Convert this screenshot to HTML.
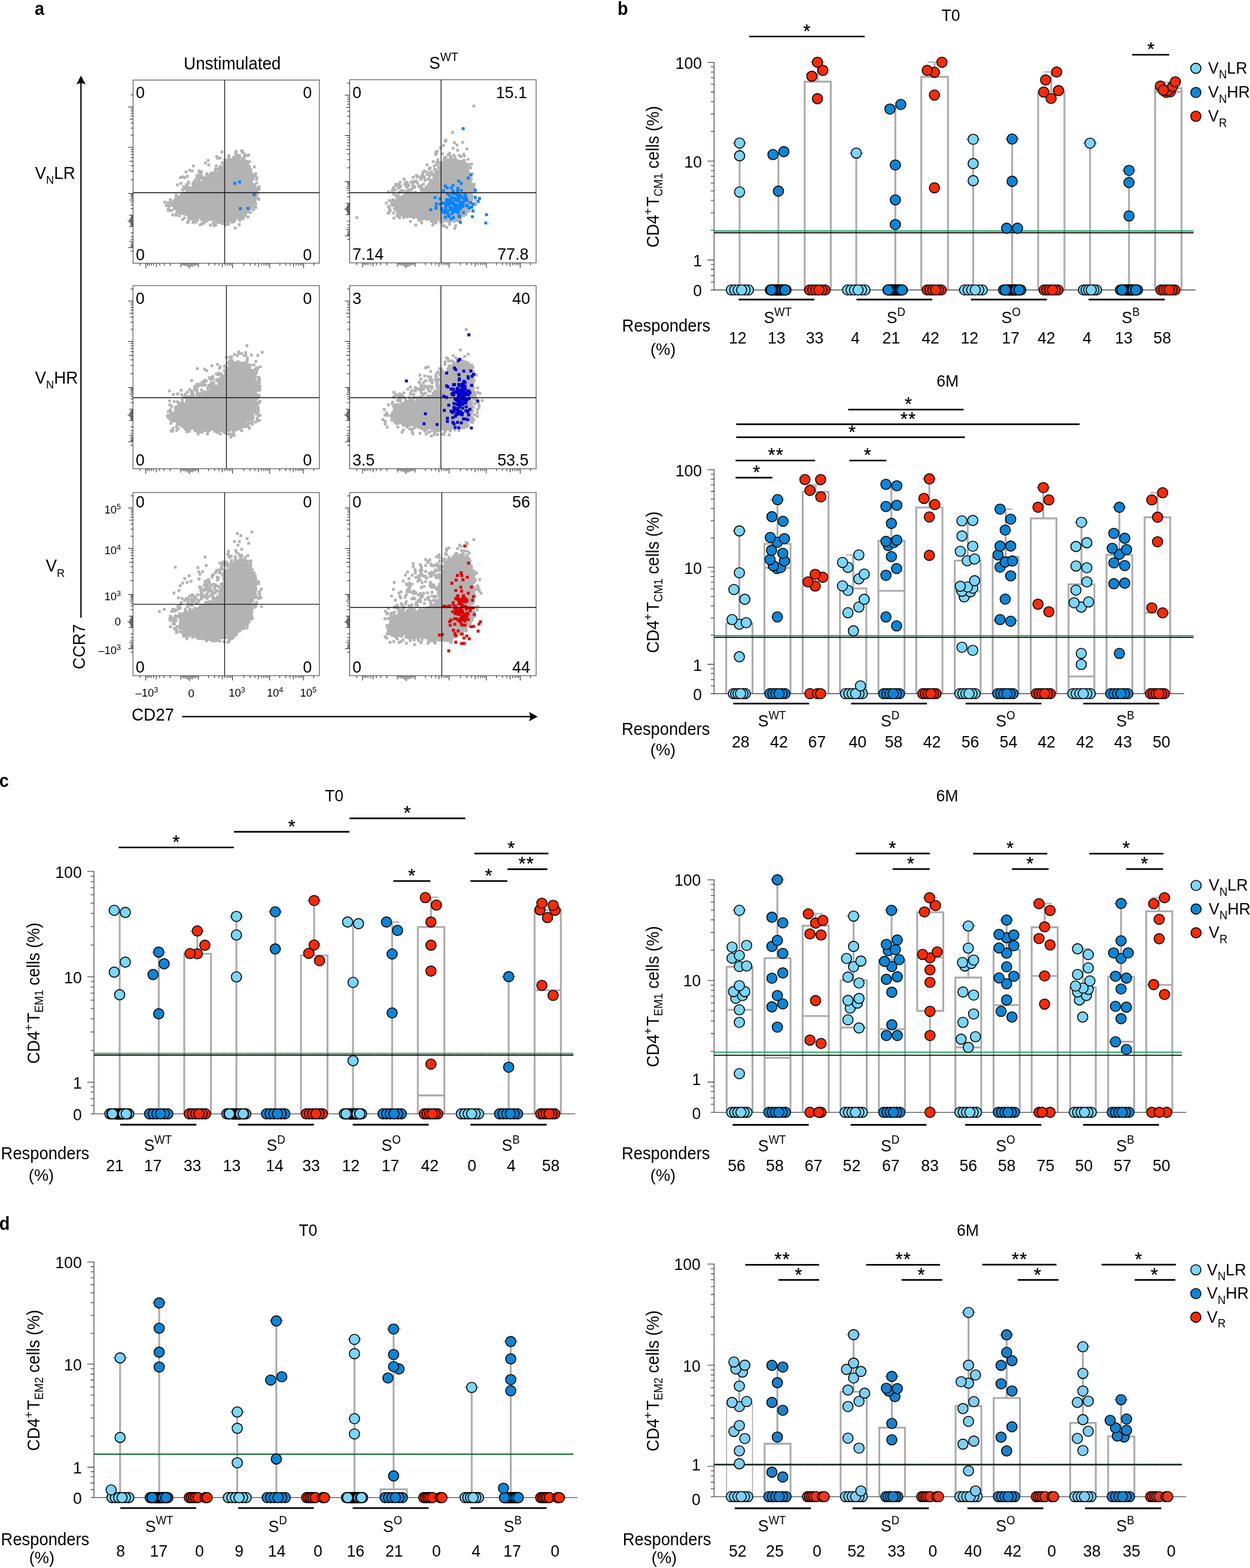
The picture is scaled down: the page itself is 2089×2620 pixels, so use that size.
<!DOCTYPE html>
<html lang="en"><head><meta charset="utf-8"><title>Figure</title>
<style>html,body{margin:0;padding:0;background:#fff}svg{display:block}text{font-family:'Liberation Sans', sans-serif;fill:#000}</style>
</head><body>
<svg width="2089" height="2620" viewBox="0 0 2089 2620">
<rect width="2089" height="2620" fill="#fff"/>
<text transform="translate(58 24.6) scale(0.9 0.98)" font-size="32" font-weight="bold">a</text>
<text transform="translate(1032 24.6) scale(0.9 0.98)" font-size="32" font-weight="bold">b</text>
<text transform="translate(-1.3 1314.6) scale(0.9 0.98)" font-size="32" font-weight="bold">c</text>
<text transform="translate(-1.3 2055) scale(0.9 0.98)" font-size="32" font-weight="bold">d</text>
<g id="f1">
<path d="M289.1 341.8L303.6 327.2L321.1 312.7L341.4 301.1L361.8 289.4L373.4 280.7L382.1 269.1L393.8 266.2L408.3 269.1L415.6 280.7L418.5 301.1L422.9 315.6L423.4 330.1L417.6 346.1L407.7 356.9L396.7 363.6L379.2 367.4L356 367.4L332.7 363.6L312.3 358.4L299.2 352ZM284.3 340.2h4.7v4.7h-4.7zM288.7 338.4h4.7v4.7h-4.7zM285.7 337.7h4.7v4.7h-4.7zM289.3 340h4.7v4.7h-4.7zM287.5 333.6h4.7v4.7h-4.7zM291.4 337.1h4.7v4.7h-4.7zM294.6 336.5h4.7v4.7h-4.7zM291.4 334h4.7v4.7h-4.7zM298.3 332.4h4.7v4.7h-4.7zM291.6 330.7h4.7v4.7h-4.7zM295 331.6h4.7v4.7h-4.7zM294.1 331.2h4.7v4.7h-4.7zM297 331.1h4.7v4.7h-4.7zM298.6 330.2h4.7v4.7h-4.7zM294.4 329.5h4.7v4.7h-4.7zM295.2 327.8h4.7v4.7h-4.7zM296.7 326.5h4.7v4.7h-4.7zM298.1 326.9h4.7v4.7h-4.7zM307.9 324.8h4.7v4.7h-4.7zM302.9 322.2h4.7v4.7h-4.7zM302.4 324.8h4.7v4.7h-4.7zM302.8 324.2h4.7v4.7h-4.7zM305 320h4.7v4.7h-4.7zM305.9 320.4h4.7v4.7h-4.7zM310.2 319.5h4.7v4.7h-4.7zM307.9 320.5h4.7v4.7h-4.7zM310.1 317.9h4.7v4.7h-4.7zM310.2 318.8h4.7v4.7h-4.7zM312.5 318.9h4.7v4.7h-4.7zM310.3 316.1h4.7v4.7h-4.7zM313.3 317.1h4.7v4.7h-4.7zM315 315.4h4.7v4.7h-4.7zM314.6 315.7h4.7v4.7h-4.7zM314 315.1h4.7v4.7h-4.7zM315.6 312.1h4.7v4.7h-4.7zM313.2 312.5h4.7v4.7h-4.7zM318.1 314.8h4.7v4.7h-4.7zM318.9 313.9h4.7v4.7h-4.7zM320.3 311.7h4.7v4.7h-4.7zM319.1 311.9h4.7v4.7h-4.7zM324.3 308.5h4.7v4.7h-4.7zM319.4 313.1h4.7v4.7h-4.7zM323.3 310h4.7v4.7h-4.7zM324.5 305.7h4.7v4.7h-4.7zM329.7 310.4h4.7v4.7h-4.7zM325.2 308.4h4.7v4.7h-4.7zM327.1 303.9h4.7v4.7h-4.7zM326.6 306.4h4.7v4.7h-4.7zM331.1 305.9h4.7v4.7h-4.7zM329 307.2h4.7v4.7h-4.7zM329.4 304.9h4.7v4.7h-4.7zM333.1 302.8h4.7v4.7h-4.7zM329.4 300.4h4.7v4.7h-4.7zM333.4 303.3h4.7v4.7h-4.7zM338.1 299h4.7v4.7h-4.7zM335 302.3h4.7v4.7h-4.7zM336.7 295.1h4.7v4.7h-4.7zM338.6 304.5h4.7v4.7h-4.7zM341.1 296.9h4.7v4.7h-4.7zM338.2 299.2h4.7v4.7h-4.7zM346.1 298.8h4.7v4.7h-4.7zM341.3 300.7h4.7v4.7h-4.7zM343 300.1h4.7v4.7h-4.7zM341.8 295.4h4.7v4.7h-4.7zM346.6 298.1h4.7v4.7h-4.7zM346.5 295.8h4.7v4.7h-4.7zM343.6 292.6h4.7v4.7h-4.7zM346 293h4.7v4.7h-4.7zM350.4 292.2h4.7v4.7h-4.7zM350.8 293.1h4.7v4.7h-4.7zM350.6 292h4.7v4.7h-4.7zM352.1 293.4h4.7v4.7h-4.7zM352.4 290.1h4.7v4.7h-4.7zM350.6 293.8h4.7v4.7h-4.7zM358.3 289h4.7v4.7h-4.7zM354.4 286.9h4.7v4.7h-4.7zM357.7 288.7h4.7v4.7h-4.7zM361.8 288.7h4.7v4.7h-4.7zM357.9 282.2h4.7v4.7h-4.7zM362.2 287.5h4.7v4.7h-4.7zM358.2 286h4.7v4.7h-4.7zM358.2 292.6h4.7v4.7h-4.7zM365.5 285.3h4.7v4.7h-4.7zM363 279.9h4.7v4.7h-4.7zM365 279.6h4.7v4.7h-4.7zM366.4 278.4h4.7v4.7h-4.7zM365.4 283.7h4.7v4.7h-4.7zM370.5 278.9h4.7v4.7h-4.7zM366.1 281.6h4.7v4.7h-4.7zM370.8 277.8h4.7v4.7h-4.7zM369.7 277h4.7v4.7h-4.7zM368.7 277h4.7v4.7h-4.7zM375 277.8h4.7v4.7h-4.7zM376.6 276.2h4.7v4.7h-4.7zM373.7 272.5h4.7v4.7h-4.7zM373.7 271.8h4.7v4.7h-4.7zM371.9 273.9h4.7v4.7h-4.7zM378.3 274.2h4.7v4.7h-4.7zM379.5 271.1h4.7v4.7h-4.7zM375.4 270.8h4.7v4.7h-4.7zM377.6 266.4h4.7v4.7h-4.7zM375 265.7h4.7v4.7h-4.7zM379.8 267h4.7v4.7h-4.7zM378.8 269.6h4.7v4.7h-4.7zM382.5 267.3h4.7v4.7h-4.7zM384.6 264.5h4.7v4.7h-4.7zM380.5 267.1h4.7v4.7h-4.7zM383.1 268.2h4.7v4.7h-4.7zM387.4 267h4.7v4.7h-4.7zM388.3 260.8h4.7v4.7h-4.7zM390.5 263h4.7v4.7h-4.7zM387.6 263.5h4.7v4.7h-4.7zM393 265.6h4.7v4.7h-4.7zM393.4 260.5h4.7v4.7h-4.7zM392.7 259.5h4.7v4.7h-4.7zM393.6 265.5h4.7v4.7h-4.7zM394.7 265.3h4.7v4.7h-4.7zM396.7 266.8h4.7v4.7h-4.7zM397.1 263.6h4.7v4.7h-4.7zM397.2 268.8h4.7v4.7h-4.7zM403.3 265.5h4.7v4.7h-4.7zM401.6 266h4.7v4.7h-4.7zM404 265.8h4.7v4.7h-4.7zM402.9 263.7h4.7v4.7h-4.7zM404.7 270h4.7v4.7h-4.7zM407 266.8h4.7v4.7h-4.7zM406.8 268.8h4.7v4.7h-4.7zM407.9 267.4h4.7v4.7h-4.7zM408.8 271.1h4.7v4.7h-4.7zM406.9 269h4.7v4.7h-4.7zM407.6 270.4h4.7v4.7h-4.7zM411.4 267.8h4.7v4.7h-4.7zM410.3 273.2h4.7v4.7h-4.7zM409.6 274.7h4.7v4.7h-4.7zM414.3 276.6h4.7v4.7h-4.7zM411.7 275.2h4.7v4.7h-4.7zM413 280.2h4.7v4.7h-4.7zM412.5 276.1h4.7v4.7h-4.7zM411 278.4h4.7v4.7h-4.7zM410.8 282.8h4.7v4.7h-4.7zM414.6 282.4h4.7v4.7h-4.7zM416.8 281.6h4.7v4.7h-4.7zM415.7 286.7h4.7v4.7h-4.7zM411.1 282h4.7v4.7h-4.7zM412.7 289.2h4.7v4.7h-4.7zM417.1 284.9h4.7v4.7h-4.7zM417 288.9h4.7v4.7h-4.7zM414.1 288.6h4.7v4.7h-4.7zM414.5 288.3h4.7v4.7h-4.7zM413.2 289.5h4.7v4.7h-4.7zM416.5 298.4h4.7v4.7h-4.7zM421 293.5h4.7v4.7h-4.7zM412.4 295.6h4.7v4.7h-4.7zM413.9 300.4h4.7v4.7h-4.7zM417.3 297.3h4.7v4.7h-4.7zM418 299.8h4.7v4.7h-4.7zM413.6 300.1h4.7v4.7h-4.7zM416.4 301.2h4.7v4.7h-4.7zM417.9 302.9h4.7v4.7h-4.7zM418 302.4h4.7v4.7h-4.7zM416.5 309h4.7v4.7h-4.7zM419.1 306.9h4.7v4.7h-4.7zM415.9 308.1h4.7v4.7h-4.7zM420.7 305.8h4.7v4.7h-4.7zM422 310h4.7v4.7h-4.7zM420.6 310.6h4.7v4.7h-4.7zM420.9 315.7h4.7v4.7h-4.7zM419.7 316.4h4.7v4.7h-4.7zM419 313.8h4.7v4.7h-4.7zM422 313.5h4.7v4.7h-4.7zM420 319.9h4.7v4.7h-4.7zM423.1 314.6h4.7v4.7h-4.7zM421.8 324.3h4.7v4.7h-4.7zM423.2 320h4.7v4.7h-4.7zM419.7 322.4h4.7v4.7h-4.7zM418.6 322.4h4.7v4.7h-4.7zM420.6 325.1h4.7v4.7h-4.7zM423.4 324.9h4.7v4.7h-4.7zM418.2 329.9h4.7v4.7h-4.7zM418.9 326.9h4.7v4.7h-4.7zM420 329.4h4.7v4.7h-4.7zM418.3 329.6h4.7v4.7h-4.7zM423.8 331.2h4.7v4.7h-4.7zM419.2 334.6h4.7v4.7h-4.7zM420.1 336.2h4.7v4.7h-4.7zM420.3 330.7h4.7v4.7h-4.7zM416 337.2h4.7v4.7h-4.7zM418.8 339.5h4.7v4.7h-4.7zM417.9 338.7h4.7v4.7h-4.7zM417 338.8h4.7v4.7h-4.7zM416.6 342.9h4.7v4.7h-4.7zM415.4 339.9h4.7v4.7h-4.7zM413.6 346h4.7v4.7h-4.7zM417.8 345.8h4.7v4.7h-4.7zM415.3 347.3h4.7v4.7h-4.7zM413.6 346.9h4.7v4.7h-4.7zM409.9 347h4.7v4.7h-4.7zM410.5 348.8h4.7v4.7h-4.7zM409.2 349h4.7v4.7h-4.7zM411.1 351.9h4.7v4.7h-4.7zM407.1 349.1h4.7v4.7h-4.7zM410.3 348.8h4.7v4.7h-4.7zM407.9 351.6h4.7v4.7h-4.7zM406.8 349.1h4.7v4.7h-4.7zM406.8 353.6h4.7v4.7h-4.7zM403.6 358.7h4.7v4.7h-4.7zM404.6 362.9h4.7v4.7h-4.7zM404 355.2h4.7v4.7h-4.7zM401.2 360.4h4.7v4.7h-4.7zM400.9 358.1h4.7v4.7h-4.7zM399.8 356.7h4.7v4.7h-4.7zM399 357.6h4.7v4.7h-4.7zM394.1 361.7h4.7v4.7h-4.7zM397.9 360.1h4.7v4.7h-4.7zM392.5 357.2h4.7v4.7h-4.7zM395.3 361h4.7v4.7h-4.7zM388.8 361.6h4.7v4.7h-4.7zM389.1 361.7h4.7v4.7h-4.7zM390.3 362.9h4.7v4.7h-4.7zM390.4 362.5h4.7v4.7h-4.7zM385.5 361.9h4.7v4.7h-4.7zM386.8 362.2h4.7v4.7h-4.7zM386.1 364.4h4.7v4.7h-4.7zM388.9 358h4.7v4.7h-4.7zM384.2 363.2h4.7v4.7h-4.7zM388 365.5h4.7v4.7h-4.7zM377.9 364.9h4.7v4.7h-4.7zM380.2 366.1h4.7v4.7h-4.7zM377 364.4h4.7v4.7h-4.7zM378.8 364.4h4.7v4.7h-4.7zM375.7 361.4h4.7v4.7h-4.7zM377.8 367h4.7v4.7h-4.7zM374.4 363h4.7v4.7h-4.7zM375 366.2h4.7v4.7h-4.7zM371.9 365h4.7v4.7h-4.7zM375 362.8h4.7v4.7h-4.7zM368.8 361.2h4.7v4.7h-4.7zM368.5 363.5h4.7v4.7h-4.7zM365.7 363.6h4.7v4.7h-4.7zM371.2 364.6h4.7v4.7h-4.7zM365 369.4h4.7v4.7h-4.7zM365.1 361.6h4.7v4.7h-4.7zM363.7 363.2h4.7v4.7h-4.7zM366.2 362.5h4.7v4.7h-4.7zM359.4 361.8h4.7v4.7h-4.7zM360.8 363h4.7v4.7h-4.7zM358.1 364.3h4.7v4.7h-4.7zM357 366.9h4.7v4.7h-4.7zM357.8 365.2h4.7v4.7h-4.7zM354.1 362.9h4.7v4.7h-4.7zM354.2 369.8h4.7v4.7h-4.7zM352.7 363.5h4.7v4.7h-4.7zM349.9 362.5h4.7v4.7h-4.7zM349.3 364.2h4.7v4.7h-4.7zM351.8 364.3h4.7v4.7h-4.7zM347.9 361h4.7v4.7h-4.7zM347.1 363.8h4.7v4.7h-4.7zM344.2 361.7h4.7v4.7h-4.7zM344.2 365.5h4.7v4.7h-4.7zM345.6 363.9h4.7v4.7h-4.7zM341.3 363.8h4.7v4.7h-4.7zM342 367.5h4.7v4.7h-4.7zM337.4 362h4.7v4.7h-4.7zM342.2 362.2h4.7v4.7h-4.7zM340.2 362.3h4.7v4.7h-4.7zM337.6 361.6h4.7v4.7h-4.7zM332.2 360.1h4.7v4.7h-4.7zM339.4 363.3h4.7v4.7h-4.7zM333.9 363.5h4.7v4.7h-4.7zM333.8 363.7h4.7v4.7h-4.7zM329.8 360.8h4.7v4.7h-4.7zM332.3 360.5h4.7v4.7h-4.7zM325.4 360.2h4.7v4.7h-4.7zM327 361.9h4.7v4.7h-4.7zM324.4 358h4.7v4.7h-4.7zM325.2 363.2h4.7v4.7h-4.7zM323.5 359.8h4.7v4.7h-4.7zM323.6 360.1h4.7v4.7h-4.7zM323.2 361.7h4.7v4.7h-4.7zM318 361.6h4.7v4.7h-4.7zM319 357.7h4.7v4.7h-4.7zM323.8 358h4.7v4.7h-4.7zM320.7 359.7h4.7v4.7h-4.7zM314.7 358.7h4.7v4.7h-4.7zM316 356.9h4.7v4.7h-4.7zM309.9 356.5h4.7v4.7h-4.7zM311.9 354.4h4.7v4.7h-4.7zM315.9 356.1h4.7v4.7h-4.7zM309.2 355.4h4.7v4.7h-4.7zM308.4 354.5h4.7v4.7h-4.7zM308 355.6h4.7v4.7h-4.7zM306.8 354.8h4.7v4.7h-4.7zM302.8 354.9h4.7v4.7h-4.7zM304.1 354.3h4.7v4.7h-4.7zM301.6 351.8h4.7v4.7h-4.7zM303.9 350.4h4.7v4.7h-4.7zM306.2 351.7h4.7v4.7h-4.7zM301.1 350.3h4.7v4.7h-4.7zM302.3 353.4h4.7v4.7h-4.7zM299.7 347.9h4.7v4.7h-4.7zM295.9 350.8h4.7v4.7h-4.7zM295.9 347.2h4.7v4.7h-4.7zM292.8 346.4h4.7v4.7h-4.7zM295.2 346.6h4.7v4.7h-4.7zM293.5 351.8h4.7v4.7h-4.7zM297 344.1h4.7v4.7h-4.7zM292.5 344.7h4.7v4.7h-4.7zM291.5 346.6h4.7v4.7h-4.7zM289.4 342.2h4.7v4.7h-4.7zM289.4 342.6h4.7v4.7h-4.7zM291 342.7h4.7v4.7h-4.7zM285.7 340.2h4.7v4.7h-4.7zM406.3 259h4.7v4.7h-4.7zM415.3 281.8h4.7v4.7h-4.7zM330.7 296.8h4.7v4.7h-4.7zM398.2 260.3h4.7v4.7h-4.7zM390.1 366.9h4.7v4.7h-4.7zM385.5 369h4.7v4.7h-4.7zM290.5 334.1h4.7v4.7h-4.7zM365.6 368.3h4.7v4.7h-4.7zM367.3 278.6h4.7v4.7h-4.7zM425.3 312.4h4.7v4.7h-4.7zM369.1 269.8h4.7v4.7h-4.7zM296.3 350.1h4.7v4.7h-4.7zM338.9 369.3h4.7v4.7h-4.7zM297.4 358.2h4.7v4.7h-4.7zM404.5 261.3h4.7v4.7h-4.7zM287.3 338h4.7v4.7h-4.7zM333.9 292.6h4.7v4.7h-4.7zM423.3 331.3h4.7v4.7h-4.7zM420.8 296.5h4.7v4.7h-4.7zM291.8 357.2h4.7v4.7h-4.7zM415.7 280.8h4.7v4.7h-4.7zM359.8 259.2h4.7v4.7h-4.7zM278.2 337.1h4.7v4.7h-4.7zM425.6 327.8h4.7v4.7h-4.7zM362.7 367.7h4.7v4.7h-4.7zM416.8 291.2h4.7v4.7h-4.7zM362.8 367.5h4.7v4.7h-4.7zM358.2 373.7h4.7v4.7h-4.7zM302.8 364.5h4.7v4.7h-4.7zM289.1 344.3h4.7v4.7h-4.7zM422.2 307.5h4.7v4.7h-4.7zM300.9 322h4.7v4.7h-4.7zM309.9 313.3h4.7v4.7h-4.7zM286.3 356.7h4.7v4.7h-4.7zM391.3 254.4h4.7v4.7h-4.7zM414.6 267.8h4.7v4.7h-4.7zM319.9 304.8h4.7v4.7h-4.7zM366.7 365.3h4.7v4.7h-4.7zM306.5 310.5h4.7v4.7h-4.7zM330.2 285.2h4.7v4.7h-4.7zM419.9 342.9h4.7v4.7h-4.7zM387.9 368h4.7v4.7h-4.7zM323.7 299.6h4.7v4.7h-4.7zM379.4 369.6h4.7v4.7h-4.7zM347.2 291.9h4.7v4.7h-4.7zM353.3 289.7h4.7v4.7h-4.7zM327.6 365.3h4.7v4.7h-4.7zM357.6 280.3h4.7v4.7h-4.7zM288.5 341.5h4.7v4.7h-4.7zM407 357.7h4.7v4.7h-4.7zM280 342.6h4.7v4.7h-4.7zM312.4 313.2h4.7v4.7h-4.7zM330.7 283.2h4.7v4.7h-4.7zM312.2 368.3h4.7v4.7h-4.7zM364.4 279h4.7v4.7h-4.7zM423.8 291.4h4.7v4.7h-4.7zM370.8 365.4h4.7v4.7h-4.7zM405.6 264.6h4.7v4.7h-4.7zM370.9 367.3h4.7v4.7h-4.7zM422.7 329.1h4.7v4.7h-4.7zM321.8 302.7h4.7v4.7h-4.7zM317.7 363.5h4.7v4.7h-4.7zM312.4 304.3h4.7v4.7h-4.7zM390.8 260.2h4.7v4.7h-4.7zM292.1 323.6h4.7v4.7h-4.7zM427.4 318h4.7v4.7h-4.7zM426.4 303.4h4.7v4.7h-4.7zM419.2 292.3h4.7v4.7h-4.7zM331.7 290.4h4.7v4.7h-4.7zM392.8 256.2h4.7v4.7h-4.7zM281.2 349.2h4.7v4.7h-4.7zM420.5 332.9h4.7v4.7h-4.7zM420.7 313.9h4.7v4.7h-4.7zM289 346.4h4.7v4.7h-4.7zM365.9 275.7h4.7v4.7h-4.7zM364.2 282.9h4.7v4.7h-4.7zM424.3 343.3h4.7v4.7h-4.7zM314.5 281.9h4.7v4.7h-4.7zM358.1 282.5h4.7v4.7h-4.7zM309.5 308.5h4.7v4.7h-4.7zM422.6 335.3h4.7v4.7h-4.7zM427.8 322.7h4.7v4.7h-4.7zM370.3 371.4h4.7v4.7h-4.7zM355.2 374.8h4.7v4.7h-4.7zM401.4 249.4h4.7v4.7h-4.7zM337.4 293.2h4.7v4.7h-4.7zM313 364.1h4.7v4.7h-4.7zM284.7 349.2h4.7v4.7h-4.7zM380.7 364.8h4.7v4.7h-4.7zM424 308.7h4.7v4.7h-4.7zM356.4 373.2h4.7v4.7h-4.7zM346.6 273.2h4.7v4.7h-4.7zM325.4 368.9h4.7v4.7h-4.7zM423.5 313.4h4.7v4.7h-4.7zM318.7 359.4h4.7v4.7h-4.7zM311.2 369.6h4.7v4.7h-4.7zM282.5 336.6h4.7v4.7h-4.7zM397.8 363.6h4.7v4.7h-4.7zM423.1 332.9h4.7v4.7h-4.7zM333.7 295.5h4.7v4.7h-4.7zM297.9 353.4h4.7v4.7h-4.7zM310.8 292.1h4.7v4.7h-4.7zM424 333h4.7v4.7h-4.7zM279.6 342.3h4.7v4.7h-4.7zM336 365.4h4.7v4.7h-4.7zM370.3 278.2h4.7v4.7h-4.7zM377.3 268.7h4.7v4.7h-4.7zM348 290.3h4.7v4.7h-4.7zM365.5 261.7h4.7v4.7h-4.7zM410.1 257.5h4.7v4.7h-4.7zM275.5 340.5h4.7v4.7h-4.7zM329.1 296.4h4.7v4.7h-4.7zM318.9 283.4h4.7v4.7h-4.7zM398.3 366.1h4.7v4.7h-4.7zM321.7 362.1h4.7v4.7h-4.7zM425.4 322.4h4.7v4.7h-4.7zM393.5 256.8h4.7v4.7h-4.7zM313.7 357.6h4.7v4.7h-4.7zM380.1 257.9h4.7v4.7h-4.7zM368.4 369.2h4.7v4.7h-4.7zM303.1 293.2h4.7v4.7h-4.7zM385.2 368.1h4.7v4.7h-4.7zM282.1 331.6h4.7v4.7h-4.7zM323 301.3h4.7v4.7h-4.7zM370.8 270.5h4.7v4.7h-4.7zM290.2 333.2h4.7v4.7h-4.7zM388.7 365h4.7v4.7h-4.7zM343.3 287.9h4.7v4.7h-4.7zM414.3 277.2h4.7v4.7h-4.7zM295.2 351.4h4.7v4.7h-4.7zM416.2 352.8h4.7v4.7h-4.7zM320.3 369.3h4.7v4.7h-4.7zM423.9 330.2h4.7v4.7h-4.7zM419.6 288.9h4.7v4.7h-4.7zM292.3 355h4.7v4.7h-4.7zM361.3 262h4.7v4.7h-4.7zM407.4 354.4h4.7v4.7h-4.7zM304.7 309.8h4.7v4.7h-4.7zM380.2 263.2h4.7v4.7h-4.7zM320.6 308.4h4.7v4.7h-4.7zM332.6 284.6h4.7v4.7h-4.7zM332.2 373.4h4.7v4.7h-4.7zM321.3 364.9h4.7v4.7h-4.7zM412.8 351h4.7v4.7h-4.7zM379.7 263.6h4.7v4.7h-4.7zM415.8 283.7h4.7v4.7h-4.7zM407.9 356.7h4.7v4.7h-4.7zM406.2 255h4.7v4.7h-4.7zM418.2 337.8h4.7v4.7h-4.7zM328.8 293.7h4.7v4.7h-4.7zM417.9 336.7h4.7v4.7h-4.7zM430.6 309.4h4.7v4.7h-4.7zM292.1 327.5h4.7v4.7h-4.7zM415.4 287.4h4.7v4.7h-4.7zM276.6 340.9h4.7v4.7h-4.7zM290.8 343.6h4.7v4.7h-4.7zM356.3 285.3h4.7v4.7h-4.7zM425 288h4.7v4.7h-4.7zM286.5 340.1h4.7v4.7h-4.7zM422.8 276.6h4.7v4.7h-4.7zM290.5 333.4h4.7v4.7h-4.7zM306.7 294.5h4.7v4.7h-4.7zM424.5 315.5h4.7v4.7h-4.7zM337.6 371.1h4.7v4.7h-4.7zM401.3 363.3h4.7v4.7h-4.7zM424.8 325.5h4.7v4.7h-4.7zM294.9 348.1h4.7v4.7h-4.7zM421.8 330.7h4.7v4.7h-4.7zM360.6 280.1h4.7v4.7h-4.7zM300.7 352.6h4.7v4.7h-4.7zM427.3 312.2h4.7v4.7h-4.7zM350.2 287h4.7v4.7h-4.7zM309.2 306.5h4.7v4.7h-4.7zM313.1 361.9h4.7v4.7h-4.7zM417.8 337.4h4.7v4.7h-4.7zM359 274.9h4.7v4.7h-4.7zM301.7 322.7h4.7v4.7h-4.7zM419.6 339.3h4.7v4.7h-4.7zM312.7 302.1h4.7v4.7h-4.7zM372.9 264.7h4.7v4.7h-4.7zM426.5 297.4h4.7v4.7h-4.7zM279.4 349.6h4.7v4.7h-4.7zM383.6 365.2h4.7v4.7h-4.7zM322.4 307.9h4.7v4.7h-4.7zM403.9 358.4h4.7v4.7h-4.7zM411.9 272.8h4.7v4.7h-4.7zM425 338.2h4.7v4.7h-4.7zM423.2 310.4h4.7v4.7h-4.7zM313 310.8h4.7v4.7h-4.7zM416 294.8h4.7v4.7h-4.7zM325.7 296.6h4.7v4.7h-4.7zM379.4 372.4h4.7v4.7h-4.7zM380.1 261.4h4.7v4.7h-4.7zM355.5 287.3h4.7v4.7h-4.7zM422.7 319.9h4.7v4.7h-4.7zM305.5 313.3h4.7v4.7h-4.7zM420.5 334.2h4.7v4.7h-4.7zM290.9 346.7h4.7v4.7h-4.7zM389.4 263.8h4.7v4.7h-4.7zM392.3 250.5h4.7v4.7h-4.7zM398 257.5h4.7v4.7h-4.7zM326.7 291.2h4.7v4.7h-4.7zM280 348.6h4.7v4.7h-4.7zM336 295.1h4.7v4.7h-4.7zM421.3 330.5h4.7v4.7h-4.7zM360.6 279.9h4.7v4.7h-4.7zM299.9 304.1h4.7v4.7h-4.7zM357.6 372.5h4.7v4.7h-4.7zM302.6 314.9h4.7v4.7h-4.7zM425.2 344.2h4.7v4.7h-4.7zM402.5 265.4h4.7v4.7h-4.7zM374.6 373.9h4.7v4.7h-4.7zM388.1 261.2h4.7v4.7h-4.7zM322.5 303.5h4.7v4.7h-4.7zM292.5 329.9h4.7v4.7h-4.7zM294.1 306.5h4.7v4.7h-4.7zM291 330.5h4.7v4.7h-4.7zM376.8 370.6h4.7v4.7h-4.7zM382 365.5h4.7v4.7h-4.7zM429.7 329.4h4.7v4.7h-4.7zM328 291.3h4.7v4.7h-4.7zM397.4 373h4.7v4.7h-4.7zM341 269.9h4.7v4.7h-4.7zM337.9 367.9h4.7v4.7h-4.7zM412.1 360.3h4.7v4.7h-4.7zM334.5 285.2h4.7v4.7h-4.7zM421.6 348.2h4.7v4.7h-4.7zM360.1 369.1h4.7v4.7h-4.7zM323.4 368.5h4.7v4.7h-4.7zM402.8 252.3h4.7v4.7h-4.7zM300.7 323.7h4.7v4.7h-4.7zM426 313.4h4.7v4.7h-4.7zM290.3 344.9h4.7v4.7h-4.7zM422.5 307h4.7v4.7h-4.7zM353.9 287.3h4.7v4.7h-4.7zM293 330h4.7v4.7h-4.7zM330.1 294.2h4.7v4.7h-4.7zM418.9 307.1h4.7v4.7h-4.7zM333.2 289.1h4.7v4.7h-4.7zM320.8 303.8h4.7v4.7h-4.7zM305.9 361.9h4.7v4.7h-4.7zM414.9 280h4.7v4.7h-4.7zM273 335.4h4.7v4.7h-4.7zM278.6 347.6h4.7v4.7h-4.7zM299.5 294.3h4.7v4.7h-4.7zM308.5 285h4.7v4.7h-4.7zM321 274.9h4.7v4.7h-4.7zM345.5 265.8h4.7v4.7h-4.7zM368.7 251.6h4.7v4.7h-4.7zM403.1 250.7h4.7v4.7h-4.7zM413.2 257.1h4.7v4.7h-4.7zM426.9 294.3h4.7v4.7h-4.7zM430.7 313.8h4.7v4.7h-4.7zM430.1 330.7h4.7v4.7h-4.7zM390.8 378.7h4.7v4.7h-4.7zM349.2 373.8h4.7v4.7h-4.7zM334.7 371.4h4.7v4.7h-4.7z" fill="#b3b3b3"/>
<path d="M389.9 303.8h4.9v4.9h-4.9zM398 301.5h4.9v4.9h-4.9zM422.4 322.8h4.9v4.9h-4.9zM399.2 346h4.9v4.9h-4.9zM412 345.7h4.9v4.9h-4.9z" fill="#0a84ff"/>
<rect x="222.4" y="133.8" width="311.3" height="306.1" fill="none" stroke="#444" stroke-width="1.1"/>
<path d="M375.5 133.8V439.9M222.4 322H533.7" stroke="#111" stroke-width="1.3" fill="none"/>
<path d="M243.8 439.9v8M388.7 439.9v8M450.8 439.9v8M507.4 439.9v8M302.1 439.9v6.5M331.8 439.9v6.5M407.4 439.9v4M418.3 439.9v4M426.1 439.9v4M432.1 439.9v6M437 439.9v4M441.2 439.9v4M444.8 439.9v4M448 439.9v4M467.8 439.9v4M477.8 439.9v4M484.9 439.9v4M490.4 439.9v6M494.8 439.9v4M498.6 439.9v4M501.9 439.9v4M504.8 439.9v4M348.9 439.9v4M358.9 439.9v4M366.1 439.9v4M371.6 439.9v6M376.1 439.9v4M379.9 439.9v4M383.2 439.9v4M386.1 439.9v4M284.5 439.9v4M274.3 439.9v4M267 439.9v4M261.4 439.9v6M256.7 439.9v4M252.8 439.9v4M249.4 439.9v4M246.5 439.9v4M524.4 439.9v4M234.1 439.9v4M304.5 439.9v3.5M307 439.9v4.3M309.4 439.9v4.3M311.9 439.9v5.3M314.4 439.9v6.7M316.9 439.9v9M319.4 439.9v5.9M321.9 439.9v5.9M324.4 439.9v4.3M326.8 439.9v4.1M329.3 439.9v3.5M222.4 413.8h-8M222.4 323.3h-8M222.4 246.2h-8M222.4 178.8h-8M222.4 378.4h-6.5M222.4 359.5h-6.5M222.4 300.1h-4M222.4 286.5h-4M222.4 276.9h-4M222.4 269.4h-6M222.4 263.3h-4M222.4 258.1h-4M222.4 253.7h-4M222.4 249.7h-4M222.4 225.9h-4M222.4 214h-4M222.4 205.6h-4M222.4 199.1h-6M222.4 193.8h-4M222.4 189.2h-4M222.4 185.3h-4M222.4 181.9h-4M222.4 348.6h-4M222.4 342.2h-4M222.4 337.7h-4M222.4 334.2h-6M222.4 331.3h-4M222.4 328.9h-4M222.4 326.8h-4M222.4 325h-4M222.4 389.1h-4M222.4 395.3h-4M222.4 399.7h-4M222.4 403.1h-6M222.4 405.9h-4M222.4 408.3h-4M222.4 410.4h-4M222.4 412.2h-4M222.4 158.5h-4M222.4 419.7h-4M222.4 376.9h-3.5M222.4 375.3h-4.3M222.4 373.8h-4.3M222.4 372.2h-5.3M222.4 370.6h-6.7M222.4 369h-9M222.4 367.4h-5.9M222.4 365.8h-5.9M222.4 364.2h-4.3M222.4 362.7h-4.1M222.4 361.1h-3.5" stroke="#111" stroke-width="1" fill="none"/>
<text transform="translate(226.9 164.1) scale(1 1.05)" font-size="26.9">0</text>
<text transform="translate(521.2 164.1) scale(1 1.05)" font-size="26.9" text-anchor="end">0</text>
<text transform="translate(226.9 434.7) scale(1 1.05)" font-size="26.9">0</text>
<text transform="translate(521.2 434.7) scale(1 1.05)" font-size="26.9" text-anchor="end">0</text>
</g>
<g id="f2">
<path d="M658.9 341.8L664.7 333.1L679.3 327.2L699.6 322.9L717.1 312.7L728.7 295.2L734.5 279.2L749.1 269.1L769.4 270.5L779.6 280.7L782.5 301.1L785.4 321.4L786.9 341.8L779.6 350.5L769.4 357.8L757.8 365L740.3 368L722.9 368L699.6 362.7L682.2 359.8L666.2 354.9ZM653.7 339.9h4.7v4.7h-4.7zM656 338.5h4.7v4.7h-4.7zM659.9 337.4h4.7v4.7h-4.7zM657.5 340.9h4.7v4.7h-4.7zM658.5 332.5h4.7v4.7h-4.7zM656.7 334h4.7v4.7h-4.7zM662.2 334.6h4.7v4.7h-4.7zM663.2 336.6h4.7v4.7h-4.7zM665.8 332h4.7v4.7h-4.7zM665.1 332.1h4.7v4.7h-4.7zM663.4 331.6h4.7v4.7h-4.7zM664.7 329.5h4.7v4.7h-4.7zM670.6 330.7h4.7v4.7h-4.7zM665.6 329h4.7v4.7h-4.7zM673.4 327.8h4.7v4.7h-4.7zM670.2 329.6h4.7v4.7h-4.7zM671.8 328.7h4.7v4.7h-4.7zM669.8 326.6h4.7v4.7h-4.7zM672.5 325.9h4.7v4.7h-4.7zM674.5 329.8h4.7v4.7h-4.7zM673.1 326.9h4.7v4.7h-4.7zM673 324.4h4.7v4.7h-4.7zM676.5 325.2h4.7v4.7h-4.7zM676.1 319.7h4.7v4.7h-4.7zM682.1 324h4.7v4.7h-4.7zM678 325.9h4.7v4.7h-4.7zM680.3 321.1h4.7v4.7h-4.7zM682.5 324.9h4.7v4.7h-4.7zM682.1 325.2h4.7v4.7h-4.7zM684.6 321.2h4.7v4.7h-4.7zM689.6 323.6h4.7v4.7h-4.7zM683.8 324h4.7v4.7h-4.7zM688.6 324.5h4.7v4.7h-4.7zM685.6 324.7h4.7v4.7h-4.7zM692.5 323.5h4.7v4.7h-4.7zM691.8 324.8h4.7v4.7h-4.7zM694.3 321.9h4.7v4.7h-4.7zM691.2 323.9h4.7v4.7h-4.7zM697.1 321.7h4.7v4.7h-4.7zM695.4 322.6h4.7v4.7h-4.7zM692.3 321.3h4.7v4.7h-4.7zM692.3 321.1h4.7v4.7h-4.7zM701.5 323.3h4.7v4.7h-4.7zM698.4 320.4h4.7v4.7h-4.7zM701.1 313.9h4.7v4.7h-4.7zM702.7 318.3h4.7v4.7h-4.7zM703.3 315.3h4.7v4.7h-4.7zM703.1 317.4h4.7v4.7h-4.7zM707.7 316.7h4.7v4.7h-4.7zM712.2 315.3h4.7v4.7h-4.7zM706.5 314.9h4.7v4.7h-4.7zM705.4 318h4.7v4.7h-4.7zM710.3 311.3h4.7v4.7h-4.7zM709.2 316.2h4.7v4.7h-4.7zM708.1 313h4.7v4.7h-4.7zM710.5 317.4h4.7v4.7h-4.7zM713.7 310.7h4.7v4.7h-4.7zM711.7 315.4h4.7v4.7h-4.7zM713.9 315.1h4.7v4.7h-4.7zM711.6 310h4.7v4.7h-4.7zM715.6 307.1h4.7v4.7h-4.7zM715.7 309.9h4.7v4.7h-4.7zM716.1 303.7h4.7v4.7h-4.7zM720.1 309.5h4.7v4.7h-4.7zM717.3 305.2h4.7v4.7h-4.7zM713.5 306.7h4.7v4.7h-4.7zM717.3 301.6h4.7v4.7h-4.7zM724.4 300.1h4.7v4.7h-4.7zM721.3 298.6h4.7v4.7h-4.7zM717.5 298.4h4.7v4.7h-4.7zM723.1 296.2h4.7v4.7h-4.7zM721.4 300.3h4.7v4.7h-4.7zM723.5 294.2h4.7v4.7h-4.7zM726.9 297.1h4.7v4.7h-4.7zM728 292.8h4.7v4.7h-4.7zM728.6 292.2h4.7v4.7h-4.7zM722.9 292.1h4.7v4.7h-4.7zM725.7 293.5h4.7v4.7h-4.7zM726.1 292h4.7v4.7h-4.7zM730 289.4h4.7v4.7h-4.7zM725.3 287.6h4.7v4.7h-4.7zM729.8 290.1h4.7v4.7h-4.7zM728.2 284.1h4.7v4.7h-4.7zM728.9 288.1h4.7v4.7h-4.7zM728.3 286.5h4.7v4.7h-4.7zM730.2 284.4h4.7v4.7h-4.7zM729.3 284.3h4.7v4.7h-4.7zM730.7 278.5h4.7v4.7h-4.7zM733.1 278.4h4.7v4.7h-4.7zM733.6 279.6h4.7v4.7h-4.7zM731 277.3h4.7v4.7h-4.7zM731.3 275.3h4.7v4.7h-4.7zM734.1 277.4h4.7v4.7h-4.7zM734.2 275.5h4.7v4.7h-4.7zM734.8 275.6h4.7v4.7h-4.7zM736.4 276.4h4.7v4.7h-4.7zM738.5 277.5h4.7v4.7h-4.7zM734.5 273.1h4.7v4.7h-4.7zM740.6 273.7h4.7v4.7h-4.7zM736.4 269.4h4.7v4.7h-4.7zM741.3 272.8h4.7v4.7h-4.7zM743.6 267.5h4.7v4.7h-4.7zM743.4 271.7h4.7v4.7h-4.7zM743.2 267.3h4.7v4.7h-4.7zM743.5 265.4h4.7v4.7h-4.7zM747.4 267.5h4.7v4.7h-4.7zM745.9 265h4.7v4.7h-4.7zM746.5 265h4.7v4.7h-4.7zM747.1 266.9h4.7v4.7h-4.7zM748.6 267.9h4.7v4.7h-4.7zM751.6 269.5h4.7v4.7h-4.7zM751.2 267.6h4.7v4.7h-4.7zM754 265.6h4.7v4.7h-4.7zM756 266.1h4.7v4.7h-4.7zM752.6 270h4.7v4.7h-4.7zM757.2 266.3h4.7v4.7h-4.7zM760 269.6h4.7v4.7h-4.7zM759.5 265.2h4.7v4.7h-4.7zM760.7 265.7h4.7v4.7h-4.7zM759.1 266.6h4.7v4.7h-4.7zM760.9 268.9h4.7v4.7h-4.7zM761 269.2h4.7v4.7h-4.7zM765.2 266.9h4.7v4.7h-4.7zM765.2 269.5h4.7v4.7h-4.7zM769.5 267.7h4.7v4.7h-4.7zM770.7 269.4h4.7v4.7h-4.7zM771.4 267.2h4.7v4.7h-4.7zM766.7 272.4h4.7v4.7h-4.7zM770.1 272.6h4.7v4.7h-4.7zM773 268.7h4.7v4.7h-4.7zM773.2 277.3h4.7v4.7h-4.7zM773.9 273.5h4.7v4.7h-4.7zM775.1 275.1h4.7v4.7h-4.7zM775.5 277.7h4.7v4.7h-4.7zM775.2 277.9h4.7v4.7h-4.7zM776.3 278.2h4.7v4.7h-4.7zM779 276.3h4.7v4.7h-4.7zM779.7 280.2h4.7v4.7h-4.7zM775.5 280.1h4.7v4.7h-4.7zM774.7 280.1h4.7v4.7h-4.7zM778.6 280.6h4.7v4.7h-4.7zM776.4 281.2h4.7v4.7h-4.7zM776.9 283.7h4.7v4.7h-4.7zM776.1 286.4h4.7v4.7h-4.7zM778.2 285.8h4.7v4.7h-4.7zM780.6 286.3h4.7v4.7h-4.7zM780.8 287.2h4.7v4.7h-4.7zM781.8 288.8h4.7v4.7h-4.7zM777.4 292.8h4.7v4.7h-4.7zM776.6 289.8h4.7v4.7h-4.7zM780.1 293.3h4.7v4.7h-4.7zM780.4 294.5h4.7v4.7h-4.7zM780.4 296.8h4.7v4.7h-4.7zM781.4 296.5h4.7v4.7h-4.7zM782.5 300.7h4.7v4.7h-4.7zM776.3 295.3h4.7v4.7h-4.7zM783.7 300.2h4.7v4.7h-4.7zM780.9 300.8h4.7v4.7h-4.7zM781.4 307.8h4.7v4.7h-4.7zM779.5 303.4h4.7v4.7h-4.7zM781.2 303.4h4.7v4.7h-4.7zM779.5 305h4.7v4.7h-4.7zM781.5 308.6h4.7v4.7h-4.7zM777.6 304.7h4.7v4.7h-4.7zM785.2 309.7h4.7v4.7h-4.7zM783.5 309.2h4.7v4.7h-4.7zM780.8 316.6h4.7v4.7h-4.7zM779.7 310.5h4.7v4.7h-4.7zM783.9 314.7h4.7v4.7h-4.7zM779.2 314.9h4.7v4.7h-4.7zM784.3 313.8h4.7v4.7h-4.7zM781.7 318.5h4.7v4.7h-4.7zM787 314.5h4.7v4.7h-4.7zM781.8 319.2h4.7v4.7h-4.7zM781.5 319.6h4.7v4.7h-4.7zM782.3 322.4h4.7v4.7h-4.7zM781.3 325.4h4.7v4.7h-4.7zM785.1 325.4h4.7v4.7h-4.7zM786.7 324.9h4.7v4.7h-4.7zM783.5 327.9h4.7v4.7h-4.7zM786.3 330.1h4.7v4.7h-4.7zM782.9 327.2h4.7v4.7h-4.7zM781.3 329.6h4.7v4.7h-4.7zM782.2 329.5h4.7v4.7h-4.7zM783.4 334.4h4.7v4.7h-4.7zM785.8 332.6h4.7v4.7h-4.7zM782 334.9h4.7v4.7h-4.7zM785.1 336.7h4.7v4.7h-4.7zM784.9 338.9h4.7v4.7h-4.7zM783.1 338.5h4.7v4.7h-4.7zM786.1 338.8h4.7v4.7h-4.7zM783.1 342h4.7v4.7h-4.7zM781.1 342.6h4.7v4.7h-4.7zM782.6 340.5h4.7v4.7h-4.7zM781.2 342.1h4.7v4.7h-4.7zM781.6 346.6h4.7v4.7h-4.7zM783.2 344.5h4.7v4.7h-4.7zM781.2 346.6h4.7v4.7h-4.7zM777.9 350.2h4.7v4.7h-4.7zM778.8 347.7h4.7v4.7h-4.7zM775.4 346h4.7v4.7h-4.7zM775.3 346.9h4.7v4.7h-4.7zM777.4 349h4.7v4.7h-4.7zM777.1 348.8h4.7v4.7h-4.7zM771.3 351.5h4.7v4.7h-4.7zM772.5 347.8h4.7v4.7h-4.7zM771.3 355h4.7v4.7h-4.7zM770.8 350.2h4.7v4.7h-4.7zM767.7 351.6h4.7v4.7h-4.7zM768.7 352.1h4.7v4.7h-4.7zM766.9 355.8h4.7v4.7h-4.7zM769.8 353.2h4.7v4.7h-4.7zM761.1 360h4.7v4.7h-4.7zM766.1 356h4.7v4.7h-4.7zM764.3 356.1h4.7v4.7h-4.7zM762.6 359.3h4.7v4.7h-4.7zM760.7 359.4h4.7v4.7h-4.7zM762.2 359.4h4.7v4.7h-4.7zM758.9 361.4h4.7v4.7h-4.7zM762 362.9h4.7v4.7h-4.7zM755.7 363.1h4.7v4.7h-4.7zM753.6 358.7h4.7v4.7h-4.7zM756.3 363.8h4.7v4.7h-4.7zM758.2 359.3h4.7v4.7h-4.7zM755.5 362h4.7v4.7h-4.7zM752.4 364h4.7v4.7h-4.7zM754 361.6h4.7v4.7h-4.7zM747.7 362.3h4.7v4.7h-4.7zM748.7 366.3h4.7v4.7h-4.7zM749.7 363.3h4.7v4.7h-4.7zM745.8 363.3h4.7v4.7h-4.7zM748.7 360.9h4.7v4.7h-4.7zM743.2 362.8h4.7v4.7h-4.7zM746.8 364.8h4.7v4.7h-4.7zM741.1 366.4h4.7v4.7h-4.7zM746.3 367h4.7v4.7h-4.7zM737.6 364.9h4.7v4.7h-4.7zM742.5 361.7h4.7v4.7h-4.7zM735.6 364.8h4.7v4.7h-4.7zM739.1 364h4.7v4.7h-4.7zM735.9 365.3h4.7v4.7h-4.7zM736.2 363.3h4.7v4.7h-4.7zM728.6 361.4h4.7v4.7h-4.7zM733.4 367.6h4.7v4.7h-4.7zM731.5 362.5h4.7v4.7h-4.7zM727.1 365.1h4.7v4.7h-4.7zM726.2 362h4.7v4.7h-4.7zM726.9 364.1h4.7v4.7h-4.7zM725.3 366.4h4.7v4.7h-4.7zM725.9 366h4.7v4.7h-4.7zM724.1 365.4h4.7v4.7h-4.7zM722.2 365h4.7v4.7h-4.7zM722.9 365.1h4.7v4.7h-4.7zM722.2 369h4.7v4.7h-4.7zM721.7 360.8h4.7v4.7h-4.7zM718.5 367.1h4.7v4.7h-4.7zM715 363.2h4.7v4.7h-4.7zM713.1 363.2h4.7v4.7h-4.7zM713.6 360.3h4.7v4.7h-4.7zM713.6 362.4h4.7v4.7h-4.7zM711.3 361.4h4.7v4.7h-4.7zM711.4 363.9h4.7v4.7h-4.7zM707.5 361.7h4.7v4.7h-4.7zM710.8 364.3h4.7v4.7h-4.7zM705 363.4h4.7v4.7h-4.7zM704.3 361.5h4.7v4.7h-4.7zM698.4 360.8h4.7v4.7h-4.7zM705.6 361h4.7v4.7h-4.7zM703.1 360.2h4.7v4.7h-4.7zM702.6 361.2h4.7v4.7h-4.7zM697.7 365.1h4.7v4.7h-4.7zM697.9 358.2h4.7v4.7h-4.7zM697.6 361.3h4.7v4.7h-4.7zM698 360.2h4.7v4.7h-4.7zM696 361.9h4.7v4.7h-4.7zM696.4 357.3h4.7v4.7h-4.7zM696.4 359.6h4.7v4.7h-4.7zM688.8 361.3h4.7v4.7h-4.7zM690.5 359.9h4.7v4.7h-4.7zM694.7 358.2h4.7v4.7h-4.7zM687.3 357h4.7v4.7h-4.7zM688.9 360.3h4.7v4.7h-4.7zM687.2 358.9h4.7v4.7h-4.7zM682.1 359.1h4.7v4.7h-4.7zM686.4 357.2h4.7v4.7h-4.7zM683.1 356.2h4.7v4.7h-4.7zM682.5 354.7h4.7v4.7h-4.7zM685.8 357.5h4.7v4.7h-4.7zM678.6 355.1h4.7v4.7h-4.7zM680.9 359.4h4.7v4.7h-4.7zM676.4 357.1h4.7v4.7h-4.7zM678.1 358.7h4.7v4.7h-4.7zM676.5 358.6h4.7v4.7h-4.7zM672.4 361.3h4.7v4.7h-4.7zM672 353.1h4.7v4.7h-4.7zM671.1 356.1h4.7v4.7h-4.7zM672.2 359.5h4.7v4.7h-4.7zM673.2 353.1h4.7v4.7h-4.7zM667.7 353h4.7v4.7h-4.7zM667.2 353.6h4.7v4.7h-4.7zM664.9 355.6h4.7v4.7h-4.7zM666.8 354.5h4.7v4.7h-4.7zM663.5 350.2h4.7v4.7h-4.7zM664.7 351.8h4.7v4.7h-4.7zM666.6 352.8h4.7v4.7h-4.7zM660.2 348.4h4.7v4.7h-4.7zM660.3 347.8h4.7v4.7h-4.7zM663.7 347.8h4.7v4.7h-4.7zM661.1 345.4h4.7v4.7h-4.7zM659.8 348.5h4.7v4.7h-4.7zM659 347.8h4.7v4.7h-4.7zM658.9 344.6h4.7v4.7h-4.7zM658.6 343h4.7v4.7h-4.7zM661.6 340.3h4.7v4.7h-4.7zM648.3 352.7h4.7v4.7h-4.7zM643.3 336.9h4.7v4.7h-4.7zM762.1 366.5h4.7v4.7h-4.7zM692.6 373.7h4.7v4.7h-4.7zM660 324.4h4.7v4.7h-4.7zM656 362h4.7v4.7h-4.7zM788.4 318.7h4.7v4.7h-4.7zM654.2 339.5h4.7v4.7h-4.7zM717.2 286.9h4.7v4.7h-4.7zM748.7 372.2h4.7v4.7h-4.7zM705.8 284.8h4.7v4.7h-4.7zM744.2 377.7h4.7v4.7h-4.7zM669.6 318.2h4.7v4.7h-4.7zM704.2 288.4h4.7v4.7h-4.7zM655.9 310.8h4.7v4.7h-4.7zM739.9 267.2h4.7v4.7h-4.7zM662.5 352.8h4.7v4.7h-4.7zM739.7 270h4.7v4.7h-4.7zM668.3 328h4.7v4.7h-4.7zM775.4 351.3h4.7v4.7h-4.7zM753.8 266.9h4.7v4.7h-4.7zM729.1 270.1h4.7v4.7h-4.7zM735.7 269.2h4.7v4.7h-4.7zM750.4 262.3h4.7v4.7h-4.7zM666.2 357.5h4.7v4.7h-4.7zM676.3 308.2h4.7v4.7h-4.7zM778.7 283.2h4.7v4.7h-4.7zM745.3 364.8h4.7v4.7h-4.7zM693.3 300h4.7v4.7h-4.7zM779.3 276.6h4.7v4.7h-4.7zM777 351.8h4.7v4.7h-4.7zM680.1 314.9h4.7v4.7h-4.7zM726.9 272.8h4.7v4.7h-4.7zM655.3 353.5h4.7v4.7h-4.7zM754.9 245.4h4.7v4.7h-4.7zM667.8 316h4.7v4.7h-4.7zM688.5 319.9h4.7v4.7h-4.7zM649.2 349.4h4.7v4.7h-4.7zM717 301h4.7v4.7h-4.7zM774.1 269.6h4.7v4.7h-4.7zM786.1 318.5h4.7v4.7h-4.7zM659.3 345.4h4.7v4.7h-4.7zM688.3 300.8h4.7v4.7h-4.7zM649.8 348.7h4.7v4.7h-4.7zM739.8 262.5h4.7v4.7h-4.7zM725.6 367.8h4.7v4.7h-4.7zM711.8 285.7h4.7v4.7h-4.7zM681.7 316.8h4.7v4.7h-4.7zM782.6 311.4h4.7v4.7h-4.7zM664.3 308.1h4.7v4.7h-4.7zM737.2 365.6h4.7v4.7h-4.7zM663.2 311.7h4.7v4.7h-4.7zM646.8 318.2h4.7v4.7h-4.7zM791.9 318h4.7v4.7h-4.7zM663.8 325.7h4.7v4.7h-4.7zM765 366.1h4.7v4.7h-4.7zM751.3 261.6h4.7v4.7h-4.7zM702 307.7h4.7v4.7h-4.7zM680.7 307.4h4.7v4.7h-4.7zM675.1 322.6h4.7v4.7h-4.7zM784.5 320.7h4.7v4.7h-4.7zM772.5 358.2h4.7v4.7h-4.7zM675.4 357.8h4.7v4.7h-4.7zM703.3 361.9h4.7v4.7h-4.7zM656.7 322h4.7v4.7h-4.7zM765.2 257.6h4.7v4.7h-4.7zM785.8 271.7h4.7v4.7h-4.7zM785.5 296.6h4.7v4.7h-4.7zM779 288.9h4.7v4.7h-4.7zM673.7 356.8h4.7v4.7h-4.7zM782 342.8h4.7v4.7h-4.7zM782.7 272.7h4.7v4.7h-4.7zM762.4 248.7h4.7v4.7h-4.7zM698.5 309.3h4.7v4.7h-4.7zM751.6 259.6h4.7v4.7h-4.7zM723.4 289.9h4.7v4.7h-4.7zM674.1 305.5h4.7v4.7h-4.7zM671.7 316.5h4.7v4.7h-4.7zM685.1 321.5h4.7v4.7h-4.7zM674 325.5h4.7v4.7h-4.7zM671.5 356.9h4.7v4.7h-4.7zM727 254.3h4.7v4.7h-4.7zM756.6 264.6h4.7v4.7h-4.7zM648.3 332.8h4.7v4.7h-4.7zM742.1 261.3h4.7v4.7h-4.7zM664.4 319.6h4.7v4.7h-4.7zM665.3 361.5h4.7v4.7h-4.7zM766.2 361.9h4.7v4.7h-4.7zM677.5 317h4.7v4.7h-4.7zM771.6 266.6h4.7v4.7h-4.7zM693 321.3h4.7v4.7h-4.7zM757.5 265h4.7v4.7h-4.7zM779.1 282.5h4.7v4.7h-4.7zM716.6 289.6h4.7v4.7h-4.7zM753.8 264.9h4.7v4.7h-4.7zM723.9 280.2h4.7v4.7h-4.7zM748.9 366.5h4.7v4.7h-4.7zM736.5 369.1h4.7v4.7h-4.7zM746.3 264.5h4.7v4.7h-4.7zM692.1 301.3h4.7v4.7h-4.7zM782.9 291.4h4.7v4.7h-4.7zM691.4 318.8h4.7v4.7h-4.7zM738.1 272.4h4.7v4.7h-4.7zM763.3 358.7h4.7v4.7h-4.7zM792.4 339.2h4.7v4.7h-4.7zM735.9 366h4.7v4.7h-4.7zM758.4 365.9h4.7v4.7h-4.7zM687.7 305.8h4.7v4.7h-4.7zM732.2 276.2h4.7v4.7h-4.7zM784.1 278.1h4.7v4.7h-4.7zM789.2 308.1h4.7v4.7h-4.7zM789.8 311.7h4.7v4.7h-4.7zM703.1 290.7h4.7v4.7h-4.7zM701.4 297.4h4.7v4.7h-4.7zM779.9 289.1h4.7v4.7h-4.7zM692 320.1h4.7v4.7h-4.7zM790.2 305.8h4.7v4.7h-4.7zM673.5 357.4h4.7v4.7h-4.7zM719.7 288.8h4.7v4.7h-4.7zM781.6 344.3h4.7v4.7h-4.7zM678 310.4h4.7v4.7h-4.7zM706.3 293.1h4.7v4.7h-4.7zM783.8 301.2h4.7v4.7h-4.7zM777 275.6h4.7v4.7h-4.7zM688.9 311h4.7v4.7h-4.7zM679 322.8h4.7v4.7h-4.7zM701.1 293.8h4.7v4.7h-4.7zM670.6 356h4.7v4.7h-4.7zM727.1 285.5h4.7v4.7h-4.7zM780.8 296.3h4.7v4.7h-4.7zM772.6 255.3h4.7v4.7h-4.7zM724.7 280.6h4.7v4.7h-4.7zM702.4 370h4.7v4.7h-4.7zM785.4 305h4.7v4.7h-4.7zM721.7 267.8h4.7v4.7h-4.7zM683.6 367.8h4.7v4.7h-4.7zM756.3 257.1h4.7v4.7h-4.7zM672.9 297.1h4.7v4.7h-4.7zM719 285.1h4.7v4.7h-4.7zM786.2 314.3h4.7v4.7h-4.7zM656.9 346.9h4.7v4.7h-4.7zM705.6 305.2h4.7v4.7h-4.7zM714.9 280.2h4.7v4.7h-4.7zM711.4 273h4.7v4.7h-4.7zM768.7 268.6h4.7v4.7h-4.7zM780.2 297.5h4.7v4.7h-4.7zM737.9 374.5h4.7v4.7h-4.7zM751.4 264.7h4.7v4.7h-4.7zM749.4 369.2h4.7v4.7h-4.7zM746.5 366.9h4.7v4.7h-4.7zM783.3 313.2h4.7v4.7h-4.7zM711.6 289.4h4.7v4.7h-4.7zM792.2 331.1h4.7v4.7h-4.7zM701.9 294.6h4.7v4.7h-4.7zM690.7 309.6h4.7v4.7h-4.7zM781.4 344.5h4.7v4.7h-4.7zM773.7 258.4h4.7v4.7h-4.7zM697.7 365.8h4.7v4.7h-4.7zM781.4 350.1h4.7v4.7h-4.7zM705.6 312.9h4.7v4.7h-4.7zM773.6 265.3h4.7v4.7h-4.7zM785.5 338.6h4.7v4.7h-4.7zM652.9 334.7h4.7v4.7h-4.7zM742 233.8h4.7v4.7h-4.7zM748.8 369.5h4.7v4.7h-4.7zM733.6 368.2h4.7v4.7h-4.7zM707.5 283.4h4.7v4.7h-4.7zM654.5 313.5h4.7v4.7h-4.7zM687.6 307.3h4.7v4.7h-4.7zM757 236h4.7v4.7h-4.7zM684.7 302h4.7v4.7h-4.7zM725.5 255.7h4.7v4.7h-4.7zM776.1 354.4h4.7v4.7h-4.7zM758.1 261.1h4.7v4.7h-4.7zM648.4 345.9h4.7v4.7h-4.7zM659 305.8h4.7v4.7h-4.7zM778 271.9h4.7v4.7h-4.7zM720.8 373.8h4.7v4.7h-4.7zM791 337.3h4.7v4.7h-4.7zM687.5 310.4h4.7v4.7h-4.7zM697.1 308.2h4.7v4.7h-4.7zM665 319.3h4.7v4.7h-4.7zM699.3 364.9h4.7v4.7h-4.7zM661.4 358.6h4.7v4.7h-4.7zM653.1 316.7h4.7v4.7h-4.7zM752.4 363.8h4.7v4.7h-4.7zM707.9 299.1h4.7v4.7h-4.7zM716.5 278h4.7v4.7h-4.7zM720.2 300.7h4.7v4.7h-4.7zM688.1 294h4.7v4.7h-4.7zM661.8 356.8h4.7v4.7h-4.7zM665.2 356.1h4.7v4.7h-4.7zM684.1 359.2h4.7v4.7h-4.7zM786.8 288h4.7v4.7h-4.7zM690.2 311.1h4.7v4.7h-4.7zM756.5 368h4.7v4.7h-4.7zM779.3 347.2h4.7v4.7h-4.7zM705 284.4h4.7v4.7h-4.7zM722.8 291.3h4.7v4.7h-4.7zM659.3 307.9h4.7v4.7h-4.7zM655.1 312.3h4.7v4.7h-4.7zM701.8 312.3h4.7v4.7h-4.7zM782.5 314.4h4.7v4.7h-4.7zM651.9 339.7h4.7v4.7h-4.7zM759.2 374.7h4.7v4.7h-4.7zM785.8 329.8h4.7v4.7h-4.7zM728 250.5h4.7v4.7h-4.7zM678.4 303.5h4.7v4.7h-4.7zM723.3 274.9h4.7v4.7h-4.7zM757.8 361.6h4.7v4.7h-4.7zM695.2 303.2h4.7v4.7h-4.7zM749.2 253.8h4.7v4.7h-4.7zM750.3 365.9h4.7v4.7h-4.7zM715.4 292.6h4.7v4.7h-4.7zM701.4 364.9h4.7v4.7h-4.7zM776.9 276.5h4.7v4.7h-4.7zM677.9 302.8h4.7v4.7h-4.7zM661.7 351.6h4.7v4.7h-4.7zM646.2 353.7h4.7v4.7h-4.7zM665.5 358h4.7v4.7h-4.7zM776 353.4h4.7v4.7h-4.7zM742.6 260.2h4.7v4.7h-4.7zM743.7 266.2h4.7v4.7h-4.7zM678.3 308.9h4.7v4.7h-4.7zM707.2 295.2h4.7v4.7h-4.7zM751.4 265.4h4.7v4.7h-4.7zM775.9 356.3h4.7v4.7h-4.7zM658.5 344.7h4.7v4.7h-4.7zM655.8 322.6h4.7v4.7h-4.7zM681.2 318.9h4.7v4.7h-4.7zM695.8 292.2h4.7v4.7h-4.7zM658 315.3h4.7v4.7h-4.7zM700.4 295.1h4.7v4.7h-4.7zM767.2 363.5h4.7v4.7h-4.7zM727.6 286.5h4.7v4.7h-4.7zM733.5 244.8h4.7v4.7h-4.7zM740.6 375.2h4.7v4.7h-4.7zM775 272.1h4.7v4.7h-4.7zM784.5 314.2h4.7v4.7h-4.7zM726.7 368.9h4.7v4.7h-4.7zM767.9 259.2h4.7v4.7h-4.7zM728 268.5h4.7v4.7h-4.7zM746.5 256.2h4.7v4.7h-4.7zM685.7 313.9h4.7v4.7h-4.7zM664 305h4.7v4.7h-4.7zM653.3 341h4.7v4.7h-4.7zM703.6 361.9h4.7v4.7h-4.7zM779.9 263.9h4.7v4.7h-4.7zM782 308.5h4.7v4.7h-4.7zM712.9 297.1h4.7v4.7h-4.7zM733.7 269.6h4.7v4.7h-4.7zM666.4 302.2h4.7v4.7h-4.7zM693.3 290.8h4.7v4.7h-4.7zM787.8 318.4h4.7v4.7h-4.7zM683.3 315.5h4.7v4.7h-4.7zM748.3 256.9h4.7v4.7h-4.7zM738.5 240.7h4.7v4.7h-4.7zM661.9 328.6h4.7v4.7h-4.7zM680 308h4.7v4.7h-4.7zM675.7 302.2h4.7v4.7h-4.7zM672.4 357.4h4.7v4.7h-4.7zM694.6 293.3h4.7v4.7h-4.7zM725.2 370.6h4.7v4.7h-4.7zM776.4 275.8h4.7v4.7h-4.7zM725.9 282.5h4.7v4.7h-4.7zM653.9 331.1h4.7v4.7h-4.7zM758.1 265.8h4.7v4.7h-4.7zM786.4 318.7h4.7v4.7h-4.7zM665.7 318.3h4.7v4.7h-4.7zM646.8 342.7h4.7v4.7h-4.7zM659.9 325.5h4.7v4.7h-4.7zM729.7 264.8h4.7v4.7h-4.7zM776.6 354.9h4.7v4.7h-4.7zM784.2 341.4h4.7v4.7h-4.7zM667.1 309.9h4.7v4.7h-4.7zM667.1 308.1h4.7v4.7h-4.7zM655.8 340.5h4.7v4.7h-4.7zM661.9 324.3h4.7v4.7h-4.7zM678.5 317.3h4.7v4.7h-4.7zM677.6 360h4.7v4.7h-4.7zM789.5 174.8h4.7v4.7h-4.7zM754 219h4.7v4.7h-4.7zM742.9 231.8h4.7v4.7h-4.7zM770.9 235.6h4.7v4.7h-4.7zM761.3 240h4.7v4.7h-4.7zM778.1 246.4h4.7v4.7h-4.7zM726.1 252.2h4.7v4.7h-4.7zM737.1 254.5h4.7v4.7h-4.7zM594 361.2h4.7v4.7h-4.7zM757.5 379.3h4.7v4.7h-4.7z" fill="#b3b3b3"/>
<path d="M771.6 212.5h4.9v4.9h-4.9zM784.4 289.9h4.9v4.9h-4.9zM780.1 295.1h4.9v4.9h-4.9zM791.7 315.2h4.9v4.9h-4.9zM799 329.1h4.9v4.9h-4.9zM796.6 334.1h4.9v4.9h-4.9zM810.6 356.2h4.9v4.9h-4.9zM809.4 370.2h4.9v4.9h-4.9zM787 359.7h4.9v4.9h-4.9zM724.8 327.7h4.9v4.9h-4.9zM717.5 348.1h4.9v4.9h-4.9zM726.3 343.7h4.9v4.9h-4.9zM764.1 300.1h4.9v4.9h-4.9zM768.4 303.8h4.9v4.9h-4.9zM751.8 311.7h4.9v4.9h-4.9zM758.2 345.6h4.9v4.9h-4.9zM785.9 343.8h4.9v4.9h-4.9zM757.6 346.6h4.9v4.9h-4.9zM788.6 338.8h4.9v4.9h-4.9zM759.7 351.5h4.9v4.9h-4.9zM775.3 333.2h4.9v4.9h-4.9zM778 340.2h4.9v4.9h-4.9zM754.8 307.2h4.9v4.9h-4.9zM764.1 326.4h4.9v4.9h-4.9zM754.7 347.3h4.9v4.9h-4.9zM765.7 343h4.9v4.9h-4.9zM742.1 344.1h4.9v4.9h-4.9zM754.4 328.6h4.9v4.9h-4.9zM753.4 320h4.9v4.9h-4.9zM763.5 353.3h4.9v4.9h-4.9zM761.7 333h4.9v4.9h-4.9zM781.5 345h4.9v4.9h-4.9zM766.4 359.3h4.9v4.9h-4.9zM754.7 349.7h4.9v4.9h-4.9zM754.8 317.3h4.9v4.9h-4.9zM755.5 328.4h4.9v4.9h-4.9zM767.4 346.4h4.9v4.9h-4.9zM740 352.8h4.9v4.9h-4.9zM761.6 329.8h4.9v4.9h-4.9zM744 353.3h4.9v4.9h-4.9zM751.8 363.7h4.9v4.9h-4.9zM759.5 339.5h4.9v4.9h-4.9zM744.9 311.4h4.9v4.9h-4.9zM753.5 348.1h4.9v4.9h-4.9zM791.7 327.2h4.9v4.9h-4.9zM754.7 336.1h4.9v4.9h-4.9zM762.4 316.5h4.9v4.9h-4.9zM757.8 331h4.9v4.9h-4.9zM746.1 350.5h4.9v4.9h-4.9zM749.8 330.4h4.9v4.9h-4.9zM764.9 332.7h4.9v4.9h-4.9zM743.7 334.4h4.9v4.9h-4.9zM758.3 331.3h4.9v4.9h-4.9zM757.7 329.8h4.9v4.9h-4.9zM746.8 336.4h4.9v4.9h-4.9zM749.9 347.4h4.9v4.9h-4.9zM763.6 343.8h4.9v4.9h-4.9zM767.4 343.3h4.9v4.9h-4.9zM764.3 345.5h4.9v4.9h-4.9zM750.9 329.6h4.9v4.9h-4.9zM766.4 335.6h4.9v4.9h-4.9zM771.1 342.1h4.9v4.9h-4.9zM768.2 343.2h4.9v4.9h-4.9zM764.5 358.9h4.9v4.9h-4.9zM771.4 336.7h4.9v4.9h-4.9zM766.4 343.3h4.9v4.9h-4.9zM767.1 327.5h4.9v4.9h-4.9zM762.7 330.5h4.9v4.9h-4.9zM726.6 338.2h4.9v4.9h-4.9zM748.1 332.8h4.9v4.9h-4.9zM754 334.9h4.9v4.9h-4.9zM766 323.5h4.9v4.9h-4.9zM760.8 322.3h4.9v4.9h-4.9zM762.5 323.8h4.9v4.9h-4.9zM749.4 343.9h4.9v4.9h-4.9zM744 330.9h4.9v4.9h-4.9zM737.8 351h4.9v4.9h-4.9zM771.8 340h4.9v4.9h-4.9zM747.1 332.8h4.9v4.9h-4.9zM775.5 324.3h4.9v4.9h-4.9zM778.2 332.6h4.9v4.9h-4.9zM752.7 326.7h4.9v4.9h-4.9zM751.5 348.1h4.9v4.9h-4.9zM756.2 340h4.9v4.9h-4.9zM745.3 320.8h4.9v4.9h-4.9zM745.4 331.5h4.9v4.9h-4.9zM753.3 337.3h4.9v4.9h-4.9zM776.6 328h4.9v4.9h-4.9zM741.7 308.6h4.9v4.9h-4.9zM733.2 329.8h4.9v4.9h-4.9zM756.8 321h4.9v4.9h-4.9zM772.2 328.8h4.9v4.9h-4.9zM749.3 333.1h4.9v4.9h-4.9zM772.2 352.7h4.9v4.9h-4.9zM773.5 331.4h4.9v4.9h-4.9zM756.5 328.5h4.9v4.9h-4.9zM733.3 338.8h4.9v4.9h-4.9zM737.7 336.7h4.9v4.9h-4.9zM745.9 340.4h4.9v4.9h-4.9zM745.4 335.1h4.9v4.9h-4.9zM762.6 312.3h4.9v4.9h-4.9zM748.3 323.7h4.9v4.9h-4.9zM758.7 339.7h4.9v4.9h-4.9zM755.4 335.3h4.9v4.9h-4.9zM767.9 339.9h4.9v4.9h-4.9zM769.2 337.8h4.9v4.9h-4.9zM752.6 354.7h4.9v4.9h-4.9zM758.9 343.9h4.9v4.9h-4.9zM768.7 325.7h4.9v4.9h-4.9zM768.3 336.4h4.9v4.9h-4.9zM768.8 342.4h4.9v4.9h-4.9zM777.6 341.5h4.9v4.9h-4.9zM788 350h4.9v4.9h-4.9zM738.6 316.4h4.9v4.9h-4.9zM769.9 335.5h4.9v4.9h-4.9zM764.6 345.8h4.9v4.9h-4.9zM769.6 342.3h4.9v4.9h-4.9zM763.8 348.1h4.9v4.9h-4.9zM766.9 343.4h4.9v4.9h-4.9zM761.6 331.5h4.9v4.9h-4.9zM774.2 322.4h4.9v4.9h-4.9zM783.8 336h4.9v4.9h-4.9zM754.2 319h4.9v4.9h-4.9zM755.4 361h4.9v4.9h-4.9zM778.4 340.5h4.9v4.9h-4.9zM743.2 340.3h4.9v4.9h-4.9zM750.6 329.7h4.9v4.9h-4.9zM767.2 340.6h4.9v4.9h-4.9zM768.4 315.7h4.9v4.9h-4.9zM756.2 351.1h4.9v4.9h-4.9zM765.1 344.8h4.9v4.9h-4.9zM746.8 356.6h4.9v4.9h-4.9zM740 337.4h4.9v4.9h-4.9zM742.2 352.7h4.9v4.9h-4.9zM735.4 345.8h4.9v4.9h-4.9zM761.2 347.8h4.9v4.9h-4.9zM726.2 345.4h4.9v4.9h-4.9zM752.4 345.6h4.9v4.9h-4.9zM761.9 331.4h4.9v4.9h-4.9zM742.2 349.9h4.9v4.9h-4.9zM735.8 347.3h4.9v4.9h-4.9zM767.6 339.6h4.9v4.9h-4.9zM742 360.6h4.9v4.9h-4.9zM748.1 359.4h4.9v4.9h-4.9zM766.9 369h4.9v4.9h-4.9zM741 349.9h4.9v4.9h-4.9zM742.9 346.5h4.9v4.9h-4.9zM765.1 340.6h4.9v4.9h-4.9zM750.8 338h4.9v4.9h-4.9zM753 354.4h4.9v4.9h-4.9z" fill="#0a84ff"/>
<rect x="584.4" y="133.2" width="311.6" height="306" fill="none" stroke="#444" stroke-width="1.1"/>
<path d="M737.1 133.2V439.2M584.4 322H896" stroke="#111" stroke-width="1.3" fill="none"/>
<path d="M605.8 439.2v8M750.7 439.2v8M812.8 439.2v8M869.4 439.2v8M664.1 439.2v6.5M693.8 439.2v6.5M769.4 439.2v4M780.3 439.2v4M788.1 439.2v4M794.1 439.2v6M799 439.2v4M803.2 439.2v4M806.8 439.2v4M810 439.2v4M829.8 439.2v4M839.8 439.2v4M846.9 439.2v4M852.4 439.2v6M856.8 439.2v4M860.6 439.2v4M863.9 439.2v4M866.8 439.2v4M710.9 439.2v4M720.9 439.2v4M728.1 439.2v4M733.6 439.2v6M738.1 439.2v4M741.9 439.2v4M745.2 439.2v4M748.1 439.2v4M646.5 439.2v4M636.3 439.2v4M629 439.2v4M623.4 439.2v6M618.7 439.2v4M614.8 439.2v4M611.4 439.2v4M608.5 439.2v4M886.4 439.2v4M596.1 439.2v4M666.5 439.2v3.5M669 439.2v4.3M671.4 439.2v4.3M673.9 439.2v5.3M676.4 439.2v6.7M678.9 439.2v9M681.4 439.2v5.9M683.9 439.2v5.9M686.4 439.2v4.3M688.8 439.2v4.1M691.3 439.2v3.5M584.4 394.1h-8M584.4 303.6h-8M584.4 226.5h-8M584.4 159.1h-8M584.4 358.7h-6.5M584.4 339.8h-6.5M584.4 280.4h-4M584.4 266.8h-4M584.4 257.2h-4M584.4 249.7h-6M584.4 243.6h-4M584.4 238.4h-4M584.4 234h-4M584.4 230h-4M584.4 206.2h-4M584.4 194.3h-4M584.4 185.9h-4M584.4 179.4h-6M584.4 174.1h-4M584.4 169.5h-4M584.4 165.6h-4M584.4 162.2h-4M584.4 328.9h-4M584.4 322.5h-4M584.4 318h-4M584.4 314.5h-6M584.4 311.6h-4M584.4 309.2h-4M584.4 307.1h-4M584.4 305.3h-4M584.4 369.4h-4M584.4 375.6h-4M584.4 380h-4M584.4 383.4h-6M584.4 386.2h-4M584.4 388.6h-4M584.4 390.7h-4M584.4 392.5h-4M584.4 138.8h-4M584.4 400h-4M584.4 357.2h-3.5M584.4 355.6h-4.3M584.4 354h-4.3M584.4 352.5h-5.3M584.4 350.9h-6.7M584.4 349.3h-9M584.4 347.7h-5.9M584.4 346.1h-5.9M584.4 344.5h-4.3M584.4 343h-4.1M584.4 341.4h-3.5" stroke="#111" stroke-width="1" fill="none"/>
<text transform="translate(588.9 163.5) scale(1 1.05)" font-size="26.9">0</text>
<text transform="translate(881 163.5) scale(1 1.05)" font-size="26.9" text-anchor="end">15.1</text>
<text transform="translate(588.9 434) scale(1 1.05)" font-size="26.9">7.14</text>
<text transform="translate(883.5 434) scale(1 1.05)" font-size="26.9" text-anchor="end">77.8</text>
</g>
<g id="f3">
<path d="M289.1 696L297.8 678.5L315.2 669.8L338.5 658.2L356 649.4L370.5 637.8L379.2 620.3L388 608.7L408.3 607.2L420 620.3L425.8 637.8L428.7 661.1L425.8 681.4L420 696L408.3 707.6L390.9 716.3L367.6 717.8L344.3 716.3L321.1 713.4L300.7 707.6ZM286.5 696.6h4.7v4.7h-4.7zM285.1 690.1h4.7v4.7h-4.7zM288.4 692.8h4.7v4.7h-4.7zM288.7 692.6h4.7v4.7h-4.7zM288.8 688.2h4.7v4.7h-4.7zM287.5 689h4.7v4.7h-4.7zM289.4 689.1h4.7v4.7h-4.7zM291.4 684.7h4.7v4.7h-4.7zM292.7 685h4.7v4.7h-4.7zM293.5 688.1h4.7v4.7h-4.7zM293.5 679.3h4.7v4.7h-4.7zM293.7 679.8h4.7v4.7h-4.7zM296.6 679.4h4.7v4.7h-4.7zM293.1 684.4h4.7v4.7h-4.7zM291 678.6h4.7v4.7h-4.7zM292.4 677.5h4.7v4.7h-4.7zM294 677.8h4.7v4.7h-4.7zM295 677.1h4.7v4.7h-4.7zM299.1 671.8h4.7v4.7h-4.7zM300.7 674.8h4.7v4.7h-4.7zM296.7 672.9h4.7v4.7h-4.7zM301.8 676.2h4.7v4.7h-4.7zM300.8 673.3h4.7v4.7h-4.7zM302.7 675.2h4.7v4.7h-4.7zM304.1 674h4.7v4.7h-4.7zM302.6 670.6h4.7v4.7h-4.7zM307.9 672.4h4.7v4.7h-4.7zM306.5 672.2h4.7v4.7h-4.7zM309.2 671.4h4.7v4.7h-4.7zM311.1 670.9h4.7v4.7h-4.7zM312.6 668h4.7v4.7h-4.7zM309.8 664h4.7v4.7h-4.7zM314 667.7h4.7v4.7h-4.7zM314.2 663.9h4.7v4.7h-4.7zM314.2 665.5h4.7v4.7h-4.7zM311.6 668.5h4.7v4.7h-4.7zM319.8 663h4.7v4.7h-4.7zM318.3 669.1h4.7v4.7h-4.7zM317 666.5h4.7v4.7h-4.7zM322.7 668.3h4.7v4.7h-4.7zM318.8 661.3h4.7v4.7h-4.7zM322 665.9h4.7v4.7h-4.7zM321.1 660.8h4.7v4.7h-4.7zM321.4 664.6h4.7v4.7h-4.7zM324.7 662.5h4.7v4.7h-4.7zM327.1 663.7h4.7v4.7h-4.7zM328.8 661h4.7v4.7h-4.7zM330.3 661.2h4.7v4.7h-4.7zM327.5 658.1h4.7v4.7h-4.7zM331.9 659.5h4.7v4.7h-4.7zM331.4 658.7h4.7v4.7h-4.7zM339 658h4.7v4.7h-4.7zM335.3 658h4.7v4.7h-4.7zM333.7 659.5h4.7v4.7h-4.7zM338.2 656.9h4.7v4.7h-4.7zM333.6 658.6h4.7v4.7h-4.7zM340.1 654.8h4.7v4.7h-4.7zM333.1 654.8h4.7v4.7h-4.7zM338.3 653.4h4.7v4.7h-4.7zM339.7 652.2h4.7v4.7h-4.7zM345 653h4.7v4.7h-4.7zM345.5 650.8h4.7v4.7h-4.7zM344.7 654.5h4.7v4.7h-4.7zM345.8 650.2h4.7v4.7h-4.7zM345.5 649.4h4.7v4.7h-4.7zM347.1 652h4.7v4.7h-4.7zM349.8 651h4.7v4.7h-4.7zM351.2 649.7h4.7v4.7h-4.7zM354.3 649.9h4.7v4.7h-4.7zM351.3 648.1h4.7v4.7h-4.7zM353.8 645.8h4.7v4.7h-4.7zM351.1 647.4h4.7v4.7h-4.7zM354.6 647.1h4.7v4.7h-4.7zM354.4 646.1h4.7v4.7h-4.7zM357.9 643.4h4.7v4.7h-4.7zM357.9 642.9h4.7v4.7h-4.7zM358.4 644.6h4.7v4.7h-4.7zM360.1 642.9h4.7v4.7h-4.7zM359.5 642.9h4.7v4.7h-4.7zM365.2 637h4.7v4.7h-4.7zM365.1 640.5h4.7v4.7h-4.7zM365.2 642.4h4.7v4.7h-4.7zM362.7 642.1h4.7v4.7h-4.7zM363.5 638.1h4.7v4.7h-4.7zM367.8 636.9h4.7v4.7h-4.7zM367.1 636.1h4.7v4.7h-4.7zM366.2 635.7h4.7v4.7h-4.7zM366.1 638.4h4.7v4.7h-4.7zM370 636.4h4.7v4.7h-4.7zM366.9 629.2h4.7v4.7h-4.7zM365.9 630.5h4.7v4.7h-4.7zM367.9 632h4.7v4.7h-4.7zM368.6 626.3h4.7v4.7h-4.7zM372.2 628.3h4.7v4.7h-4.7zM374.1 628.6h4.7v4.7h-4.7zM373.5 624.4h4.7v4.7h-4.7zM372 629.4h4.7v4.7h-4.7zM373.4 625.3h4.7v4.7h-4.7zM375.2 622.5h4.7v4.7h-4.7zM374.6 621.4h4.7v4.7h-4.7zM374.9 616.2h4.7v4.7h-4.7zM379.4 620.2h4.7v4.7h-4.7zM374.4 619.3h4.7v4.7h-4.7zM378.5 615.2h4.7v4.7h-4.7zM377.5 619.3h4.7v4.7h-4.7zM379.7 617.1h4.7v4.7h-4.7zM382 614.1h4.7v4.7h-4.7zM379.4 617.6h4.7v4.7h-4.7zM381.1 612.2h4.7v4.7h-4.7zM382.8 612.5h4.7v4.7h-4.7zM380.4 614.3h4.7v4.7h-4.7zM382.8 614.1h4.7v4.7h-4.7zM385.4 606.6h4.7v4.7h-4.7zM387.5 608.1h4.7v4.7h-4.7zM384.1 606.5h4.7v4.7h-4.7zM381.4 607.4h4.7v4.7h-4.7zM386.6 605.9h4.7v4.7h-4.7zM386.3 607.8h4.7v4.7h-4.7zM391.1 608.5h4.7v4.7h-4.7zM393.8 606.8h4.7v4.7h-4.7zM392.8 606.7h4.7v4.7h-4.7zM390.9 605h4.7v4.7h-4.7zM396.4 604.2h4.7v4.7h-4.7zM390.9 605.2h4.7v4.7h-4.7zM397.7 608.8h4.7v4.7h-4.7zM395.7 603.8h4.7v4.7h-4.7zM399.6 605.3h4.7v4.7h-4.7zM399.9 604.5h4.7v4.7h-4.7zM402.1 604.2h4.7v4.7h-4.7zM403.7 606h4.7v4.7h-4.7zM405.1 604.4h4.7v4.7h-4.7zM401 605.3h4.7v4.7h-4.7zM406.1 607.4h4.7v4.7h-4.7zM408.1 605h4.7v4.7h-4.7zM407.7 604.9h4.7v4.7h-4.7zM407.8 607.4h4.7v4.7h-4.7zM408.6 606.6h4.7v4.7h-4.7zM412.1 606.9h4.7v4.7h-4.7zM414.5 613.1h4.7v4.7h-4.7zM414.3 609h4.7v4.7h-4.7zM414.1 609.7h4.7v4.7h-4.7zM412.1 609.5h4.7v4.7h-4.7zM413 613.4h4.7v4.7h-4.7zM416.4 616.6h4.7v4.7h-4.7zM415.4 615.7h4.7v4.7h-4.7zM414.2 614h4.7v4.7h-4.7zM414.2 617.7h4.7v4.7h-4.7zM419 616.6h4.7v4.7h-4.7zM419.3 618h4.7v4.7h-4.7zM416.5 619.3h4.7v4.7h-4.7zM421 621.5h4.7v4.7h-4.7zM420.8 621.8h4.7v4.7h-4.7zM417.7 620.6h4.7v4.7h-4.7zM419 622.8h4.7v4.7h-4.7zM422.5 627.8h4.7v4.7h-4.7zM417.4 628.6h4.7v4.7h-4.7zM422.5 623.2h4.7v4.7h-4.7zM419.3 629.6h4.7v4.7h-4.7zM418.9 629.8h4.7v4.7h-4.7zM423.2 631.7h4.7v4.7h-4.7zM423.8 634.7h4.7v4.7h-4.7zM421.1 638.3h4.7v4.7h-4.7zM424.6 639.9h4.7v4.7h-4.7zM423 636.7h4.7v4.7h-4.7zM424.6 637.6h4.7v4.7h-4.7zM424.5 638.4h4.7v4.7h-4.7zM425.8 640.9h4.7v4.7h-4.7zM424.3 641.2h4.7v4.7h-4.7zM427.4 642.7h4.7v4.7h-4.7zM425.7 642.9h4.7v4.7h-4.7zM420.8 643.1h4.7v4.7h-4.7zM422.9 642.1h4.7v4.7h-4.7zM423.8 643.7h4.7v4.7h-4.7zM425.6 646.1h4.7v4.7h-4.7zM427.8 650.3h4.7v4.7h-4.7zM422.8 649.1h4.7v4.7h-4.7zM425.7 650.5h4.7v4.7h-4.7zM424.9 649.7h4.7v4.7h-4.7zM424.4 654.8h4.7v4.7h-4.7zM425.2 656.6h4.7v4.7h-4.7zM421.9 654.9h4.7v4.7h-4.7zM425.4 659.5h4.7v4.7h-4.7zM428.7 660.4h4.7v4.7h-4.7zM428.4 662.1h4.7v4.7h-4.7zM427.5 660.6h4.7v4.7h-4.7zM426.5 659.7h4.7v4.7h-4.7zM425.4 664.1h4.7v4.7h-4.7zM424.8 663.6h4.7v4.7h-4.7zM424.6 663h4.7v4.7h-4.7zM422.6 667h4.7v4.7h-4.7zM425.2 669.5h4.7v4.7h-4.7zM425 667.9h4.7v4.7h-4.7zM425.4 669.5h4.7v4.7h-4.7zM427.6 672.1h4.7v4.7h-4.7zM425.3 670.3h4.7v4.7h-4.7zM423.4 672.8h4.7v4.7h-4.7zM426.5 674.6h4.7v4.7h-4.7zM424.1 675.7h4.7v4.7h-4.7zM424.1 676.6h4.7v4.7h-4.7zM421.6 679.3h4.7v4.7h-4.7zM423.4 678.1h4.7v4.7h-4.7zM423.3 676.5h4.7v4.7h-4.7zM419.3 677.7h4.7v4.7h-4.7zM423.4 678.6h4.7v4.7h-4.7zM422 680.9h4.7v4.7h-4.7zM418.3 682h4.7v4.7h-4.7zM419.5 684h4.7v4.7h-4.7zM424.4 685.8h4.7v4.7h-4.7zM419 689.2h4.7v4.7h-4.7zM419.5 689.9h4.7v4.7h-4.7zM416.2 691.7h4.7v4.7h-4.7zM417.1 688h4.7v4.7h-4.7zM418.9 689.4h4.7v4.7h-4.7zM415.2 690.8h4.7v4.7h-4.7zM417 690.4h4.7v4.7h-4.7zM419.6 692h4.7v4.7h-4.7zM414.7 694.8h4.7v4.7h-4.7zM416.1 697.4h4.7v4.7h-4.7zM410 697h4.7v4.7h-4.7zM416.1 697.4h4.7v4.7h-4.7zM412.5 696.4h4.7v4.7h-4.7zM413.3 697.6h4.7v4.7h-4.7zM411.2 698.2h4.7v4.7h-4.7zM410.3 700h4.7v4.7h-4.7zM406.3 704h4.7v4.7h-4.7zM409.1 699.4h4.7v4.7h-4.7zM407.1 703.8h4.7v4.7h-4.7zM406.9 701.5h4.7v4.7h-4.7zM405.5 702.5h4.7v4.7h-4.7zM402.6 707.6h4.7v4.7h-4.7zM407.2 710.1h4.7v4.7h-4.7zM408.3 709.1h4.7v4.7h-4.7zM399.7 706.3h4.7v4.7h-4.7zM403.8 706.5h4.7v4.7h-4.7zM398.7 708.5h4.7v4.7h-4.7zM400.3 705.8h4.7v4.7h-4.7zM397.3 710.6h4.7v4.7h-4.7zM393.1 711.9h4.7v4.7h-4.7zM396.6 709.1h4.7v4.7h-4.7zM398.7 711.5h4.7v4.7h-4.7zM393.8 714.9h4.7v4.7h-4.7zM387.7 711.8h4.7v4.7h-4.7zM392.8 715.7h4.7v4.7h-4.7zM390.6 712.5h4.7v4.7h-4.7zM387 713.3h4.7v4.7h-4.7zM386.8 709.2h4.7v4.7h-4.7zM385 712.1h4.7v4.7h-4.7zM385 713.2h4.7v4.7h-4.7zM382.9 714.5h4.7v4.7h-4.7zM383.7 713.5h4.7v4.7h-4.7zM380.3 714.2h4.7v4.7h-4.7zM380.9 714.1h4.7v4.7h-4.7zM382 715h4.7v4.7h-4.7zM378.4 710.4h4.7v4.7h-4.7zM374 708.8h4.7v4.7h-4.7zM378.6 716.9h4.7v4.7h-4.7zM373.7 713.9h4.7v4.7h-4.7zM375.5 716h4.7v4.7h-4.7zM368.7 714.5h4.7v4.7h-4.7zM371.6 712.5h4.7v4.7h-4.7zM372.7 716.6h4.7v4.7h-4.7zM368.7 715h4.7v4.7h-4.7zM366.5 714.3h4.7v4.7h-4.7zM366.8 717.3h4.7v4.7h-4.7zM365.3 714.5h4.7v4.7h-4.7zM363.9 715.9h4.7v4.7h-4.7zM361.2 712h4.7v4.7h-4.7zM362.6 718.5h4.7v4.7h-4.7zM359.2 715.5h4.7v4.7h-4.7zM360.2 717.6h4.7v4.7h-4.7zM359.2 712.4h4.7v4.7h-4.7zM361.8 715h4.7v4.7h-4.7zM354.1 713.8h4.7v4.7h-4.7zM356.1 717h4.7v4.7h-4.7zM353 713.2h4.7v4.7h-4.7zM356.3 717.8h4.7v4.7h-4.7zM350.6 714.8h4.7v4.7h-4.7zM352 713.9h4.7v4.7h-4.7zM347.1 716.5h4.7v4.7h-4.7zM346.8 710.7h4.7v4.7h-4.7zM347.8 716.6h4.7v4.7h-4.7zM348.3 712.7h4.7v4.7h-4.7zM343.8 711.9h4.7v4.7h-4.7zM343.3 709.2h4.7v4.7h-4.7zM340.2 716.7h4.7v4.7h-4.7zM339.6 717.4h4.7v4.7h-4.7zM340 709.7h4.7v4.7h-4.7zM341.5 711.8h4.7v4.7h-4.7zM338.4 713h4.7v4.7h-4.7zM336.6 713h4.7v4.7h-4.7zM332.4 711.6h4.7v4.7h-4.7zM334.2 716.7h4.7v4.7h-4.7zM331.5 713.5h4.7v4.7h-4.7zM333.6 715.3h4.7v4.7h-4.7zM329.9 712.9h4.7v4.7h-4.7zM328.5 717.6h4.7v4.7h-4.7zM325 712.8h4.7v4.7h-4.7zM327.3 712.6h4.7v4.7h-4.7zM324.6 711h4.7v4.7h-4.7zM327.7 713.9h4.7v4.7h-4.7zM323.2 711.4h4.7v4.7h-4.7zM323.7 711.5h4.7v4.7h-4.7zM321.9 712.9h4.7v4.7h-4.7zM322 708.2h4.7v4.7h-4.7zM318.6 708.9h4.7v4.7h-4.7zM319.6 710.5h4.7v4.7h-4.7zM317.1 710.3h4.7v4.7h-4.7zM318.3 713.2h4.7v4.7h-4.7zM314.6 706.8h4.7v4.7h-4.7zM314.2 713.8h4.7v4.7h-4.7zM310.6 709h4.7v4.7h-4.7zM316.9 712.5h4.7v4.7h-4.7zM311 709h4.7v4.7h-4.7zM307 711.8h4.7v4.7h-4.7zM309.3 704.5h4.7v4.7h-4.7zM307.2 707.6h4.7v4.7h-4.7zM305 705.9h4.7v4.7h-4.7zM310.2 705.5h4.7v4.7h-4.7zM305.8 707.8h4.7v4.7h-4.7zM302.9 707.5h4.7v4.7h-4.7zM302.1 704.4h4.7v4.7h-4.7zM299.9 708.4h4.7v4.7h-4.7zM300.3 706.1h4.7v4.7h-4.7zM296 702h4.7v4.7h-4.7zM299.7 706.5h4.7v4.7h-4.7zM297.8 704.4h4.7v4.7h-4.7zM294.4 703h4.7v4.7h-4.7zM297.5 703.5h4.7v4.7h-4.7zM292.3 701h4.7v4.7h-4.7zM292.3 700.2h4.7v4.7h-4.7zM289.5 693.9h4.7v4.7h-4.7zM289.7 699h4.7v4.7h-4.7zM288.5 698.1h4.7v4.7h-4.7zM289 697.6h4.7v4.7h-4.7zM287.5 698.2h4.7v4.7h-4.7zM287.6 695.4h4.7v4.7h-4.7zM293.9 705.1h4.7v4.7h-4.7zM346.7 642h4.7v4.7h-4.7zM430.8 632.1h4.7v4.7h-4.7zM379.7 717.6h4.7v4.7h-4.7zM349.3 628.5h4.7v4.7h-4.7zM404.9 706.3h4.7v4.7h-4.7zM363.4 621.4h4.7v4.7h-4.7zM401 710.7h4.7v4.7h-4.7zM329.2 655.5h4.7v4.7h-4.7zM307.7 661h4.7v4.7h-4.7zM388.2 719.5h4.7v4.7h-4.7zM327.1 654.3h4.7v4.7h-4.7zM298 672.1h4.7v4.7h-4.7zM374.1 715.8h4.7v4.7h-4.7zM340.8 640.4h4.7v4.7h-4.7zM433.1 610.4h4.7v4.7h-4.7zM429.8 644.8h4.7v4.7h-4.7zM343.1 617.1h4.7v4.7h-4.7zM386.3 601.8h4.7v4.7h-4.7zM324.8 643.2h4.7v4.7h-4.7zM292.4 710.6h4.7v4.7h-4.7zM417.8 591h4.7v4.7h-4.7zM424.8 672.9h4.7v4.7h-4.7zM318 663.2h4.7v4.7h-4.7zM314.8 648.6h4.7v4.7h-4.7zM408.4 591.8h4.7v4.7h-4.7zM416.6 607.7h4.7v4.7h-4.7zM405.8 591.8h4.7v4.7h-4.7zM411.8 611.5h4.7v4.7h-4.7zM372.8 616.6h4.7v4.7h-4.7zM309.4 665h4.7v4.7h-4.7zM281 667.4h4.7v4.7h-4.7zM368.2 633.3h4.7v4.7h-4.7zM426.5 618.5h4.7v4.7h-4.7zM384.5 602h4.7v4.7h-4.7zM425.3 687.4h4.7v4.7h-4.7zM408.4 586.8h4.7v4.7h-4.7zM390 603.6h4.7v4.7h-4.7zM309.6 665.5h4.7v4.7h-4.7zM376.2 611.9h4.7v4.7h-4.7zM430.4 640.6h4.7v4.7h-4.7zM295.3 713.9h4.7v4.7h-4.7zM282.1 682.3h4.7v4.7h-4.7zM345.2 718.6h4.7v4.7h-4.7zM285.2 693.1h4.7v4.7h-4.7zM317.8 656.3h4.7v4.7h-4.7zM427.7 701h4.7v4.7h-4.7zM431.8 649.6h4.7v4.7h-4.7zM408.6 607.1h4.7v4.7h-4.7zM335.6 719.7h4.7v4.7h-4.7zM280.1 695.3h4.7v4.7h-4.7zM290.6 681.3h4.7v4.7h-4.7zM415.2 698.9h4.7v4.7h-4.7zM387.6 717.7h4.7v4.7h-4.7zM420 697.9h4.7v4.7h-4.7zM329.6 642.3h4.7v4.7h-4.7zM338.6 653.9h4.7v4.7h-4.7zM354.3 637h4.7v4.7h-4.7zM312.1 714.6h4.7v4.7h-4.7zM278.8 685.4h4.7v4.7h-4.7zM365.5 610.2h4.7v4.7h-4.7zM285.9 718.3h4.7v4.7h-4.7zM322.7 649.1h4.7v4.7h-4.7zM347 641.5h4.7v4.7h-4.7zM420 622.8h4.7v4.7h-4.7zM411.8 700.6h4.7v4.7h-4.7zM281.2 697.3h4.7v4.7h-4.7zM415.4 697.5h4.7v4.7h-4.7zM281.9 691.4h4.7v4.7h-4.7zM425 614.8h4.7v4.7h-4.7zM423.4 681.7h4.7v4.7h-4.7zM427.5 639.6h4.7v4.7h-4.7zM324.6 642.5h4.7v4.7h-4.7zM427.4 642.6h4.7v4.7h-4.7zM322.1 713.5h4.7v4.7h-4.7zM431.9 691.5h4.7v4.7h-4.7zM376.3 594.9h4.7v4.7h-4.7zM312.7 660.1h4.7v4.7h-4.7zM397.4 604.8h4.7v4.7h-4.7zM396.6 588.1h4.7v4.7h-4.7zM381.7 722.8h4.7v4.7h-4.7zM401.7 717.4h4.7v4.7h-4.7zM432.1 643.1h4.7v4.7h-4.7zM354.5 641.6h4.7v4.7h-4.7zM381.7 715.5h4.7v4.7h-4.7zM378.3 723h4.7v4.7h-4.7zM430.1 649h4.7v4.7h-4.7zM428.8 677.6h4.7v4.7h-4.7zM344.7 715.3h4.7v4.7h-4.7zM411.1 706.3h4.7v4.7h-4.7zM371.4 718.2h4.7v4.7h-4.7zM331.9 719.6h4.7v4.7h-4.7zM419.9 618.9h4.7v4.7h-4.7zM317.9 633.5h4.7v4.7h-4.7zM315.3 710.9h4.7v4.7h-4.7zM428.9 686.7h4.7v4.7h-4.7zM361.4 623.7h4.7v4.7h-4.7zM410.7 600.5h4.7v4.7h-4.7zM428.3 612.1h4.7v4.7h-4.7zM334.4 649.2h4.7v4.7h-4.7zM298.3 706h4.7v4.7h-4.7zM431.9 667.9h4.7v4.7h-4.7zM430.1 627.9h4.7v4.7h-4.7zM307.3 709.7h4.7v4.7h-4.7zM422.1 607.5h4.7v4.7h-4.7zM298.9 706.2h4.7v4.7h-4.7zM350.8 637.2h4.7v4.7h-4.7zM414.4 704.7h4.7v4.7h-4.7zM363.4 623.6h4.7v4.7h-4.7zM295.7 670.7h4.7v4.7h-4.7zM353.2 631.1h4.7v4.7h-4.7zM424.6 702.7h4.7v4.7h-4.7zM421.4 616.4h4.7v4.7h-4.7zM395.4 602h4.7v4.7h-4.7zM284.7 688.3h4.7v4.7h-4.7zM283.7 686.6h4.7v4.7h-4.7zM327.2 639.7h4.7v4.7h-4.7zM294.9 703.6h4.7v4.7h-4.7zM430.7 658.3h4.7v4.7h-4.7zM306.8 659.2h4.7v4.7h-4.7zM428 662.7h4.7v4.7h-4.7zM429.6 644h4.7v4.7h-4.7zM431.2 647.3h4.7v4.7h-4.7zM425.7 689.3h4.7v4.7h-4.7zM351.7 608.7h4.7v4.7h-4.7zM294.1 702h4.7v4.7h-4.7zM426.3 618.9h4.7v4.7h-4.7zM428.1 614h4.7v4.7h-4.7zM295.8 705.1h4.7v4.7h-4.7zM344.1 715.1h4.7v4.7h-4.7zM398.1 710.1h4.7v4.7h-4.7zM353.5 637.1h4.7v4.7h-4.7zM425.8 613.3h4.7v4.7h-4.7zM305 661.6h4.7v4.7h-4.7zM307.5 715.2h4.7v4.7h-4.7zM345.1 645.1h4.7v4.7h-4.7zM314.5 718h4.7v4.7h-4.7zM364.6 612.9h4.7v4.7h-4.7zM332 657.6h4.7v4.7h-4.7zM335.5 636.1h4.7v4.7h-4.7zM429.3 692.5h4.7v4.7h-4.7zM431.1 636.2h4.7v4.7h-4.7zM326.6 717.9h4.7v4.7h-4.7zM309.5 669h4.7v4.7h-4.7zM378.4 715.1h4.7v4.7h-4.7zM353.4 626.8h4.7v4.7h-4.7zM359.3 632.2h4.7v4.7h-4.7zM392.8 715h4.7v4.7h-4.7zM294.7 707h4.7v4.7h-4.7zM339.5 614.6h4.7v4.7h-4.7zM371.8 627.4h4.7v4.7h-4.7zM362.3 720.3h4.7v4.7h-4.7zM428.3 658.1h4.7v4.7h-4.7zM425.6 621.5h4.7v4.7h-4.7zM382.6 600.6h4.7v4.7h-4.7zM319.6 654h4.7v4.7h-4.7zM329.9 717.6h4.7v4.7h-4.7zM419.6 706.8h4.7v4.7h-4.7zM428.4 648.8h4.7v4.7h-4.7zM426.7 674.9h4.7v4.7h-4.7zM373.1 609.3h4.7v4.7h-4.7zM292.9 716.9h4.7v4.7h-4.7zM418.8 701.5h4.7v4.7h-4.7zM398.7 712.3h4.7v4.7h-4.7zM363.4 621.2h4.7v4.7h-4.7zM396.2 713.2h4.7v4.7h-4.7zM349.9 639.9h4.7v4.7h-4.7zM381.8 715.2h4.7v4.7h-4.7zM384.7 599.6h4.7v4.7h-4.7zM430 646.4h4.7v4.7h-4.7zM314.1 709.8h4.7v4.7h-4.7zM394.3 591.7h4.7v4.7h-4.7zM288 701.5h4.7v4.7h-4.7zM375.5 619.4h4.7v4.7h-4.7zM315.5 661.3h4.7v4.7h-4.7zM417 696.9h4.7v4.7h-4.7zM414.3 705h4.7v4.7h-4.7zM351.3 638.1h4.7v4.7h-4.7zM326.3 651.1h4.7v4.7h-4.7zM294.3 669.1h4.7v4.7h-4.7zM283.4 700.1h4.7v4.7h-4.7zM310.1 712.5h4.7v4.7h-4.7zM412.1 608.5h4.7v4.7h-4.7zM361.5 720.5h4.7v4.7h-4.7zM288.7 668.4h4.7v4.7h-4.7zM381.6 600.7h4.7v4.7h-4.7zM419.2 704.2h4.7v4.7h-4.7zM307.6 655.9h4.7v4.7h-4.7zM427.2 696.9h4.7v4.7h-4.7zM381.3 716.5h4.7v4.7h-4.7zM339.2 641.2h4.7v4.7h-4.7zM338.8 652.9h4.7v4.7h-4.7zM323.2 648.8h4.7v4.7h-4.7zM388.5 716.2h4.7v4.7h-4.7zM428 645.8h4.7v4.7h-4.7zM277.9 691.8h4.7v4.7h-4.7zM283.3 705h4.7v4.7h-4.7zM428.7 628.6h4.7v4.7h-4.7zM408.9 604h4.7v4.7h-4.7zM318.1 653.6h4.7v4.7h-4.7zM359.2 622.4h4.7v4.7h-4.7zM384.4 715h4.7v4.7h-4.7zM286.7 713.6h4.7v4.7h-4.7zM349.6 644.2h4.7v4.7h-4.7zM422.3 622h4.7v4.7h-4.7zM418.1 698h4.7v4.7h-4.7zM374.2 721.1h4.7v4.7h-4.7zM307.4 712.4h4.7v4.7h-4.7zM428.1 649.5h4.7v4.7h-4.7zM385.6 723.6h4.7v4.7h-4.7zM379.1 604.6h4.7v4.7h-4.7zM429.1 659.7h4.7v4.7h-4.7zM331.2 639.5h4.7v4.7h-4.7zM429.5 683.3h4.7v4.7h-4.7zM358.7 718.7h4.7v4.7h-4.7zM284.7 676.8h4.7v4.7h-4.7zM425.3 669.7h4.7v4.7h-4.7zM414.3 711.5h4.7v4.7h-4.7zM281.6 674h4.7v4.7h-4.7zM428.2 634.8h4.7v4.7h-4.7zM315.7 664.2h4.7v4.7h-4.7zM411.3 710.1h4.7v4.7h-4.7zM327.1 712.6h4.7v4.7h-4.7zM423.7 626.2h4.7v4.7h-4.7zM425.8 614h4.7v4.7h-4.7zM373.2 720.9h4.7v4.7h-4.7zM310.8 653.1h4.7v4.7h-4.7zM361.4 634h4.7v4.7h-4.7zM399.6 714h4.7v4.7h-4.7zM378.1 603.9h4.7v4.7h-4.7zM282.8 690.9h4.7v4.7h-4.7zM362.2 631.5h4.7v4.7h-4.7zM355 637.7h4.7v4.7h-4.7zM396.9 712.8h4.7v4.7h-4.7zM333.6 713.5h4.7v4.7h-4.7zM303.8 711.2h4.7v4.7h-4.7zM418.7 617.7h4.7v4.7h-4.7zM328.7 720.7h4.7v4.7h-4.7zM321.4 658.2h4.7v4.7h-4.7zM327 648.7h4.7v4.7h-4.7zM378 614.7h4.7v4.7h-4.7zM331 718.6h4.7v4.7h-4.7zM424.3 686h4.7v4.7h-4.7zM367.2 622.4h4.7v4.7h-4.7zM353.9 636.8h4.7v4.7h-4.7zM342.3 634.4h4.7v4.7h-4.7zM323.6 717.4h4.7v4.7h-4.7zM386.4 725.5h4.7v4.7h-4.7zM333.9 716.2h4.7v4.7h-4.7zM418.1 698h4.7v4.7h-4.7zM326.1 646.2h4.7v4.7h-4.7zM286.5 699.5h4.7v4.7h-4.7zM317.2 651h4.7v4.7h-4.7zM428.2 680.3h4.7v4.7h-4.7zM310.2 719h4.7v4.7h-4.7zM405.2 710.8h4.7v4.7h-4.7zM384.6 594.1h4.7v4.7h-4.7zM337.9 636.5h4.7v4.7h-4.7zM428.5 591.6h4.7v4.7h-4.7zM387.8 714.5h4.7v4.7h-4.7zM355.7 716.9h4.7v4.7h-4.7zM282.9 692.6h4.7v4.7h-4.7zM425.9 670.4h4.7v4.7h-4.7zM425.2 601.5h4.7v4.7h-4.7zM349.6 631.3h4.7v4.7h-4.7zM322.4 644.9h4.7v4.7h-4.7zM291.5 698.5h4.7v4.7h-4.7zM294.2 656.1h4.7v4.7h-4.7zM302.1 665.5h4.7v4.7h-4.7zM396.5 585.6h4.7v4.7h-4.7zM339.9 632.9h4.7v4.7h-4.7zM277.7 693.9h4.7v4.7h-4.7zM334.6 641.2h4.7v4.7h-4.7zM396.3 713.6h4.7v4.7h-4.7zM314.3 663.7h4.7v4.7h-4.7zM386.1 605.7h4.7v4.7h-4.7zM389.2 724.6h4.7v4.7h-4.7zM347.4 629h4.7v4.7h-4.7zM414.4 713.3h4.7v4.7h-4.7zM420.7 694.4h4.7v4.7h-4.7zM387.7 714.2h4.7v4.7h-4.7zM410.3 575.2h4.7v4.7h-4.7zM435.9 586.3h4.7v4.7h-4.7zM389.4 589.8h4.7v4.7h-4.7zM401.6 588.3h4.7v4.7h-4.7zM382.1 594.7h4.7v4.7h-4.7zM411.2 596.2h4.7v4.7h-4.7zM327.4 613.6h4.7v4.7h-4.7zM360.9 606.4h4.7v4.7h-4.7zM280.9 650.9h4.7v4.7h-4.7zM300.4 649.7h4.7v4.7h-4.7zM287.3 656.7h4.7v4.7h-4.7zM301.3 657.3h4.7v4.7h-4.7zM431.3 631.1h4.7v4.7h-4.7zM430.7 670.9h4.7v4.7h-4.7zM431.3 700h4.7v4.7h-4.7zM383.3 727.9h4.7v4.7h-4.7zM328.9 722.7h4.7v4.7h-4.7zM344.3 722.7h4.7v4.7h-4.7zM365.8 722.7h4.7v4.7h-4.7zM283.8 717.5h4.7v4.7h-4.7z" fill="#b3b3b3"/>
<rect x="222.2" y="477.2" width="311.5" height="306" fill="none" stroke="#444" stroke-width="1.1"/>
<path d="M378.4 477.2V783.2M222.2 664.5H533.7" stroke="#111" stroke-width="1.3" fill="none"/>
<path d="M243.6 783.2v8M388.5 783.2v8M450.6 783.2v8M507.2 783.2v8M301.9 783.2v6.5M331.6 783.2v6.5M407.2 783.2v4M418.1 783.2v4M425.9 783.2v4M431.9 783.2v6M436.8 783.2v4M441 783.2v4M444.6 783.2v4M447.8 783.2v4M467.6 783.2v4M477.6 783.2v4M484.7 783.2v4M490.2 783.2v6M494.6 783.2v4M498.4 783.2v4M501.7 783.2v4M504.6 783.2v4M348.7 783.2v4M358.7 783.2v4M365.9 783.2v4M371.4 783.2v6M375.9 783.2v4M379.7 783.2v4M383 783.2v4M385.9 783.2v4M284.3 783.2v4M274.1 783.2v4M266.8 783.2v4M261.2 783.2v6M256.5 783.2v4M252.6 783.2v4M249.2 783.2v4M246.3 783.2v4M524.2 783.2v4M233.9 783.2v4M304.3 783.2v3.5M306.8 783.2v4.3M309.2 783.2v4.3M311.7 783.2v5.3M314.2 783.2v6.7M316.7 783.2v9M319.2 783.2v5.9M321.7 783.2v5.9M324.1 783.2v4.3M326.6 783.2v4.1M329.1 783.2v3.5M222.2 738.1h-8M222.2 647.6h-8M222.2 570.5h-8M222.2 503.1h-8M222.2 702.7h-6.5M222.2 683.8h-6.5M222.2 624.4h-4M222.2 610.8h-4M222.2 601.2h-4M222.2 593.7h-6M222.2 587.6h-4M222.2 582.4h-4M222.2 578h-4M222.2 574h-4M222.2 550.2h-4M222.2 538.3h-4M222.2 529.9h-4M222.2 523.4h-6M222.2 518.1h-4M222.2 513.5h-4M222.2 509.6h-4M222.2 506.2h-4M222.2 672.9h-4M222.2 666.5h-4M222.2 662h-4M222.2 658.5h-6M222.2 655.6h-4M222.2 653.2h-4M222.2 651.1h-4M222.2 649.3h-4M222.2 713.4h-4M222.2 719.6h-4M222.2 724h-4M222.2 727.4h-6M222.2 730.2h-4M222.2 732.6h-4M222.2 734.7h-4M222.2 736.5h-4M222.2 482.8h-4M222.2 744h-4M222.2 701.2h-3.5M222.2 699.6h-4.3M222.2 698.1h-4.3M222.2 696.5h-5.3M222.2 694.9h-6.7M222.2 693.3h-9M222.2 691.7h-5.9M222.2 690.1h-5.9M222.2 688.6h-4.3M222.2 687h-4.1M222.2 685.4h-3.5" stroke="#111" stroke-width="1" fill="none"/>
<text transform="translate(226.7 507.5) scale(1 1.05)" font-size="26.9">0</text>
<text transform="translate(521.2 507.5) scale(1 1.05)" font-size="26.9" text-anchor="end">0</text>
<text transform="translate(226.7 778) scale(1 1.05)" font-size="26.9">0</text>
<text transform="translate(521.2 778) scale(1 1.05)" font-size="26.9" text-anchor="end">0</text>
</g>
<g id="f4">
<path d="M658.9 693.1L661.8 680L676.3 674.1L699.6 671.2L722.9 662.5L734.5 650.9L743.2 627.6L757.8 610.2L775.2 605.8L783.4 616L788.3 637.8L788.3 661.1L785.4 684.3L782.5 700.3L769.4 711.1L749.1 715.5L722.9 714L699.6 711.1L676.3 708.2L663.3 703.2ZM659 692.6h4.7v4.7h-4.7zM653.8 686.8h4.7v4.7h-4.7zM656.8 690h4.7v4.7h-4.7zM656.7 685.6h4.7v4.7h-4.7zM656.5 689.2h4.7v4.7h-4.7zM654.8 688.4h4.7v4.7h-4.7zM659 685.1h4.7v4.7h-4.7zM659.5 683.1h4.7v4.7h-4.7zM658.2 685.6h4.7v4.7h-4.7zM657.7 681.1h4.7v4.7h-4.7zM656.2 678.9h4.7v4.7h-4.7zM660.4 682.3h4.7v4.7h-4.7zM660.8 678.9h4.7v4.7h-4.7zM660.6 678.3h4.7v4.7h-4.7zM663.5 676.5h4.7v4.7h-4.7zM663.7 676.7h4.7v4.7h-4.7zM660.4 673.4h4.7v4.7h-4.7zM663.2 675.1h4.7v4.7h-4.7zM663.3 673.6h4.7v4.7h-4.7zM666.1 675.9h4.7v4.7h-4.7zM669.5 672.6h4.7v4.7h-4.7zM668.5 676.4h4.7v4.7h-4.7zM670.6 677h4.7v4.7h-4.7zM668.9 673.5h4.7v4.7h-4.7zM672.3 671.8h4.7v4.7h-4.7zM671.8 673.1h4.7v4.7h-4.7zM673.9 670.8h4.7v4.7h-4.7zM673.1 671.7h4.7v4.7h-4.7zM673.3 671.9h4.7v4.7h-4.7zM674.2 671h4.7v4.7h-4.7zM676.5 671.4h4.7v4.7h-4.7zM677.9 670.7h4.7v4.7h-4.7zM679.5 671.2h4.7v4.7h-4.7zM684.1 667.4h4.7v4.7h-4.7zM684.3 671.1h4.7v4.7h-4.7zM682.6 668.1h4.7v4.7h-4.7zM688.7 670.7h4.7v4.7h-4.7zM687.6 669.6h4.7v4.7h-4.7zM686.5 672.2h4.7v4.7h-4.7zM689.4 669.5h4.7v4.7h-4.7zM689.9 671h4.7v4.7h-4.7zM688.7 668.1h4.7v4.7h-4.7zM692.5 671.5h4.7v4.7h-4.7zM694.3 669.8h4.7v4.7h-4.7zM697.6 668.9h4.7v4.7h-4.7zM694 673.8h4.7v4.7h-4.7zM696.3 670.1h4.7v4.7h-4.7zM698.4 669.1h4.7v4.7h-4.7zM699.8 669.5h4.7v4.7h-4.7zM700.5 667h4.7v4.7h-4.7zM701.5 670h4.7v4.7h-4.7zM702.9 666.5h4.7v4.7h-4.7zM703.8 664.6h4.7v4.7h-4.7zM701.1 665.5h4.7v4.7h-4.7zM708.9 664.5h4.7v4.7h-4.7zM701.9 665.5h4.7v4.7h-4.7zM706.5 666.4h4.7v4.7h-4.7zM710.3 664.3h4.7v4.7h-4.7zM710.2 662.4h4.7v4.7h-4.7zM712.3 662.7h4.7v4.7h-4.7zM712.2 668h4.7v4.7h-4.7zM710.3 663.7h4.7v4.7h-4.7zM714.1 663.5h4.7v4.7h-4.7zM715.1 665.5h4.7v4.7h-4.7zM717.3 662.9h4.7v4.7h-4.7zM713.9 662.6h4.7v4.7h-4.7zM715.9 663.3h4.7v4.7h-4.7zM718.3 662.9h4.7v4.7h-4.7zM719.6 660.6h4.7v4.7h-4.7zM720.7 661.3h4.7v4.7h-4.7zM722 657.4h4.7v4.7h-4.7zM721.5 657.3h4.7v4.7h-4.7zM722.1 654.5h4.7v4.7h-4.7zM721 660.5h4.7v4.7h-4.7zM724.1 653h4.7v4.7h-4.7zM727.5 655.8h4.7v4.7h-4.7zM727 655.8h4.7v4.7h-4.7zM730.8 651.9h4.7v4.7h-4.7zM731.6 653h4.7v4.7h-4.7zM731.1 650.8h4.7v4.7h-4.7zM733.8 652.5h4.7v4.7h-4.7zM725.5 652.7h4.7v4.7h-4.7zM734.8 645.9h4.7v4.7h-4.7zM732.9 648.2h4.7v4.7h-4.7zM733.4 644.8h4.7v4.7h-4.7zM734.3 647.9h4.7v4.7h-4.7zM733.6 644.2h4.7v4.7h-4.7zM730.4 645.4h4.7v4.7h-4.7zM732.1 642.3h4.7v4.7h-4.7zM733 647.3h4.7v4.7h-4.7zM735.4 643.1h4.7v4.7h-4.7zM735.3 640h4.7v4.7h-4.7zM737.6 637.9h4.7v4.7h-4.7zM740.7 637.6h4.7v4.7h-4.7zM740.1 633.5h4.7v4.7h-4.7zM735.2 637.1h4.7v4.7h-4.7zM735.1 637.6h4.7v4.7h-4.7zM738.8 633.9h4.7v4.7h-4.7zM742 630.6h4.7v4.7h-4.7zM737.1 626.6h4.7v4.7h-4.7zM735.6 628.9h4.7v4.7h-4.7zM735.3 631h4.7v4.7h-4.7zM742 628.3h4.7v4.7h-4.7zM737 625.7h4.7v4.7h-4.7zM738.2 626.7h4.7v4.7h-4.7zM742.9 624.8h4.7v4.7h-4.7zM742.5 624h4.7v4.7h-4.7zM743.8 621.8h4.7v4.7h-4.7zM742 623.3h4.7v4.7h-4.7zM744.8 622.7h4.7v4.7h-4.7zM745.4 621.6h4.7v4.7h-4.7zM746.2 618.9h4.7v4.7h-4.7zM750.1 620.4h4.7v4.7h-4.7zM746.3 618.1h4.7v4.7h-4.7zM746.8 613.8h4.7v4.7h-4.7zM746.1 613.7h4.7v4.7h-4.7zM748.4 615.4h4.7v4.7h-4.7zM749.5 612h4.7v4.7h-4.7zM750.7 611.8h4.7v4.7h-4.7zM748.9 615.2h4.7v4.7h-4.7zM750.5 613.1h4.7v4.7h-4.7zM749.2 611.9h4.7v4.7h-4.7zM752.6 611.5h4.7v4.7h-4.7zM754.8 608h4.7v4.7h-4.7zM756.7 610.3h4.7v4.7h-4.7zM758.1 610.7h4.7v4.7h-4.7zM756.9 611.5h4.7v4.7h-4.7zM756.5 607h4.7v4.7h-4.7zM756.8 606.3h4.7v4.7h-4.7zM757 607h4.7v4.7h-4.7zM758.5 609.9h4.7v4.7h-4.7zM763.6 609.4h4.7v4.7h-4.7zM766.5 606h4.7v4.7h-4.7zM765.1 606.1h4.7v4.7h-4.7zM762.7 602.8h4.7v4.7h-4.7zM765.6 607h4.7v4.7h-4.7zM765.8 604.9h4.7v4.7h-4.7zM767.4 606h4.7v4.7h-4.7zM772.3 602h4.7v4.7h-4.7zM768.5 606.9h4.7v4.7h-4.7zM775 603.4h4.7v4.7h-4.7zM774.6 603.6h4.7v4.7h-4.7zM775.5 604.7h4.7v4.7h-4.7zM775.6 608.8h4.7v4.7h-4.7zM779.1 610.1h4.7v4.7h-4.7zM776.4 609.5h4.7v4.7h-4.7zM777 609h4.7v4.7h-4.7zM778.1 607.4h4.7v4.7h-4.7zM779.8 608.2h4.7v4.7h-4.7zM782.7 613.3h4.7v4.7h-4.7zM781.7 612.3h4.7v4.7h-4.7zM779.9 612.9h4.7v4.7h-4.7zM778.3 615h4.7v4.7h-4.7zM779.8 617.5h4.7v4.7h-4.7zM784.7 620.9h4.7v4.7h-4.7zM779.4 615.3h4.7v4.7h-4.7zM785.4 621.8h4.7v4.7h-4.7zM784.7 621.5h4.7v4.7h-4.7zM783.5 626.6h4.7v4.7h-4.7zM784.8 623.8h4.7v4.7h-4.7zM781.6 624.9h4.7v4.7h-4.7zM786.2 625.7h4.7v4.7h-4.7zM785.9 626.4h4.7v4.7h-4.7zM785.5 625.6h4.7v4.7h-4.7zM784.2 631.1h4.7v4.7h-4.7zM787.9 628.3h4.7v4.7h-4.7zM784.6 630.7h4.7v4.7h-4.7zM784.7 631.2h4.7v4.7h-4.7zM787.3 634h4.7v4.7h-4.7zM785.5 634.2h4.7v4.7h-4.7zM782.5 635.2h4.7v4.7h-4.7zM790 633.4h4.7v4.7h-4.7zM784.9 638.3h4.7v4.7h-4.7zM788 637.3h4.7v4.7h-4.7zM783.9 643.2h4.7v4.7h-4.7zM781.4 638.3h4.7v4.7h-4.7zM784.5 637.8h4.7v4.7h-4.7zM788.7 646.4h4.7v4.7h-4.7zM783 643.9h4.7v4.7h-4.7zM785.5 646.2h4.7v4.7h-4.7zM785.6 648.2h4.7v4.7h-4.7zM787 646.8h4.7v4.7h-4.7zM786.1 652.2h4.7v4.7h-4.7zM786.4 650.7h4.7v4.7h-4.7zM786 653.2h4.7v4.7h-4.7zM789.3 651.9h4.7v4.7h-4.7zM785 652.6h4.7v4.7h-4.7zM788 652.5h4.7v4.7h-4.7zM787 661.5h4.7v4.7h-4.7zM786.4 660h4.7v4.7h-4.7zM786 658.6h4.7v4.7h-4.7zM787.2 657h4.7v4.7h-4.7zM780.9 661h4.7v4.7h-4.7zM784.3 661.5h4.7v4.7h-4.7zM789.4 664.6h4.7v4.7h-4.7zM782.4 664.2h4.7v4.7h-4.7zM781.6 661.4h4.7v4.7h-4.7zM789.4 663.9h4.7v4.7h-4.7zM780.4 667.9h4.7v4.7h-4.7zM784.5 669h4.7v4.7h-4.7zM784.2 670h4.7v4.7h-4.7zM786.3 670h4.7v4.7h-4.7zM782.8 673.4h4.7v4.7h-4.7zM783.1 674.9h4.7v4.7h-4.7zM784.1 674.7h4.7v4.7h-4.7zM783.1 676.3h4.7v4.7h-4.7zM785.7 676.8h4.7v4.7h-4.7zM779.2 678.9h4.7v4.7h-4.7zM781.9 680.9h4.7v4.7h-4.7zM782.2 680.5h4.7v4.7h-4.7zM782.6 680.4h4.7v4.7h-4.7zM780.5 681.8h4.7v4.7h-4.7zM783 681h4.7v4.7h-4.7zM777.8 684.8h4.7v4.7h-4.7zM786.7 685h4.7v4.7h-4.7zM781.7 684.4h4.7v4.7h-4.7zM779.3 691.9h4.7v4.7h-4.7zM778.5 689.4h4.7v4.7h-4.7zM780 692.4h4.7v4.7h-4.7zM784.6 691.5h4.7v4.7h-4.7zM780.4 695.7h4.7v4.7h-4.7zM780.4 689.7h4.7v4.7h-4.7zM783.4 694.7h4.7v4.7h-4.7zM781.1 700.3h4.7v4.7h-4.7zM782.1 698.7h4.7v4.7h-4.7zM783.6 696.2h4.7v4.7h-4.7zM775 697.3h4.7v4.7h-4.7zM778.5 700h4.7v4.7h-4.7zM775.1 705.5h4.7v4.7h-4.7zM778.1 701.5h4.7v4.7h-4.7zM773.2 702.5h4.7v4.7h-4.7zM775.2 701.9h4.7v4.7h-4.7zM778.6 707.7h4.7v4.7h-4.7zM774.1 704.2h4.7v4.7h-4.7zM767.4 707.9h4.7v4.7h-4.7zM769.5 707.9h4.7v4.7h-4.7zM769.9 704.6h4.7v4.7h-4.7zM769.1 706.9h4.7v4.7h-4.7zM766.7 708.6h4.7v4.7h-4.7zM767.3 708.4h4.7v4.7h-4.7zM766.6 710.4h4.7v4.7h-4.7zM764.6 709h4.7v4.7h-4.7zM762 709h4.7v4.7h-4.7zM762.3 710.2h4.7v4.7h-4.7zM759.7 706.5h4.7v4.7h-4.7zM760.5 708.4h4.7v4.7h-4.7zM758 715.8h4.7v4.7h-4.7zM760.2 705.9h4.7v4.7h-4.7zM752.2 713.3h4.7v4.7h-4.7zM754.2 708h4.7v4.7h-4.7zM750 711.4h4.7v4.7h-4.7zM751.9 711.7h4.7v4.7h-4.7zM750.7 712.2h4.7v4.7h-4.7zM750.4 710.5h4.7v4.7h-4.7zM750.5 715.8h4.7v4.7h-4.7zM747.3 712.3h4.7v4.7h-4.7zM750.9 710.9h4.7v4.7h-4.7zM744.5 714.2h4.7v4.7h-4.7zM746.2 713h4.7v4.7h-4.7zM746.7 712.8h4.7v4.7h-4.7zM742.4 712.8h4.7v4.7h-4.7zM742.7 712.9h4.7v4.7h-4.7zM742.6 714.2h4.7v4.7h-4.7zM742.9 712.5h4.7v4.7h-4.7zM735.6 711.4h4.7v4.7h-4.7zM736.4 713.3h4.7v4.7h-4.7zM734 713.1h4.7v4.7h-4.7zM735.7 710.1h4.7v4.7h-4.7zM729.6 715h4.7v4.7h-4.7zM731.2 716.2h4.7v4.7h-4.7zM729.5 709.4h4.7v4.7h-4.7zM727.7 710.6h4.7v4.7h-4.7zM733.1 708.3h4.7v4.7h-4.7zM722.9 710.2h4.7v4.7h-4.7zM725.4 716.5h4.7v4.7h-4.7zM727.4 710h4.7v4.7h-4.7zM726.1 714.4h4.7v4.7h-4.7zM721.6 713h4.7v4.7h-4.7zM721.4 711.4h4.7v4.7h-4.7zM719.7 710.5h4.7v4.7h-4.7zM719.2 710.3h4.7v4.7h-4.7zM720 712.8h4.7v4.7h-4.7zM712.7 711.9h4.7v4.7h-4.7zM715.6 712.7h4.7v4.7h-4.7zM712.9 713.2h4.7v4.7h-4.7zM715.3 712.7h4.7v4.7h-4.7zM712.5 707.7h4.7v4.7h-4.7zM711.1 712.8h4.7v4.7h-4.7zM710.8 711.5h4.7v4.7h-4.7zM708.9 710.1h4.7v4.7h-4.7zM703.9 706.3h4.7v4.7h-4.7zM706.3 711.6h4.7v4.7h-4.7zM703.8 708.6h4.7v4.7h-4.7zM703.9 712.4h4.7v4.7h-4.7zM700.7 709.2h4.7v4.7h-4.7zM702.7 711.5h4.7v4.7h-4.7zM700.5 708h4.7v4.7h-4.7zM698.6 706.8h4.7v4.7h-4.7zM696.9 710.8h4.7v4.7h-4.7zM697.7 707.9h4.7v4.7h-4.7zM692.8 707.8h4.7v4.7h-4.7zM696.5 709.8h4.7v4.7h-4.7zM693.6 709.9h4.7v4.7h-4.7zM695.2 708.6h4.7v4.7h-4.7zM691.7 704h4.7v4.7h-4.7zM691.7 707.2h4.7v4.7h-4.7zM688.5 705.8h4.7v4.7h-4.7zM687.5 705.4h4.7v4.7h-4.7zM685.5 705.3h4.7v4.7h-4.7zM687.8 706.7h4.7v4.7h-4.7zM683.7 705.8h4.7v4.7h-4.7zM683.1 705.6h4.7v4.7h-4.7zM679.3 707.8h4.7v4.7h-4.7zM679.6 704.4h4.7v4.7h-4.7zM677.9 711h4.7v4.7h-4.7zM680.9 707h4.7v4.7h-4.7zM677 706.8h4.7v4.7h-4.7zM677.3 710.8h4.7v4.7h-4.7zM677.2 706.3h4.7v4.7h-4.7zM670.6 704h4.7v4.7h-4.7zM672.4 704.2h4.7v4.7h-4.7zM672.8 704.5h4.7v4.7h-4.7zM670.7 705.2h4.7v4.7h-4.7zM668.8 701.7h4.7v4.7h-4.7zM666.9 702.1h4.7v4.7h-4.7zM665.7 703.6h4.7v4.7h-4.7zM667.8 701.9h4.7v4.7h-4.7zM664.6 700.5h4.7v4.7h-4.7zM663.8 702.3h4.7v4.7h-4.7zM663.6 704.9h4.7v4.7h-4.7zM661.6 703.1h4.7v4.7h-4.7zM660.3 701.8h4.7v4.7h-4.7zM658.4 700.5h4.7v4.7h-4.7zM663.1 697.1h4.7v4.7h-4.7zM657.6 697.5h4.7v4.7h-4.7zM659.3 698.7h4.7v4.7h-4.7zM653.1 693.7h4.7v4.7h-4.7zM659.5 695.4h4.7v4.7h-4.7zM655.4 694.3h4.7v4.7h-4.7zM657.8 692.9h4.7v4.7h-4.7zM657.4 684.3h4.7v4.7h-4.7zM785.6 612.8h4.7v4.7h-4.7zM790.4 690.9h4.7v4.7h-4.7zM694 647.1h4.7v4.7h-4.7zM701.6 661.3h4.7v4.7h-4.7zM662.6 658.7h4.7v4.7h-4.7zM685.8 650.2h4.7v4.7h-4.7zM727.3 636h4.7v4.7h-4.7zM739.3 722.2h4.7v4.7h-4.7zM784.7 625.3h4.7v4.7h-4.7zM657 686.7h4.7v4.7h-4.7zM782.8 698.2h4.7v4.7h-4.7zM763.8 710.8h4.7v4.7h-4.7zM798.2 674.3h4.7v4.7h-4.7zM752 611.3h4.7v4.7h-4.7zM694 647.4h4.7v4.7h-4.7zM655.9 676.2h4.7v4.7h-4.7zM675.4 666.1h4.7v4.7h-4.7zM719.6 646.2h4.7v4.7h-4.7zM713.2 647.8h4.7v4.7h-4.7zM705.1 637.1h4.7v4.7h-4.7zM742.8 620.5h4.7v4.7h-4.7zM646.7 674h4.7v4.7h-4.7zM779.9 606.7h4.7v4.7h-4.7zM654.7 694.5h4.7v4.7h-4.7zM645.3 691.5h4.7v4.7h-4.7zM790.8 664.7h4.7v4.7h-4.7zM704.1 656.1h4.7v4.7h-4.7zM698.2 635.9h4.7v4.7h-4.7zM780.3 604.3h4.7v4.7h-4.7zM787.6 628.1h4.7v4.7h-4.7zM653.3 694.4h4.7v4.7h-4.7zM657.1 700.9h4.7v4.7h-4.7zM735.4 715h4.7v4.7h-4.7zM664.3 703.9h4.7v4.7h-4.7zM704.8 709.9h4.7v4.7h-4.7zM727.3 712.8h4.7v4.7h-4.7zM687.2 714.5h4.7v4.7h-4.7zM682.9 664h4.7v4.7h-4.7zM672.6 654h4.7v4.7h-4.7zM673.9 707h4.7v4.7h-4.7zM697.7 661.5h4.7v4.7h-4.7zM770.2 707.7h4.7v4.7h-4.7zM741.6 602.5h4.7v4.7h-4.7zM750 717.9h4.7v4.7h-4.7zM667.2 664.1h4.7v4.7h-4.7zM755.7 602.2h4.7v4.7h-4.7zM759.2 595.5h4.7v4.7h-4.7zM764.5 717h4.7v4.7h-4.7zM698.3 648.5h4.7v4.7h-4.7zM729.3 717.6h4.7v4.7h-4.7zM791.9 657.8h4.7v4.7h-4.7zM784.3 702.7h4.7v4.7h-4.7zM778.7 606h4.7v4.7h-4.7zM728.2 644h4.7v4.7h-4.7zM651.8 691h4.7v4.7h-4.7zM709.6 716h4.7v4.7h-4.7zM796.6 670.9h4.7v4.7h-4.7zM766.6 604.7h4.7v4.7h-4.7zM792.8 666.9h4.7v4.7h-4.7zM717.5 618.2h4.7v4.7h-4.7zM790.6 653.8h4.7v4.7h-4.7zM750.3 716.5h4.7v4.7h-4.7zM671.6 708.3h4.7v4.7h-4.7zM785.5 673.7h4.7v4.7h-4.7zM796.1 653.2h4.7v4.7h-4.7zM784.3 678.3h4.7v4.7h-4.7zM688.7 662.2h4.7v4.7h-4.7zM787.6 629.5h4.7v4.7h-4.7zM796 645.7h4.7v4.7h-4.7zM689.2 656.7h4.7v4.7h-4.7zM718.8 633.1h4.7v4.7h-4.7zM788.4 618.1h4.7v4.7h-4.7zM662.7 711.2h4.7v4.7h-4.7zM761.2 605.7h4.7v4.7h-4.7zM653.8 688.8h4.7v4.7h-4.7zM656.8 677h4.7v4.7h-4.7zM731 620.8h4.7v4.7h-4.7zM787 621.4h4.7v4.7h-4.7zM702.6 713.7h4.7v4.7h-4.7zM726.3 650.1h4.7v4.7h-4.7zM687.5 722.6h4.7v4.7h-4.7zM785.2 672h4.7v4.7h-4.7zM702 647.7h4.7v4.7h-4.7zM712.9 626.8h4.7v4.7h-4.7zM769.3 712.7h4.7v4.7h-4.7zM701.7 653.9h4.7v4.7h-4.7zM713.9 643.6h4.7v4.7h-4.7zM739.5 713.8h4.7v4.7h-4.7zM653 698.3h4.7v4.7h-4.7zM761.5 603.9h4.7v4.7h-4.7zM737.7 623.1h4.7v4.7h-4.7zM714.4 651.2h4.7v4.7h-4.7zM673.1 662.1h4.7v4.7h-4.7zM708.9 634.1h4.7v4.7h-4.7zM683.3 644.2h4.7v4.7h-4.7zM733 631.4h4.7v4.7h-4.7zM714.3 660.3h4.7v4.7h-4.7zM656.3 661.9h4.7v4.7h-4.7zM679.3 648.1h4.7v4.7h-4.7zM791.2 672.3h4.7v4.7h-4.7zM775.3 707.7h4.7v4.7h-4.7zM687.8 664.4h4.7v4.7h-4.7zM784.8 691.8h4.7v4.7h-4.7zM764.3 605.5h4.7v4.7h-4.7zM707.7 717.9h4.7v4.7h-4.7zM745.2 620h4.7v4.7h-4.7zM777.7 710.6h4.7v4.7h-4.7zM705.5 710.2h4.7v4.7h-4.7zM721.2 714h4.7v4.7h-4.7zM757 711.6h4.7v4.7h-4.7zM730.8 632.6h4.7v4.7h-4.7zM660.5 705.5h4.7v4.7h-4.7zM695.6 709.3h4.7v4.7h-4.7zM691.6 708.5h4.7v4.7h-4.7zM715.3 643.1h4.7v4.7h-4.7zM712.4 660.7h4.7v4.7h-4.7zM798.3 678.5h4.7v4.7h-4.7zM790 661.3h4.7v4.7h-4.7zM799.8 654.9h4.7v4.7h-4.7zM720 717.7h4.7v4.7h-4.7zM713.6 661.9h4.7v4.7h-4.7zM726.3 626.7h4.7v4.7h-4.7zM682.4 714.3h4.7v4.7h-4.7zM703.8 647h4.7v4.7h-4.7zM684.4 656.3h4.7v4.7h-4.7zM755.8 605.2h4.7v4.7h-4.7zM737.1 712.6h4.7v4.7h-4.7zM671.5 716.3h4.7v4.7h-4.7zM723.5 723.7h4.7v4.7h-4.7zM741.2 718.7h4.7v4.7h-4.7zM727.5 641.4h4.7v4.7h-4.7zM690.4 712.3h4.7v4.7h-4.7zM788.8 677.8h4.7v4.7h-4.7zM656.3 684.8h4.7v4.7h-4.7zM718.5 660h4.7v4.7h-4.7zM769.7 600.3h4.7v4.7h-4.7zM798.2 678.1h4.7v4.7h-4.7zM655.4 660.4h4.7v4.7h-4.7zM756.3 711.2h4.7v4.7h-4.7zM730.9 717.1h4.7v4.7h-4.7zM687.2 669.1h4.7v4.7h-4.7zM747.4 601.1h4.7v4.7h-4.7zM691 650.5h4.7v4.7h-4.7zM730.6 714.9h4.7v4.7h-4.7zM692 651h4.7v4.7h-4.7zM786.2 644.9h4.7v4.7h-4.7zM697.9 711.8h4.7v4.7h-4.7zM719.6 659.8h4.7v4.7h-4.7zM713.9 659h4.7v4.7h-4.7zM650.8 692.5h4.7v4.7h-4.7zM786.3 700.9h4.7v4.7h-4.7zM741.1 606.5h4.7v4.7h-4.7zM786.2 607.5h4.7v4.7h-4.7zM734.7 618.4h4.7v4.7h-4.7zM641.6 706.2h4.7v4.7h-4.7zM705.3 648.3h4.7v4.7h-4.7zM703.2 655.7h4.7v4.7h-4.7zM699 637.7h4.7v4.7h-4.7zM708.8 633.7h4.7v4.7h-4.7zM679.8 667.9h4.7v4.7h-4.7zM710.7 663.7h4.7v4.7h-4.7zM744.1 620.5h4.7v4.7h-4.7zM730.6 643.7h4.7v4.7h-4.7zM716.4 650.7h4.7v4.7h-4.7zM787.7 683.6h4.7v4.7h-4.7zM724.8 632.3h4.7v4.7h-4.7zM691.6 645.2h4.7v4.7h-4.7zM660.6 705h4.7v4.7h-4.7zM708.3 642.5h4.7v4.7h-4.7zM793 623.7h4.7v4.7h-4.7zM724.8 720.7h4.7v4.7h-4.7zM702.3 661h4.7v4.7h-4.7zM783.3 609.2h4.7v4.7h-4.7zM717.7 627.7h4.7v4.7h-4.7zM652.6 699.7h4.7v4.7h-4.7zM690.3 662.1h4.7v4.7h-4.7zM729 723.8h4.7v4.7h-4.7zM746.2 597.3h4.7v4.7h-4.7zM657.7 675.5h4.7v4.7h-4.7zM641.1 691.2h4.7v4.7h-4.7zM701.1 712.2h4.7v4.7h-4.7zM659.4 658.4h4.7v4.7h-4.7zM779.9 708.2h4.7v4.7h-4.7zM715.2 719.6h4.7v4.7h-4.7zM786.1 632.9h4.7v4.7h-4.7zM779.9 698.5h4.7v4.7h-4.7zM772.9 712.9h4.7v4.7h-4.7zM700.8 649.2h4.7v4.7h-4.7zM678 707.6h4.7v4.7h-4.7zM741.6 718.4h4.7v4.7h-4.7zM681.5 708.4h4.7v4.7h-4.7zM653.6 696.5h4.7v4.7h-4.7zM653.7 669.8h4.7v4.7h-4.7zM724.4 715h4.7v4.7h-4.7zM663.2 666h4.7v4.7h-4.7zM705.7 714.7h4.7v4.7h-4.7zM714.1 719.7h4.7v4.7h-4.7zM778.2 704.7h4.7v4.7h-4.7zM716.9 630.1h4.7v4.7h-4.7zM679.5 706.5h4.7v4.7h-4.7zM696.5 709.7h4.7v4.7h-4.7zM745.2 714h4.7v4.7h-4.7zM721.4 655.5h4.7v4.7h-4.7zM793.6 624.5h4.7v4.7h-4.7zM715.9 633.2h4.7v4.7h-4.7zM734.4 635.9h4.7v4.7h-4.7zM670.6 660.6h4.7v4.7h-4.7zM681.7 661.9h4.7v4.7h-4.7zM719 632.6h4.7v4.7h-4.7zM756 602.7h4.7v4.7h-4.7zM719.9 637.2h4.7v4.7h-4.7zM669.6 657.7h4.7v4.7h-4.7zM719.2 643.4h4.7v4.7h-4.7zM768.3 712.3h4.7v4.7h-4.7zM786 681.6h4.7v4.7h-4.7zM783 692.6h4.7v4.7h-4.7zM724.5 651.9h4.7v4.7h-4.7zM661.9 666.9h4.7v4.7h-4.7zM726.1 624.1h4.7v4.7h-4.7zM666.9 667.7h4.7v4.7h-4.7zM734.1 620.8h4.7v4.7h-4.7zM784 621.6h4.7v4.7h-4.7zM658.9 657h4.7v4.7h-4.7zM686.3 718.6h4.7v4.7h-4.7zM664.9 661.4h4.7v4.7h-4.7zM737.7 618h4.7v4.7h-4.7zM708.4 654.7h4.7v4.7h-4.7zM660.3 701.5h4.7v4.7h-4.7zM739.5 723.6h4.7v4.7h-4.7zM787.5 696h4.7v4.7h-4.7zM696.2 667.2h4.7v4.7h-4.7zM703.1 642.1h4.7v4.7h-4.7zM787.8 642.5h4.7v4.7h-4.7zM744.9 714.5h4.7v4.7h-4.7zM789.5 698.8h4.7v4.7h-4.7zM782.1 607.7h4.7v4.7h-4.7zM653.1 672.2h4.7v4.7h-4.7zM694.9 666.9h4.7v4.7h-4.7zM700 667.1h4.7v4.7h-4.7zM746.5 617.9h4.7v4.7h-4.7zM741.2 717h4.7v4.7h-4.7zM752.4 600.5h4.7v4.7h-4.7zM728.7 638.1h4.7v4.7h-4.7zM735.5 615h4.7v4.7h-4.7zM736.4 713.2h4.7v4.7h-4.7zM643.8 687.5h4.7v4.7h-4.7zM699.5 721.8h4.7v4.7h-4.7zM701.9 644.1h4.7v4.7h-4.7zM658.4 703.5h4.7v4.7h-4.7zM735.6 723.4h4.7v4.7h-4.7zM793.4 663.3h4.7v4.7h-4.7zM795 687.4h4.7v4.7h-4.7zM683.4 654.6h4.7v4.7h-4.7zM700.7 643.3h4.7v4.7h-4.7zM786.9 654.5h4.7v4.7h-4.7zM732.8 624.5h4.7v4.7h-4.7zM684.5 707.8h4.7v4.7h-4.7zM694.1 662.4h4.7v4.7h-4.7zM785.6 686.9h4.7v4.7h-4.7zM694.9 646.9h4.7v4.7h-4.7zM722.4 714.2h4.7v4.7h-4.7zM732 645.9h4.7v4.7h-4.7zM729.2 631h4.7v4.7h-4.7zM690.3 710.3h4.7v4.7h-4.7zM641.2 701.5h4.7v4.7h-4.7zM733.9 613.9h4.7v4.7h-4.7zM722.5 658.1h4.7v4.7h-4.7zM786.4 632.6h4.7v4.7h-4.7zM668.5 673.9h4.7v4.7h-4.7zM784.3 686.2h4.7v4.7h-4.7zM788.3 611.8h4.7v4.7h-4.7zM748 609.1h4.7v4.7h-4.7zM728.8 619.2h4.7v4.7h-4.7zM667.2 659.6h4.7v4.7h-4.7zM773 711.8h4.7v4.7h-4.7zM665.5 655.8h4.7v4.7h-4.7zM701 631h4.7v4.7h-4.7zM751.9 608.9h4.7v4.7h-4.7zM776.2 602.6h4.7v4.7h-4.7zM705.2 663.2h4.7v4.7h-4.7zM663.5 666.7h4.7v4.7h-4.7zM655.3 674.9h4.7v4.7h-4.7zM677.7 707.4h4.7v4.7h-4.7zM664.4 704.5h4.7v4.7h-4.7zM762.7 598.3h4.7v4.7h-4.7zM705.3 657.5h4.7v4.7h-4.7zM671 704.8h4.7v4.7h-4.7zM775.3 706.6h4.7v4.7h-4.7zM784.7 702.4h4.7v4.7h-4.7zM699.5 624.6h4.7v4.7h-4.7zM695 666.1h4.7v4.7h-4.7zM713.3 645h4.7v4.7h-4.7zM719.5 637.3h4.7v4.7h-4.7zM787 640.5h4.7v4.7h-4.7zM698 666.9h4.7v4.7h-4.7zM709.4 644.8h4.7v4.7h-4.7zM776.7 548.2h4.7v4.7h-4.7zM767.1 582.2h4.7v4.7h-4.7zM780.2 589.5h4.7v4.7h-4.7zM754.9 591.8h4.7v4.7h-4.7zM774.3 593.3h4.7v4.7h-4.7zM743.8 595.6h4.7v4.7h-4.7zM708.9 612.2h4.7v4.7h-4.7zM713.3 610.7h4.7v4.7h-4.7zM732.2 613.6h4.7v4.7h-4.7zM707.4 625.8h4.7v4.7h-4.7zM656 653.2h4.7v4.7h-4.7zM803.4 666.9h4.7v4.7h-4.7zM795.3 682h4.7v4.7h-4.7zM795.3 693h4.7v4.7h-4.7zM787.4 703.2h4.7v4.7h-4.7zM669.6 719.8h4.7v4.7h-4.7zM718.5 726.2h4.7v4.7h-4.7zM748.2 724.2h4.7v4.7h-4.7zM709.8 722.7h4.7v4.7h-4.7zM644.9 711.6h4.7v4.7h-4.7zM637.6 698.8h4.7v4.7h-4.7zM640 682h4.7v4.7h-4.7z" fill="#b3b3b3"/>
<path d="M781.2 557.1h4.9v4.9h-4.9zM765.8 598.1h4.9v4.9h-4.9zM676.8 634.2h4.9v4.9h-4.9zM744 620.8h4.9v4.9h-4.9zM784.4 617.3h4.9v4.9h-4.9zM789.1 623.1h4.9v4.9h-4.9zM744 642.3h4.9v4.9h-4.9zM796.1 667.6h4.9v4.9h-4.9zM708.5 688.9h4.9v4.9h-4.9zM706.2 705.7h4.9v4.9h-4.9zM728 706.9h4.9v4.9h-4.9zM785.3 712.7h4.9v4.9h-4.9zM758.2 711.8h4.9v4.9h-4.9zM739.3 659.5h4.9v4.9h-4.9zM743.7 661.5h4.9v4.9h-4.9zM740.2 683.3h4.9v4.9h-4.9zM745.2 696.4h4.9v4.9h-4.9zM745.2 701.7h4.9v4.9h-4.9zM762.5 667.6h4.9v4.9h-4.9zM766.1 667.2h4.9v4.9h-4.9zM773 664.8h4.9v4.9h-4.9zM781.5 651.2h4.9v4.9h-4.9zM756.7 684.3h4.9v4.9h-4.9zM754.5 703.3h4.9v4.9h-4.9zM771.9 641.6h4.9v4.9h-4.9zM761.8 653.5h4.9v4.9h-4.9zM764.9 661.2h4.9v4.9h-4.9zM765.5 677.3h4.9v4.9h-4.9zM760.4 690.6h4.9v4.9h-4.9zM755.4 654.6h4.9v4.9h-4.9zM776.2 670.9h4.9v4.9h-4.9zM771.3 660.8h4.9v4.9h-4.9zM759.1 680.1h4.9v4.9h-4.9zM776.5 666.8h4.9v4.9h-4.9zM775.9 655.5h4.9v4.9h-4.9zM757.9 664.1h4.9v4.9h-4.9zM763.1 662h4.9v4.9h-4.9zM767.3 667.4h4.9v4.9h-4.9zM760.5 688.5h4.9v4.9h-4.9zM759.1 615.2h4.9v4.9h-4.9zM781.6 663.4h4.9v4.9h-4.9zM769.6 672.1h4.9v4.9h-4.9zM769.8 652.6h4.9v4.9h-4.9zM762.8 685.4h4.9v4.9h-4.9zM761.3 673h4.9v4.9h-4.9zM770.5 649.2h4.9v4.9h-4.9zM755.8 656.1h4.9v4.9h-4.9zM764.2 712.4h4.9v4.9h-4.9zM765.1 651.5h4.9v4.9h-4.9zM768.3 650.1h4.9v4.9h-4.9zM746 644h4.9v4.9h-4.9zM766.6 653.1h4.9v4.9h-4.9zM764.6 623.5h4.9v4.9h-4.9zM775.1 697.6h4.9v4.9h-4.9zM772.9 634.7h4.9v4.9h-4.9zM769.4 647.8h4.9v4.9h-4.9zM752.8 656h4.9v4.9h-4.9zM777.5 665.2h4.9v4.9h-4.9zM786.6 626.3h4.9v4.9h-4.9zM771.4 651.4h4.9v4.9h-4.9zM765.8 649.1h4.9v4.9h-4.9zM763.6 683.6h4.9v4.9h-4.9zM770.9 673h4.9v4.9h-4.9zM761.5 647.2h4.9v4.9h-4.9zM778.8 683.8h4.9v4.9h-4.9zM764.6 659.9h4.9v4.9h-4.9zM767.8 673.1h4.9v4.9h-4.9zM752.9 685.4h4.9v4.9h-4.9zM771.6 651h4.9v4.9h-4.9zM771.9 671.6h4.9v4.9h-4.9zM769.7 661.1h4.9v4.9h-4.9zM759.5 664.1h4.9v4.9h-4.9zM772.6 617.7h4.9v4.9h-4.9zM775.3 657.2h4.9v4.9h-4.9zM780.7 657.4h4.9v4.9h-4.9zM770.9 658.2h4.9v4.9h-4.9zM776.2 684h4.9v4.9h-4.9zM759.7 652.1h4.9v4.9h-4.9zM780.1 629.4h4.9v4.9h-4.9zM764.3 669.8h4.9v4.9h-4.9zM772.2 649.5h4.9v4.9h-4.9zM768.4 659.3h4.9v4.9h-4.9zM751.4 684.6h4.9v4.9h-4.9zM772.5 661.8h4.9v4.9h-4.9zM757.1 640.1h4.9v4.9h-4.9zM756.8 680.3h4.9v4.9h-4.9zM758.4 693.3h4.9v4.9h-4.9zM779.3 698.7h4.9v4.9h-4.9zM767 685.2h4.9v4.9h-4.9zM760.2 665.2h4.9v4.9h-4.9zM766.2 672.3h4.9v4.9h-4.9zM780.2 650.8h4.9v4.9h-4.9zM770.8 679.6h4.9v4.9h-4.9zM772.3 646.2h4.9v4.9h-4.9zM756.2 678.2h4.9v4.9h-4.9zM780.7 690.9h4.9v4.9h-4.9zM756.4 706.1h4.9v4.9h-4.9zM765.2 630.6h4.9v4.9h-4.9zM764.4 677.9h4.9v4.9h-4.9zM765.9 642.2h4.9v4.9h-4.9zM769.1 665.6h4.9v4.9h-4.9zM775.4 670.4h4.9v4.9h-4.9zM763.6 657.4h4.9v4.9h-4.9zM757.1 612.4h4.9v4.9h-4.9zM775.1 657.5h4.9v4.9h-4.9zM770.4 687.8h4.9v4.9h-4.9zM767.3 689.4h4.9v4.9h-4.9zM763.3 666.1h4.9v4.9h-4.9zM783 653.9h4.9v4.9h-4.9zM779.5 664h4.9v4.9h-4.9zM773.5 670.6h4.9v4.9h-4.9zM767.3 653.6h4.9v4.9h-4.9zM755 657.7h4.9v4.9h-4.9zM763 673.3h4.9v4.9h-4.9zM762.8 663.8h4.9v4.9h-4.9zM764 650.8h4.9v4.9h-4.9zM773.5 665.3h4.9v4.9h-4.9zM754.8 653.6h4.9v4.9h-4.9zM766.4 657.8h4.9v4.9h-4.9zM760.7 666.3h4.9v4.9h-4.9zM755.2 647.8h4.9v4.9h-4.9zM772.7 660.9h4.9v4.9h-4.9zM764.5 689.3h4.9v4.9h-4.9zM763.6 600.4h4.9v4.9h-4.9zM758.4 692.9h4.9v4.9h-4.9zM777.7 653.1h4.9v4.9h-4.9zM771.8 654.6h4.9v4.9h-4.9zM774.9 636.4h4.9v4.9h-4.9zM773.5 670.6h4.9v4.9h-4.9zM751.4 647.5h4.9v4.9h-4.9zM754.2 695.4h4.9v4.9h-4.9zM762.2 703.3h4.9v4.9h-4.9zM771.5 664.2h4.9v4.9h-4.9zM769.9 689.9h4.9v4.9h-4.9zM779.8 627.1h4.9v4.9h-4.9zM754.2 687.2h4.9v4.9h-4.9zM775.3 647.5h4.9v4.9h-4.9zM774.7 642.4h4.9v4.9h-4.9zM769.6 643.5h4.9v4.9h-4.9zM767.1 640.3h4.9v4.9h-4.9zM762.2 682.5h4.9v4.9h-4.9zM761.5 653.1h4.9v4.9h-4.9zM785.8 641.5h4.9v4.9h-4.9zM768.2 673.8h4.9v4.9h-4.9zM776.2 654h4.9v4.9h-4.9zM765.6 685.3h4.9v4.9h-4.9zM770.2 664.4h4.9v4.9h-4.9zM764.1 639.9h4.9v4.9h-4.9zM771.4 638.2h4.9v4.9h-4.9zM762.2 646.1h4.9v4.9h-4.9zM762 667.1h4.9v4.9h-4.9zM769.8 690.8h4.9v4.9h-4.9zM768.5 704h4.9v4.9h-4.9zM764.6 666.6h4.9v4.9h-4.9zM756.2 671.8h4.9v4.9h-4.9zM776.7 677.4h4.9v4.9h-4.9zM760.5 664.8h4.9v4.9h-4.9zM770.4 655.2h4.9v4.9h-4.9zM755.4 640.6h4.9v4.9h-4.9zM747.5 674.5h4.9v4.9h-4.9zM770.8 661h4.9v4.9h-4.9zM772.1 697.6h4.9v4.9h-4.9zM782.9 681.4h4.9v4.9h-4.9zM773 670.9h4.9v4.9h-4.9zM764.9 632.6h4.9v4.9h-4.9zM766.2 686.1h4.9v4.9h-4.9zM779.3 685.8h4.9v4.9h-4.9zM756.1 657.4h4.9v4.9h-4.9z" fill="#0000cd"/>
<rect x="584.4" y="477.2" width="311.6" height="306" fill="none" stroke="#444" stroke-width="1.1"/>
<path d="M736.8 477.2V783.2M584.4 664.5H896" stroke="#111" stroke-width="1.3" fill="none"/>
<path d="M605.8 783.2v8M750.7 783.2v8M812.8 783.2v8M869.4 783.2v8M664.1 783.2v6.5M693.8 783.2v6.5M769.4 783.2v4M780.3 783.2v4M788.1 783.2v4M794.1 783.2v6M799 783.2v4M803.2 783.2v4M806.8 783.2v4M810 783.2v4M829.8 783.2v4M839.8 783.2v4M846.9 783.2v4M852.4 783.2v6M856.8 783.2v4M860.6 783.2v4M863.9 783.2v4M866.8 783.2v4M710.9 783.2v4M720.9 783.2v4M728.1 783.2v4M733.6 783.2v6M738.1 783.2v4M741.9 783.2v4M745.2 783.2v4M748.1 783.2v4M646.5 783.2v4M636.3 783.2v4M629 783.2v4M623.4 783.2v6M618.7 783.2v4M614.8 783.2v4M611.4 783.2v4M608.5 783.2v4M886.4 783.2v4M596.1 783.2v4M666.5 783.2v3.5M669 783.2v4.3M671.4 783.2v4.3M673.9 783.2v5.3M676.4 783.2v6.7M678.9 783.2v9M681.4 783.2v5.9M683.9 783.2v5.9M686.4 783.2v4.3M688.8 783.2v4.1M691.3 783.2v3.5M584.4 738.1h-8M584.4 647.6h-8M584.4 570.5h-8M584.4 503.1h-8M584.4 702.7h-6.5M584.4 683.8h-6.5M584.4 624.4h-4M584.4 610.8h-4M584.4 601.2h-4M584.4 593.7h-6M584.4 587.6h-4M584.4 582.4h-4M584.4 578h-4M584.4 574h-4M584.4 550.2h-4M584.4 538.3h-4M584.4 529.9h-4M584.4 523.4h-6M584.4 518.1h-4M584.4 513.5h-4M584.4 509.6h-4M584.4 506.2h-4M584.4 672.9h-4M584.4 666.5h-4M584.4 662h-4M584.4 658.5h-6M584.4 655.6h-4M584.4 653.2h-4M584.4 651.1h-4M584.4 649.3h-4M584.4 713.4h-4M584.4 719.6h-4M584.4 724h-4M584.4 727.4h-6M584.4 730.2h-4M584.4 732.6h-4M584.4 734.7h-4M584.4 736.5h-4M584.4 482.8h-4M584.4 744h-4M584.4 701.2h-3.5M584.4 699.6h-4.3M584.4 698.1h-4.3M584.4 696.5h-5.3M584.4 694.9h-6.7M584.4 693.3h-9M584.4 691.7h-5.9M584.4 690.1h-5.9M584.4 688.6h-4.3M584.4 687h-4.1M584.4 685.4h-3.5" stroke="#111" stroke-width="1" fill="none"/>
<text transform="translate(588.9 507.5) scale(1 1.05)" font-size="26.9">3</text>
<text transform="translate(886 507.5) scale(1 1.05)" font-size="26.9" text-anchor="end">40</text>
<text transform="translate(588.9 778) scale(1 1.05)" font-size="26.9">3.5</text>
<text transform="translate(883.5 778) scale(1 1.05)" font-size="26.9" text-anchor="end">53.5</text>
</g>
<g id="f5">
<path d="M300.7 1047.2L303.6 1029.8L321.1 1021.1L344.3 1015.2L361.8 1003.6L373.4 986.2L379.2 962.9L390.9 942.5L411.2 939.6L420 954.2L424.3 974.5L422.9 997.8L417 1021.1L411.2 1038.5L399.6 1053.1L379.2 1061.8L356 1066.1L332.7 1063.2L312.3 1057.4ZM298.6 1044.8h4.7v4.7h-4.7zM298.2 1043.7h4.7v4.7h-4.7zM299.1 1042.7h4.7v4.7h-4.7zM300.9 1040.6h4.7v4.7h-4.7zM304.3 1034h4.7v4.7h-4.7zM299.2 1042.3h4.7v4.7h-4.7zM299 1036.8h4.7v4.7h-4.7zM299.3 1039.8h4.7v4.7h-4.7zM302.4 1033h4.7v4.7h-4.7zM300.2 1034.8h4.7v4.7h-4.7zM302.3 1032.9h4.7v4.7h-4.7zM300.4 1036.2h4.7v4.7h-4.7zM299.8 1032.2h4.7v4.7h-4.7zM298.8 1031.1h4.7v4.7h-4.7zM296.7 1027.7h4.7v4.7h-4.7zM299.6 1028h4.7v4.7h-4.7zM305.5 1022.5h4.7v4.7h-4.7zM296.4 1027.7h4.7v4.7h-4.7zM304.5 1026.5h4.7v4.7h-4.7zM305.7 1030.5h4.7v4.7h-4.7zM304.5 1022.3h4.7v4.7h-4.7zM305.1 1027.5h4.7v4.7h-4.7zM308.5 1023.6h4.7v4.7h-4.7zM308.3 1024.6h4.7v4.7h-4.7zM306.2 1023.8h4.7v4.7h-4.7zM308.1 1022.4h4.7v4.7h-4.7zM310.9 1022h4.7v4.7h-4.7zM313.9 1021.4h4.7v4.7h-4.7zM314.5 1022.6h4.7v4.7h-4.7zM315.1 1019.3h4.7v4.7h-4.7zM318 1018.8h4.7v4.7h-4.7zM315.8 1020.1h4.7v4.7h-4.7zM321.7 1016.7h4.7v4.7h-4.7zM317.7 1018.9h4.7v4.7h-4.7zM319.1 1018.2h4.7v4.7h-4.7zM323.5 1014.3h4.7v4.7h-4.7zM323.3 1015.9h4.7v4.7h-4.7zM327.5 1018.6h4.7v4.7h-4.7zM326.8 1016.6h4.7v4.7h-4.7zM323.4 1017h4.7v4.7h-4.7zM328.6 1016.3h4.7v4.7h-4.7zM331.6 1017.8h4.7v4.7h-4.7zM328.3 1014.9h4.7v4.7h-4.7zM330.8 1013.2h4.7v4.7h-4.7zM332.1 1013.8h4.7v4.7h-4.7zM332.9 1015.4h4.7v4.7h-4.7zM333.6 1017.1h4.7v4.7h-4.7zM333.7 1015.9h4.7v4.7h-4.7zM335 1011.9h4.7v4.7h-4.7zM335.9 1013.1h4.7v4.7h-4.7zM341.2 1010.2h4.7v4.7h-4.7zM343 1010.9h4.7v4.7h-4.7zM344.9 1013.2h4.7v4.7h-4.7zM340.8 1014.5h4.7v4.7h-4.7zM342.8 1011.5h4.7v4.7h-4.7zM343.9 1017.5h4.7v4.7h-4.7zM343.7 1014.2h4.7v4.7h-4.7zM345.2 1008.7h4.7v4.7h-4.7zM346.7 1011.5h4.7v4.7h-4.7zM347.3 1007.3h4.7v4.7h-4.7zM350.9 1008.2h4.7v4.7h-4.7zM351.8 1005.2h4.7v4.7h-4.7zM354.6 1008.8h4.7v4.7h-4.7zM350.1 1005.6h4.7v4.7h-4.7zM354.4 1004.5h4.7v4.7h-4.7zM355.1 1006.2h4.7v4.7h-4.7zM355.4 1001.3h4.7v4.7h-4.7zM351.2 1004.3h4.7v4.7h-4.7zM354.7 1004.7h4.7v4.7h-4.7zM361 1002.7h4.7v4.7h-4.7zM361.1 1003.7h4.7v4.7h-4.7zM361 998.8h4.7v4.7h-4.7zM358.5 998.1h4.7v4.7h-4.7zM360.7 997.4h4.7v4.7h-4.7zM362.3 999.9h4.7v4.7h-4.7zM361 997.3h4.7v4.7h-4.7zM361.1 995h4.7v4.7h-4.7zM365 998h4.7v4.7h-4.7zM364.9 991.7h4.7v4.7h-4.7zM368.5 989.1h4.7v4.7h-4.7zM364.8 989.8h4.7v4.7h-4.7zM365.7 992.6h4.7v4.7h-4.7zM366.1 996.9h4.7v4.7h-4.7zM371.3 991.3h4.7v4.7h-4.7zM367.3 984.4h4.7v4.7h-4.7zM370.8 989.4h4.7v4.7h-4.7zM370.6 988.6h4.7v4.7h-4.7zM370.6 982.7h4.7v4.7h-4.7zM367 982.9h4.7v4.7h-4.7zM371.2 985h4.7v4.7h-4.7zM372.1 981h4.7v4.7h-4.7zM369.8 982.5h4.7v4.7h-4.7zM373.6 977.8h4.7v4.7h-4.7zM370.1 978.2h4.7v4.7h-4.7zM370.6 977.1h4.7v4.7h-4.7zM370.2 977.4h4.7v4.7h-4.7zM371.5 975.4h4.7v4.7h-4.7zM378.3 972h4.7v4.7h-4.7zM374.1 977h4.7v4.7h-4.7zM375.8 972.4h4.7v4.7h-4.7zM375.5 969.1h4.7v4.7h-4.7zM371.4 964.2h4.7v4.7h-4.7zM373.4 966.1h4.7v4.7h-4.7zM377.3 967.9h4.7v4.7h-4.7zM372.3 966h4.7v4.7h-4.7zM372.9 967.5h4.7v4.7h-4.7zM373.9 964.5h4.7v4.7h-4.7zM376.4 961.7h4.7v4.7h-4.7zM379 959.9h4.7v4.7h-4.7zM371.6 961.2h4.7v4.7h-4.7zM375.9 957.5h4.7v4.7h-4.7zM378.4 959.9h4.7v4.7h-4.7zM379.4 954.1h4.7v4.7h-4.7zM377.5 953.9h4.7v4.7h-4.7zM379.6 952.8h4.7v4.7h-4.7zM381.8 952.8h4.7v4.7h-4.7zM383.3 956h4.7v4.7h-4.7zM382.4 951.8h4.7v4.7h-4.7zM385 948.3h4.7v4.7h-4.7zM382.4 953h4.7v4.7h-4.7zM384.9 947.8h4.7v4.7h-4.7zM383.1 947.1h4.7v4.7h-4.7zM387.9 950.2h4.7v4.7h-4.7zM387.9 946.2h4.7v4.7h-4.7zM386.7 942.3h4.7v4.7h-4.7zM383.7 945.4h4.7v4.7h-4.7zM388.6 939.4h4.7v4.7h-4.7zM384.6 942.7h4.7v4.7h-4.7zM385.5 942.3h4.7v4.7h-4.7zM390.9 937.6h4.7v4.7h-4.7zM389.9 941.6h4.7v4.7h-4.7zM392.7 939.6h4.7v4.7h-4.7zM392.6 938.8h4.7v4.7h-4.7zM394 940.6h4.7v4.7h-4.7zM394.6 937.9h4.7v4.7h-4.7zM394.9 938.6h4.7v4.7h-4.7zM396.4 936h4.7v4.7h-4.7zM397.5 940.4h4.7v4.7h-4.7zM399.8 940.9h4.7v4.7h-4.7zM400.4 939.9h4.7v4.7h-4.7zM403.7 933.8h4.7v4.7h-4.7zM403.4 940.3h4.7v4.7h-4.7zM401.7 933.8h4.7v4.7h-4.7zM402.1 937h4.7v4.7h-4.7zM407.1 934.1h4.7v4.7h-4.7zM406 934.9h4.7v4.7h-4.7zM409.1 936.7h4.7v4.7h-4.7zM409 935.9h4.7v4.7h-4.7zM408.9 940.9h4.7v4.7h-4.7zM407.5 939h4.7v4.7h-4.7zM409.9 940.5h4.7v4.7h-4.7zM409.5 943.7h4.7v4.7h-4.7zM414.4 942.7h4.7v4.7h-4.7zM416.5 943.7h4.7v4.7h-4.7zM416.8 943.1h4.7v4.7h-4.7zM412.5 944h4.7v4.7h-4.7zM419.2 949.5h4.7v4.7h-4.7zM414.2 948.1h4.7v4.7h-4.7zM415.9 949.3h4.7v4.7h-4.7zM414.3 951.5h4.7v4.7h-4.7zM418.2 950h4.7v4.7h-4.7zM418.2 953.5h4.7v4.7h-4.7zM418.5 953.3h4.7v4.7h-4.7zM419.3 955.5h4.7v4.7h-4.7zM422.5 955.1h4.7v4.7h-4.7zM419.2 956.2h4.7v4.7h-4.7zM417.9 958.6h4.7v4.7h-4.7zM416 956.8h4.7v4.7h-4.7zM416.5 961.2h4.7v4.7h-4.7zM418.5 958.7h4.7v4.7h-4.7zM418.9 964.1h4.7v4.7h-4.7zM419 957.6h4.7v4.7h-4.7zM425 964.5h4.7v4.7h-4.7zM422.2 963h4.7v4.7h-4.7zM420 967.7h4.7v4.7h-4.7zM421.4 966.4h4.7v4.7h-4.7zM425.1 968.2h4.7v4.7h-4.7zM420.6 974.2h4.7v4.7h-4.7zM422.1 968.5h4.7v4.7h-4.7zM423.2 973.2h4.7v4.7h-4.7zM424.5 978.4h4.7v4.7h-4.7zM421.9 976.7h4.7v4.7h-4.7zM421.7 974.8h4.7v4.7h-4.7zM419.8 974.8h4.7v4.7h-4.7zM418.2 982.3h4.7v4.7h-4.7zM419.9 976.3h4.7v4.7h-4.7zM421.1 978.7h4.7v4.7h-4.7zM423.5 985.4h4.7v4.7h-4.7zM422.1 983.5h4.7v4.7h-4.7zM420.4 984.8h4.7v4.7h-4.7zM422.9 988.1h4.7v4.7h-4.7zM420.1 986.6h4.7v4.7h-4.7zM417.9 988.8h4.7v4.7h-4.7zM422.8 990.6h4.7v4.7h-4.7zM418.8 987.6h4.7v4.7h-4.7zM424.9 990.8h4.7v4.7h-4.7zM420.1 993.7h4.7v4.7h-4.7zM420 994.2h4.7v4.7h-4.7zM421.7 993.9h4.7v4.7h-4.7zM417.5 994.2h4.7v4.7h-4.7zM413.1 999.5h4.7v4.7h-4.7zM418.5 995.5h4.7v4.7h-4.7zM420.1 1001.4h4.7v4.7h-4.7zM418.5 998.1h4.7v4.7h-4.7zM415.2 1000.4h4.7v4.7h-4.7zM417.1 999h4.7v4.7h-4.7zM417.7 1005.3h4.7v4.7h-4.7zM417.4 1009h4.7v4.7h-4.7zM417.7 1008.1h4.7v4.7h-4.7zM425.1 1010.5h4.7v4.7h-4.7zM417.2 1010.2h4.7v4.7h-4.7zM416.6 1009.9h4.7v4.7h-4.7zM416.1 1008.7h4.7v4.7h-4.7zM413.6 1013.2h4.7v4.7h-4.7zM419.4 1014.5h4.7v4.7h-4.7zM413.8 1011.5h4.7v4.7h-4.7zM418.4 1020.2h4.7v4.7h-4.7zM417.6 1016.2h4.7v4.7h-4.7zM413.7 1020.9h4.7v4.7h-4.7zM414.1 1016.6h4.7v4.7h-4.7zM409.2 1019.6h4.7v4.7h-4.7zM413.5 1019h4.7v4.7h-4.7zM416.2 1021.2h4.7v4.7h-4.7zM415.6 1023.4h4.7v4.7h-4.7zM412 1026.9h4.7v4.7h-4.7zM409.9 1028h4.7v4.7h-4.7zM410.6 1026.5h4.7v4.7h-4.7zM412.8 1027.9h4.7v4.7h-4.7zM409.3 1031.4h4.7v4.7h-4.7zM409 1029.6h4.7v4.7h-4.7zM408.6 1031.5h4.7v4.7h-4.7zM411.7 1031.4h4.7v4.7h-4.7zM407.6 1036.1h4.7v4.7h-4.7zM410.7 1032.3h4.7v4.7h-4.7zM407.9 1035h4.7v4.7h-4.7zM414.1 1036.5h4.7v4.7h-4.7zM410.5 1039.4h4.7v4.7h-4.7zM409.1 1038.3h4.7v4.7h-4.7zM401.7 1039.4h4.7v4.7h-4.7zM406.5 1038.2h4.7v4.7h-4.7zM407.9 1041.8h4.7v4.7h-4.7zM404.4 1037h4.7v4.7h-4.7zM405.1 1045.6h4.7v4.7h-4.7zM400 1040.7h4.7v4.7h-4.7zM403.6 1042.5h4.7v4.7h-4.7zM402.1 1044.6h4.7v4.7h-4.7zM402.9 1046.8h4.7v4.7h-4.7zM401.1 1046.4h4.7v4.7h-4.7zM394.5 1048.5h4.7v4.7h-4.7zM401.4 1048.3h4.7v4.7h-4.7zM397.6 1050.4h4.7v4.7h-4.7zM398.5 1051.6h4.7v4.7h-4.7zM397.4 1049.3h4.7v4.7h-4.7zM391.2 1053.6h4.7v4.7h-4.7zM392.1 1052.3h4.7v4.7h-4.7zM396.2 1051.3h4.7v4.7h-4.7zM394.6 1053.2h4.7v4.7h-4.7zM386.9 1053.2h4.7v4.7h-4.7zM389.3 1054.4h4.7v4.7h-4.7zM388.7 1059.1h4.7v4.7h-4.7zM389.9 1056.8h4.7v4.7h-4.7zM386 1054.8h4.7v4.7h-4.7zM385.8 1059h4.7v4.7h-4.7zM381.9 1058.6h4.7v4.7h-4.7zM385.5 1057.6h4.7v4.7h-4.7zM383.9 1055.6h4.7v4.7h-4.7zM380.5 1060.3h4.7v4.7h-4.7zM382.3 1060.2h4.7v4.7h-4.7zM380.5 1057.7h4.7v4.7h-4.7zM380.9 1062.2h4.7v4.7h-4.7zM380.6 1060.7h4.7v4.7h-4.7zM373.7 1061.1h4.7v4.7h-4.7zM371 1063.4h4.7v4.7h-4.7zM373.1 1057.6h4.7v4.7h-4.7zM374.6 1061.5h4.7v4.7h-4.7zM372.5 1063.4h4.7v4.7h-4.7zM369.3 1062.1h4.7v4.7h-4.7zM370.9 1061.9h4.7v4.7h-4.7zM368.7 1062.3h4.7v4.7h-4.7zM363.7 1060.3h4.7v4.7h-4.7zM365.6 1059.7h4.7v4.7h-4.7zM366.9 1060.8h4.7v4.7h-4.7zM360.7 1063.2h4.7v4.7h-4.7zM361 1060.7h4.7v4.7h-4.7zM359.9 1061.4h4.7v4.7h-4.7zM361 1064.2h4.7v4.7h-4.7zM356.8 1063.5h4.7v4.7h-4.7zM357.6 1062.6h4.7v4.7h-4.7zM354 1064.4h4.7v4.7h-4.7zM355.1 1062.7h4.7v4.7h-4.7zM352.4 1061.9h4.7v4.7h-4.7zM354.6 1063.3h4.7v4.7h-4.7zM348.4 1065.5h4.7v4.7h-4.7zM354.6 1062.1h4.7v4.7h-4.7zM350.6 1061.8h4.7v4.7h-4.7zM349.2 1064.7h4.7v4.7h-4.7zM344.7 1060.7h4.7v4.7h-4.7zM345.5 1063.5h4.7v4.7h-4.7zM345.6 1061.4h4.7v4.7h-4.7zM344.5 1066.4h4.7v4.7h-4.7zM342.5 1059.4h4.7v4.7h-4.7zM342.8 1059.7h4.7v4.7h-4.7zM338.2 1060.7h4.7v4.7h-4.7zM341.8 1066.2h4.7v4.7h-4.7zM340 1063.9h4.7v4.7h-4.7zM336 1064.8h4.7v4.7h-4.7zM337.8 1059.4h4.7v4.7h-4.7zM339 1062.1h4.7v4.7h-4.7zM332.9 1062.7h4.7v4.7h-4.7zM336.5 1060.8h4.7v4.7h-4.7zM332.4 1064.2h4.7v4.7h-4.7zM330.2 1063.7h4.7v4.7h-4.7zM328.4 1059.5h4.7v4.7h-4.7zM328.5 1061.2h4.7v4.7h-4.7zM328.5 1063h4.7v4.7h-4.7zM327.5 1059.9h4.7v4.7h-4.7zM323.8 1058.6h4.7v4.7h-4.7zM319.9 1059.9h4.7v4.7h-4.7zM324.5 1056.4h4.7v4.7h-4.7zM321.8 1058.5h4.7v4.7h-4.7zM318.9 1055.4h4.7v4.7h-4.7zM316 1057.9h4.7v4.7h-4.7zM317.3 1055.5h4.7v4.7h-4.7zM318.4 1056.6h4.7v4.7h-4.7zM315.1 1055.8h4.7v4.7h-4.7zM317.1 1057h4.7v4.7h-4.7zM312.2 1052.9h4.7v4.7h-4.7zM316.5 1057.5h4.7v4.7h-4.7zM313.8 1053.1h4.7v4.7h-4.7zM309.9 1054.8h4.7v4.7h-4.7zM307.1 1054.1h4.7v4.7h-4.7zM308.6 1055.9h4.7v4.7h-4.7zM308.4 1049.9h4.7v4.7h-4.7zM308.5 1051.9h4.7v4.7h-4.7zM308 1052.7h4.7v4.7h-4.7zM306.7 1049.1h4.7v4.7h-4.7zM303.6 1052.1h4.7v4.7h-4.7zM303.3 1051.3h4.7v4.7h-4.7zM299 1046.1h4.7v4.7h-4.7zM301.6 1046.9h4.7v4.7h-4.7zM298.1 1047.7h4.7v4.7h-4.7zM299.7 1047h4.7v4.7h-4.7zM423.2 976.3h4.7v4.7h-4.7zM338.2 982.7h4.7v4.7h-4.7zM358.5 986.1h4.7v4.7h-4.7zM350.6 976.9h4.7v4.7h-4.7zM412.8 1027.4h4.7v4.7h-4.7zM353.9 973.9h4.7v4.7h-4.7zM303.7 1057.6h4.7v4.7h-4.7zM325.4 1006.7h4.7v4.7h-4.7zM409.5 935.6h4.7v4.7h-4.7zM310.7 1010.9h4.7v4.7h-4.7zM288.4 988.6h4.7v4.7h-4.7zM311.6 1056.1h4.7v4.7h-4.7zM338.6 1009.4h4.7v4.7h-4.7zM429.7 972.6h4.7v4.7h-4.7zM314.4 1014.8h4.7v4.7h-4.7zM354.2 1000.7h4.7v4.7h-4.7zM353.5 987.9h4.7v4.7h-4.7zM307.9 1020h4.7v4.7h-4.7zM298.8 976.3h4.7v4.7h-4.7zM365.4 949.6h4.7v4.7h-4.7zM374.3 941.2h4.7v4.7h-4.7zM417.1 936.8h4.7v4.7h-4.7zM429.7 969.5h4.7v4.7h-4.7zM360.5 976.7h4.7v4.7h-4.7zM328.3 1063.5h4.7v4.7h-4.7zM345.7 1003.7h4.7v4.7h-4.7zM364.9 985.8h4.7v4.7h-4.7zM328.1 991.4h4.7v4.7h-4.7zM357.7 988.3h4.7v4.7h-4.7zM429.8 997.5h4.7v4.7h-4.7zM307.6 1015.4h4.7v4.7h-4.7zM386.7 939.4h4.7v4.7h-4.7zM313.4 1060h4.7v4.7h-4.7zM385.5 1064.2h4.7v4.7h-4.7zM333.1 983.2h4.7v4.7h-4.7zM367 1063.2h4.7v4.7h-4.7zM307.5 1020.6h4.7v4.7h-4.7zM412.1 1037.8h4.7v4.7h-4.7zM375.4 941.5h4.7v4.7h-4.7zM425.2 974.2h4.7v4.7h-4.7zM414.5 943.6h4.7v4.7h-4.7zM333.7 995.2h4.7v4.7h-4.7zM304.5 1056.4h4.7v4.7h-4.7zM351.3 992.6h4.7v4.7h-4.7zM300.3 1007.2h4.7v4.7h-4.7zM367.4 981.5h4.7v4.7h-4.7zM338.6 995.1h4.7v4.7h-4.7zM350.8 976.1h4.7v4.7h-4.7zM289.2 1040.2h4.7v4.7h-4.7zM331.2 978.5h4.7v4.7h-4.7zM387.5 940.1h4.7v4.7h-4.7zM298.3 1053.4h4.7v4.7h-4.7zM373 955.3h4.7v4.7h-4.7zM387.3 1060.7h4.7v4.7h-4.7zM372.9 951.6h4.7v4.7h-4.7zM341.6 968.4h4.7v4.7h-4.7zM318.6 991.8h4.7v4.7h-4.7zM348.6 979.1h4.7v4.7h-4.7zM433.8 996.5h4.7v4.7h-4.7zM369.8 957.5h4.7v4.7h-4.7zM343 1068.2h4.7v4.7h-4.7zM362.9 963.4h4.7v4.7h-4.7zM347.4 1004.5h4.7v4.7h-4.7zM351.7 985.2h4.7v4.7h-4.7zM300.7 1053.2h4.7v4.7h-4.7zM328.8 1003.1h4.7v4.7h-4.7zM356.8 977.1h4.7v4.7h-4.7zM342.2 980.9h4.7v4.7h-4.7zM379.9 954.4h4.7v4.7h-4.7zM320.9 1001.9h4.7v4.7h-4.7zM323.4 994.8h4.7v4.7h-4.7zM380.6 941h4.7v4.7h-4.7zM346.1 966h4.7v4.7h-4.7zM343.7 980.7h4.7v4.7h-4.7zM400.9 930h4.7v4.7h-4.7zM335.3 989.5h4.7v4.7h-4.7zM319.8 1058.2h4.7v4.7h-4.7zM289 1034.5h4.7v4.7h-4.7zM291.8 1047h4.7v4.7h-4.7zM306.2 1001.3h4.7v4.7h-4.7zM354 958h4.7v4.7h-4.7zM424.9 984.4h4.7v4.7h-4.7zM327.6 1004.3h4.7v4.7h-4.7zM367.5 945.5h4.7v4.7h-4.7zM299.1 1013.5h4.7v4.7h-4.7zM347.5 970.4h4.7v4.7h-4.7zM416.9 1032.1h4.7v4.7h-4.7zM424.1 959.9h4.7v4.7h-4.7zM311.8 1005h4.7v4.7h-4.7zM400.7 937.8h4.7v4.7h-4.7zM411 1042.6h4.7v4.7h-4.7zM416.7 1024.5h4.7v4.7h-4.7zM381.7 1058.9h4.7v4.7h-4.7zM310.9 1056.3h4.7v4.7h-4.7zM390.3 936.4h4.7v4.7h-4.7zM409.1 1039.4h4.7v4.7h-4.7zM369.9 939.5h4.7v4.7h-4.7zM377.9 944.1h4.7v4.7h-4.7zM353.3 995.8h4.7v4.7h-4.7zM305.5 1055.4h4.7v4.7h-4.7zM281.7 1034h4.7v4.7h-4.7zM367.6 974.8h4.7v4.7h-4.7zM416.6 1019.6h4.7v4.7h-4.7zM306 1059.6h4.7v4.7h-4.7zM384.2 936.2h4.7v4.7h-4.7zM345.3 984h4.7v4.7h-4.7zM395.4 908.7h4.7v4.7h-4.7zM422.8 989.9h4.7v4.7h-4.7zM341.9 971.1h4.7v4.7h-4.7zM289.1 1047.6h4.7v4.7h-4.7zM397.6 902.5h4.7v4.7h-4.7zM356.2 981.8h4.7v4.7h-4.7zM384.3 1064.9h4.7v4.7h-4.7zM318.4 993.1h4.7v4.7h-4.7zM392.1 1053.9h4.7v4.7h-4.7zM414.4 1030.1h4.7v4.7h-4.7zM414.5 1022.4h4.7v4.7h-4.7zM360.1 984.3h4.7v4.7h-4.7zM303 972.1h4.7v4.7h-4.7zM320.9 998.6h4.7v4.7h-4.7zM333.2 1061.9h4.7v4.7h-4.7zM319.1 1062.1h4.7v4.7h-4.7zM320.6 993.1h4.7v4.7h-4.7zM316.2 1000.5h4.7v4.7h-4.7zM288.6 1016.3h4.7v4.7h-4.7zM361.9 964.2h4.7v4.7h-4.7zM320.2 1062.6h4.7v4.7h-4.7zM397.8 1050.1h4.7v4.7h-4.7zM383 1061.3h4.7v4.7h-4.7zM300.1 1007.1h4.7v4.7h-4.7zM344.4 981.9h4.7v4.7h-4.7zM357.1 999.1h4.7v4.7h-4.7zM423.7 989.4h4.7v4.7h-4.7zM410.4 1046.8h4.7v4.7h-4.7zM291.8 1028.3h4.7v4.7h-4.7zM379.8 925.6h4.7v4.7h-4.7zM369 942.5h4.7v4.7h-4.7zM348.4 1004h4.7v4.7h-4.7zM296.7 984.6h4.7v4.7h-4.7zM383.8 935.6h4.7v4.7h-4.7zM431.6 992.3h4.7v4.7h-4.7zM328.3 946h4.7v4.7h-4.7zM407.3 936.3h4.7v4.7h-4.7zM332.4 1008.4h4.7v4.7h-4.7zM364.5 955.1h4.7v4.7h-4.7zM336.3 952.8h4.7v4.7h-4.7zM367.3 973.3h4.7v4.7h-4.7zM306.2 1058.2h4.7v4.7h-4.7zM379 940.5h4.7v4.7h-4.7zM345.4 994.8h4.7v4.7h-4.7zM333.6 979.6h4.7v4.7h-4.7zM300.5 1004.3h4.7v4.7h-4.7zM327 1015.9h4.7v4.7h-4.7zM382.4 928h4.7v4.7h-4.7zM422.4 1007.7h4.7v4.7h-4.7zM308.7 997.9h4.7v4.7h-4.7zM329.9 953.1h4.7v4.7h-4.7zM284.7 1019.2h4.7v4.7h-4.7zM296 1015.4h4.7v4.7h-4.7zM377.1 950.2h4.7v4.7h-4.7zM292.1 1017h4.7v4.7h-4.7zM338.1 984.1h4.7v4.7h-4.7zM356.3 997.8h4.7v4.7h-4.7zM319 991.7h4.7v4.7h-4.7zM318.8 998.6h4.7v4.7h-4.7zM417 934.9h4.7v4.7h-4.7zM404.7 1042h4.7v4.7h-4.7zM317.6 1019.2h4.7v4.7h-4.7zM345.4 1010.4h4.7v4.7h-4.7zM360.7 962h4.7v4.7h-4.7zM352 959.7h4.7v4.7h-4.7zM296.3 1010.5h4.7v4.7h-4.7zM286.9 1039.6h4.7v4.7h-4.7zM370.9 982.1h4.7v4.7h-4.7zM364.9 991.9h4.7v4.7h-4.7zM340.8 981h4.7v4.7h-4.7zM353.9 994h4.7v4.7h-4.7zM282.3 1027.5h4.7v4.7h-4.7zM292.9 1051.5h4.7v4.7h-4.7zM358.7 952.7h4.7v4.7h-4.7zM313.9 1007h4.7v4.7h-4.7zM396.6 923.3h4.7v4.7h-4.7zM345.7 967.7h4.7v4.7h-4.7zM349 981.9h4.7v4.7h-4.7zM316.8 968.8h4.7v4.7h-4.7zM423.1 1012.1h4.7v4.7h-4.7zM419.2 1031h4.7v4.7h-4.7zM372.1 979.6h4.7v4.7h-4.7zM300.3 1024.7h4.7v4.7h-4.7zM418 951.4h4.7v4.7h-4.7zM388.3 1062h4.7v4.7h-4.7zM424.4 992.8h4.7v4.7h-4.7zM316.5 1016.8h4.7v4.7h-4.7zM376.3 937.2h4.7v4.7h-4.7zM421.8 960.6h4.7v4.7h-4.7zM306.2 1022.6h4.7v4.7h-4.7zM347.6 972.8h4.7v4.7h-4.7zM373.8 1062.6h4.7v4.7h-4.7zM343.8 997.6h4.7v4.7h-4.7zM418.5 953.3h4.7v4.7h-4.7zM360.3 950.6h4.7v4.7h-4.7zM314.6 993.8h4.7v4.7h-4.7zM340 983.7h4.7v4.7h-4.7zM364.2 978.9h4.7v4.7h-4.7zM352.3 990h4.7v4.7h-4.7zM415.4 938.8h4.7v4.7h-4.7zM329.1 1064.8h4.7v4.7h-4.7zM384.8 934.3h4.7v4.7h-4.7zM292.6 1029.7h4.7v4.7h-4.7zM355.9 981.4h4.7v4.7h-4.7zM347.6 1003.1h4.7v4.7h-4.7zM330.3 965.1h4.7v4.7h-4.7zM415.5 1031.6h4.7v4.7h-4.7zM414.3 942.1h4.7v4.7h-4.7zM382.5 1057.8h4.7v4.7h-4.7zM286 1033.6h4.7v4.7h-4.7zM310.4 970.7h4.7v4.7h-4.7zM380.9 1065.6h4.7v4.7h-4.7zM357.3 974.4h4.7v4.7h-4.7zM364.5 1062.5h4.7v4.7h-4.7zM410.2 1035.7h4.7v4.7h-4.7zM308.8 999.3h4.7v4.7h-4.7zM353.6 1068.2h4.7v4.7h-4.7zM292.6 1054.8h4.7v4.7h-4.7zM369.2 948.2h4.7v4.7h-4.7zM295.9 996.5h4.7v4.7h-4.7zM412.1 935.2h4.7v4.7h-4.7zM350.2 992.2h4.7v4.7h-4.7zM293.9 1044.6h4.7v4.7h-4.7zM298.7 1053.2h4.7v4.7h-4.7zM338.6 1011.5h4.7v4.7h-4.7zM350.1 992.8h4.7v4.7h-4.7zM305 1060.8h4.7v4.7h-4.7zM286.3 1015.5h4.7v4.7h-4.7zM311.9 997.5h4.7v4.7h-4.7zM341.4 993.4h4.7v4.7h-4.7zM426.5 995.7h4.7v4.7h-4.7zM340.2 969.7h4.7v4.7h-4.7zM342.2 979.5h4.7v4.7h-4.7zM360.8 967.1h4.7v4.7h-4.7zM281.5 1031.6h4.7v4.7h-4.7zM368.6 985h4.7v4.7h-4.7zM411.5 1036.1h4.7v4.7h-4.7zM378.5 1070.9h4.7v4.7h-4.7zM380.4 949.5h4.7v4.7h-4.7zM393.1 935h4.7v4.7h-4.7zM396 937.9h4.7v4.7h-4.7zM417.6 1025h4.7v4.7h-4.7zM376.4 936.7h4.7v4.7h-4.7zM375 939.7h4.7v4.7h-4.7zM347.9 981.1h4.7v4.7h-4.7zM322.5 1002.1h4.7v4.7h-4.7zM297.9 1022.7h4.7v4.7h-4.7zM415.8 944.9h4.7v4.7h-4.7zM429.9 972.7h4.7v4.7h-4.7zM344.1 989.4h4.7v4.7h-4.7zM312.2 1003.6h4.7v4.7h-4.7zM353.3 996.9h4.7v4.7h-4.7zM341.5 1003.9h4.7v4.7h-4.7zM431.8 985.7h4.7v4.7h-4.7zM343.4 974h4.7v4.7h-4.7zM342.3 991.2h4.7v4.7h-4.7zM421.8 996.5h4.7v4.7h-4.7zM377.9 1063.1h4.7v4.7h-4.7zM418.6 1027.4h4.7v4.7h-4.7zM412.2 1029.5h4.7v4.7h-4.7zM284 1028.5h4.7v4.7h-4.7zM430.7 987.6h4.7v4.7h-4.7zM369.7 958.9h4.7v4.7h-4.7zM418.7 950h4.7v4.7h-4.7zM371.8 1070.1h4.7v4.7h-4.7zM391 933.4h4.7v4.7h-4.7zM296 1026.9h4.7v4.7h-4.7zM353.7 1068.8h4.7v4.7h-4.7zM326.4 997.7h4.7v4.7h-4.7zM381.7 941.4h4.7v4.7h-4.7zM302.1 997.7h4.7v4.7h-4.7zM333.9 998.6h4.7v4.7h-4.7zM365.1 938.9h4.7v4.7h-4.7zM299.7 1033.7h4.7v4.7h-4.7zM350.4 1067.3h4.7v4.7h-4.7zM384.1 927.1h4.7v4.7h-4.7zM291 1026.4h4.7v4.7h-4.7zM369.8 974.5h4.7v4.7h-4.7zM310 1020.6h4.7v4.7h-4.7zM294.7 1011.1h4.7v4.7h-4.7zM347.3 1003.7h4.7v4.7h-4.7zM310 1059.9h4.7v4.7h-4.7zM374.1 956h4.7v4.7h-4.7zM386.9 1056.1h4.7v4.7h-4.7zM330 1001.1h4.7v4.7h-4.7zM398 933.6h4.7v4.7h-4.7zM341.1 1063.7h4.7v4.7h-4.7zM381.1 1068.1h4.7v4.7h-4.7zM363.1 1067.5h4.7v4.7h-4.7zM350.9 1064.2h4.7v4.7h-4.7zM334.2 1012.1h4.7v4.7h-4.7zM370.7 956.1h4.7v4.7h-4.7zM315.1 1008.6h4.7v4.7h-4.7zM353.9 1000.9h4.7v4.7h-4.7zM347 985.4h4.7v4.7h-4.7zM412.3 1035.6h4.7v4.7h-4.7zM364.6 978.5h4.7v4.7h-4.7zM334.1 987.8h4.7v4.7h-4.7zM357.7 954.9h4.7v4.7h-4.7zM335.2 1009.9h4.7v4.7h-4.7zM363.7 1063.9h4.7v4.7h-4.7zM387.6 1061.6h4.7v4.7h-4.7zM380.9 928.7h4.7v4.7h-4.7zM291.8 1035.1h4.7v4.7h-4.7zM340.5 1006.9h4.7v4.7h-4.7zM352.1 961.9h4.7v4.7h-4.7zM424.7 964.7h4.7v4.7h-4.7zM322.3 997.4h4.7v4.7h-4.7zM319 1009.4h4.7v4.7h-4.7zM318.7 1004.2h4.7v4.7h-4.7zM411.9 926.1h4.7v4.7h-4.7zM410.5 897.7h4.7v4.7h-4.7zM370.8 972.6h4.7v4.7h-4.7zM407.4 929.1h4.7v4.7h-4.7zM416.2 1013.9h4.7v4.7h-4.7zM426.3 1003.9h4.7v4.7h-4.7zM397.7 1051.8h4.7v4.7h-4.7zM412.8 1026.8h4.7v4.7h-4.7zM365.5 952.4h4.7v4.7h-4.7zM344 977.4h4.7v4.7h-4.7zM390.9 930.7h4.7v4.7h-4.7zM425.4 981.4h4.7v4.7h-4.7zM373.9 1062.5h4.7v4.7h-4.7zM290.4 1049h4.7v4.7h-4.7zM337.6 993.5h4.7v4.7h-4.7zM391 927.5h4.7v4.7h-4.7zM288.9 1032h4.7v4.7h-4.7zM331.9 978.4h4.7v4.7h-4.7zM413.3 905.2h4.7v4.7h-4.7zM379.4 918.8h4.7v4.7h-4.7zM365.2 1068.9h4.7v4.7h-4.7zM342.3 942.5h4.7v4.7h-4.7zM329.1 1064.2h4.7v4.7h-4.7zM290.5 1029h4.7v4.7h-4.7zM288 1031.4h4.7v4.7h-4.7zM399 927.5h4.7v4.7h-4.7zM339.1 975.2h4.7v4.7h-4.7zM391.7 917.2h4.7v4.7h-4.7zM375.2 957.3h4.7v4.7h-4.7zM425 968.8h4.7v4.7h-4.7zM405.4 1047.9h4.7v4.7h-4.7zM302.8 1024.7h4.7v4.7h-4.7zM370.5 936.8h4.7v4.7h-4.7zM385.1 1059.3h4.7v4.7h-4.7zM315.6 1008.5h4.7v4.7h-4.7zM392.6 1058.4h4.7v4.7h-4.7zM425.5 1006.4h4.7v4.7h-4.7zM325.4 1061.1h4.7v4.7h-4.7zM289.9 1018.6h4.7v4.7h-4.7zM309.6 999.4h4.7v4.7h-4.7zM333.4 991.1h4.7v4.7h-4.7zM390.6 938h4.7v4.7h-4.7zM282.6 1044.7h4.7v4.7h-4.7zM412.5 1027.4h4.7v4.7h-4.7zM288.2 1037.8h4.7v4.7h-4.7zM425.7 971.8h4.7v4.7h-4.7zM418.5 886.7h4.7v4.7h-4.7zM394.3 889.3h4.7v4.7h-4.7zM400.2 892.8h4.7v4.7h-4.7zM389.4 902.4h4.7v4.7h-4.7zM401.6 915.5h4.7v4.7h-4.7zM392.9 920.4h4.7v4.7h-4.7zM378.3 923.6h4.7v4.7h-4.7zM401.6 925.6h4.7v4.7h-4.7zM340.5 928.5h4.7v4.7h-4.7zM290.5 945.4h4.7v4.7h-4.7zM313.8 959.7h4.7v4.7h-4.7zM331.8 957h4.7v4.7h-4.7zM306.5 964.3h4.7v4.7h-4.7zM434.5 981.8h4.7v4.7h-4.7zM434.8 1011.4h4.7v4.7h-4.7zM264 1019.6h4.7v4.7h-4.7zM272.2 1015.8h4.7v4.7h-4.7zM378.9 1070.5h4.7v4.7h-4.7zM358.6 1068.4h4.7v4.7h-4.7zM310 1064.7h4.7v4.7h-4.7z" fill="#b3b3b3"/>
<rect x="222.2" y="823" width="311.5" height="306" fill="none" stroke="#444" stroke-width="1.1"/>
<path d="M375.4 823V1129M222.2 1009.7H533.7" stroke="#111" stroke-width="1.3" fill="none"/>
<path d="M243.6 1129v8M388.5 1129v8M450.6 1129v8M507.2 1129v8M301.9 1129v6.5M331.6 1129v6.5M407.2 1129v4M418.1 1129v4M425.9 1129v4M431.9 1129v6M436.8 1129v4M441 1129v4M444.6 1129v4M447.8 1129v4M467.6 1129v4M477.6 1129v4M484.7 1129v4M490.2 1129v6M494.6 1129v4M498.4 1129v4M501.7 1129v4M504.6 1129v4M348.7 1129v4M358.7 1129v4M365.9 1129v4M371.4 1129v6M375.9 1129v4M379.7 1129v4M383 1129v4M385.9 1129v4M284.3 1129v4M274.1 1129v4M266.8 1129v4M261.2 1129v6M256.5 1129v4M252.6 1129v4M249.2 1129v4M246.3 1129v4M524.2 1129v4M233.9 1129v4M304.3 1129v3.5M306.8 1129v4.3M309.2 1129v4.3M311.7 1129v5.3M314.2 1129v6.7M316.7 1129v9M319.2 1129v5.9M321.7 1129v5.9M324.1 1129v4.3M326.6 1129v4.1M329.1 1129v3.5M222.2 1083.9h-8M222.2 993.4h-8M222.2 916.3h-8M222.2 848.9h-8M222.2 1048.5h-6.5M222.2 1029.6h-6.5M222.2 970.2h-4M222.2 956.6h-4M222.2 947h-4M222.2 939.5h-6M222.2 933.4h-4M222.2 928.2h-4M222.2 923.8h-4M222.2 919.8h-4M222.2 896h-4M222.2 884.1h-4M222.2 875.7h-4M222.2 869.2h-6M222.2 863.9h-4M222.2 859.3h-4M222.2 855.4h-4M222.2 852h-4M222.2 1018.7h-4M222.2 1012.3h-4M222.2 1007.8h-4M222.2 1004.3h-6M222.2 1001.4h-4M222.2 999h-4M222.2 996.9h-4M222.2 995.1h-4M222.2 1059.2h-4M222.2 1065.4h-4M222.2 1069.8h-4M222.2 1073.2h-6M222.2 1076h-4M222.2 1078.4h-4M222.2 1080.5h-4M222.2 1082.3h-4M222.2 828.6h-4M222.2 1089.8h-4M222.2 1047h-3.5M222.2 1045.4h-4.3M222.2 1043.8h-4.3M222.2 1042.3h-5.3M222.2 1040.7h-6.7M222.2 1039.1h-9M222.2 1037.5h-5.9M222.2 1035.9h-5.9M222.2 1034.3h-4.3M222.2 1032.8h-4.1M222.2 1031.2h-3.5" stroke="#111" stroke-width="1" fill="none"/>
<text transform="translate(226.7 848.2) scale(1 1.05)" font-size="26.9">0</text>
<text transform="translate(521.2 848.2) scale(1 1.05)" font-size="26.9" text-anchor="end">0</text>
<text transform="translate(226.7 1123.8) scale(1 1.05)" font-size="26.9">0</text>
<text transform="translate(521.2 1123.8) scale(1 1.05)" font-size="26.9" text-anchor="end">0</text>
</g>
<g id="f6">
<path d="M650.2 1047.2L656 1032.7L676.3 1025.4L699.6 1022.5L722.9 1016.7L737.4 1003.6L740.3 962.9L746.2 939.6L763.6 930.9L778.2 936.7L786.9 957.1L789.8 980.3L786.9 1003.6L784 1026.9L775.2 1050.1L763.6 1061.8L740.3 1066.1L717.1 1064.7L693.8 1063.2L670.5 1058.9L653.1 1056ZM646.3 1046.6h4.7v4.7h-4.7zM645.9 1046h4.7v4.7h-4.7zM646.2 1044.4h4.7v4.7h-4.7zM648.5 1045.6h4.7v4.7h-4.7zM651.2 1040.8h4.7v4.7h-4.7zM648.9 1041.7h4.7v4.7h-4.7zM650.2 1036.9h4.7v4.7h-4.7zM651.5 1033.8h4.7v4.7h-4.7zM651 1040.8h4.7v4.7h-4.7zM652.2 1033.8h4.7v4.7h-4.7zM654.2 1034.9h4.7v4.7h-4.7zM650.8 1033.3h4.7v4.7h-4.7zM653.1 1034.1h4.7v4.7h-4.7zM652.6 1035.9h4.7v4.7h-4.7zM652.4 1032.1h4.7v4.7h-4.7zM650.6 1026.5h4.7v4.7h-4.7zM655.7 1030.1h4.7v4.7h-4.7zM659.6 1028.9h4.7v4.7h-4.7zM658.8 1026.4h4.7v4.7h-4.7zM658.3 1029.9h4.7v4.7h-4.7zM659.7 1030h4.7v4.7h-4.7zM663.3 1029.2h4.7v4.7h-4.7zM662.6 1026.8h4.7v4.7h-4.7zM664 1025.2h4.7v4.7h-4.7zM666.9 1025.2h4.7v4.7h-4.7zM665.6 1024.2h4.7v4.7h-4.7zM665.4 1024h4.7v4.7h-4.7zM668.3 1025.7h4.7v4.7h-4.7zM669.7 1026.7h4.7v4.7h-4.7zM667.8 1026.5h4.7v4.7h-4.7zM670.6 1022.2h4.7v4.7h-4.7zM670.7 1026h4.7v4.7h-4.7zM677.3 1022h4.7v4.7h-4.7zM671.9 1020h4.7v4.7h-4.7zM676.5 1023.7h4.7v4.7h-4.7zM677.2 1023.3h4.7v4.7h-4.7zM681.4 1022.7h4.7v4.7h-4.7zM679.5 1022h4.7v4.7h-4.7zM679.1 1017.8h4.7v4.7h-4.7zM681.1 1021.1h4.7v4.7h-4.7zM682.3 1020.7h4.7v4.7h-4.7zM683.4 1022.2h4.7v4.7h-4.7zM681.2 1020.9h4.7v4.7h-4.7zM686.5 1022.3h4.7v4.7h-4.7zM687.5 1021.7h4.7v4.7h-4.7zM684.8 1022h4.7v4.7h-4.7zM689.7 1021.2h4.7v4.7h-4.7zM691.6 1021.3h4.7v4.7h-4.7zM690.3 1016.8h4.7v4.7h-4.7zM691.7 1020.7h4.7v4.7h-4.7zM695.4 1022.5h4.7v4.7h-4.7zM695.7 1021.1h4.7v4.7h-4.7zM693.8 1021.7h4.7v4.7h-4.7zM697.6 1024.3h4.7v4.7h-4.7zM701.1 1018.1h4.7v4.7h-4.7zM699.8 1020.8h4.7v4.7h-4.7zM700.1 1015.8h4.7v4.7h-4.7zM702.8 1017.9h4.7v4.7h-4.7zM703.9 1018.6h4.7v4.7h-4.7zM703.7 1020h4.7v4.7h-4.7zM707.1 1018.4h4.7v4.7h-4.7zM708.3 1017.8h4.7v4.7h-4.7zM706.4 1017.3h4.7v4.7h-4.7zM706.3 1017.7h4.7v4.7h-4.7zM708.9 1016.6h4.7v4.7h-4.7zM713.7 1018h4.7v4.7h-4.7zM712 1013.3h4.7v4.7h-4.7zM712.7 1018.1h4.7v4.7h-4.7zM717 1012.5h4.7v4.7h-4.7zM717.6 1016.1h4.7v4.7h-4.7zM719.7 1017.7h4.7v4.7h-4.7zM716.6 1016.1h4.7v4.7h-4.7zM720.9 1016.5h4.7v4.7h-4.7zM720 1011.6h4.7v4.7h-4.7zM722.7 1014.7h4.7v4.7h-4.7zM721.9 1012.2h4.7v4.7h-4.7zM724.5 1010.8h4.7v4.7h-4.7zM723.4 1010.3h4.7v4.7h-4.7zM728.9 1008.6h4.7v4.7h-4.7zM726.4 1011.8h4.7v4.7h-4.7zM730 1004.6h4.7v4.7h-4.7zM726.3 1005.4h4.7v4.7h-4.7zM729.4 1001.7h4.7v4.7h-4.7zM726.9 1005.9h4.7v4.7h-4.7zM732.2 1002.2h4.7v4.7h-4.7zM732 1007.1h4.7v4.7h-4.7zM731.4 1005.5h4.7v4.7h-4.7zM733.2 998.5h4.7v4.7h-4.7zM735.4 1001.5h4.7v4.7h-4.7zM738 999.9h4.7v4.7h-4.7zM738.9 998.9h4.7v4.7h-4.7zM736.4 998.7h4.7v4.7h-4.7zM736.5 999.3h4.7v4.7h-4.7zM735.5 995.7h4.7v4.7h-4.7zM736.9 994h4.7v4.7h-4.7zM736.2 996.5h4.7v4.7h-4.7zM736.1 993h4.7v4.7h-4.7zM736.2 992.5h4.7v4.7h-4.7zM737.7 992.4h4.7v4.7h-4.7zM736.5 986.6h4.7v4.7h-4.7zM733.1 989.3h4.7v4.7h-4.7zM739 990.3h4.7v4.7h-4.7zM735.3 986h4.7v4.7h-4.7zM735.2 986.3h4.7v4.7h-4.7zM736.3 981.2h4.7v4.7h-4.7zM737.7 983.3h4.7v4.7h-4.7zM740.8 983.3h4.7v4.7h-4.7zM733.6 982.7h4.7v4.7h-4.7zM735 977.5h4.7v4.7h-4.7zM736.4 976.1h4.7v4.7h-4.7zM743 978.1h4.7v4.7h-4.7zM735.2 978.7h4.7v4.7h-4.7zM732.6 976.7h4.7v4.7h-4.7zM737.4 974.7h4.7v4.7h-4.7zM739.1 972.4h4.7v4.7h-4.7zM738.4 970.1h4.7v4.7h-4.7zM738.4 969.1h4.7v4.7h-4.7zM738.5 969.3h4.7v4.7h-4.7zM738.5 966.4h4.7v4.7h-4.7zM735.1 966h4.7v4.7h-4.7zM739.7 964.7h4.7v4.7h-4.7zM738 964.5h4.7v4.7h-4.7zM739.8 961.4h4.7v4.7h-4.7zM732.7 961.6h4.7v4.7h-4.7zM736.9 963.1h4.7v4.7h-4.7zM736.5 959.7h4.7v4.7h-4.7zM739.9 959.9h4.7v4.7h-4.7zM738 960.9h4.7v4.7h-4.7zM738.5 956.3h4.7v4.7h-4.7zM737.5 951.7h4.7v4.7h-4.7zM738.5 952.4h4.7v4.7h-4.7zM738.1 958.3h4.7v4.7h-4.7zM737.3 952.3h4.7v4.7h-4.7zM743.6 952.9h4.7v4.7h-4.7zM742.1 947.9h4.7v4.7h-4.7zM739.9 951.6h4.7v4.7h-4.7zM744.8 945.5h4.7v4.7h-4.7zM742.5 946.7h4.7v4.7h-4.7zM743.6 942.9h4.7v4.7h-4.7zM744.2 943.6h4.7v4.7h-4.7zM743.4 940.7h4.7v4.7h-4.7zM744.9 941.4h4.7v4.7h-4.7zM744.6 939.6h4.7v4.7h-4.7zM745 940.6h4.7v4.7h-4.7zM748.9 935.9h4.7v4.7h-4.7zM745.6 936.4h4.7v4.7h-4.7zM746.4 932.9h4.7v4.7h-4.7zM748.6 931.6h4.7v4.7h-4.7zM749.9 932.1h4.7v4.7h-4.7zM747.7 936.2h4.7v4.7h-4.7zM748.9 934.8h4.7v4.7h-4.7zM750.4 932.8h4.7v4.7h-4.7zM753.5 936h4.7v4.7h-4.7zM753.3 933.1h4.7v4.7h-4.7zM755.1 931.8h4.7v4.7h-4.7zM757.4 933.7h4.7v4.7h-4.7zM756.8 931.7h4.7v4.7h-4.7zM755 930.7h4.7v4.7h-4.7zM759.8 929.6h4.7v4.7h-4.7zM759 931.7h4.7v4.7h-4.7zM762.8 929.9h4.7v4.7h-4.7zM756.7 929h4.7v4.7h-4.7zM762 928.3h4.7v4.7h-4.7zM763.6 930.6h4.7v4.7h-4.7zM761.6 933.4h4.7v4.7h-4.7zM766.5 930h4.7v4.7h-4.7zM765.4 928.3h4.7v4.7h-4.7zM770.5 929.5h4.7v4.7h-4.7zM769 931.2h4.7v4.7h-4.7zM769.1 936.6h4.7v4.7h-4.7zM775.2 930.5h4.7v4.7h-4.7zM769.8 935.7h4.7v4.7h-4.7zM774.2 931.6h4.7v4.7h-4.7zM772.6 935.4h4.7v4.7h-4.7zM775.4 934.3h4.7v4.7h-4.7zM783.3 935.4h4.7v4.7h-4.7zM775 937.5h4.7v4.7h-4.7zM774.6 935.1h4.7v4.7h-4.7zM776.8 936.1h4.7v4.7h-4.7zM778.1 938.5h4.7v4.7h-4.7zM778.3 942.4h4.7v4.7h-4.7zM780.8 940.3h4.7v4.7h-4.7zM781.9 945.3h4.7v4.7h-4.7zM778.5 944.4h4.7v4.7h-4.7zM778 942.2h4.7v4.7h-4.7zM780.2 946.6h4.7v4.7h-4.7zM785.7 946.9h4.7v4.7h-4.7zM783.7 944h4.7v4.7h-4.7zM782.7 951.3h4.7v4.7h-4.7zM780.9 949.1h4.7v4.7h-4.7zM783.7 954.6h4.7v4.7h-4.7zM780.7 949h4.7v4.7h-4.7zM785.4 954.7h4.7v4.7h-4.7zM784.7 951.9h4.7v4.7h-4.7zM785 959.4h4.7v4.7h-4.7zM784.2 956.9h4.7v4.7h-4.7zM787.7 955.4h4.7v4.7h-4.7zM784.1 958.7h4.7v4.7h-4.7zM785.1 959.9h4.7v4.7h-4.7zM784 959.2h4.7v4.7h-4.7zM785.2 965.4h4.7v4.7h-4.7zM786 962.3h4.7v4.7h-4.7zM788.4 964.9h4.7v4.7h-4.7zM785.7 965.6h4.7v4.7h-4.7zM782.8 965.9h4.7v4.7h-4.7zM786.7 966.2h4.7v4.7h-4.7zM786.1 969h4.7v4.7h-4.7zM784.5 971h4.7v4.7h-4.7zM785.5 972.8h4.7v4.7h-4.7zM784.6 976.3h4.7v4.7h-4.7zM788.4 969.4h4.7v4.7h-4.7zM783.6 970.6h4.7v4.7h-4.7zM786.6 975h4.7v4.7h-4.7zM790.5 979.3h4.7v4.7h-4.7zM784.3 976.9h4.7v4.7h-4.7zM783.5 976.4h4.7v4.7h-4.7zM787.5 981.4h4.7v4.7h-4.7zM787.8 983.5h4.7v4.7h-4.7zM784.8 981.2h4.7v4.7h-4.7zM787.5 984.7h4.7v4.7h-4.7zM786.3 985.8h4.7v4.7h-4.7zM790 984h4.7v4.7h-4.7zM786.8 985.4h4.7v4.7h-4.7zM788.2 984.2h4.7v4.7h-4.7zM786.5 994.6h4.7v4.7h-4.7zM786.2 989h4.7v4.7h-4.7zM786.4 992.5h4.7v4.7h-4.7zM785.1 990.9h4.7v4.7h-4.7zM785.7 994.7h4.7v4.7h-4.7zM783.8 994.9h4.7v4.7h-4.7zM783.9 996.1h4.7v4.7h-4.7zM784.2 993.9h4.7v4.7h-4.7zM780.7 1002.1h4.7v4.7h-4.7zM782.7 997.6h4.7v4.7h-4.7zM784.7 1002.9h4.7v4.7h-4.7zM784.1 999.4h4.7v4.7h-4.7zM785.9 1004.9h4.7v4.7h-4.7zM783.1 1003.6h4.7v4.7h-4.7zM784.1 1010.5h4.7v4.7h-4.7zM784.7 1003.9h4.7v4.7h-4.7zM783.8 1005.4h4.7v4.7h-4.7zM784.5 1010.6h4.7v4.7h-4.7zM785.9 1011.7h4.7v4.7h-4.7zM782.5 1010.4h4.7v4.7h-4.7zM781.6 1012.7h4.7v4.7h-4.7zM779.9 1007.9h4.7v4.7h-4.7zM783 1014.5h4.7v4.7h-4.7zM780.7 1013.8h4.7v4.7h-4.7zM783.9 1016.7h4.7v4.7h-4.7zM784.1 1018.6h4.7v4.7h-4.7zM780.1 1023.1h4.7v4.7h-4.7zM784.2 1018.1h4.7v4.7h-4.7zM782.1 1020.1h4.7v4.7h-4.7zM781.6 1024.3h4.7v4.7h-4.7zM780.9 1022.9h4.7v4.7h-4.7zM782.7 1022.6h4.7v4.7h-4.7zM780.9 1029h4.7v4.7h-4.7zM782.1 1025.2h4.7v4.7h-4.7zM779.1 1031h4.7v4.7h-4.7zM783.4 1027.7h4.7v4.7h-4.7zM779 1029.4h4.7v4.7h-4.7zM777 1028.9h4.7v4.7h-4.7zM777.7 1035.3h4.7v4.7h-4.7zM780.8 1036.7h4.7v4.7h-4.7zM776.2 1032.6h4.7v4.7h-4.7zM779 1032h4.7v4.7h-4.7zM775.3 1039.5h4.7v4.7h-4.7zM779 1039.4h4.7v4.7h-4.7zM774.4 1041.1h4.7v4.7h-4.7zM776.9 1037.9h4.7v4.7h-4.7zM776.6 1044.8h4.7v4.7h-4.7zM774.2 1045.6h4.7v4.7h-4.7zM775.5 1043.1h4.7v4.7h-4.7zM770 1041.8h4.7v4.7h-4.7zM772 1043.4h4.7v4.7h-4.7zM775.1 1047.3h4.7v4.7h-4.7zM772.9 1047.7h4.7v4.7h-4.7zM772.5 1046.1h4.7v4.7h-4.7zM770.4 1053.2h4.7v4.7h-4.7zM769.6 1051.2h4.7v4.7h-4.7zM771.3 1051.1h4.7v4.7h-4.7zM771.3 1050.7h4.7v4.7h-4.7zM767.3 1052.4h4.7v4.7h-4.7zM770.1 1052.5h4.7v4.7h-4.7zM761.1 1054.6h4.7v4.7h-4.7zM765.9 1054.7h4.7v4.7h-4.7zM764.4 1056.5h4.7v4.7h-4.7zM768.5 1057.1h4.7v4.7h-4.7zM763.6 1054.7h4.7v4.7h-4.7zM761.7 1056.3h4.7v4.7h-4.7zM759.7 1058.7h4.7v4.7h-4.7zM758.8 1056.9h4.7v4.7h-4.7zM757.8 1060.9h4.7v4.7h-4.7zM758.2 1061.1h4.7v4.7h-4.7zM759.9 1058.5h4.7v4.7h-4.7zM756.3 1061.2h4.7v4.7h-4.7zM750.9 1060.7h4.7v4.7h-4.7zM753.4 1064h4.7v4.7h-4.7zM751 1062.1h4.7v4.7h-4.7zM753.1 1058.2h4.7v4.7h-4.7zM747.2 1063.6h4.7v4.7h-4.7zM748.4 1064.8h4.7v4.7h-4.7zM745.9 1059.9h4.7v4.7h-4.7zM746.3 1064.7h4.7v4.7h-4.7zM745.2 1067.8h4.7v4.7h-4.7zM741.9 1061.2h4.7v4.7h-4.7zM743.6 1063.3h4.7v4.7h-4.7zM742 1064h4.7v4.7h-4.7zM738.3 1065.2h4.7v4.7h-4.7zM740.4 1062.4h4.7v4.7h-4.7zM737.5 1062.9h4.7v4.7h-4.7zM738.1 1059.8h4.7v4.7h-4.7zM735.1 1061.9h4.7v4.7h-4.7zM733.8 1066.3h4.7v4.7h-4.7zM733.9 1062.7h4.7v4.7h-4.7zM733 1067.6h4.7v4.7h-4.7zM731.2 1062h4.7v4.7h-4.7zM731.4 1063.9h4.7v4.7h-4.7zM727.8 1067h4.7v4.7h-4.7zM727.6 1062.7h4.7v4.7h-4.7zM726.9 1063.8h4.7v4.7h-4.7zM725.5 1063.8h4.7v4.7h-4.7zM726 1064.5h4.7v4.7h-4.7zM724.2 1063.2h4.7v4.7h-4.7zM725.1 1063.6h4.7v4.7h-4.7zM721.6 1062.5h4.7v4.7h-4.7zM723.2 1061.5h4.7v4.7h-4.7zM723.5 1062.9h4.7v4.7h-4.7zM718.4 1062.5h4.7v4.7h-4.7zM718.8 1064.3h4.7v4.7h-4.7zM714 1061.2h4.7v4.7h-4.7zM711.7 1060.5h4.7v4.7h-4.7zM713.5 1062.7h4.7v4.7h-4.7zM712.4 1062h4.7v4.7h-4.7zM709.6 1063.6h4.7v4.7h-4.7zM709.8 1061.9h4.7v4.7h-4.7zM710.5 1061.9h4.7v4.7h-4.7zM707.6 1061.3h4.7v4.7h-4.7zM704.4 1060.9h4.7v4.7h-4.7zM706.6 1059.1h4.7v4.7h-4.7zM702 1060.5h4.7v4.7h-4.7zM697.7 1063h4.7v4.7h-4.7zM697.8 1061.3h4.7v4.7h-4.7zM700.9 1059.8h4.7v4.7h-4.7zM696.6 1066.4h4.7v4.7h-4.7zM698.1 1060.1h4.7v4.7h-4.7zM694.4 1060.8h4.7v4.7h-4.7zM694.7 1058.5h4.7v4.7h-4.7zM695.4 1059h4.7v4.7h-4.7zM695.4 1062.8h4.7v4.7h-4.7zM693.2 1062.3h4.7v4.7h-4.7zM689.8 1061.8h4.7v4.7h-4.7zM689.1 1061.6h4.7v4.7h-4.7zM688.8 1063.4h4.7v4.7h-4.7zM687.9 1062h4.7v4.7h-4.7zM691.8 1058.6h4.7v4.7h-4.7zM684.5 1057.2h4.7v4.7h-4.7zM682.5 1058.5h4.7v4.7h-4.7zM683.7 1057.7h4.7v4.7h-4.7zM686.1 1060.5h4.7v4.7h-4.7zM680.6 1063h4.7v4.7h-4.7zM681.1 1057.7h4.7v4.7h-4.7zM677.4 1062.3h4.7v4.7h-4.7zM679.3 1056.8h4.7v4.7h-4.7zM677.1 1059.2h4.7v4.7h-4.7zM676.9 1057h4.7v4.7h-4.7zM670.3 1054h4.7v4.7h-4.7zM671 1057h4.7v4.7h-4.7zM669.1 1056.1h4.7v4.7h-4.7zM671.2 1055.7h4.7v4.7h-4.7zM668.4 1054.1h4.7v4.7h-4.7zM668.8 1060.8h4.7v4.7h-4.7zM667.1 1055.8h4.7v4.7h-4.7zM663.8 1059.7h4.7v4.7h-4.7zM666 1058.2h4.7v4.7h-4.7zM663.1 1057.9h4.7v4.7h-4.7zM661.4 1056h4.7v4.7h-4.7zM657.2 1055.5h4.7v4.7h-4.7zM660.3 1058.1h4.7v4.7h-4.7zM662.7 1057.8h4.7v4.7h-4.7zM658.7 1054.9h4.7v4.7h-4.7zM657.3 1057.5h4.7v4.7h-4.7zM652.1 1054h4.7v4.7h-4.7zM651.5 1052.6h4.7v4.7h-4.7zM653.4 1055.3h4.7v4.7h-4.7zM649.7 1052.6h4.7v4.7h-4.7zM646.7 1055.2h4.7v4.7h-4.7zM650.8 1057.7h4.7v4.7h-4.7zM646.8 1051.3h4.7v4.7h-4.7zM654.2 1050.9h4.7v4.7h-4.7zM650.1 1046.3h4.7v4.7h-4.7zM647.4 1051.9h4.7v4.7h-4.7zM646.5 1045.4h4.7v4.7h-4.7zM651.5 1050h4.7v4.7h-4.7zM716.7 1014.2h4.7v4.7h-4.7zM787.3 1029h4.7v4.7h-4.7zM681 976.4h4.7v4.7h-4.7zM724.8 1069.6h4.7v4.7h-4.7zM787.2 966.7h4.7v4.7h-4.7zM706.5 1014.1h4.7v4.7h-4.7zM731 990h4.7v4.7h-4.7zM663.5 1015.7h4.7v4.7h-4.7zM700 951h4.7v4.7h-4.7zM788.1 987.3h4.7v4.7h-4.7zM766.3 927.9h4.7v4.7h-4.7zM722.1 1000.7h4.7v4.7h-4.7zM781.6 934.3h4.7v4.7h-4.7zM681.1 964.5h4.7v4.7h-4.7zM726.6 962.8h4.7v4.7h-4.7zM732.7 986h4.7v4.7h-4.7zM683.5 1015.8h4.7v4.7h-4.7zM789.1 1001.4h4.7v4.7h-4.7zM703.3 992.6h4.7v4.7h-4.7zM700.3 989.1h4.7v4.7h-4.7zM748.4 928.8h4.7v4.7h-4.7zM736.5 957.6h4.7v4.7h-4.7zM656.9 1020.4h4.7v4.7h-4.7zM742.9 1066.7h4.7v4.7h-4.7zM789.3 971h4.7v4.7h-4.7zM734.3 966.6h4.7v4.7h-4.7zM751.4 1065.2h4.7v4.7h-4.7zM790.4 1024h4.7v4.7h-4.7zM780.2 934.1h4.7v4.7h-4.7zM772.9 1047.9h4.7v4.7h-4.7zM681.8 971.8h4.7v4.7h-4.7zM702.8 950.9h4.7v4.7h-4.7zM690 989.5h4.7v4.7h-4.7zM750 1069.4h4.7v4.7h-4.7zM703.5 994.5h4.7v4.7h-4.7zM666.9 1058.4h4.7v4.7h-4.7zM675.3 958.6h4.7v4.7h-4.7zM793.4 956.1h4.7v4.7h-4.7zM735.7 1064h4.7v4.7h-4.7zM787.4 1005.1h4.7v4.7h-4.7zM702.1 945.2h4.7v4.7h-4.7zM732.8 989.4h4.7v4.7h-4.7zM671.3 1067.1h4.7v4.7h-4.7zM764.7 1057.4h4.7v4.7h-4.7zM671.9 1016.5h4.7v4.7h-4.7zM682.5 978.2h4.7v4.7h-4.7zM787.9 963.7h4.7v4.7h-4.7zM778 925.2h4.7v4.7h-4.7zM780.1 1043.8h4.7v4.7h-4.7zM646.7 1014.3h4.7v4.7h-4.7zM709 969.5h4.7v4.7h-4.7zM724.8 1072.3h4.7v4.7h-4.7zM674.6 1022.2h4.7v4.7h-4.7zM731.7 977.8h4.7v4.7h-4.7zM787.2 1032.1h4.7v4.7h-4.7zM796.2 1011.1h4.7v4.7h-4.7zM785.4 943.7h4.7v4.7h-4.7zM690.8 986.5h4.7v4.7h-4.7zM730.6 957.9h4.7v4.7h-4.7zM744 1066.5h4.7v4.7h-4.7zM797.1 981.7h4.7v4.7h-4.7zM700.9 951.5h4.7v4.7h-4.7zM685.3 1061.6h4.7v4.7h-4.7zM730 987.8h4.7v4.7h-4.7zM669 1008.4h4.7v4.7h-4.7zM728.1 963.1h4.7v4.7h-4.7zM743.6 1066.6h4.7v4.7h-4.7zM771.2 1056.6h4.7v4.7h-4.7zM732 929.7h4.7v4.7h-4.7zM789.3 988.8h4.7v4.7h-4.7zM678.5 975.2h4.7v4.7h-4.7zM786.8 997.3h4.7v4.7h-4.7zM718.6 953.8h4.7v4.7h-4.7zM651.5 1030.1h4.7v4.7h-4.7zM667 1016.6h4.7v4.7h-4.7zM700.4 1003h4.7v4.7h-4.7zM690.1 1066.8h4.7v4.7h-4.7zM788 978.3h4.7v4.7h-4.7zM717.2 1003.9h4.7v4.7h-4.7zM788.7 1023.9h4.7v4.7h-4.7zM727 982.3h4.7v4.7h-4.7zM786 993.4h4.7v4.7h-4.7zM789 967.8h4.7v4.7h-4.7zM730.5 950.6h4.7v4.7h-4.7zM781.8 921.5h4.7v4.7h-4.7zM759 1060.2h4.7v4.7h-4.7zM787.7 1029.2h4.7v4.7h-4.7zM735 943.1h4.7v4.7h-4.7zM661 1013.6h4.7v4.7h-4.7zM788.2 1000.1h4.7v4.7h-4.7zM696.3 1062.2h4.7v4.7h-4.7zM720.6 943h4.7v4.7h-4.7zM712.3 937.2h4.7v4.7h-4.7zM667.5 1021.9h4.7v4.7h-4.7zM795.9 982.7h4.7v4.7h-4.7zM756.5 927.8h4.7v4.7h-4.7zM773 1050.4h4.7v4.7h-4.7zM668.4 1021.8h4.7v4.7h-4.7zM747.7 913.2h4.7v4.7h-4.7zM721.1 977.4h4.7v4.7h-4.7zM781.6 931.9h4.7v4.7h-4.7zM656.4 1055.1h4.7v4.7h-4.7zM725.9 959.6h4.7v4.7h-4.7zM676.9 973.5h4.7v4.7h-4.7zM683.3 1067.8h4.7v4.7h-4.7zM732.1 973.5h4.7v4.7h-4.7zM783.2 940.4h4.7v4.7h-4.7zM755.2 927.7h4.7v4.7h-4.7zM743.1 1063.6h4.7v4.7h-4.7zM737.6 958h4.7v4.7h-4.7zM767.4 924.4h4.7v4.7h-4.7zM786.6 991h4.7v4.7h-4.7zM738.6 934.1h4.7v4.7h-4.7zM779.6 929.7h4.7v4.7h-4.7zM713.7 1015.7h4.7v4.7h-4.7zM698.3 961.3h4.7v4.7h-4.7zM706.2 977.4h4.7v4.7h-4.7zM709 942.6h4.7v4.7h-4.7zM736.8 944.9h4.7v4.7h-4.7zM722.7 976h4.7v4.7h-4.7zM680.3 982.6h4.7v4.7h-4.7zM723.8 1065.9h4.7v4.7h-4.7zM715.9 933h4.7v4.7h-4.7zM738.8 944.5h4.7v4.7h-4.7zM777 1052.1h4.7v4.7h-4.7zM697 1067.9h4.7v4.7h-4.7zM751.8 1069.1h4.7v4.7h-4.7zM759.1 924.1h4.7v4.7h-4.7zM701.5 1070.3h4.7v4.7h-4.7zM791.5 968.1h4.7v4.7h-4.7zM676.9 1072.6h4.7v4.7h-4.7zM716.2 1068.4h4.7v4.7h-4.7zM665.8 993.8h4.7v4.7h-4.7zM695.2 1009.1h4.7v4.7h-4.7zM664.4 988.6h4.7v4.7h-4.7zM778.8 905.8h4.7v4.7h-4.7zM645.8 1022.3h4.7v4.7h-4.7zM741.4 940.2h4.7v4.7h-4.7zM701.6 946.3h4.7v4.7h-4.7zM798.7 984.1h4.7v4.7h-4.7zM707 1006.2h4.7v4.7h-4.7zM732.2 973.5h4.7v4.7h-4.7zM696.1 969.1h4.7v4.7h-4.7zM787.9 981.1h4.7v4.7h-4.7zM669.4 1008h4.7v4.7h-4.7zM724.7 952.2h4.7v4.7h-4.7zM708.4 999.4h4.7v4.7h-4.7zM685.9 998.2h4.7v4.7h-4.7zM696.3 1002.3h4.7v4.7h-4.7zM676.7 991.5h4.7v4.7h-4.7zM670.1 1019.3h4.7v4.7h-4.7zM798.5 985.3h4.7v4.7h-4.7zM719.7 1067.5h4.7v4.7h-4.7zM736.7 1064.2h4.7v4.7h-4.7zM687.2 1016.2h4.7v4.7h-4.7zM770.2 1057.8h4.7v4.7h-4.7zM681.8 981.8h4.7v4.7h-4.7zM760.4 921.9h4.7v4.7h-4.7zM678.7 982.6h4.7v4.7h-4.7zM781.9 947.2h4.7v4.7h-4.7zM656.9 1012.5h4.7v4.7h-4.7zM776.2 935.2h4.7v4.7h-4.7zM663.5 1016.8h4.7v4.7h-4.7zM782.9 1039.7h4.7v4.7h-4.7zM765.4 1057.7h4.7v4.7h-4.7zM676.1 1061.9h4.7v4.7h-4.7zM724.7 950.2h4.7v4.7h-4.7zM716.4 976.2h4.7v4.7h-4.7zM789.2 952h4.7v4.7h-4.7zM671.7 968.8h4.7v4.7h-4.7zM703.4 1063.9h4.7v4.7h-4.7zM667.8 986.4h4.7v4.7h-4.7zM788 1005.8h4.7v4.7h-4.7zM682.7 1059.6h4.7v4.7h-4.7zM747.3 932.5h4.7v4.7h-4.7zM785.4 950.9h4.7v4.7h-4.7zM656.1 1025.5h4.7v4.7h-4.7zM787.3 990.1h4.7v4.7h-4.7zM709.5 962.5h4.7v4.7h-4.7zM657.6 1059.8h4.7v4.7h-4.7zM786.1 1023.6h4.7v4.7h-4.7zM718.5 960.5h4.7v4.7h-4.7zM725.2 959.6h4.7v4.7h-4.7zM793.7 954.4h4.7v4.7h-4.7zM781.1 946.5h4.7v4.7h-4.7zM787 1001h4.7v4.7h-4.7zM676.8 1002.9h4.7v4.7h-4.7zM683 977.8h4.7v4.7h-4.7zM783.5 1012.5h4.7v4.7h-4.7zM701.3 958.6h4.7v4.7h-4.7zM778.6 918.9h4.7v4.7h-4.7zM742.4 922.4h4.7v4.7h-4.7zM710.9 963.6h4.7v4.7h-4.7zM734.9 998.6h4.7v4.7h-4.7zM770 926.4h4.7v4.7h-4.7zM733.6 945.2h4.7v4.7h-4.7zM733.4 957.4h4.7v4.7h-4.7zM671.3 1010.9h4.7v4.7h-4.7zM786.1 1034.5h4.7v4.7h-4.7zM731.2 946.6h4.7v4.7h-4.7zM722.1 943h4.7v4.7h-4.7zM644.4 1043h4.7v4.7h-4.7zM746.9 934.7h4.7v4.7h-4.7zM718.3 978.2h4.7v4.7h-4.7zM732.1 935.8h4.7v4.7h-4.7zM776.7 910h4.7v4.7h-4.7zM709 952.6h4.7v4.7h-4.7zM671.7 1013.6h4.7v4.7h-4.7zM717.9 971.8h4.7v4.7h-4.7zM693.4 1005h4.7v4.7h-4.7zM716.6 970.7h4.7v4.7h-4.7zM705.9 988.8h4.7v4.7h-4.7zM714.3 1067.8h4.7v4.7h-4.7zM739.5 1067.7h4.7v4.7h-4.7zM657.4 1011.4h4.7v4.7h-4.7zM644.2 1023.4h4.7v4.7h-4.7zM781.2 1039.3h4.7v4.7h-4.7zM774.3 930.2h4.7v4.7h-4.7zM673.3 1012.8h4.7v4.7h-4.7zM735.1 970.1h4.7v4.7h-4.7zM664.4 1020.2h4.7v4.7h-4.7zM730.2 942.1h4.7v4.7h-4.7zM736.2 961.5h4.7v4.7h-4.7zM651.9 993.6h4.7v4.7h-4.7zM661.1 1008.9h4.7v4.7h-4.7zM707.9 960.2h4.7v4.7h-4.7zM680.7 1016.7h4.7v4.7h-4.7zM725 993.6h4.7v4.7h-4.7zM768.8 917.6h4.7v4.7h-4.7zM680.9 1009.9h4.7v4.7h-4.7zM786.6 951.3h4.7v4.7h-4.7zM691.9 951.9h4.7v4.7h-4.7zM692.8 962.2h4.7v4.7h-4.7zM697.4 959.8h4.7v4.7h-4.7zM700.2 998h4.7v4.7h-4.7zM795.8 976.4h4.7v4.7h-4.7zM655.2 1056.9h4.7v4.7h-4.7zM787.8 962.8h4.7v4.7h-4.7zM651.8 1022.7h4.7v4.7h-4.7zM789 991.5h4.7v4.7h-4.7zM731.2 993.5h4.7v4.7h-4.7zM740.4 950h4.7v4.7h-4.7zM725.9 952.4h4.7v4.7h-4.7zM740.5 931.4h4.7v4.7h-4.7zM661.9 1010.3h4.7v4.7h-4.7zM734 1001h4.7v4.7h-4.7zM763.5 1057.9h4.7v4.7h-4.7zM789.9 958.1h4.7v4.7h-4.7zM663 1057.2h4.7v4.7h-4.7zM646.5 1052.8h4.7v4.7h-4.7zM731.1 1000.2h4.7v4.7h-4.7zM678.2 1017.9h4.7v4.7h-4.7zM693 1061.5h4.7v4.7h-4.7zM703.9 959.7h4.7v4.7h-4.7zM732.1 982.8h4.7v4.7h-4.7zM762.4 914.3h4.7v4.7h-4.7zM687.8 1060.6h4.7v4.7h-4.7zM712.1 988.3h4.7v4.7h-4.7zM680.3 1019.1h4.7v4.7h-4.7zM686.1 973.7h4.7v4.7h-4.7zM668.3 1006.2h4.7v4.7h-4.7zM690.6 998.6h4.7v4.7h-4.7zM787.2 967.8h4.7v4.7h-4.7zM645 1057.2h4.7v4.7h-4.7zM723.1 1063.2h4.7v4.7h-4.7zM725.5 1001h4.7v4.7h-4.7zM787.1 993h4.7v4.7h-4.7zM717.6 1007.9h4.7v4.7h-4.7zM786.8 1025.4h4.7v4.7h-4.7zM646.7 1045.8h4.7v4.7h-4.7zM795.1 1016.5h4.7v4.7h-4.7zM758.1 1060.7h4.7v4.7h-4.7zM712.6 1013.5h4.7v4.7h-4.7zM730.5 978.6h4.7v4.7h-4.7zM764.3 1057.7h4.7v4.7h-4.7zM703.2 1065.8h4.7v4.7h-4.7zM712.8 1072.6h4.7v4.7h-4.7zM719 942.5h4.7v4.7h-4.7zM722.6 975h4.7v4.7h-4.7zM720.4 957h4.7v4.7h-4.7zM727.7 939.9h4.7v4.7h-4.7zM658.9 1062.4h4.7v4.7h-4.7zM641.5 1019h4.7v4.7h-4.7zM720.5 1063.7h4.7v4.7h-4.7zM651.7 1029.8h4.7v4.7h-4.7zM693 1008.6h4.7v4.7h-4.7zM746.5 934.7h4.7v4.7h-4.7zM789.3 959.9h4.7v4.7h-4.7zM664.7 1071h4.7v4.7h-4.7zM686.5 958.7h4.7v4.7h-4.7zM674.6 995.5h4.7v4.7h-4.7zM751.1 1065.1h4.7v4.7h-4.7zM720.5 979.4h4.7v4.7h-4.7zM717.9 940.2h4.7v4.7h-4.7zM752.2 1067.2h4.7v4.7h-4.7zM776.8 1048.1h4.7v4.7h-4.7zM665 1058.4h4.7v4.7h-4.7zM687.1 1017.3h4.7v4.7h-4.7zM722.7 1008.2h4.7v4.7h-4.7zM692.8 988.8h4.7v4.7h-4.7zM658.3 1000.5h4.7v4.7h-4.7zM733.7 950.6h4.7v4.7h-4.7zM675.3 1006.6h4.7v4.7h-4.7zM774.1 918.2h4.7v4.7h-4.7zM713.6 935.4h4.7v4.7h-4.7zM721.2 1062.9h4.7v4.7h-4.7zM747.2 1065.9h4.7v4.7h-4.7zM787 1020.1h4.7v4.7h-4.7zM691.8 955h4.7v4.7h-4.7zM723 994.8h4.7v4.7h-4.7zM729.8 946.4h4.7v4.7h-4.7zM667.4 996.9h4.7v4.7h-4.7zM699.8 967.1h4.7v4.7h-4.7zM793.6 982.7h4.7v4.7h-4.7zM784.9 1031.2h4.7v4.7h-4.7zM768.3 926.5h4.7v4.7h-4.7zM790.3 1020.2h4.7v4.7h-4.7zM670.4 1058.6h4.7v4.7h-4.7zM696.9 962.4h4.7v4.7h-4.7zM768.3 928.9h4.7v4.7h-4.7zM688.4 985.5h4.7v4.7h-4.7zM701.2 1071.6h4.7v4.7h-4.7zM786.3 955.5h4.7v4.7h-4.7zM716.7 960.7h4.7v4.7h-4.7zM713.7 1066.3h4.7v4.7h-4.7zM719.4 993.4h4.7v4.7h-4.7zM701.6 993.8h4.7v4.7h-4.7zM659.6 1058.4h4.7v4.7h-4.7zM652.7 1021.9h4.7v4.7h-4.7zM756.2 1062.3h4.7v4.7h-4.7zM731.6 983.1h4.7v4.7h-4.7zM732.2 962.4h4.7v4.7h-4.7zM730.5 981h4.7v4.7h-4.7zM717.7 1004.2h4.7v4.7h-4.7zM777.9 1038.5h4.7v4.7h-4.7zM687.3 988h4.7v4.7h-4.7zM743.9 917.2h4.7v4.7h-4.7zM721.6 1064.4h4.7v4.7h-4.7zM645.4 1046h4.7v4.7h-4.7zM780.1 1030.2h4.7v4.7h-4.7zM765.5 908.6h4.7v4.7h-4.7zM691.2 949.5h4.7v4.7h-4.7zM726.2 942.2h4.7v4.7h-4.7zM791 1027.5h4.7v4.7h-4.7zM758.2 923.9h4.7v4.7h-4.7zM715.2 1069.8h4.7v4.7h-4.7zM682.7 986.8h4.7v4.7h-4.7zM780.3 939.7h4.7v4.7h-4.7zM783.5 1038.4h4.7v4.7h-4.7zM733.7 946.2h4.7v4.7h-4.7zM700.9 954.9h4.7v4.7h-4.7zM731.1 984.3h4.7v4.7h-4.7zM771.9 1051.4h4.7v4.7h-4.7zM796.6 978.8h4.7v4.7h-4.7zM713.8 995.4h4.7v4.7h-4.7zM659.6 1060.4h4.7v4.7h-4.7zM781.8 1027.2h4.7v4.7h-4.7zM711.7 1016.1h4.7v4.7h-4.7zM641.1 1031.6h4.7v4.7h-4.7zM719.7 987.3h4.7v4.7h-4.7zM645.1 1044.8h4.7v4.7h-4.7zM717.5 1002.8h4.7v4.7h-4.7zM664.8 1024.5h4.7v4.7h-4.7zM686.2 1008.2h4.7v4.7h-4.7zM689.1 1065h4.7v4.7h-4.7zM702 979.3h4.7v4.7h-4.7zM661.6 1065.2h4.7v4.7h-4.7zM646.7 1031.3h4.7v4.7h-4.7zM641.2 1061.9h4.7v4.7h-4.7zM735.9 960.1h4.7v4.7h-4.7zM721.7 1068.5h4.7v4.7h-4.7zM697.5 964.2h4.7v4.7h-4.7zM647.6 1044.3h4.7v4.7h-4.7zM762.4 925.3h4.7v4.7h-4.7zM787.6 995.2h4.7v4.7h-4.7zM731.9 962.3h4.7v4.7h-4.7zM786.2 997.1h4.7v4.7h-4.7zM696.7 991.6h4.7v4.7h-4.7zM784.9 956.5h4.7v4.7h-4.7zM718.9 958.4h4.7v4.7h-4.7zM791.3 992.6h4.7v4.7h-4.7zM689.2 996.6h4.7v4.7h-4.7zM703.7 993.6h4.7v4.7h-4.7zM703 971h4.7v4.7h-4.7zM785.4 1034.3h4.7v4.7h-4.7zM675.3 1006.5h4.7v4.7h-4.7zM696.6 1018.6h4.7v4.7h-4.7zM792.4 1011.9h4.7v4.7h-4.7zM667.7 1069.5h4.7v4.7h-4.7zM700.8 1070.7h4.7v4.7h-4.7zM714.4 999.5h4.7v4.7h-4.7zM725.9 979.4h4.7v4.7h-4.7zM751.6 1063.3h4.7v4.7h-4.7zM723.8 1070.4h4.7v4.7h-4.7zM741.1 936.2h4.7v4.7h-4.7zM734.9 984.5h4.7v4.7h-4.7zM788.2 967.2h4.7v4.7h-4.7zM778.6 1039.3h4.7v4.7h-4.7zM703.6 958.2h4.7v4.7h-4.7zM678.7 953.6h4.7v4.7h-4.7zM677.7 986.1h4.7v4.7h-4.7zM708.9 932.5h4.7v4.7h-4.7zM739.3 945.2h4.7v4.7h-4.7zM685.1 1009.3h4.7v4.7h-4.7zM656.9 1058.8h4.7v4.7h-4.7zM725.9 995.3h4.7v4.7h-4.7zM652.5 1054.3h4.7v4.7h-4.7zM653.9 1059.7h4.7v4.7h-4.7zM787.8 960.6h4.7v4.7h-4.7zM767.9 910.3h4.7v4.7h-4.7zM719.7 976.5h4.7v4.7h-4.7zM715.2 955.8h4.7v4.7h-4.7zM697.2 1001.1h4.7v4.7h-4.7zM661.4 1059.7h4.7v4.7h-4.7zM773 929.5h4.7v4.7h-4.7zM722.6 955h4.7v4.7h-4.7zM684.6 1063h4.7v4.7h-4.7zM771.2 920.1h4.7v4.7h-4.7zM724.2 942.2h4.7v4.7h-4.7zM688.3 944.4h4.7v4.7h-4.7zM712.6 996.8h4.7v4.7h-4.7zM655.6 1069.5h4.7v4.7h-4.7zM789.5 899.2h4.7v4.7h-4.7zM776.7 904.4h4.7v4.7h-4.7zM743.8 914.9h4.7v4.7h-4.7zM743.8 924.2h4.7v4.7h-4.7zM758.3 924.2h4.7v4.7h-4.7zM772.3 924.2h4.7v4.7h-4.7zM731.3 924.8h4.7v4.7h-4.7zM727.2 927.7h4.7v4.7h-4.7zM688 939.3h4.7v4.7h-4.7zM700.2 941h4.7v4.7h-4.7zM656.5 971h4.7v4.7h-4.7zM655.1 982.6h4.7v4.7h-4.7zM791.8 965.5h4.7v4.7h-4.7zM799.4 966.1h4.7v4.7h-4.7zM801.4 988.7h4.7v4.7h-4.7zM644 1063.8h4.7v4.7h-4.7zM649.3 1071.1h4.7v4.7h-4.7zM690.6 1074.8h4.7v4.7h-4.7zM751.7 1071.1h4.7v4.7h-4.7z" fill="#b3b3b3"/>
<path d="M774.2 909.8h4.9v4.9h-4.9zM780.6 938.6h4.9v4.9h-4.9zM759.7 966.8h4.9v4.9h-4.9zM771.3 966.3h4.9v4.9h-4.9zM778.6 961.9h4.9v4.9h-4.9zM787.3 1000.6h4.9v4.9h-4.9zM790.2 1024.4h4.9v4.9h-4.9zM800.4 1036.6h4.9v4.9h-4.9zM798.1 1040.4h4.9v4.9h-4.9zM788.8 1044.2h4.9v4.9h-4.9zM796.6 1052.1h4.9v4.9h-4.9zM772.8 1063.7h4.9v4.9h-4.9zM777.7 1060.2h4.9v4.9h-4.9zM781.8 1064.9h4.9v4.9h-4.9zM732.1 1058.7h4.9v4.9h-4.9zM737 1057.9h4.9v4.9h-4.9zM739.3 1010.5h4.9v4.9h-4.9zM743.7 1011.3h4.9v4.9h-4.9zM754.8 1007.6h4.9v4.9h-4.9zM758.4 1022.9h4.9v4.9h-4.9zM747.5 1085.1h4.9v4.9h-4.9zM776.2 1003.6h4.9v4.9h-4.9zM775.1 1011.2h4.9v4.9h-4.9zM775.3 1011.8h4.9v4.9h-4.9zM769.4 1057h4.9v4.9h-4.9zM774.9 999.1h4.9v4.9h-4.9zM771.3 1033.6h4.9v4.9h-4.9zM749.9 1042.4h4.9v4.9h-4.9zM766.9 1036.5h4.9v4.9h-4.9zM760.4 1031.4h4.9v4.9h-4.9zM764.1 1001h4.9v4.9h-4.9zM768.6 1026.8h4.9v4.9h-4.9zM748.9 1036.2h4.9v4.9h-4.9zM770.2 1042.2h4.9v4.9h-4.9zM777.2 1015.6h4.9v4.9h-4.9zM759.2 997.6h4.9v4.9h-4.9zM757.7 1056.3h4.9v4.9h-4.9zM751.4 1033.5h4.9v4.9h-4.9zM783.5 1017.8h4.9v4.9h-4.9zM748.7 1011h4.9v4.9h-4.9zM773.1 1025.3h4.9v4.9h-4.9zM774.6 1042h4.9v4.9h-4.9zM776 1012h4.9v4.9h-4.9zM775.9 998.3h4.9v4.9h-4.9zM748.8 1009.9h4.9v4.9h-4.9zM769 985.3h4.9v4.9h-4.9zM784.1 1013.8h4.9v4.9h-4.9zM770.8 1031.5h4.9v4.9h-4.9zM768.7 1040.7h4.9v4.9h-4.9zM763 1033.9h4.9v4.9h-4.9zM761.8 959h4.9v4.9h-4.9zM769.8 1017.1h4.9v4.9h-4.9zM768.6 1029.5h4.9v4.9h-4.9zM774.5 1035.6h4.9v4.9h-4.9zM777 1029.4h4.9v4.9h-4.9zM779.9 1022.8h4.9v4.9h-4.9zM778.3 1025.7h4.9v4.9h-4.9zM766.4 1003.4h4.9v4.9h-4.9zM764.5 1006.7h4.9v4.9h-4.9zM762.8 993.1h4.9v4.9h-4.9zM766.3 1032h4.9v4.9h-4.9zM765.2 1035.2h4.9v4.9h-4.9zM768.6 1033.4h4.9v4.9h-4.9zM771.8 1030.5h4.9v4.9h-4.9zM765.4 999.1h4.9v4.9h-4.9zM769.1 959.2h4.9v4.9h-4.9zM771.8 1010.2h4.9v4.9h-4.9zM759 1021.9h4.9v4.9h-4.9zM778.3 1001.1h4.9v4.9h-4.9zM757.2 1014.2h4.9v4.9h-4.9zM769.4 1000.1h4.9v4.9h-4.9zM758.9 1010.3h4.9v4.9h-4.9zM754.8 1004.6h4.9v4.9h-4.9zM774.9 1033.6h4.9v4.9h-4.9zM762.2 1014.2h4.9v4.9h-4.9zM768.5 1017.6h4.9v4.9h-4.9zM752.7 972.1h4.9v4.9h-4.9zM768.9 1006h4.9v4.9h-4.9zM768.2 954.5h4.9v4.9h-4.9zM780.6 1013.4h4.9v4.9h-4.9zM785.4 978.6h4.9v4.9h-4.9zM757.3 1031.3h4.9v4.9h-4.9zM774 1027.7h4.9v4.9h-4.9zM771.3 1029.3h4.9v4.9h-4.9zM754 1019.9h4.9v4.9h-4.9zM788.4 1013.5h4.9v4.9h-4.9zM773.2 1072.6h4.9v4.9h-4.9zM777.3 1022.3h4.9v4.9h-4.9zM769.2 1011.1h4.9v4.9h-4.9zM771.2 1002h4.9v4.9h-4.9zM764.9 1017.3h4.9v4.9h-4.9zM789 994.4h4.9v4.9h-4.9zM773.2 1024.2h4.9v4.9h-4.9zM755.3 1050.6h4.9v4.9h-4.9zM761.2 998.9h4.9v4.9h-4.9zM759.2 1070.6h4.9v4.9h-4.9zM763 997.6h4.9v4.9h-4.9zM772.2 992.7h4.9v4.9h-4.9zM759 1018.6h4.9v4.9h-4.9zM780.2 1032.7h4.9v4.9h-4.9zM757.6 1040.5h4.9v4.9h-4.9zM763.4 1024.1h4.9v4.9h-4.9zM761.1 1019.4h4.9v4.9h-4.9zM771.1 1020.9h4.9v4.9h-4.9zM771.1 995.3h4.9v4.9h-4.9zM759.3 984.2h4.9v4.9h-4.9zM767.5 1015.2h4.9v4.9h-4.9zM784.7 1044.7h4.9v4.9h-4.9zM773.1 996h4.9v4.9h-4.9zM766.2 1022h4.9v4.9h-4.9zM763.2 1051.8h4.9v4.9h-4.9zM762.3 993.7h4.9v4.9h-4.9zM768.1 1000.3h4.9v4.9h-4.9zM759.3 1059.5h4.9v4.9h-4.9zM766.8 1035.3h4.9v4.9h-4.9zM780.1 988.8h4.9v4.9h-4.9zM774.5 1025.2h4.9v4.9h-4.9zM769 1072.8h4.9v4.9h-4.9zM767.7 978.8h4.9v4.9h-4.9z" fill="#e00000"/>
<rect x="584.4" y="823" width="311.6" height="306" fill="none" stroke="#444" stroke-width="1.1"/>
<path d="M738.3 823V1129M584.4 1015H896" stroke="#111" stroke-width="1.3" fill="none"/>
<path d="M605.8 1129v8M750.7 1129v8M812.8 1129v8M869.4 1129v8M664.1 1129v6.5M693.8 1129v6.5M769.4 1129v4M780.3 1129v4M788.1 1129v4M794.1 1129v6M799 1129v4M803.2 1129v4M806.8 1129v4M810 1129v4M829.8 1129v4M839.8 1129v4M846.9 1129v4M852.4 1129v6M856.8 1129v4M860.6 1129v4M863.9 1129v4M866.8 1129v4M710.9 1129v4M720.9 1129v4M728.1 1129v4M733.6 1129v6M738.1 1129v4M741.9 1129v4M745.2 1129v4M748.1 1129v4M646.5 1129v4M636.3 1129v4M629 1129v4M623.4 1129v6M618.7 1129v4M614.8 1129v4M611.4 1129v4M608.5 1129v4M886.4 1129v4M596.1 1129v4M666.5 1129v3.5M669 1129v4.3M671.4 1129v4.3M673.9 1129v5.3M676.4 1129v6.7M678.9 1129v9M681.4 1129v5.9M683.9 1129v5.9M686.4 1129v4.3M688.8 1129v4.1M691.3 1129v3.5M584.4 1083.9h-8M584.4 993.4h-8M584.4 916.3h-8M584.4 848.9h-8M584.4 1048.5h-6.5M584.4 1029.6h-6.5M584.4 970.2h-4M584.4 956.6h-4M584.4 947h-4M584.4 939.5h-6M584.4 933.4h-4M584.4 928.2h-4M584.4 923.8h-4M584.4 919.8h-4M584.4 896h-4M584.4 884.1h-4M584.4 875.7h-4M584.4 869.2h-6M584.4 863.9h-4M584.4 859.3h-4M584.4 855.4h-4M584.4 852h-4M584.4 1018.7h-4M584.4 1012.3h-4M584.4 1007.8h-4M584.4 1004.3h-6M584.4 1001.4h-4M584.4 999h-4M584.4 996.9h-4M584.4 995.1h-4M584.4 1059.2h-4M584.4 1065.4h-4M584.4 1069.8h-4M584.4 1073.2h-6M584.4 1076h-4M584.4 1078.4h-4M584.4 1080.5h-4M584.4 1082.3h-4M584.4 828.6h-4M584.4 1089.8h-4M584.4 1047h-3.5M584.4 1045.4h-4.3M584.4 1043.8h-4.3M584.4 1042.3h-5.3M584.4 1040.7h-6.7M584.4 1039.1h-9M584.4 1037.5h-5.9M584.4 1035.9h-5.9M584.4 1034.3h-4.3M584.4 1032.8h-4.1M584.4 1031.2h-3.5" stroke="#111" stroke-width="1" fill="none"/>
<text transform="translate(588.9 848.2) scale(1 1.05)" font-size="26.9">0</text>
<text transform="translate(886 848.2) scale(1 1.05)" font-size="26.9" text-anchor="end">56</text>
<text transform="translate(588.9 1123.8) scale(1 1.05)" font-size="26.9">0</text>
<text transform="translate(886 1123.8) scale(1 1.05)" font-size="26.9" text-anchor="end">44</text>
</g>
<text transform="translate(388.2 115.7) scale(1 1.03)" font-size="27.8" text-anchor="middle">Unstimulated</text>
<text transform="translate(717.3 115.2) scale(1 1.03)" font-size="27.8">S<tspan dy="-12.5" font-size="19.3">WT</tspan></text>
<text transform="translate(58.5 298.5) scale(1 1.03)" font-size="27.8">V<tspan dy="8" font-size="18.3">N</tspan><tspan dy="-8">LR</tspan></text>
<text transform="translate(58.5 640.5) scale(1 1.03)" font-size="27.8">V<tspan dy="8" font-size="18.3">N</tspan><tspan dy="-8">HR</tspan></text>
<text transform="translate(76.5 955.3) scale(1 1.03)" font-size="27.8">V<tspan dy="8" font-size="18.3">R</tspan></text>
<path d="M135.3 1032.3V138" stroke="#000" stroke-width="2.2" fill="none"/>
<path d="M135.3 126.5l7.8 14.5q-7.8 -4 -15.6 0z" fill="#000"/>
<path d="M304.3 1197.4H886" stroke="#000" stroke-width="2.2" fill="none"/>
<path d="M898.5 1197.4l-14.5 7.8q4 -7.8 0 -15.6z" fill="#000"/>
<text transform="translate(142.3 1118.5) rotate(-90) scale(1 1.03)" font-size="27.8">CCR7</text>
<text transform="translate(220 1204.3) scale(1 1.03)" font-size="27.8">CD27</text>
<text transform="translate(245.3 1164.3) scale(1 1.03)" font-size="18.4" text-anchor="middle">–10<tspan dy="-6.8" font-size="12.5">3</tspan></text>
<text transform="translate(319.7 1164.8) scale(1 1.03)" font-size="18.4" text-anchor="middle">0</text>
<text transform="translate(396 1164.3) scale(1 1.03)" font-size="18.4" text-anchor="middle">10<tspan dy="-6.8" font-size="12.5">3</tspan></text>
<text transform="translate(459.6 1164.3) scale(1 1.03)" font-size="18.4" text-anchor="middle">10<tspan dy="-6.8" font-size="12.5">4</tspan></text>
<text transform="translate(515.2 1164.3) scale(1 1.03)" font-size="18.4" text-anchor="middle">10<tspan dy="-6.8" font-size="12.5">5</tspan></text>
<text transform="translate(202 858.2) scale(1 1.03)" font-size="18.4" text-anchor="end">10<tspan dy="-6.8" font-size="12.5">5</tspan></text>
<text transform="translate(202 925.6) scale(1 1.03)" font-size="18.4" text-anchor="end">10<tspan dy="-6.8" font-size="12.5">4</tspan></text>
<text transform="translate(202 1002.7) scale(1 1.03)" font-size="18.4" text-anchor="end">10<tspan dy="-6.8" font-size="12.5">3</tspan></text>
<text transform="translate(202 1044.9) scale(1 1.03)" font-size="18.4" text-anchor="end">0</text>
<text transform="translate(202 1093.4) scale(1 1.03)" font-size="18.4" text-anchor="end">–10<tspan dy="-6.8" font-size="12.5">3</tspan></text>
<g id="b1">
<g fill="none" stroke="#ababab" stroke-width="3.1">
<path d="M1236 484.5V239"/>
<path d="M1300.9 484.5V256"/>
<path d="M1344.8 484.5V136.4H1388.4V484.5"/>
<path d="M1366.5 136.4V104.2"/>
<path d="M1431 484.5V255.8"/>
<path d="M1496.3 484.5V176"/>
<path d="M1539.6 484.5V128.4H1584.2V484.5"/>
<path d="M1562 128.4V103.7"/>
<path d="M1626.4 484.5V232.7"/>
<path d="M1691.5 484.5V232.3"/>
<path d="M1735 484.5V152.5H1778.9V484.5"/>
<path d="M1757 152.5V120.3"/>
<path d="M1821.7 484.5V239.2"/>
<path d="M1886.8 484.5V284.7"/>
<path d="M1930.4 484.5V147.3H1974.6V484.5"/>
<path d="M1930.4 153.5H1974.6"/>
<path d="M1952.5 147.3V137"/>
</g>
<g fill="none" stroke="#b9b9b9" stroke-width="2.6" stroke-linecap="round">
<path d="M1225 239H1247"/>
<path d="M1355.5 104.2H1377.5"/>
<path d="M1420 255.8H1442"/>
<path d="M1551 103.7H1573"/>
<path d="M1615.4 232.7H1637.4"/>
<path d="M1680.5 232.3H1702.5"/>
<path d="M1746 120.3H1768"/>
<path d="M1810.7 239.2H1832.7"/>
<path d="M1875.8 284.7H1897.8"/>
<path d="M1941.5 137H1963.5"/>
</g>
<g stroke="#4a4a4a" stroke-width="1.3" fill="none">
<path d="M1193.4 103.8V484.5H1998"/>
<path d="M1193.4 384.7h-5.5M1193.4 355.6h-5.5M1193.4 334.9h-5.5M1193.4 318.9h-5.5M1193.4 305.8h-5.5M1193.4 294.7h-5.5M1193.4 285.1h-5.5M1193.4 276.7h-5.5M1193.4 219.5h-5.5M1193.4 190.5h-5.5M1193.4 169.9h-5.5M1193.4 154h-5.5M1193.4 140.9h-5.5M1193.4 129.9h-5.5M1193.4 120.4h-5.5M1193.4 111.9h-5.5M1193.4 441.9h-5.5M1193.4 450h-5.5M1193.4 460.5h-5.5M1193.4 471.3h-5.5M1193.4 104.4h-11M1193.4 269.1h-11M1193.4 434.5h-11M1193.4 484.5h-5.5"/>
</g>
<text transform="translate(1173.1 115.1) scale(1 1.05)" font-size="26.6" text-anchor="end">100</text>
<text transform="translate(1173.1 279.8) scale(1 1.05)" font-size="26.6" text-anchor="end">10</text>
<text transform="translate(1173.1 445.2) scale(1 1.05)" font-size="26.6" text-anchor="end">1</text>
<text transform="translate(1173.1 495.2) scale(1 1.05)" font-size="26.6" text-anchor="end">0</text>
<text transform="translate(1100.5 295.4) rotate(-90) scale(1 1.05)" font-size="27.3" text-anchor="middle">CD4<tspan dy="-10" font-size="20">+</tspan><tspan dy="10" dx="2.5">T</tspan><tspan dy="6.5" font-size="18.5">CM1</tspan><tspan dy="-6.5"> cells (%)</tspan></text>
<text transform="translate(1589 35.3) scale(1 1.05)" font-size="26.6" text-anchor="middle">T0</text>
<path d="M1194.4 386H1995.5" stroke="#0aa24c" stroke-width="2.3" stroke-linecap="round" stroke-dasharray="0.01 2.15" fill="none"/>
<path d="M1194.4 388.9H1995.5" stroke="#000" stroke-width="2.3" stroke-linecap="round" stroke-dasharray="0.01 2.15" fill="none"/>
<g stroke="#000" stroke-width="1.6">
<circle cx="1222.2" cy="484.5" r="8.5" fill="#7ad6fb"/>
<circle cx="1250.8" cy="484.5" r="8.5" fill="#7ad6fb"/>
<circle cx="1227.9" cy="484.5" r="8.5" fill="#7ad6fb"/>
<circle cx="1245.1" cy="484.5" r="8.5" fill="#7ad6fb"/>
<circle cx="1233.6" cy="484.5" r="8.5" fill="#7ad6fb"/>
<circle cx="1239.4" cy="484.5" r="8.5" fill="#7ad6fb"/>
<circle cx="1236" cy="320.8" r="8.5" fill="#7ad6fb"/>
<circle cx="1236" cy="260.4" r="8.5" fill="#7ad6fb"/>
<circle cx="1236" cy="239" r="8.5" fill="#7ad6fb"/>
<circle cx="1293.6" cy="484.5" r="8.5" fill="#0a86d8"/>
<circle cx="1294.6" cy="484.5" r="8.5" fill="#0a86d8"/>
<circle cx="1295.7" cy="484.5" r="8.5" fill="#0a86d8"/>
<circle cx="1296.8" cy="484.5" r="8.5" fill="#0a86d8"/>
<circle cx="1297.9" cy="484.5" r="8.5" fill="#0a86d8"/>
<circle cx="1298.9" cy="484.5" r="8.5" fill="#0a86d8"/>
<circle cx="1300" cy="484.5" r="8.5" fill="#0a86d8"/>
<circle cx="1301.1" cy="484.5" r="8.5" fill="#0a86d8"/>
<circle cx="1302.2" cy="484.5" r="8.5" fill="#0a86d8"/>
<circle cx="1303.2" cy="484.5" r="8.5" fill="#0a86d8"/>
<circle cx="1304.3" cy="484.5" r="8.5" fill="#0a86d8"/>
<circle cx="1305.4" cy="484.5" r="8.5" fill="#0a86d8"/>
<circle cx="1306.5" cy="484.5" r="8.5" fill="#0a86d8"/>
<circle cx="1307.6" cy="484.5" r="8.5" fill="#0a86d8"/>
<circle cx="1287.4" cy="484.5" r="8.5" fill="#0a86d8"/>
<circle cx="1313.7" cy="484.5" r="8.5" fill="#0a86d8"/>
<circle cx="1290.6" cy="484.5" r="8.5" fill="#0a86d8"/>
<circle cx="1310.5" cy="484.5" r="8.5" fill="#0a86d8"/>
<circle cx="1289.1" cy="484.5" r="8.5" fill="#0a86d8"/>
<circle cx="1312.1" cy="484.5" r="8.5" fill="#0a86d8"/>
<circle cx="1300.9" cy="319.4" r="8.5" fill="#0a86d8"/>
<circle cx="1291.8" cy="258.3" r="8.5" fill="#0a86d8"/>
<circle cx="1310" cy="253.4" r="8.5" fill="#0a86d8"/>
<circle cx="1353" cy="484.5" r="8.5" fill="#ff2a03"/>
<circle cx="1378.9" cy="484.5" r="8.5" fill="#ff2a03"/>
<circle cx="1358.2" cy="484.5" r="8.5" fill="#ff2a03"/>
<circle cx="1373.7" cy="484.5" r="8.5" fill="#ff2a03"/>
<circle cx="1363.4" cy="484.5" r="8.5" fill="#ff2a03"/>
<circle cx="1368.5" cy="484.5" r="8.5" fill="#ff2a03"/>
<circle cx="1366.1" cy="164.9" r="8.5" fill="#ff2a03"/>
<circle cx="1356.7" cy="127.4" r="8.5" fill="#ff2a03"/>
<circle cx="1375.2" cy="117.6" r="8.5" fill="#ff2a03"/>
<circle cx="1366.1" cy="104" r="8.5" fill="#ff2a03"/>
<circle cx="1416.5" cy="484.5" r="8.5" fill="#7ad6fb"/>
<circle cx="1445.6" cy="484.5" r="8.5" fill="#7ad6fb"/>
<circle cx="1422.3" cy="484.5" r="8.5" fill="#7ad6fb"/>
<circle cx="1439.8" cy="484.5" r="8.5" fill="#7ad6fb"/>
<circle cx="1428.1" cy="484.5" r="8.5" fill="#7ad6fb"/>
<circle cx="1434" cy="484.5" r="8.5" fill="#7ad6fb"/>
<circle cx="1431" cy="255.8" r="8.5" fill="#7ad6fb"/>
<circle cx="1489" cy="484.5" r="8.5" fill="#0a86d8"/>
<circle cx="1490.1" cy="484.5" r="8.5" fill="#0a86d8"/>
<circle cx="1491.2" cy="484.5" r="8.5" fill="#0a86d8"/>
<circle cx="1492.2" cy="484.5" r="8.5" fill="#0a86d8"/>
<circle cx="1493.3" cy="484.5" r="8.5" fill="#0a86d8"/>
<circle cx="1494.4" cy="484.5" r="8.5" fill="#0a86d8"/>
<circle cx="1495.5" cy="484.5" r="8.5" fill="#0a86d8"/>
<circle cx="1496.5" cy="484.5" r="8.5" fill="#0a86d8"/>
<circle cx="1497.6" cy="484.5" r="8.5" fill="#0a86d8"/>
<circle cx="1498.7" cy="484.5" r="8.5" fill="#0a86d8"/>
<circle cx="1499.8" cy="484.5" r="8.5" fill="#0a86d8"/>
<circle cx="1500.8" cy="484.5" r="8.5" fill="#0a86d8"/>
<circle cx="1501.9" cy="484.5" r="8.5" fill="#0a86d8"/>
<circle cx="1503" cy="484.5" r="8.5" fill="#0a86d8"/>
<circle cx="1483.9" cy="484.5" r="8.5" fill="#0a86d8"/>
<circle cx="1508.1" cy="484.5" r="8.5" fill="#0a86d8"/>
<circle cx="1487.1" cy="484.5" r="8.5" fill="#0a86d8"/>
<circle cx="1504.9" cy="484.5" r="8.5" fill="#0a86d8"/>
<circle cx="1484.5" cy="484.5" r="8.5" fill="#0a86d8"/>
<circle cx="1507.5" cy="484.5" r="8.5" fill="#0a86d8"/>
<circle cx="1496.3" cy="375.2" r="8.5" fill="#0a86d8"/>
<circle cx="1496.3" cy="334" r="8.5" fill="#0a86d8"/>
<circle cx="1496.3" cy="275.7" r="8.5" fill="#0a86d8"/>
<circle cx="1487.3" cy="182.2" r="8.5" fill="#0a86d8"/>
<circle cx="1505.4" cy="174.5" r="8.5" fill="#0a86d8"/>
<circle cx="1549.5" cy="484.5" r="8.5" fill="#ff2a03"/>
<circle cx="1573" cy="484.5" r="8.5" fill="#ff2a03"/>
<circle cx="1554.2" cy="484.5" r="8.5" fill="#ff2a03"/>
<circle cx="1568.3" cy="484.5" r="8.5" fill="#ff2a03"/>
<circle cx="1558.9" cy="484.5" r="8.5" fill="#ff2a03"/>
<circle cx="1563.6" cy="484.5" r="8.5" fill="#ff2a03"/>
<circle cx="1561.6" cy="313.8" r="8.5" fill="#ff2a03"/>
<circle cx="1561.6" cy="158.8" r="8.5" fill="#ff2a03"/>
<circle cx="1561.6" cy="120.8" r="8.5" fill="#ff2a03"/>
<circle cx="1549.6" cy="117.6" r="8.5" fill="#ff2a03"/>
<circle cx="1574.2" cy="104" r="8.5" fill="#ff2a03"/>
<circle cx="1612" cy="484.5" r="8.5" fill="#7ad6fb"/>
<circle cx="1641.6" cy="484.5" r="8.5" fill="#7ad6fb"/>
<circle cx="1617.9" cy="484.5" r="8.5" fill="#7ad6fb"/>
<circle cx="1635.7" cy="484.5" r="8.5" fill="#7ad6fb"/>
<circle cx="1623.8" cy="484.5" r="8.5" fill="#7ad6fb"/>
<circle cx="1629.8" cy="484.5" r="8.5" fill="#7ad6fb"/>
<circle cx="1626.4" cy="301.9" r="8.5" fill="#7ad6fb"/>
<circle cx="1626.4" cy="273.4" r="8.5" fill="#7ad6fb"/>
<circle cx="1626.4" cy="232.7" r="8.5" fill="#7ad6fb"/>
<circle cx="1684.6" cy="484.5" r="8.5" fill="#0a86d8"/>
<circle cx="1685.6" cy="484.5" r="8.5" fill="#0a86d8"/>
<circle cx="1686.7" cy="484.5" r="8.5" fill="#0a86d8"/>
<circle cx="1687.8" cy="484.5" r="8.5" fill="#0a86d8"/>
<circle cx="1688.9" cy="484.5" r="8.5" fill="#0a86d8"/>
<circle cx="1689.9" cy="484.5" r="8.5" fill="#0a86d8"/>
<circle cx="1691" cy="484.5" r="8.5" fill="#0a86d8"/>
<circle cx="1692.1" cy="484.5" r="8.5" fill="#0a86d8"/>
<circle cx="1693.2" cy="484.5" r="8.5" fill="#0a86d8"/>
<circle cx="1694.2" cy="484.5" r="8.5" fill="#0a86d8"/>
<circle cx="1695.3" cy="484.5" r="8.5" fill="#0a86d8"/>
<circle cx="1696.4" cy="484.5" r="8.5" fill="#0a86d8"/>
<circle cx="1697.5" cy="484.5" r="8.5" fill="#0a86d8"/>
<circle cx="1698.6" cy="484.5" r="8.5" fill="#0a86d8"/>
<circle cx="1677.1" cy="484.5" r="8.5" fill="#0a86d8"/>
<circle cx="1706" cy="484.5" r="8.5" fill="#0a86d8"/>
<circle cx="1680.3" cy="484.5" r="8.5" fill="#0a86d8"/>
<circle cx="1702.8" cy="484.5" r="8.5" fill="#0a86d8"/>
<circle cx="1680.1" cy="484.5" r="8.5" fill="#0a86d8"/>
<circle cx="1703.1" cy="484.5" r="8.5" fill="#0a86d8"/>
<circle cx="1682.3" cy="381.4" r="8.5" fill="#0a86d8"/>
<circle cx="1700.4" cy="381.4" r="8.5" fill="#0a86d8"/>
<circle cx="1691.5" cy="302.9" r="8.5" fill="#0a86d8"/>
<circle cx="1691.5" cy="232.3" r="8.5" fill="#0a86d8"/>
<circle cx="1744.9" cy="484.5" r="8.5" fill="#ff2a03"/>
<circle cx="1768.3" cy="484.5" r="8.5" fill="#ff2a03"/>
<circle cx="1749.6" cy="484.5" r="8.5" fill="#ff2a03"/>
<circle cx="1763.6" cy="484.5" r="8.5" fill="#ff2a03"/>
<circle cx="1754.3" cy="484.5" r="8.5" fill="#ff2a03"/>
<circle cx="1758.9" cy="484.5" r="8.5" fill="#ff2a03"/>
<circle cx="1756.6" cy="164.5" r="8.5" fill="#ff2a03"/>
<circle cx="1744.3" cy="153.8" r="8.5" fill="#ff2a03"/>
<circle cx="1769" cy="151.4" r="8.5" fill="#ff2a03"/>
<circle cx="1747.4" cy="133.6" r="8.5" fill="#ff2a03"/>
<circle cx="1765.9" cy="120.3" r="8.5" fill="#ff2a03"/>
<circle cx="1810.7" cy="484.5" r="8.5" fill="#7ad6fb"/>
<circle cx="1832.4" cy="484.5" r="8.5" fill="#7ad6fb"/>
<circle cx="1815" cy="484.5" r="8.5" fill="#7ad6fb"/>
<circle cx="1828.1" cy="484.5" r="8.5" fill="#7ad6fb"/>
<circle cx="1819.4" cy="484.5" r="8.5" fill="#7ad6fb"/>
<circle cx="1823.7" cy="484.5" r="8.5" fill="#7ad6fb"/>
<circle cx="1821.7" cy="239.2" r="8.5" fill="#7ad6fb"/>
<circle cx="1879.7" cy="484.5" r="8.5" fill="#0a86d8"/>
<circle cx="1880.8" cy="484.5" r="8.5" fill="#0a86d8"/>
<circle cx="1881.9" cy="484.5" r="8.5" fill="#0a86d8"/>
<circle cx="1882.9" cy="484.5" r="8.5" fill="#0a86d8"/>
<circle cx="1884" cy="484.5" r="8.5" fill="#0a86d8"/>
<circle cx="1885.1" cy="484.5" r="8.5" fill="#0a86d8"/>
<circle cx="1886.2" cy="484.5" r="8.5" fill="#0a86d8"/>
<circle cx="1887.2" cy="484.5" r="8.5" fill="#0a86d8"/>
<circle cx="1888.3" cy="484.5" r="8.5" fill="#0a86d8"/>
<circle cx="1889.4" cy="484.5" r="8.5" fill="#0a86d8"/>
<circle cx="1890.5" cy="484.5" r="8.5" fill="#0a86d8"/>
<circle cx="1891.5" cy="484.5" r="8.5" fill="#0a86d8"/>
<circle cx="1892.6" cy="484.5" r="8.5" fill="#0a86d8"/>
<circle cx="1893.7" cy="484.5" r="8.5" fill="#0a86d8"/>
<circle cx="1872.4" cy="484.5" r="8.5" fill="#0a86d8"/>
<circle cx="1901" cy="484.5" r="8.5" fill="#0a86d8"/>
<circle cx="1875.6" cy="484.5" r="8.5" fill="#0a86d8"/>
<circle cx="1897.8" cy="484.5" r="8.5" fill="#0a86d8"/>
<circle cx="1875.2" cy="484.5" r="8.5" fill="#0a86d8"/>
<circle cx="1898.2" cy="484.5" r="8.5" fill="#0a86d8"/>
<circle cx="1886.8" cy="360.8" r="8.5" fill="#0a86d8"/>
<circle cx="1886.8" cy="305" r="8.5" fill="#0a86d8"/>
<circle cx="1886.8" cy="284.7" r="8.5" fill="#0a86d8"/>
<circle cx="1940.2" cy="484.5" r="8.5" fill="#ff2a03"/>
<circle cx="1963.6" cy="484.5" r="8.5" fill="#ff2a03"/>
<circle cx="1944.9" cy="484.5" r="8.5" fill="#ff2a03"/>
<circle cx="1958.9" cy="484.5" r="8.5" fill="#ff2a03"/>
<circle cx="1949.6" cy="484.5" r="8.5" fill="#ff2a03"/>
<circle cx="1954.2" cy="484.5" r="8.5" fill="#ff2a03"/>
<circle cx="1939.3" cy="143.9" r="8.5" fill="#ff2a03"/>
<circle cx="1948.9" cy="154.2" r="8.5" fill="#ff2a03"/>
<circle cx="1955.7" cy="153.5" r="8.5" fill="#ff2a03"/>
<circle cx="1952" cy="151.5" r="8.5" fill="#ff2a03"/>
<circle cx="1959.8" cy="144.6" r="8.5" fill="#ff2a03"/>
<circle cx="1944.1" cy="150.8" r="8.5" fill="#ff2a03"/>
<circle cx="1964.3" cy="136.7" r="8.5" fill="#ff2a03"/>
</g>
<line x1="1234.5" y1="500.5" x2="1361" y2="500.5" stroke="#000" stroke-width="2.9"/>
<text transform="translate(1299.7 540.2) scale(1 1.05)" font-size="26.6" text-anchor="middle">S<tspan dy="-11.5" font-size="18.6">WT</tspan></text>
<line x1="1431.4" y1="500.5" x2="1557.8" y2="500.5" stroke="#000" stroke-width="2.9"/>
<text transform="translate(1497.3 540.2) scale(1 1.05)" font-size="26.6" text-anchor="middle">S<tspan dy="-11.5" font-size="18.6">D</tspan></text>
<line x1="1622.7" y1="500.5" x2="1749.4" y2="500.5" stroke="#000" stroke-width="2.9"/>
<text transform="translate(1689.5 540.2) scale(1 1.05)" font-size="26.6" text-anchor="middle">S<tspan dy="-11.5" font-size="18.6">O</tspan></text>
<line x1="1819.3" y1="500.5" x2="1946.5" y2="500.5" stroke="#000" stroke-width="2.9"/>
<text transform="translate(1889.6 540.2) scale(1 1.05)" font-size="26.6" text-anchor="middle">S<tspan dy="-11.5" font-size="18.6">B</tspan></text>
<text transform="translate(1232.8 574.1) scale(1 1.05)" font-size="26.6" text-anchor="middle">12</text>
<text transform="translate(1297.7 574.1) scale(1 1.05)" font-size="26.6" text-anchor="middle">13</text>
<text transform="translate(1361.6 574.1) scale(1 1.05)" font-size="26.6" text-anchor="middle">33</text>
<text transform="translate(1429.3 574.1) scale(1 1.05)" font-size="26.6" text-anchor="middle">4</text>
<text transform="translate(1489.4 574.1) scale(1 1.05)" font-size="26.6" text-anchor="middle">21</text>
<text transform="translate(1555.1 574.1) scale(1 1.05)" font-size="26.6" text-anchor="middle">42</text>
<text transform="translate(1620.3 574.1) scale(1 1.05)" font-size="26.6" text-anchor="middle">12</text>
<text transform="translate(1689.1 574.1) scale(1 1.05)" font-size="26.6" text-anchor="middle">17</text>
<text transform="translate(1748.8 574.1) scale(1 1.05)" font-size="26.6" text-anchor="middle">42</text>
<text transform="translate(1816.6 574.1) scale(1 1.05)" font-size="26.6" text-anchor="middle">4</text>
<text transform="translate(1878 574.1) scale(1 1.05)" font-size="26.6" text-anchor="middle">13</text>
<text transform="translate(1942.4 574.1) scale(1 1.05)" font-size="26.6" text-anchor="middle">58</text>
<text transform="translate(1039.6 554.2) scale(1 1.05)" font-size="27.4">Responders</text>
<text transform="translate(1108.2 593) scale(1 1.05)" font-size="27.2" text-anchor="middle">(%)</text>
<line x1="1252" y1="61" x2="1445" y2="61" stroke="#000" stroke-width="2.7"/>
<text transform="translate(1348.3 62.9) scale(1 1)" font-size="31" text-anchor="middle" stroke="#000" stroke-width="0.35">*</text>
<line x1="1892" y1="91.5" x2="1954" y2="91.5" stroke="#000" stroke-width="2.7"/>
<text transform="translate(1923.2 93.4) scale(1 1)" font-size="31" text-anchor="middle" stroke="#000" stroke-width="0.35">*</text>
<g stroke="#000" stroke-width="1.6">
<circle cx="1998.5" cy="114.1" r="8.5" fill="#7ad6fb"/>
<circle cx="1998.5" cy="154.5" r="8.5" fill="#0a86d8"/>
<circle cx="1998.5" cy="194.3" r="8.5" fill="#ff2a03"/>
</g>
<text transform="translate(2019 122.9) scale(1 1.05)" font-size="26.8">V<tspan dy="8" font-size="18.5">N</tspan><tspan dy="-8">LR</tspan></text>
<text transform="translate(2019 163.3) scale(1 1.05)" font-size="26.8">V<tspan dy="8" font-size="18.5">N</tspan><tspan dy="-8">HR</tspan></text>
<text transform="translate(2019 203.1) scale(1 1.05)" font-size="26.8">V<tspan dy="8" font-size="18.5">R</tspan></text>
</g>
<g id="b2">
<g fill="none" stroke="#ababab" stroke-width="3.1">
<path d="M1213.6 1159V1041.6H1257.6V1159"/>
<path d="M1235.6 1041.6V887.1"/>
<path d="M1277.5 1159V908.8H1321.1V1159"/>
<path d="M1277.5 948.9H1321.1"/>
<path d="M1299.3 908.8V835.1"/>
<path d="M1341.4 1159V821.8H1384.6V1159"/>
<path d="M1363 821.8V810"/>
<path d="M1403.8 1159V983.3H1447.8V1159"/>
<path d="M1425.8 983.3V927.3"/>
<path d="M1468 1159V903.9H1511.7V1159"/>
<path d="M1468 987.2H1511.7"/>
<path d="M1489.7 903.9V809"/>
<path d="M1531.2 1159V848H1575V1159"/>
<path d="M1553.1 848V800.2"/>
<path d="M1595.6 1159V936.7H1638.8V1159"/>
<path d="M1595.6 988H1638.8"/>
<path d="M1617.2 936.7V869.6"/>
<path d="M1659 1159V930.2H1702.2V1159"/>
<path d="M1659 1037H1702.2"/>
<path d="M1680.6 930.2V850.7"/>
<path d="M1722.7 1159V866.1H1765.5V1159"/>
<path d="M1743.6 866.1V814.7"/>
<path d="M1785.8 1159V976.3H1828.9V1159"/>
<path d="M1785.8 1130.2H1828.9"/>
<path d="M1807.3 976.3V872.7"/>
<path d="M1849.2 1159V927.1H1892.3V1159"/>
<path d="M1870.7 927.1V847.6"/>
<path d="M1912.9 1159V864.4H1955.7V1159"/>
<path d="M1912.9 1024H1955.7"/>
<path d="M1934.5 864.4V823.3"/>
</g>
<g fill="none" stroke="#b9b9b9" stroke-width="2.6" stroke-linecap="round">
<path d="M1224.6 887.1H1246.6"/>
<path d="M1288.3 835.1H1310.3"/>
<path d="M1352 810H1374"/>
<path d="M1414.8 927.3H1436.8"/>
<path d="M1542.1 800.2H1564.1"/>
<path d="M1669.6 850.7H1691.6"/>
<path d="M1732.6 814.7H1754.6"/>
<path d="M1796.3 872.7H1818.3"/>
<path d="M1859.7 847.6H1881.7"/>
<path d="M1923.5 823.3H1945.5"/>
</g>
<g stroke="#4a4a4a" stroke-width="1.3" fill="none">
<path d="M1193.4 784.3V1159H1979"/>
<path d="M1193.4 1061.2h-5.5M1193.4 1032.6h-5.5M1193.4 1012.3h-5.5M1193.4 996.6h-5.5M1193.4 983.8h-5.5M1193.4 972.9h-5.5M1193.4 963.5h-5.5M1193.4 955.2h-5.5M1193.4 898.8h-5.5M1193.4 870.1h-5.5M1193.4 849.7h-5.5M1193.4 833.9h-5.5M1193.4 821h-5.5M1193.4 810.1h-5.5M1193.4 800.7h-5.5M1193.4 792.4h-5.5M1193.4 1117.3h-5.5M1193.4 1125.2h-5.5M1193.4 1135.5h-5.5M1193.4 1146.1h-5.5M1193.4 784.9h-11M1193.4 947.8h-11M1193.4 1110h-11M1193.4 1159h-5.5"/>
</g>
<text transform="translate(1173.1 795.6) scale(1 1.05)" font-size="26.6" text-anchor="end">100</text>
<text transform="translate(1173.1 958.5) scale(1 1.05)" font-size="26.6" text-anchor="end">10</text>
<text transform="translate(1173.1 1120.7) scale(1 1.05)" font-size="26.6" text-anchor="end">1</text>
<text transform="translate(1173.1 1169.7) scale(1 1.05)" font-size="26.6" text-anchor="end">0</text>
<text transform="translate(1100.5 973) rotate(-90) scale(1 1.05)" font-size="27.3" text-anchor="middle">CD4<tspan dy="-10" font-size="20">+</tspan><tspan dy="10" dx="2.5">T</tspan><tspan dy="6.5" font-size="18.5">CM1</tspan><tspan dy="-6.5"> cells (%)</tspan></text>
<text transform="translate(1583.6 646) scale(1 1.05)" font-size="26.6" text-anchor="middle">6M</text>
<path d="M1194.4 1062.2H1995.5" stroke="#0aa24c" stroke-width="2.3" stroke-linecap="round" stroke-dasharray="0.01 2.15" fill="none"/>
<path d="M1194.4 1064.9H1995.5" stroke="#000" stroke-width="2.3" stroke-linecap="round" stroke-dasharray="0.01 2.15" fill="none"/>
<g stroke="#000" stroke-width="1.6">
<circle cx="1225.6" cy="1159" r="8.5" fill="#7ad6fb"/>
<circle cx="1245.6" cy="1159" r="8.5" fill="#7ad6fb"/>
<circle cx="1229.6" cy="1159" r="8.5" fill="#7ad6fb"/>
<circle cx="1241.6" cy="1159" r="8.5" fill="#7ad6fb"/>
<circle cx="1233.6" cy="1159" r="8.5" fill="#7ad6fb"/>
<circle cx="1237.6" cy="1159" r="8.5" fill="#7ad6fb"/>
<circle cx="1235.6" cy="1097.4" r="8.5" fill="#7ad6fb"/>
<circle cx="1235.6" cy="1043" r="8.5" fill="#7ad6fb"/>
<circle cx="1247.1" cy="1040.5" r="8.5" fill="#7ad6fb"/>
<circle cx="1223.4" cy="1035.3" r="8.5" fill="#7ad6fb"/>
<circle cx="1244.7" cy="1001.4" r="8.5" fill="#7ad6fb"/>
<circle cx="1226.5" cy="985" r="8.5" fill="#7ad6fb"/>
<circle cx="1235.6" cy="957" r="8.5" fill="#7ad6fb"/>
<circle cx="1235.6" cy="887.1" r="8.5" fill="#7ad6fb"/>
<circle cx="1286.7" cy="1159" r="8.5" fill="#0a86d8"/>
<circle cx="1311.9" cy="1159" r="8.5" fill="#0a86d8"/>
<circle cx="1291.7" cy="1159" r="8.5" fill="#0a86d8"/>
<circle cx="1306.9" cy="1159" r="8.5" fill="#0a86d8"/>
<circle cx="1296.8" cy="1159" r="8.5" fill="#0a86d8"/>
<circle cx="1301.8" cy="1159" r="8.5" fill="#0a86d8"/>
<circle cx="1299.1" cy="1030.8" r="8.5" fill="#0a86d8"/>
<circle cx="1298.4" cy="950" r="8.5" fill="#0a86d8"/>
<circle cx="1304.4" cy="948.5" r="8.5" fill="#0a86d8"/>
<circle cx="1292.5" cy="945.4" r="8.5" fill="#0a86d8"/>
<circle cx="1311" cy="937.4" r="8.5" fill="#0a86d8"/>
<circle cx="1286.9" cy="935" r="8.5" fill="#0a86d8"/>
<circle cx="1308.2" cy="924.5" r="8.5" fill="#0a86d8"/>
<circle cx="1289.4" cy="919.6" r="8.5" fill="#0a86d8"/>
<circle cx="1299.1" cy="906" r="8.5" fill="#0a86d8"/>
<circle cx="1311" cy="900" r="8.5" fill="#0a86d8"/>
<circle cx="1287.3" cy="898" r="8.5" fill="#0a86d8"/>
<circle cx="1308.6" cy="871" r="8.5" fill="#0a86d8"/>
<circle cx="1290" cy="863.4" r="8.5" fill="#0a86d8"/>
<circle cx="1299.5" cy="834.8" r="8.5" fill="#0a86d8"/>
<circle cx="1353.6" cy="1159" r="8.5" fill="#ff2a03"/>
<circle cx="1366" cy="1159" r="8.5" fill="#ff2a03"/>
<circle cx="1371.4" cy="1159" r="8.5" fill="#ff2a03"/>
<circle cx="1362.3" cy="979.3" r="8.5" fill="#ff2a03"/>
<circle cx="1350.4" cy="972.3" r="8.5" fill="#ff2a03"/>
<circle cx="1374.9" cy="964.6" r="8.5" fill="#ff2a03"/>
<circle cx="1362.3" cy="959.7" r="8.5" fill="#ff2a03"/>
<circle cx="1371.7" cy="830.2" r="8.5" fill="#ff2a03"/>
<circle cx="1353.6" cy="819.4" r="8.5" fill="#ff2a03"/>
<circle cx="1345.2" cy="801.3" r="8.5" fill="#ff2a03"/>
<circle cx="1371.4" cy="801.3" r="8.5" fill="#ff2a03"/>
<circle cx="1413" cy="1159" r="8.5" fill="#7ad6fb"/>
<circle cx="1441.1" cy="1159" r="8.5" fill="#7ad6fb"/>
<circle cx="1418.6" cy="1159" r="8.5" fill="#7ad6fb"/>
<circle cx="1435.5" cy="1159" r="8.5" fill="#7ad6fb"/>
<circle cx="1424.2" cy="1159" r="8.5" fill="#7ad6fb"/>
<circle cx="1429.9" cy="1159" r="8.5" fill="#7ad6fb"/>
<circle cx="1438" cy="1146" r="8.5" fill="#7ad6fb"/>
<circle cx="1426.2" cy="1054.1" r="8.5" fill="#7ad6fb"/>
<circle cx="1417.1" cy="1023.8" r="8.5" fill="#7ad6fb"/>
<circle cx="1435.3" cy="1014.3" r="8.5" fill="#7ad6fb"/>
<circle cx="1444.3" cy="1001.4" r="8.5" fill="#7ad6fb"/>
<circle cx="1417.1" cy="986.5" r="8.5" fill="#7ad6fb"/>
<circle cx="1408" cy="979" r="8.5" fill="#7ad6fb"/>
<circle cx="1435.3" cy="967.3" r="8.5" fill="#7ad6fb"/>
<circle cx="1444.3" cy="959.3" r="8.5" fill="#7ad6fb"/>
<circle cx="1417.1" cy="948" r="8.5" fill="#7ad6fb"/>
<circle cx="1408" cy="939.8" r="8.5" fill="#7ad6fb"/>
<circle cx="1435.3" cy="927.3" r="8.5" fill="#7ad6fb"/>
<circle cx="1476.9" cy="1159" r="8.5" fill="#0a86d8"/>
<circle cx="1503.2" cy="1159" r="8.5" fill="#0a86d8"/>
<circle cx="1482.2" cy="1159" r="8.5" fill="#0a86d8"/>
<circle cx="1497.9" cy="1159" r="8.5" fill="#0a86d8"/>
<circle cx="1487.4" cy="1159" r="8.5" fill="#0a86d8"/>
<circle cx="1492.7" cy="1159" r="8.5" fill="#0a86d8"/>
<circle cx="1498.4" cy="1045.8" r="8.5" fill="#0a86d8"/>
<circle cx="1480.6" cy="1030.8" r="8.5" fill="#0a86d8"/>
<circle cx="1480.6" cy="961.2" r="8.5" fill="#0a86d8"/>
<circle cx="1498.4" cy="950" r="8.5" fill="#0a86d8"/>
<circle cx="1489.7" cy="930" r="8.5" fill="#0a86d8"/>
<circle cx="1484.5" cy="911.6" r="8.5" fill="#0a86d8"/>
<circle cx="1493.5" cy="906.7" r="8.5" fill="#0a86d8"/>
<circle cx="1480.6" cy="904.6" r="8.5" fill="#0a86d8"/>
<circle cx="1498.8" cy="902.5" r="8.5" fill="#0a86d8"/>
<circle cx="1489.7" cy="874.6" r="8.5" fill="#0a86d8"/>
<circle cx="1480.6" cy="846.3" r="8.5" fill="#0a86d8"/>
<circle cx="1498.8" cy="844.2" r="8.5" fill="#0a86d8"/>
<circle cx="1498.8" cy="811.7" r="8.5" fill="#0a86d8"/>
<circle cx="1480.6" cy="809.3" r="8.5" fill="#0a86d8"/>
<circle cx="1542.2" cy="1159" r="8.5" fill="#ff2a03"/>
<circle cx="1564.3" cy="1159" r="8.5" fill="#ff2a03"/>
<circle cx="1546.6" cy="1159" r="8.5" fill="#ff2a03"/>
<circle cx="1559.9" cy="1159" r="8.5" fill="#ff2a03"/>
<circle cx="1551" cy="1159" r="8.5" fill="#ff2a03"/>
<circle cx="1555.5" cy="1159" r="8.5" fill="#ff2a03"/>
<circle cx="1553.1" cy="927.9" r="8.5" fill="#ff2a03"/>
<circle cx="1553.1" cy="863.8" r="8.5" fill="#ff2a03"/>
<circle cx="1562.2" cy="843" r="8.5" fill="#ff2a03"/>
<circle cx="1544" cy="832.8" r="8.5" fill="#ff2a03"/>
<circle cx="1553.1" cy="800.1" r="8.5" fill="#ff2a03"/>
<circle cx="1604.1" cy="1159" r="8.5" fill="#7ad6fb"/>
<circle cx="1629.6" cy="1159" r="8.5" fill="#7ad6fb"/>
<circle cx="1609.2" cy="1159" r="8.5" fill="#7ad6fb"/>
<circle cx="1624.5" cy="1159" r="8.5" fill="#7ad6fb"/>
<circle cx="1614.3" cy="1159" r="8.5" fill="#7ad6fb"/>
<circle cx="1619.4" cy="1159" r="8.5" fill="#7ad6fb"/>
<circle cx="1625.7" cy="1086.7" r="8.5" fill="#7ad6fb"/>
<circle cx="1607.6" cy="1081.5" r="8.5" fill="#7ad6fb"/>
<circle cx="1611.4" cy="997.3" r="8.5" fill="#7ad6fb"/>
<circle cx="1621.6" cy="988.9" r="8.5" fill="#7ad6fb"/>
<circle cx="1607.6" cy="987.8" r="8.5" fill="#7ad6fb"/>
<circle cx="1625.7" cy="982.7" r="8.5" fill="#7ad6fb"/>
<circle cx="1616.8" cy="980.7" r="8.5" fill="#7ad6fb"/>
<circle cx="1604.8" cy="979.6" r="8.5" fill="#7ad6fb"/>
<circle cx="1628.8" cy="970.4" r="8.5" fill="#7ad6fb"/>
<circle cx="1616.5" cy="937" r="8.5" fill="#7ad6fb"/>
<circle cx="1628.8" cy="934" r="8.5" fill="#7ad6fb"/>
<circle cx="1604.8" cy="921.3" r="8.5" fill="#7ad6fb"/>
<circle cx="1625.7" cy="912.7" r="8.5" fill="#7ad6fb"/>
<circle cx="1607.6" cy="895.6" r="8.5" fill="#7ad6fb"/>
<circle cx="1607.6" cy="870.3" r="8.5" fill="#7ad6fb"/>
<circle cx="1625.7" cy="869.6" r="8.5" fill="#7ad6fb"/>
<circle cx="1667.5" cy="1159" r="8.5" fill="#0a86d8"/>
<circle cx="1693" cy="1159" r="8.5" fill="#0a86d8"/>
<circle cx="1672.6" cy="1159" r="8.5" fill="#0a86d8"/>
<circle cx="1687.9" cy="1159" r="8.5" fill="#0a86d8"/>
<circle cx="1677.7" cy="1159" r="8.5" fill="#0a86d8"/>
<circle cx="1682.8" cy="1159" r="8.5" fill="#0a86d8"/>
<circle cx="1689.1" cy="1038" r="8.5" fill="#0a86d8"/>
<circle cx="1671.3" cy="1035.3" r="8.5" fill="#0a86d8"/>
<circle cx="1679.9" cy="1001" r="8.5" fill="#0a86d8"/>
<circle cx="1689.1" cy="962.2" r="8.5" fill="#0a86d8"/>
<circle cx="1671.3" cy="947.7" r="8.5" fill="#0a86d8"/>
<circle cx="1679.9" cy="939.1" r="8.5" fill="#0a86d8"/>
<circle cx="1691.9" cy="937.4" r="8.5" fill="#0a86d8"/>
<circle cx="1667.9" cy="927.1" r="8.5" fill="#0a86d8"/>
<circle cx="1671.3" cy="912.4" r="8.5" fill="#0a86d8"/>
<circle cx="1689.1" cy="912.4" r="8.5" fill="#0a86d8"/>
<circle cx="1679.9" cy="885.7" r="8.5" fill="#0a86d8"/>
<circle cx="1689.1" cy="867.5" r="8.5" fill="#0a86d8"/>
<circle cx="1671.3" cy="850.7" r="8.5" fill="#0a86d8"/>
<circle cx="1731.9" cy="1159" r="8.5" fill="#ff2a03"/>
<circle cx="1755.3" cy="1159" r="8.5" fill="#ff2a03"/>
<circle cx="1736.6" cy="1159" r="8.5" fill="#ff2a03"/>
<circle cx="1750.6" cy="1159" r="8.5" fill="#ff2a03"/>
<circle cx="1741.3" cy="1159" r="8.5" fill="#ff2a03"/>
<circle cx="1745.9" cy="1159" r="8.5" fill="#ff2a03"/>
<circle cx="1752.9" cy="1022.2" r="8.5" fill="#ff2a03"/>
<circle cx="1734.7" cy="1009.6" r="8.5" fill="#ff2a03"/>
<circle cx="1734.7" cy="847.6" r="8.5" fill="#ff2a03"/>
<circle cx="1752.9" cy="835.3" r="8.5" fill="#ff2a03"/>
<circle cx="1743.6" cy="814.7" r="8.5" fill="#ff2a03"/>
<circle cx="1792.9" cy="1159" r="8.5" fill="#7ad6fb"/>
<circle cx="1822.1" cy="1159" r="8.5" fill="#7ad6fb"/>
<circle cx="1798.7" cy="1159" r="8.5" fill="#7ad6fb"/>
<circle cx="1816.3" cy="1159" r="8.5" fill="#7ad6fb"/>
<circle cx="1804.6" cy="1159" r="8.5" fill="#7ad6fb"/>
<circle cx="1810.4" cy="1159" r="8.5" fill="#7ad6fb"/>
<circle cx="1807" cy="1110.3" r="8.5" fill="#7ad6fb"/>
<circle cx="1807" cy="1091.8" r="8.5" fill="#7ad6fb"/>
<circle cx="1807" cy="1014.4" r="8.5" fill="#7ad6fb"/>
<circle cx="1795" cy="1007.2" r="8.5" fill="#7ad6fb"/>
<circle cx="1819.3" cy="1005.8" r="8.5" fill="#7ad6fb"/>
<circle cx="1798.1" cy="986" r="8.5" fill="#7ad6fb"/>
<circle cx="1816.3" cy="972.2" r="8.5" fill="#7ad6fb"/>
<circle cx="1816.3" cy="948.7" r="8.5" fill="#7ad6fb"/>
<circle cx="1798.1" cy="945.8" r="8.5" fill="#7ad6fb"/>
<circle cx="1798.1" cy="913.1" r="8.5" fill="#7ad6fb"/>
<circle cx="1816.3" cy="906.9" r="8.5" fill="#7ad6fb"/>
<circle cx="1807.3" cy="872.7" r="8.5" fill="#7ad6fb"/>
<circle cx="1856.3" cy="1159" r="8.5" fill="#0a86d8"/>
<circle cx="1884.8" cy="1159" r="8.5" fill="#0a86d8"/>
<circle cx="1862" cy="1159" r="8.5" fill="#0a86d8"/>
<circle cx="1879.1" cy="1159" r="8.5" fill="#0a86d8"/>
<circle cx="1867.7" cy="1159" r="8.5" fill="#0a86d8"/>
<circle cx="1873.4" cy="1159" r="8.5" fill="#0a86d8"/>
<circle cx="1870.7" cy="1091.8" r="8.5" fill="#0a86d8"/>
<circle cx="1861.5" cy="975.4" r="8.5" fill="#0a86d8"/>
<circle cx="1879.6" cy="974.4" r="8.5" fill="#0a86d8"/>
<circle cx="1879.6" cy="945" r="8.5" fill="#0a86d8"/>
<circle cx="1861.5" cy="940.5" r="8.5" fill="#0a86d8"/>
<circle cx="1870.7" cy="926.1" r="8.5" fill="#0a86d8"/>
<circle cx="1882.7" cy="918.2" r="8.5" fill="#0a86d8"/>
<circle cx="1858.7" cy="916.2" r="8.5" fill="#0a86d8"/>
<circle cx="1879.6" cy="899.4" r="8.5" fill="#0a86d8"/>
<circle cx="1861.5" cy="891.2" r="8.5" fill="#0a86d8"/>
<circle cx="1870.7" cy="847.6" r="8.5" fill="#0a86d8"/>
<circle cx="1922.8" cy="1159" r="8.5" fill="#ff2a03"/>
<circle cx="1945.8" cy="1159" r="8.5" fill="#ff2a03"/>
<circle cx="1927.4" cy="1159" r="8.5" fill="#ff2a03"/>
<circle cx="1941.2" cy="1159" r="8.5" fill="#ff2a03"/>
<circle cx="1932" cy="1159" r="8.5" fill="#ff2a03"/>
<circle cx="1936.6" cy="1159" r="8.5" fill="#ff2a03"/>
<circle cx="1943" cy="1024" r="8.5" fill="#ff2a03"/>
<circle cx="1924.9" cy="1015.7" r="8.5" fill="#ff2a03"/>
<circle cx="1934.5" cy="905.2" r="8.5" fill="#ff2a03"/>
<circle cx="1934.5" cy="864.1" r="8.5" fill="#ff2a03"/>
<circle cx="1924.9" cy="835.3" r="8.5" fill="#ff2a03"/>
<circle cx="1943" cy="823.3" r="8.5" fill="#ff2a03"/>
</g>
<line x1="1225.5" y1="1175.6" x2="1352.2" y2="1175.6" stroke="#000" stroke-width="2.9"/>
<text transform="translate(1290.1 1213.7) scale(1 1.05)" font-size="26.6" text-anchor="middle">S<tspan dy="-11.5" font-size="18.6">WT</tspan></text>
<line x1="1422.3" y1="1175.6" x2="1549" y2="1175.6" stroke="#000" stroke-width="2.9"/>
<text transform="translate(1487.7 1213.7) scale(1 1.05)" font-size="26.6" text-anchor="middle">S<tspan dy="-11.5" font-size="18.6">D</tspan></text>
<line x1="1613.8" y1="1175.6" x2="1740.5" y2="1175.6" stroke="#000" stroke-width="2.9"/>
<text transform="translate(1680.3 1213.7) scale(1 1.05)" font-size="26.6" text-anchor="middle">S<tspan dy="-11.5" font-size="18.6">O</tspan></text>
<line x1="1810.4" y1="1175.6" x2="1937.5" y2="1175.6" stroke="#000" stroke-width="2.9"/>
<text transform="translate(1880.5 1213.7) scale(1 1.05)" font-size="26.6" text-anchor="middle">S<tspan dy="-11.5" font-size="18.6">B</tspan></text>
<text transform="translate(1237.7 1248.9) scale(1 1.05)" font-size="26.6" text-anchor="middle">28</text>
<text transform="translate(1301.9 1248.9) scale(1 1.05)" font-size="26.6" text-anchor="middle">42</text>
<text transform="translate(1365.4 1248.9) scale(1 1.05)" font-size="26.6" text-anchor="middle">67</text>
<text transform="translate(1433.2 1248.9) scale(1 1.05)" font-size="26.6" text-anchor="middle">40</text>
<text transform="translate(1493.5 1248.9) scale(1 1.05)" font-size="26.6" text-anchor="middle">58</text>
<text transform="translate(1557.5 1248.9) scale(1 1.05)" font-size="26.6" text-anchor="middle">42</text>
<text transform="translate(1621.6 1248.9) scale(1 1.05)" font-size="26.6" text-anchor="middle">56</text>
<text transform="translate(1685.4 1248.9) scale(1 1.05)" font-size="26.6" text-anchor="middle">54</text>
<text transform="translate(1749 1248.9) scale(1 1.05)" font-size="26.6" text-anchor="middle">42</text>
<text transform="translate(1813.2 1248.9) scale(1 1.05)" font-size="26.6" text-anchor="middle">42</text>
<text transform="translate(1876.9 1248.9) scale(1 1.05)" font-size="26.6" text-anchor="middle">43</text>
<text transform="translate(1941 1248.9) scale(1 1.05)" font-size="26.6" text-anchor="middle">50</text>
<text transform="translate(1038.9 1227.9) scale(1 1.05)" font-size="27.4">Responders</text>
<text transform="translate(1108 1262.2) scale(1 1.05)" font-size="27.2" text-anchor="middle">(%)</text>
<line x1="1417.5" y1="684.4" x2="1610.3" y2="684.4" stroke="#000" stroke-width="2.7"/>
<text transform="translate(1518 686.3) scale(1 1)" font-size="31" text-anchor="middle" stroke="#000" stroke-width="0.35">*</text>
<line x1="1230.4" y1="708.9" x2="1804.3" y2="708.9" stroke="#000" stroke-width="2.7"/>
<text transform="translate(1518 710.8) scale(1 1)" font-size="31" text-anchor="middle" stroke="#000" stroke-width="0.35" letter-spacing="1.2">**</text>
<line x1="1230.4" y1="730.6" x2="1612.4" y2="730.6" stroke="#000" stroke-width="2.7"/>
<text transform="translate(1424 732.5) scale(1 1)" font-size="31" text-anchor="middle" stroke="#000" stroke-width="0.35">*</text>
<line x1="1229.3" y1="769.5" x2="1362.3" y2="769.5" stroke="#000" stroke-width="2.7"/>
<text transform="translate(1296.8 771.4) scale(1 1)" font-size="31" text-anchor="middle" stroke="#000" stroke-width="0.35" letter-spacing="1.2">**</text>
<line x1="1229.3" y1="798.1" x2="1290.8" y2="798.1" stroke="#000" stroke-width="2.7"/>
<text transform="translate(1264.2 800) scale(1 1)" font-size="31" text-anchor="middle" stroke="#000" stroke-width="0.35">*</text>
<line x1="1419.5" y1="769.5" x2="1481.3" y2="769.5" stroke="#000" stroke-width="2.7"/>
<text transform="translate(1449.9 771.4) scale(1 1)" font-size="31" text-anchor="middle" stroke="#000" stroke-width="0.35">*</text>
</g>
<g id="c1">
<g fill="none" stroke="#ababab" stroke-width="3.1">
<path d="M200 1861.1V1523"/>
<path d="M265.3 1861.1V1591.2"/>
<path d="M307.9 1861.1V1593.7H352.5V1861.1"/>
<path d="M329.8 1593.7V1556"/>
<path d="M395.1 1861.1V1531.2"/>
<path d="M460 1861.1V1523.5"/>
<path d="M503 1861.1V1596.5H547.3V1861.1"/>
<path d="M525 1596.5V1504.7"/>
<path d="M590 1861.1V1541"/>
<path d="M655.3 1861.1V1540.6"/>
<path d="M698.3 1861.1V1549H742.6V1861.1"/>
<path d="M698.3 1830.4H742.6"/>
<path d="M720.2 1549V1499.4"/>
<path d="M850.1 1861.1V1631.9"/>
<path d="M893.4 1861.1V1520.4H937.3V1861.1"/>
<path d="M893.4 1654.8H937.3"/>
</g>
<g fill="none" stroke="#b9b9b9" stroke-width="2.6" stroke-linecap="round">
<path d="M254.3 1591.2H276.3"/>
<path d="M318.8 1556H340.8"/>
<path d="M384.1 1531.2H406.1"/>
<path d="M449 1523.5H471"/>
<path d="M514 1504.7H536"/>
<path d="M644.3 1540.6H666.3"/>
<path d="M709.2 1499.4H731.2"/>
<path d="M839.1 1631.9H861.1"/>
</g>
<g stroke="#4a4a4a" stroke-width="1.3" fill="none">
<path d="M157 1455.5V1861.1H961.4"/>
<path d="M157 1755.3h-5.5M157 1724.3h-5.5M157 1702.3h-5.5M157 1685.2h-5.5M157 1671.2h-5.5M157 1659.4h-5.5M157 1649.2h-5.5M157 1640.2h-5.5M157 1579.1h-5.5M157 1548.1h-5.5M157 1526.1h-5.5M157 1509.1h-5.5M157 1495.1h-5.5M157 1483.4h-5.5M157 1473.2h-5.5M157 1464.2h-5.5M157 1816.2h-5.5M157 1824.7h-5.5M157 1835.8h-5.5M157 1847.2h-5.5M157 1456.1h-11M157 1632.1h-11M157 1808.4h-11M157 1861.1h-5.5"/>
</g>
<text transform="translate(136.7 1466.8) scale(1 1.05)" font-size="26.6" text-anchor="end">100</text>
<text transform="translate(136.7 1642.8) scale(1 1.05)" font-size="26.6" text-anchor="end">10</text>
<text transform="translate(136.7 1819.1) scale(1 1.05)" font-size="26.6" text-anchor="end">1</text>
<text transform="translate(136.7 1871.8) scale(1 1.05)" font-size="26.6" text-anchor="end">0</text>
<text transform="translate(65.6 1659.6) rotate(-90) scale(1 1.05)" font-size="27.3" text-anchor="middle">CD4<tspan dy="-10" font-size="20">+</tspan><tspan dy="10" dx="2.5">T</tspan><tspan dy="6.5" font-size="18.5">EM1</tspan><tspan dy="-6.5"> cells (%)</tspan></text>
<text transform="translate(558.5 1338.9) scale(1 1.05)" font-size="26.6" text-anchor="middle">T0</text>
<path d="M158 1760.2H958.3" stroke="#0aa24c" stroke-width="2.3" stroke-linecap="round" stroke-dasharray="0.01 2.15" fill="none"/>
<path d="M158 1763H958.3" stroke="#000" stroke-width="2.3" stroke-linecap="round" stroke-dasharray="0.01 2.15" fill="none"/>
<g stroke="#000" stroke-width="1.6">
<circle cx="192.4" cy="1861.1" r="8.5" fill="#7ad6fb"/>
<circle cx="193.5" cy="1861.1" r="8.5" fill="#7ad6fb"/>
<circle cx="194.6" cy="1861.1" r="8.5" fill="#7ad6fb"/>
<circle cx="195.7" cy="1861.1" r="8.5" fill="#7ad6fb"/>
<circle cx="196.8" cy="1861.1" r="8.5" fill="#7ad6fb"/>
<circle cx="197.8" cy="1861.1" r="8.5" fill="#7ad6fb"/>
<circle cx="198.9" cy="1861.1" r="8.5" fill="#7ad6fb"/>
<circle cx="200" cy="1861.1" r="8.5" fill="#7ad6fb"/>
<circle cx="201.1" cy="1861.1" r="8.5" fill="#7ad6fb"/>
<circle cx="202.1" cy="1861.1" r="8.5" fill="#7ad6fb"/>
<circle cx="203.2" cy="1861.1" r="8.5" fill="#7ad6fb"/>
<circle cx="204.3" cy="1861.1" r="8.5" fill="#7ad6fb"/>
<circle cx="205.4" cy="1861.1" r="8.5" fill="#7ad6fb"/>
<circle cx="206.4" cy="1861.1" r="8.5" fill="#7ad6fb"/>
<circle cx="183.7" cy="1861.1" r="8.5" fill="#7ad6fb"/>
<circle cx="215.2" cy="1861.1" r="8.5" fill="#7ad6fb"/>
<circle cx="186.9" cy="1861.1" r="8.5" fill="#7ad6fb"/>
<circle cx="212" cy="1861.1" r="8.5" fill="#7ad6fb"/>
<circle cx="187.9" cy="1861.1" r="8.5" fill="#7ad6fb"/>
<circle cx="210.9" cy="1861.1" r="8.5" fill="#7ad6fb"/>
<circle cx="200" cy="1662.1" r="8.5" fill="#7ad6fb"/>
<circle cx="190.9" cy="1624.4" r="8.5" fill="#7ad6fb"/>
<circle cx="209.4" cy="1607.6" r="8.5" fill="#7ad6fb"/>
<circle cx="209.4" cy="1524.6" r="8.5" fill="#7ad6fb"/>
<circle cx="190.9" cy="1521" r="8.5" fill="#7ad6fb"/>
<circle cx="250" cy="1861.1" r="8.5" fill="#0a86d8"/>
<circle cx="280.5" cy="1861.1" r="8.5" fill="#0a86d8"/>
<circle cx="256.1" cy="1861.1" r="8.5" fill="#0a86d8"/>
<circle cx="274.4" cy="1861.1" r="8.5" fill="#0a86d8"/>
<circle cx="262.2" cy="1861.1" r="8.5" fill="#0a86d8"/>
<circle cx="268.3" cy="1861.1" r="8.5" fill="#0a86d8"/>
<circle cx="265.3" cy="1693.9" r="8.5" fill="#0a86d8"/>
<circle cx="255.8" cy="1628.4" r="8.5" fill="#0a86d8"/>
<circle cx="274.3" cy="1610.4" r="8.5" fill="#0a86d8"/>
<circle cx="265.3" cy="1590.9" r="8.5" fill="#0a86d8"/>
<circle cx="316.4" cy="1861.1" r="8.5" fill="#ff2a03"/>
<circle cx="343.3" cy="1861.1" r="8.5" fill="#ff2a03"/>
<circle cx="321.8" cy="1861.1" r="8.5" fill="#ff2a03"/>
<circle cx="337.9" cy="1861.1" r="8.5" fill="#ff2a03"/>
<circle cx="327.2" cy="1861.1" r="8.5" fill="#ff2a03"/>
<circle cx="332.5" cy="1861.1" r="8.5" fill="#ff2a03"/>
<circle cx="329.8" cy="1593.7" r="8.5" fill="#ff2a03"/>
<circle cx="317.6" cy="1593.3" r="8.5" fill="#ff2a03"/>
<circle cx="342.4" cy="1579.4" r="8.5" fill="#ff2a03"/>
<circle cx="329.8" cy="1555.6" r="8.5" fill="#ff2a03"/>
<circle cx="387.9" cy="1861.1" r="8.5" fill="#7ad6fb"/>
<circle cx="389" cy="1861.1" r="8.5" fill="#7ad6fb"/>
<circle cx="390.1" cy="1861.1" r="8.5" fill="#7ad6fb"/>
<circle cx="391.2" cy="1861.1" r="8.5" fill="#7ad6fb"/>
<circle cx="392.3" cy="1861.1" r="8.5" fill="#7ad6fb"/>
<circle cx="393.3" cy="1861.1" r="8.5" fill="#7ad6fb"/>
<circle cx="394.4" cy="1861.1" r="8.5" fill="#7ad6fb"/>
<circle cx="395.5" cy="1861.1" r="8.5" fill="#7ad6fb"/>
<circle cx="396.6" cy="1861.1" r="8.5" fill="#7ad6fb"/>
<circle cx="397.6" cy="1861.1" r="8.5" fill="#7ad6fb"/>
<circle cx="398.7" cy="1861.1" r="8.5" fill="#7ad6fb"/>
<circle cx="399.8" cy="1861.1" r="8.5" fill="#7ad6fb"/>
<circle cx="400.9" cy="1861.1" r="8.5" fill="#7ad6fb"/>
<circle cx="401.9" cy="1861.1" r="8.5" fill="#7ad6fb"/>
<circle cx="379.2" cy="1861.1" r="8.5" fill="#7ad6fb"/>
<circle cx="410.7" cy="1861.1" r="8.5" fill="#7ad6fb"/>
<circle cx="382.4" cy="1861.1" r="8.5" fill="#7ad6fb"/>
<circle cx="407.5" cy="1861.1" r="8.5" fill="#7ad6fb"/>
<circle cx="383.4" cy="1861.1" r="8.5" fill="#7ad6fb"/>
<circle cx="406.4" cy="1861.1" r="8.5" fill="#7ad6fb"/>
<circle cx="395.1" cy="1632.3" r="8.5" fill="#7ad6fb"/>
<circle cx="395.1" cy="1562.3" r="8.5" fill="#7ad6fb"/>
<circle cx="395.1" cy="1531.2" r="8.5" fill="#7ad6fb"/>
<circle cx="445.5" cy="1861.1" r="8.5" fill="#0a86d8"/>
<circle cx="476" cy="1861.1" r="8.5" fill="#0a86d8"/>
<circle cx="451.6" cy="1861.1" r="8.5" fill="#0a86d8"/>
<circle cx="469.9" cy="1861.1" r="8.5" fill="#0a86d8"/>
<circle cx="457.7" cy="1861.1" r="8.5" fill="#0a86d8"/>
<circle cx="463.8" cy="1861.1" r="8.5" fill="#0a86d8"/>
<circle cx="460" cy="1585.6" r="8.5" fill="#0a86d8"/>
<circle cx="460" cy="1523.5" r="8.5" fill="#0a86d8"/>
<circle cx="511.8" cy="1861.1" r="8.5" fill="#ff2a03"/>
<circle cx="538.8" cy="1861.1" r="8.5" fill="#ff2a03"/>
<circle cx="517.2" cy="1861.1" r="8.5" fill="#ff2a03"/>
<circle cx="533.4" cy="1861.1" r="8.5" fill="#ff2a03"/>
<circle cx="522.6" cy="1861.1" r="8.5" fill="#ff2a03"/>
<circle cx="528" cy="1861.1" r="8.5" fill="#ff2a03"/>
<circle cx="534" cy="1605.2" r="8.5" fill="#ff2a03"/>
<circle cx="515.9" cy="1593" r="8.5" fill="#ff2a03"/>
<circle cx="525" cy="1579" r="8.5" fill="#ff2a03"/>
<circle cx="525" cy="1504.7" r="8.5" fill="#ff2a03"/>
<circle cx="582.8" cy="1861.1" r="8.5" fill="#7ad6fb"/>
<circle cx="583.9" cy="1861.1" r="8.5" fill="#7ad6fb"/>
<circle cx="585" cy="1861.1" r="8.5" fill="#7ad6fb"/>
<circle cx="586.1" cy="1861.1" r="8.5" fill="#7ad6fb"/>
<circle cx="587.2" cy="1861.1" r="8.5" fill="#7ad6fb"/>
<circle cx="588.2" cy="1861.1" r="8.5" fill="#7ad6fb"/>
<circle cx="589.3" cy="1861.1" r="8.5" fill="#7ad6fb"/>
<circle cx="590.4" cy="1861.1" r="8.5" fill="#7ad6fb"/>
<circle cx="591.5" cy="1861.1" r="8.5" fill="#7ad6fb"/>
<circle cx="592.5" cy="1861.1" r="8.5" fill="#7ad6fb"/>
<circle cx="593.6" cy="1861.1" r="8.5" fill="#7ad6fb"/>
<circle cx="594.7" cy="1861.1" r="8.5" fill="#7ad6fb"/>
<circle cx="595.8" cy="1861.1" r="8.5" fill="#7ad6fb"/>
<circle cx="596.8" cy="1861.1" r="8.5" fill="#7ad6fb"/>
<circle cx="575.5" cy="1861.1" r="8.5" fill="#7ad6fb"/>
<circle cx="604.2" cy="1861.1" r="8.5" fill="#7ad6fb"/>
<circle cx="578.7" cy="1861.1" r="8.5" fill="#7ad6fb"/>
<circle cx="601" cy="1861.1" r="8.5" fill="#7ad6fb"/>
<circle cx="578.3" cy="1861.1" r="8.5" fill="#7ad6fb"/>
<circle cx="601.3" cy="1861.1" r="8.5" fill="#7ad6fb"/>
<circle cx="590" cy="1772.4" r="8.5" fill="#7ad6fb"/>
<circle cx="590" cy="1641.5" r="8.5" fill="#7ad6fb"/>
<circle cx="599.1" cy="1543.4" r="8.5" fill="#7ad6fb"/>
<circle cx="581" cy="1540.6" r="8.5" fill="#7ad6fb"/>
<circle cx="640.1" cy="1861.1" r="8.5" fill="#0a86d8"/>
<circle cx="670.6" cy="1861.1" r="8.5" fill="#0a86d8"/>
<circle cx="646.2" cy="1861.1" r="8.5" fill="#0a86d8"/>
<circle cx="664.5" cy="1861.1" r="8.5" fill="#0a86d8"/>
<circle cx="652.3" cy="1861.1" r="8.5" fill="#0a86d8"/>
<circle cx="658.4" cy="1861.1" r="8.5" fill="#0a86d8"/>
<circle cx="655.3" cy="1692.5" r="8.5" fill="#0a86d8"/>
<circle cx="655.3" cy="1594" r="8.5" fill="#0a86d8"/>
<circle cx="664.4" cy="1554.6" r="8.5" fill="#0a86d8"/>
<circle cx="645.9" cy="1540.6" r="8.5" fill="#0a86d8"/>
<circle cx="709.2" cy="1861.1" r="8.5" fill="#ff2a03"/>
<circle cx="731.6" cy="1861.1" r="8.5" fill="#ff2a03"/>
<circle cx="713.7" cy="1861.1" r="8.5" fill="#ff2a03"/>
<circle cx="727.1" cy="1861.1" r="8.5" fill="#ff2a03"/>
<circle cx="718.2" cy="1861.1" r="8.5" fill="#ff2a03"/>
<circle cx="722.6" cy="1861.1" r="8.5" fill="#ff2a03"/>
<circle cx="720.2" cy="1778" r="8.5" fill="#ff2a03"/>
<circle cx="720.2" cy="1622.6" r="8.5" fill="#ff2a03"/>
<circle cx="720.2" cy="1579.4" r="8.5" fill="#ff2a03"/>
<circle cx="720.2" cy="1540.6" r="8.5" fill="#ff2a03"/>
<circle cx="729.3" cy="1512.3" r="8.5" fill="#ff2a03"/>
<circle cx="710.8" cy="1499.8" r="8.5" fill="#ff2a03"/>
<circle cx="771" cy="1861.1" r="8.5" fill="#7ad6fb"/>
<circle cx="799.7" cy="1861.1" r="8.5" fill="#7ad6fb"/>
<circle cx="776.7" cy="1861.1" r="8.5" fill="#7ad6fb"/>
<circle cx="794" cy="1861.1" r="8.5" fill="#7ad6fb"/>
<circle cx="782.5" cy="1861.1" r="8.5" fill="#7ad6fb"/>
<circle cx="788.2" cy="1861.1" r="8.5" fill="#7ad6fb"/>
<circle cx="834.9" cy="1861.1" r="8.5" fill="#0a86d8"/>
<circle cx="865" cy="1861.1" r="8.5" fill="#0a86d8"/>
<circle cx="840.9" cy="1861.1" r="8.5" fill="#0a86d8"/>
<circle cx="859" cy="1861.1" r="8.5" fill="#0a86d8"/>
<circle cx="846.9" cy="1861.1" r="8.5" fill="#0a86d8"/>
<circle cx="853" cy="1861.1" r="8.5" fill="#0a86d8"/>
<circle cx="850.1" cy="1783.2" r="8.5" fill="#0a86d8"/>
<circle cx="850.1" cy="1631.9" r="8.5" fill="#0a86d8"/>
<circle cx="903.6" cy="1861.1" r="8.5" fill="#ff2a03"/>
<circle cx="927.1" cy="1861.1" r="8.5" fill="#ff2a03"/>
<circle cx="908.3" cy="1861.1" r="8.5" fill="#ff2a03"/>
<circle cx="922.4" cy="1861.1" r="8.5" fill="#ff2a03"/>
<circle cx="913" cy="1861.1" r="8.5" fill="#ff2a03"/>
<circle cx="917.7" cy="1861.1" r="8.5" fill="#ff2a03"/>
<circle cx="924.4" cy="1663.2" r="8.5" fill="#ff2a03"/>
<circle cx="905.6" cy="1646.5" r="8.5" fill="#ff2a03"/>
<circle cx="915" cy="1533.3" r="8.5" fill="#ff2a03"/>
<circle cx="927.6" cy="1521" r="8.5" fill="#ff2a03"/>
<circle cx="902.4" cy="1520.4" r="8.5" fill="#ff2a03"/>
<circle cx="924.4" cy="1512.7" r="8.5" fill="#ff2a03"/>
<circle cx="905.6" cy="1509.2" r="8.5" fill="#ff2a03"/>
</g>
<line x1="201" y1="1879.2" x2="328.1" y2="1879.2" stroke="#000" stroke-width="2.9"/>
<text transform="translate(263.7 1923) scale(1 1.05)" font-size="26.6" text-anchor="middle">S<tspan dy="-11.5" font-size="18.6">WT</tspan></text>
<line x1="397.9" y1="1879.2" x2="524.6" y2="1879.2" stroke="#000" stroke-width="2.9"/>
<text transform="translate(461 1923) scale(1 1.05)" font-size="26.6" text-anchor="middle">S<tspan dy="-11.5" font-size="18.6">D</tspan></text>
<line x1="589.4" y1="1879.2" x2="716.4" y2="1879.2" stroke="#000" stroke-width="2.9"/>
<text transform="translate(653.6 1923) scale(1 1.05)" font-size="26.6" text-anchor="middle">S<tspan dy="-11.5" font-size="18.6">O</tspan></text>
<line x1="786.2" y1="1879.2" x2="913.6" y2="1879.2" stroke="#000" stroke-width="2.9"/>
<text transform="translate(853.6 1923) scale(1 1.05)" font-size="26.6" text-anchor="middle">S<tspan dy="-11.5" font-size="18.6">B</tspan></text>
<text transform="translate(192 1956.6) scale(1 1.05)" font-size="26.6" text-anchor="middle">21</text>
<text transform="translate(255.5 1956.6) scale(1 1.05)" font-size="26.6" text-anchor="middle">17</text>
<text transform="translate(321.5 1956.6) scale(1 1.05)" font-size="26.6" text-anchor="middle">33</text>
<text transform="translate(387.4 1956.6) scale(1 1.05)" font-size="26.6" text-anchor="middle">13</text>
<text transform="translate(459 1956.6) scale(1 1.05)" font-size="26.6" text-anchor="middle">14</text>
<text transform="translate(520.1 1956.6) scale(1 1.05)" font-size="26.6" text-anchor="middle">33</text>
<text transform="translate(586.3 1956.6) scale(1 1.05)" font-size="26.6" text-anchor="middle">12</text>
<text transform="translate(652.5 1956.6) scale(1 1.05)" font-size="26.6" text-anchor="middle">17</text>
<text transform="translate(718.2 1956.6) scale(1 1.05)" font-size="26.6" text-anchor="middle">42</text>
<text transform="translate(788.7 1956.6) scale(1 1.05)" font-size="26.6" text-anchor="middle">0</text>
<text transform="translate(854.3 1956.6) scale(1 1.05)" font-size="26.6" text-anchor="middle">4</text>
<text transform="translate(920.6 1956.6) scale(1 1.05)" font-size="26.6" text-anchor="middle">58</text>
<text transform="translate(1.6 1937.4) scale(1 1.05)" font-size="27.4">Responders</text>
<text transform="translate(69 1973) scale(1 1.05)" font-size="27.2" text-anchor="middle">(%)</text>
<line x1="198.3" y1="1416" x2="391" y2="1416" stroke="#000" stroke-width="2.7"/>
<text transform="translate(294.2 1417.9) scale(1 1)" font-size="31" text-anchor="middle" stroke="#000" stroke-width="0.35">*</text>
<line x1="391" y1="1389.8" x2="584" y2="1389.8" stroke="#000" stroke-width="2.7"/>
<text transform="translate(487.6 1391.7) scale(1 1)" font-size="31" text-anchor="middle" stroke="#000" stroke-width="0.35">*</text>
<line x1="584.1" y1="1367.3" x2="777.5" y2="1367.3" stroke="#000" stroke-width="2.7"/>
<text transform="translate(680.5 1369.2) scale(1 1)" font-size="31" text-anchor="middle" stroke="#000" stroke-width="0.35">*</text>
<line x1="792.8" y1="1426.1" x2="916.4" y2="1426.1" stroke="#000" stroke-width="2.7"/>
<text transform="translate(854.3 1428) scale(1 1)" font-size="31" text-anchor="middle" stroke="#000" stroke-width="0.35">*</text>
<line x1="848" y1="1452.3" x2="914.7" y2="1452.3" stroke="#000" stroke-width="2.7"/>
<text transform="translate(879.8 1454.2) scale(1 1)" font-size="31" text-anchor="middle" stroke="#000" stroke-width="0.35" letter-spacing="1.2">**</text>
<line x1="786.2" y1="1472.2" x2="848" y2="1472.2" stroke="#000" stroke-width="2.7"/>
<text transform="translate(816.6 1474.1) scale(1 1)" font-size="31" text-anchor="middle" stroke="#000" stroke-width="0.35">*</text>
<line x1="657.4" y1="1472.2" x2="719.2" y2="1472.2" stroke="#000" stroke-width="2.7"/>
<text transform="translate(688.1 1474.1) scale(1 1)" font-size="31" text-anchor="middle" stroke="#000" stroke-width="0.35">*</text>
</g>
<g id="c2">
<g fill="none" stroke="#ababab" stroke-width="3.1">
<path d="M1214.3 1858.6V1615.5H1257.6V1858.6"/>
<path d="M1214.3 1687.3H1257.6"/>
<path d="M1235.6 1615.5V1521"/>
<path d="M1277.8 1858.6V1601H1321.1V1858.6"/>
<path d="M1277.8 1767.5H1321.1"/>
<path d="M1299.1 1601V1470.1"/>
<path d="M1341.4 1858.6V1546.9H1385V1858.6"/>
<path d="M1341.4 1697.7H1385"/>
<path d="M1363 1546.9V1526.6"/>
<path d="M1404.9 1858.6V1638H1448.5V1858.6"/>
<path d="M1404.9 1716.9H1448.5"/>
<path d="M1426.5 1638V1530.8"/>
<path d="M1468.8 1858.6V1604.1H1512.4V1858.6"/>
<path d="M1468.8 1719.7H1512.4"/>
<path d="M1490 1604.1V1521"/>
<path d="M1532.8 1689.1V1524.2H1576.4V1689.1Z"/>
<path d="M1532.8 1600H1576.4"/>
<path d="M1554.2 1689.1V1858.6"/>
<path d="M1554.2 1524.2V1500"/>
<path d="M1596.6 1858.6V1633.4H1639.8V1858.6"/>
<path d="M1596.6 1750.1H1639.8"/>
<path d="M1618.2 1633.4V1547.3"/>
<path d="M1660.4 1858.6V1586.7H1704.2V1858.6"/>
<path d="M1660.4 1679.5H1704.2"/>
<path d="M1682.3 1586.7V1537.4"/>
<path d="M1724.1 1858.6V1549.4H1767.6V1858.6"/>
<path d="M1724.1 1630.7H1767.6"/>
<path d="M1745.7 1549.4V1509.6"/>
<path d="M1788.5 1858.6V1649.7H1831.3V1858.6"/>
<path d="M1810 1649.7V1585.4"/>
<path d="M1851.9 1858.6V1632H1895.4V1858.6"/>
<path d="M1851.9 1740.5H1895.4"/>
<path d="M1873.5 1632V1509.6"/>
<path d="M1915.6 1858.6V1522.7H1959.1V1858.6"/>
<path d="M1915.6 1645.8H1959.1"/>
<path d="M1937.2 1522.7V1499.7"/>
</g>
<g fill="none" stroke="#b9b9b9" stroke-width="2.6" stroke-linecap="round">
<path d="M1224.6 1521H1246.6"/>
<path d="M1288.1 1470.1H1310.1"/>
<path d="M1352 1526.6H1374"/>
<path d="M1415.5 1530.8H1437.5"/>
<path d="M1479 1521H1501"/>
<path d="M1543.2 1500H1565.2"/>
<path d="M1607.2 1547.3H1629.2"/>
<path d="M1671.3 1537.4H1693.3"/>
<path d="M1734.7 1509.6H1756.7"/>
<path d="M1799 1585.4H1821"/>
<path d="M1862.5 1509.6H1884.5"/>
<path d="M1926.2 1499.7H1948.2"/>
</g>
<g stroke="#4a4a4a" stroke-width="1.3" fill="none">
<path d="M1193.4 1469.5V1858.6H1982.4"/>
<path d="M1193.4 1756.9h-5.5M1193.4 1727h-5.5M1193.4 1705.8h-5.5M1193.4 1689.4h-5.5M1193.4 1675.9h-5.5M1193.4 1664.6h-5.5M1193.4 1654.7h-5.5M1193.4 1646.1h-5.5M1193.4 1587.7h-5.5M1193.4 1558h-5.5M1193.4 1537h-5.5M1193.4 1520.7h-5.5M1193.4 1507.4h-5.5M1193.4 1496.2h-5.5M1193.4 1486.4h-5.5M1193.4 1477.8h-5.5M1193.4 1815.5h-5.5M1193.4 1823.7h-5.5M1193.4 1834.3h-5.5M1193.4 1845.2h-5.5M1193.4 1470.1h-11M1193.4 1638.3h-11M1193.4 1808h-11M1193.4 1858.6h-5.5"/>
</g>
<text transform="translate(1171.4 1479.9) scale(1 1.05)" font-size="26.6" text-anchor="end">100</text>
<text transform="translate(1171.4 1648.3) scale(1 1.05)" font-size="26.6" text-anchor="end">10</text>
<text transform="translate(1171.4 1812.8) scale(1 1.05)" font-size="26.6" text-anchor="end">1</text>
<text transform="translate(1171.4 1869.7) scale(1 1.05)" font-size="26.6" text-anchor="end">0</text>
<text transform="translate(1100.5 1665.3) rotate(-90) scale(1 1.05)" font-size="27.3" text-anchor="middle">CD4<tspan dy="-10" font-size="20">+</tspan><tspan dy="10" dx="2.5">T</tspan><tspan dy="6.5" font-size="18.5">EM1</tspan><tspan dy="-6.5"> cells (%)</tspan></text>
<text transform="translate(1582.9 1339) scale(1 1.05)" font-size="26.6" text-anchor="middle">6M</text>
<path d="M1194.4 1758.2H1976.3" stroke="#0aa24c" stroke-width="2.3" stroke-linecap="round" stroke-dasharray="0.01 2.15" fill="none"/>
<path d="M1194.4 1763.3H1976.3" stroke="#000" stroke-width="2.3" stroke-linecap="round" stroke-dasharray="0.01 2.15" fill="none"/>
<g stroke="#000" stroke-width="1.6">
<circle cx="1222.8" cy="1858.6" r="8.5" fill="#7ad6fb"/>
<circle cx="1248.4" cy="1858.6" r="8.5" fill="#7ad6fb"/>
<circle cx="1227.9" cy="1858.6" r="8.5" fill="#7ad6fb"/>
<circle cx="1243.3" cy="1858.6" r="8.5" fill="#7ad6fb"/>
<circle cx="1233" cy="1858.6" r="8.5" fill="#7ad6fb"/>
<circle cx="1238.2" cy="1858.6" r="8.5" fill="#7ad6fb"/>
<circle cx="1235.6" cy="1794" r="8.5" fill="#7ad6fb"/>
<circle cx="1235.6" cy="1708.2" r="8.5" fill="#7ad6fb"/>
<circle cx="1235.6" cy="1687.3" r="8.5" fill="#7ad6fb"/>
<circle cx="1229.7" cy="1668" r="8.5" fill="#7ad6fb"/>
<circle cx="1240.8" cy="1663.5" r="8.5" fill="#7ad6fb"/>
<circle cx="1225.8" cy="1656.9" r="8.5" fill="#7ad6fb"/>
<circle cx="1244.7" cy="1656.9" r="8.5" fill="#7ad6fb"/>
<circle cx="1235.6" cy="1647" r="8.5" fill="#7ad6fb"/>
<circle cx="1235.6" cy="1615" r="8.5" fill="#7ad6fb"/>
<circle cx="1247.8" cy="1614" r="8.5" fill="#7ad6fb"/>
<circle cx="1223.4" cy="1601" r="8.5" fill="#7ad6fb"/>
<circle cx="1235.6" cy="1596.5" r="8.5" fill="#7ad6fb"/>
<circle cx="1223.4" cy="1582.5" r="8.5" fill="#7ad6fb"/>
<circle cx="1247.8" cy="1579.7" r="8.5" fill="#7ad6fb"/>
<circle cx="1235.6" cy="1521" r="8.5" fill="#7ad6fb"/>
<circle cx="1284.9" cy="1858.6" r="8.5" fill="#0a86d8"/>
<circle cx="1312.6" cy="1858.6" r="8.5" fill="#0a86d8"/>
<circle cx="1290.4" cy="1858.6" r="8.5" fill="#0a86d8"/>
<circle cx="1307.1" cy="1858.6" r="8.5" fill="#0a86d8"/>
<circle cx="1296" cy="1858.6" r="8.5" fill="#0a86d8"/>
<circle cx="1301.5" cy="1858.6" r="8.5" fill="#0a86d8"/>
<circle cx="1299.1" cy="1716.2" r="8.5" fill="#0a86d8"/>
<circle cx="1290" cy="1682.4" r="8.5" fill="#0a86d8"/>
<circle cx="1308.2" cy="1677.5" r="8.5" fill="#0a86d8"/>
<circle cx="1299.1" cy="1663.5" r="8.5" fill="#0a86d8"/>
<circle cx="1290" cy="1634.5" r="8.5" fill="#0a86d8"/>
<circle cx="1308.2" cy="1625.6" r="8.5" fill="#0a86d8"/>
<circle cx="1308.2" cy="1593" r="8.5" fill="#0a86d8"/>
<circle cx="1290" cy="1581.4" r="8.5" fill="#0a86d8"/>
<circle cx="1299.1" cy="1571.3" r="8.5" fill="#0a86d8"/>
<circle cx="1308.2" cy="1542" r="8.5" fill="#0a86d8"/>
<circle cx="1290" cy="1532.6" r="8.5" fill="#0a86d8"/>
<circle cx="1299.1" cy="1470.1" r="8.5" fill="#0a86d8"/>
<circle cx="1353.6" cy="1858.6" r="8.5" fill="#ff2a03"/>
<circle cx="1372" cy="1858.6" r="8.5" fill="#ff2a03"/>
<circle cx="1368.2" cy="1858.6" r="8.5" fill="#ff2a03"/>
<circle cx="1372.1" cy="1743.5" r="8.5" fill="#ff2a03"/>
<circle cx="1353.6" cy="1737.9" r="8.5" fill="#ff2a03"/>
<circle cx="1363" cy="1671.9" r="8.5" fill="#ff2a03"/>
<circle cx="1372.1" cy="1562.3" r="8.5" fill="#ff2a03"/>
<circle cx="1353.6" cy="1560.5" r="8.5" fill="#ff2a03"/>
<circle cx="1363" cy="1542.4" r="8.5" fill="#ff2a03"/>
<circle cx="1375.2" cy="1537.8" r="8.5" fill="#ff2a03"/>
<circle cx="1350.8" cy="1527" r="8.5" fill="#ff2a03"/>
<circle cx="1412.3" cy="1858.6" r="8.5" fill="#7ad6fb"/>
<circle cx="1441.1" cy="1858.6" r="8.5" fill="#7ad6fb"/>
<circle cx="1418.1" cy="1858.6" r="8.5" fill="#7ad6fb"/>
<circle cx="1435.3" cy="1858.6" r="8.5" fill="#7ad6fb"/>
<circle cx="1423.8" cy="1858.6" r="8.5" fill="#7ad6fb"/>
<circle cx="1429.6" cy="1858.6" r="8.5" fill="#7ad6fb"/>
<circle cx="1435.6" cy="1717.6" r="8.5" fill="#7ad6fb"/>
<circle cx="1417.1" cy="1704" r="8.5" fill="#7ad6fb"/>
<circle cx="1420.9" cy="1684.5" r="8.5" fill="#7ad6fb"/>
<circle cx="1432.8" cy="1676.1" r="8.5" fill="#7ad6fb"/>
<circle cx="1417.1" cy="1671.6" r="8.5" fill="#7ad6fb"/>
<circle cx="1435.6" cy="1668.4" r="8.5" fill="#7ad6fb"/>
<circle cx="1435.6" cy="1642.5" r="8.5" fill="#7ad6fb"/>
<circle cx="1417.1" cy="1632.6" r="8.5" fill="#7ad6fb"/>
<circle cx="1426.5" cy="1615.2" r="8.5" fill="#7ad6fb"/>
<circle cx="1438.7" cy="1605.9" r="8.5" fill="#7ad6fb"/>
<circle cx="1414.7" cy="1601.5" r="8.5" fill="#7ad6fb"/>
<circle cx="1426.5" cy="1581.4" r="8.5" fill="#7ad6fb"/>
<circle cx="1426.5" cy="1530.8" r="8.5" fill="#7ad6fb"/>
<circle cx="1476.9" cy="1858.6" r="8.5" fill="#0a86d8"/>
<circle cx="1503.9" cy="1858.6" r="8.5" fill="#0a86d8"/>
<circle cx="1482.3" cy="1858.6" r="8.5" fill="#0a86d8"/>
<circle cx="1498.5" cy="1858.6" r="8.5" fill="#0a86d8"/>
<circle cx="1487.7" cy="1858.6" r="8.5" fill="#0a86d8"/>
<circle cx="1493.1" cy="1858.6" r="8.5" fill="#0a86d8"/>
<circle cx="1481.3" cy="1730.2" r="8.5" fill="#0a86d8"/>
<circle cx="1499.5" cy="1730.2" r="8.5" fill="#0a86d8"/>
<circle cx="1490.4" cy="1712.4" r="8.5" fill="#0a86d8"/>
<circle cx="1490.4" cy="1657.9" r="8.5" fill="#0a86d8"/>
<circle cx="1481.3" cy="1636.4" r="8.5" fill="#0a86d8"/>
<circle cx="1499.5" cy="1632.1" r="8.5" fill="#0a86d8"/>
<circle cx="1490.2" cy="1615" r="8.5" fill="#0a86d8"/>
<circle cx="1478.2" cy="1606.4" r="8.5" fill="#0a86d8"/>
<circle cx="1502.6" cy="1603.5" r="8.5" fill="#0a86d8"/>
<circle cx="1484.5" cy="1588.4" r="8.5" fill="#0a86d8"/>
<circle cx="1496.3" cy="1586.7" r="8.5" fill="#0a86d8"/>
<circle cx="1481.3" cy="1578" r="8.5" fill="#0a86d8"/>
<circle cx="1499.5" cy="1570.6" r="8.5" fill="#0a86d8"/>
<circle cx="1489.9" cy="1521" r="8.5" fill="#0a86d8"/>
<circle cx="1554.2" cy="1858.6" r="8.5" fill="#ff2a03"/>
<circle cx="1554.2" cy="1730.2" r="8.5" fill="#ff2a03"/>
<circle cx="1554.2" cy="1689.8" r="8.5" fill="#ff2a03"/>
<circle cx="1554.2" cy="1641.5" r="8.5" fill="#ff2a03"/>
<circle cx="1554.2" cy="1620.6" r="8.5" fill="#ff2a03"/>
<circle cx="1554.2" cy="1600.5" r="8.5" fill="#ff2a03"/>
<circle cx="1541.8" cy="1594.8" r="8.5" fill="#ff2a03"/>
<circle cx="1566.3" cy="1590.5" r="8.5" fill="#ff2a03"/>
<circle cx="1544.9" cy="1523.7" r="8.5" fill="#ff2a03"/>
<circle cx="1563.4" cy="1513" r="8.5" fill="#ff2a03"/>
<circle cx="1553.5" cy="1500" r="8.5" fill="#ff2a03"/>
<circle cx="1604.1" cy="1858.6" r="8.5" fill="#7ad6fb"/>
<circle cx="1632" cy="1858.6" r="8.5" fill="#7ad6fb"/>
<circle cx="1609.7" cy="1858.6" r="8.5" fill="#7ad6fb"/>
<circle cx="1626.4" cy="1858.6" r="8.5" fill="#7ad6fb"/>
<circle cx="1615.3" cy="1858.6" r="8.5" fill="#7ad6fb"/>
<circle cx="1620.8" cy="1858.6" r="8.5" fill="#7ad6fb"/>
<circle cx="1618.2" cy="1750.1" r="8.5" fill="#7ad6fb"/>
<circle cx="1606.2" cy="1736.4" r="8.5" fill="#7ad6fb"/>
<circle cx="1630.2" cy="1732.3" r="8.5" fill="#7ad6fb"/>
<circle cx="1609.3" cy="1708.3" r="8.5" fill="#7ad6fb"/>
<circle cx="1627.1" cy="1694.2" r="8.5" fill="#7ad6fb"/>
<circle cx="1627.1" cy="1662.7" r="8.5" fill="#7ad6fb"/>
<circle cx="1609.3" cy="1657.6" r="8.5" fill="#7ad6fb"/>
<circle cx="1612.4" cy="1614.1" r="8.5" fill="#7ad6fb"/>
<circle cx="1623.3" cy="1609.8" r="8.5" fill="#7ad6fb"/>
<circle cx="1608.6" cy="1608.3" r="8.5" fill="#7ad6fb"/>
<circle cx="1627.1" cy="1604.2" r="8.5" fill="#7ad6fb"/>
<circle cx="1618.2" cy="1584.3" r="8.5" fill="#7ad6fb"/>
<circle cx="1618.2" cy="1547.3" r="8.5" fill="#7ad6fb"/>
<circle cx="1668.5" cy="1858.6" r="8.5" fill="#0a86d8"/>
<circle cx="1695.4" cy="1858.6" r="8.5" fill="#0a86d8"/>
<circle cx="1673.9" cy="1858.6" r="8.5" fill="#0a86d8"/>
<circle cx="1690" cy="1858.6" r="8.5" fill="#0a86d8"/>
<circle cx="1679.3" cy="1858.6" r="8.5" fill="#0a86d8"/>
<circle cx="1684.6" cy="1858.6" r="8.5" fill="#0a86d8"/>
<circle cx="1691.2" cy="1699.4" r="8.5" fill="#0a86d8"/>
<circle cx="1673" cy="1689.8" r="8.5" fill="#0a86d8"/>
<circle cx="1682.3" cy="1670.9" r="8.5" fill="#0a86d8"/>
<circle cx="1682.3" cy="1643.8" r="8.5" fill="#0a86d8"/>
<circle cx="1669.6" cy="1634" r="8.5" fill="#0a86d8"/>
<circle cx="1694.3" cy="1631.2" r="8.5" fill="#0a86d8"/>
<circle cx="1682.3" cy="1615.5" r="8.5" fill="#0a86d8"/>
<circle cx="1682.3" cy="1592.6" r="8.5" fill="#0a86d8"/>
<circle cx="1669.6" cy="1584" r="8.5" fill="#0a86d8"/>
<circle cx="1694.3" cy="1580.2" r="8.5" fill="#0a86d8"/>
<circle cx="1682.3" cy="1566.9" r="8.5" fill="#0a86d8"/>
<circle cx="1694.3" cy="1562.4" r="8.5" fill="#0a86d8"/>
<circle cx="1669.6" cy="1561.4" r="8.5" fill="#0a86d8"/>
<circle cx="1682.3" cy="1537.4" r="8.5" fill="#0a86d8"/>
<circle cx="1736.4" cy="1858.6" r="8.5" fill="#ff2a03"/>
<circle cx="1754.9" cy="1858.6" r="8.5" fill="#ff2a03"/>
<circle cx="1741.6" cy="1858.6" r="8.5" fill="#ff2a03"/>
<circle cx="1745.7" cy="1677.8" r="8.5" fill="#ff2a03"/>
<circle cx="1745.7" cy="1630.7" r="8.5" fill="#ff2a03"/>
<circle cx="1754.9" cy="1578.8" r="8.5" fill="#ff2a03"/>
<circle cx="1736.4" cy="1568.2" r="8.5" fill="#ff2a03"/>
<circle cx="1745.7" cy="1548.7" r="8.5" fill="#ff2a03"/>
<circle cx="1754.9" cy="1521.3" r="8.5" fill="#ff2a03"/>
<circle cx="1736.4" cy="1510" r="8.5" fill="#ff2a03"/>
<circle cx="1795.3" cy="1858.6" r="8.5" fill="#7ad6fb"/>
<circle cx="1823.8" cy="1858.6" r="8.5" fill="#7ad6fb"/>
<circle cx="1801" cy="1858.6" r="8.5" fill="#7ad6fb"/>
<circle cx="1818.1" cy="1858.6" r="8.5" fill="#7ad6fb"/>
<circle cx="1806.7" cy="1858.6" r="8.5" fill="#7ad6fb"/>
<circle cx="1812.4" cy="1858.6" r="8.5" fill="#7ad6fb"/>
<circle cx="1809.4" cy="1699.4" r="8.5" fill="#7ad6fb"/>
<circle cx="1803.9" cy="1670.9" r="8.5" fill="#7ad6fb"/>
<circle cx="1815.6" cy="1663.4" r="8.5" fill="#7ad6fb"/>
<circle cx="1800.8" cy="1657.6" r="8.5" fill="#7ad6fb"/>
<circle cx="1818.7" cy="1653.1" r="8.5" fill="#7ad6fb"/>
<circle cx="1810" cy="1651" r="8.5" fill="#7ad6fb"/>
<circle cx="1797.4" cy="1647.5" r="8.5" fill="#7ad6fb"/>
<circle cx="1821.4" cy="1639" r="8.5" fill="#7ad6fb"/>
<circle cx="1800.8" cy="1628.3" r="8.5" fill="#7ad6fb"/>
<circle cx="1818.7" cy="1617.3" r="8.5" fill="#7ad6fb"/>
<circle cx="1818.7" cy="1595" r="8.5" fill="#7ad6fb"/>
<circle cx="1800.8" cy="1585.4" r="8.5" fill="#7ad6fb"/>
<circle cx="1858.7" cy="1858.6" r="8.5" fill="#0a86d8"/>
<circle cx="1886.6" cy="1858.6" r="8.5" fill="#0a86d8"/>
<circle cx="1864.3" cy="1858.6" r="8.5" fill="#0a86d8"/>
<circle cx="1881" cy="1858.6" r="8.5" fill="#0a86d8"/>
<circle cx="1869.9" cy="1858.6" r="8.5" fill="#0a86d8"/>
<circle cx="1875.4" cy="1858.6" r="8.5" fill="#0a86d8"/>
<circle cx="1882.4" cy="1753.5" r="8.5" fill="#0a86d8"/>
<circle cx="1864.2" cy="1740.8" r="8.5" fill="#0a86d8"/>
<circle cx="1873.5" cy="1702.1" r="8.5" fill="#0a86d8"/>
<circle cx="1882.4" cy="1682.9" r="8.5" fill="#0a86d8"/>
<circle cx="1864.2" cy="1681.5" r="8.5" fill="#0a86d8"/>
<circle cx="1873.5" cy="1652.5" r="8.5" fill="#0a86d8"/>
<circle cx="1882.4" cy="1634.4" r="8.5" fill="#0a86d8"/>
<circle cx="1864.2" cy="1631.2" r="8.5" fill="#0a86d8"/>
<circle cx="1873.5" cy="1601.5" r="8.5" fill="#0a86d8"/>
<circle cx="1861.1" cy="1592.2" r="8.5" fill="#0a86d8"/>
<circle cx="1885.5" cy="1592.2" r="8.5" fill="#0a86d8"/>
<circle cx="1873.5" cy="1572" r="8.5" fill="#0a86d8"/>
<circle cx="1873.5" cy="1509.6" r="8.5" fill="#0a86d8"/>
<circle cx="1924.9" cy="1858.6" r="8.5" fill="#ff2a03"/>
<circle cx="1949.9" cy="1858.6" r="8.5" fill="#ff2a03"/>
<circle cx="1937.5" cy="1858.6" r="8.5" fill="#ff2a03"/>
<circle cx="1946.1" cy="1661.7" r="8.5" fill="#ff2a03"/>
<circle cx="1928" cy="1645.1" r="8.5" fill="#ff2a03"/>
<circle cx="1937.2" cy="1568.6" r="8.5" fill="#ff2a03"/>
<circle cx="1937.2" cy="1536" r="8.5" fill="#ff2a03"/>
<circle cx="1928" cy="1510" r="8.5" fill="#ff2a03"/>
<circle cx="1946.1" cy="1500" r="8.5" fill="#ff2a03"/>
</g>
<line x1="1224.4" y1="1879.5" x2="1351.5" y2="1879.5" stroke="#000" stroke-width="2.9"/>
<text transform="translate(1290.1 1923.5) scale(1 1.05)" font-size="26.6" text-anchor="middle">S<tspan dy="-11.5" font-size="18.6">WT</tspan></text>
<line x1="1421.6" y1="1879.5" x2="1548.3" y2="1879.5" stroke="#000" stroke-width="2.9"/>
<text transform="translate(1487.7 1923.5) scale(1 1.05)" font-size="26.6" text-anchor="middle">S<tspan dy="-11.5" font-size="18.6">D</tspan></text>
<line x1="1613.1" y1="1879.5" x2="1740.2" y2="1879.5" stroke="#000" stroke-width="2.9"/>
<text transform="translate(1680.3 1923.5) scale(1 1.05)" font-size="26.6" text-anchor="middle">S<tspan dy="-11.5" font-size="18.6">O</tspan></text>
<line x1="1810.1" y1="1879.5" x2="1936.9" y2="1879.5" stroke="#000" stroke-width="2.9"/>
<text transform="translate(1880.5 1923.5) scale(1 1.05)" font-size="26.6" text-anchor="middle">S<tspan dy="-11.5" font-size="18.6">B</tspan></text>
<text transform="translate(1231.1 1956.6) scale(1 1.05)" font-size="26.6" text-anchor="middle">56</text>
<text transform="translate(1294.9 1956.6) scale(1 1.05)" font-size="26.6" text-anchor="middle">58</text>
<text transform="translate(1359.5 1956.6) scale(1 1.05)" font-size="26.6" text-anchor="middle">67</text>
<text transform="translate(1423.4 1956.6) scale(1 1.05)" font-size="26.6" text-anchor="middle">52</text>
<text transform="translate(1488.7 1956.6) scale(1 1.05)" font-size="26.6" text-anchor="middle">67</text>
<text transform="translate(1554 1956.6) scale(1 1.05)" font-size="26.6" text-anchor="middle">83</text>
<text transform="translate(1618.2 1956.6) scale(1 1.05)" font-size="26.6" text-anchor="middle">56</text>
<text transform="translate(1682.6 1956.6) scale(1 1.05)" font-size="26.6" text-anchor="middle">58</text>
<text transform="translate(1747.4 1956.6) scale(1 1.05)" font-size="26.6" text-anchor="middle">75</text>
<text transform="translate(1811.5 1956.6) scale(1 1.05)" font-size="26.6" text-anchor="middle">50</text>
<text transform="translate(1875.9 1956.6) scale(1 1.05)" font-size="26.6" text-anchor="middle">57</text>
<text transform="translate(1941 1956.6) scale(1 1.05)" font-size="26.6" text-anchor="middle">50</text>
<text transform="translate(1038.9 1937.4) scale(1 1.05)" font-size="27.4">Responders</text>
<text transform="translate(1108 1973) scale(1 1.05)" font-size="27.2" text-anchor="middle">(%)</text>
<line x1="1430" y1="1426.2" x2="1553.9" y2="1426.2" stroke="#000" stroke-width="2.7"/>
<text transform="translate(1491.4 1428.1) scale(1 1)" font-size="31" text-anchor="middle" stroke="#000" stroke-width="0.35">*</text>
<line x1="1491.8" y1="1452.2" x2="1553.7" y2="1452.2" stroke="#000" stroke-width="2.7"/>
<text transform="translate(1521.8 1454.1) scale(1 1)" font-size="31" text-anchor="middle" stroke="#000" stroke-width="0.35">*</text>
<line x1="1626.4" y1="1426.4" x2="1750.1" y2="1426.4" stroke="#000" stroke-width="2.7"/>
<text transform="translate(1688.1 1428.3) scale(1 1)" font-size="31" text-anchor="middle" stroke="#000" stroke-width="0.35">*</text>
<line x1="1690.9" y1="1452.1" x2="1752.5" y2="1452.1" stroke="#000" stroke-width="2.7"/>
<text transform="translate(1721.3 1454) scale(1 1)" font-size="31" text-anchor="middle" stroke="#000" stroke-width="0.35">*</text>
<line x1="1820.4" y1="1426.4" x2="1944.4" y2="1426.4" stroke="#000" stroke-width="2.7"/>
<text transform="translate(1882 1428.3) scale(1 1)" font-size="31" text-anchor="middle" stroke="#000" stroke-width="0.35">*</text>
<line x1="1882" y1="1452.1" x2="1943.7" y2="1452.1" stroke="#000" stroke-width="2.7"/>
<text transform="translate(1912.5 1454) scale(1 1)" font-size="31" text-anchor="middle" stroke="#000" stroke-width="0.35">*</text>
<g stroke="#000" stroke-width="1.6">
<circle cx="1998.9" cy="1479.5" r="8.5" fill="#7ad6fb"/>
<circle cx="1998.9" cy="1518.9" r="8.5" fill="#0a86d8"/>
<circle cx="1998.9" cy="1558.6" r="8.5" fill="#ff2a03"/>
</g>
<text transform="translate(2020 1488.3) scale(1 1.05)" font-size="26.8">V<tspan dy="8" font-size="18.5">N</tspan><tspan dy="-8">LR</tspan></text>
<text transform="translate(2020 1527.7) scale(1 1.05)" font-size="26.8">V<tspan dy="8" font-size="18.5">N</tspan><tspan dy="-8">HR</tspan></text>
<text transform="translate(2020 1567.4) scale(1 1.05)" font-size="26.8">V<tspan dy="8" font-size="18.5">R</tspan></text>
</g>
<g id="d1">
<g fill="none" stroke="#ababab" stroke-width="3.1">
<path d="M200.7 2502.4V2268.9"/>
<path d="M266 2502.4V2177.1"/>
<path d="M396.5 2502.4V2359.3"/>
<path d="M461.8 2502.4V2207.1"/>
<path d="M592.4 2502.4V2238"/>
<path d="M636.1 2502.4V2488.5H680.1V2502.4"/>
<path d="M657.8 2488.5V2220.7"/>
<path d="M788.3 2502.4V2318.3"/>
<path d="M853.6 2502.4V2241.6"/>
</g>
<g fill="none" stroke="#b9b9b9" stroke-width="2.6" stroke-linecap="round">
<path d="M189.7 2268.9H211.7"/>
<path d="M255 2177.1H277"/>
<path d="M385.5 2359.3H407.5"/>
<path d="M450.8 2207.1H472.8"/>
<path d="M581.4 2238H603.4"/>
<path d="M646.8 2220.7H668.8"/>
<path d="M777.3 2318.3H799.3"/>
<path d="M842.6 2241.6H864.6"/>
</g>
<g stroke="#4a4a4a" stroke-width="1.3" fill="none">
<path d="M157 2108.1V2502.4H965"/>
<path d="M157 2399.7h-5.5M157 2369.3h-5.5M157 2347.8h-5.5M157 2331.1h-5.5M157 2317.5h-5.5M157 2306h-5.5M157 2296h-5.5M157 2287.2h-5.5M157 2227.9h-5.5M157 2197.9h-5.5M157 2176.6h-5.5M157 2160.1h-5.5M157 2146.5h-5.5M157 2135.1h-5.5M157 2125.2h-5.5M157 2116.5h-5.5M157 2459h-5.5M157 2467.3h-5.5M157 2478h-5.5M157 2489h-5.5M157 2108.7h-11M157 2279.3h-11M157 2451.5h-11M157 2502.4h-5.5"/>
</g>
<text transform="translate(136.7 2119.4) scale(1 1.05)" font-size="26.6" text-anchor="end">100</text>
<text transform="translate(136.7 2290) scale(1 1.05)" font-size="26.6" text-anchor="end">10</text>
<text transform="translate(136.7 2462.2) scale(1 1.05)" font-size="26.6" text-anchor="end">1</text>
<text transform="translate(136.7 2513.1) scale(1 1.05)" font-size="26.6" text-anchor="end">0</text>
<text transform="translate(65.6 2306.6) rotate(-90) scale(1 1.05)" font-size="27.3" text-anchor="middle">CD4<tspan dy="-10" font-size="20">+</tspan><tspan dy="10" dx="2.5">T</tspan><tspan dy="6.5" font-size="18.5">EM2</tspan><tspan dy="-6.5"> cells (%)</tspan></text>
<text transform="translate(514.8 2065.4) scale(1 1.05)" font-size="26.6" text-anchor="middle">T0</text>
<path d="M158 2430.1H959.3" stroke="#000" stroke-width="2.1" stroke-linecap="round" stroke-dasharray="0.01 2.15" fill="none"/>
<path d="M158 2429.5H959.3" stroke="#149a44" stroke-width="2.3" stroke-linecap="round" stroke-dasharray="0.01 2.15" fill="none"/>
<g stroke="#000" stroke-width="1.6">
<circle cx="187.2" cy="2502.4" r="8.5" fill="#7ad6fb"/>
<circle cx="215.2" cy="2502.4" r="8.5" fill="#7ad6fb"/>
<circle cx="192.8" cy="2502.4" r="8.5" fill="#7ad6fb"/>
<circle cx="209.6" cy="2502.4" r="8.5" fill="#7ad6fb"/>
<circle cx="198.4" cy="2502.4" r="8.5" fill="#7ad6fb"/>
<circle cx="204" cy="2502.4" r="8.5" fill="#7ad6fb"/>
<circle cx="185.7" cy="2489.5" r="8.5" fill="#7ad6fb"/>
<circle cx="200.7" cy="2401.9" r="8.5" fill="#7ad6fb"/>
<circle cx="200.7" cy="2268.9" r="8.5" fill="#7ad6fb"/>
<circle cx="258.8" cy="2502.4" r="8.5" fill="#0a86d8"/>
<circle cx="259.9" cy="2502.4" r="8.5" fill="#0a86d8"/>
<circle cx="261" cy="2502.4" r="8.5" fill="#0a86d8"/>
<circle cx="262" cy="2502.4" r="8.5" fill="#0a86d8"/>
<circle cx="263.1" cy="2502.4" r="8.5" fill="#0a86d8"/>
<circle cx="264.2" cy="2502.4" r="8.5" fill="#0a86d8"/>
<circle cx="265.3" cy="2502.4" r="8.5" fill="#0a86d8"/>
<circle cx="266.3" cy="2502.4" r="8.5" fill="#0a86d8"/>
<circle cx="267.4" cy="2502.4" r="8.5" fill="#0a86d8"/>
<circle cx="268.5" cy="2502.4" r="8.5" fill="#0a86d8"/>
<circle cx="269.6" cy="2502.4" r="8.5" fill="#0a86d8"/>
<circle cx="270.6" cy="2502.4" r="8.5" fill="#0a86d8"/>
<circle cx="271.7" cy="2502.4" r="8.5" fill="#0a86d8"/>
<circle cx="272.8" cy="2502.4" r="8.5" fill="#0a86d8"/>
<circle cx="251.1" cy="2502.4" r="8.5" fill="#0a86d8"/>
<circle cx="280.5" cy="2502.4" r="8.5" fill="#0a86d8"/>
<circle cx="254.3" cy="2502.4" r="8.5" fill="#0a86d8"/>
<circle cx="277.3" cy="2502.4" r="8.5" fill="#0a86d8"/>
<circle cx="254.3" cy="2502.4" r="8.5" fill="#0a86d8"/>
<circle cx="277.3" cy="2502.4" r="8.5" fill="#0a86d8"/>
<circle cx="266" cy="2284.2" r="8.5" fill="#0a86d8"/>
<circle cx="266" cy="2259.4" r="8.5" fill="#0a86d8"/>
<circle cx="266" cy="2219.3" r="8.5" fill="#0a86d8"/>
<circle cx="266" cy="2177.1" r="8.5" fill="#0a86d8"/>
<circle cx="316.4" cy="2502.4" r="8.5" fill="#ff2a03"/>
<circle cx="319.9" cy="2502.4" r="8.5" fill="#ff2a03"/>
<circle cx="323.4" cy="2502.4" r="8.5" fill="#ff2a03"/>
<circle cx="326.9" cy="2502.4" r="8.5" fill="#ff2a03"/>
<circle cx="330.9" cy="2502.4" r="8.5" fill="#ff2a03"/>
<circle cx="343.1" cy="2502.4" r="8.5" fill="#ff2a03"/>
<circle cx="346.1" cy="2502.4" r="8.5" fill="#ff2a03"/>
<circle cx="381.6" cy="2502.4" r="8.5" fill="#7ad6fb"/>
<circle cx="411.4" cy="2502.4" r="8.5" fill="#7ad6fb"/>
<circle cx="387.6" cy="2502.4" r="8.5" fill="#7ad6fb"/>
<circle cx="405.4" cy="2502.4" r="8.5" fill="#7ad6fb"/>
<circle cx="393.5" cy="2502.4" r="8.5" fill="#7ad6fb"/>
<circle cx="399.5" cy="2502.4" r="8.5" fill="#7ad6fb"/>
<circle cx="396.5" cy="2444.2" r="8.5" fill="#7ad6fb"/>
<circle cx="396.5" cy="2386.6" r="8.5" fill="#7ad6fb"/>
<circle cx="396.5" cy="2359.3" r="8.5" fill="#7ad6fb"/>
<circle cx="446.5" cy="2502.4" r="8.5" fill="#0a86d8"/>
<circle cx="476.7" cy="2502.4" r="8.5" fill="#0a86d8"/>
<circle cx="452.5" cy="2502.4" r="8.5" fill="#0a86d8"/>
<circle cx="470.7" cy="2502.4" r="8.5" fill="#0a86d8"/>
<circle cx="458.6" cy="2502.4" r="8.5" fill="#0a86d8"/>
<circle cx="464.6" cy="2502.4" r="8.5" fill="#0a86d8"/>
<circle cx="461.8" cy="2437.9" r="8.5" fill="#0a86d8"/>
<circle cx="452.4" cy="2306" r="8.5" fill="#0a86d8"/>
<circle cx="470.9" cy="2300.5" r="8.5" fill="#0a86d8"/>
<circle cx="461.8" cy="2207.1" r="8.5" fill="#0a86d8"/>
<circle cx="512.5" cy="2502.4" r="8.5" fill="#ff2a03"/>
<circle cx="516" cy="2502.4" r="8.5" fill="#ff2a03"/>
<circle cx="519.5" cy="2502.4" r="8.5" fill="#ff2a03"/>
<circle cx="523" cy="2502.4" r="8.5" fill="#ff2a03"/>
<circle cx="527" cy="2502.4" r="8.5" fill="#ff2a03"/>
<circle cx="539.3" cy="2502.4" r="8.5" fill="#ff2a03"/>
<circle cx="542.3" cy="2502.4" r="8.5" fill="#ff2a03"/>
<circle cx="585.5" cy="2502.4" r="8.5" fill="#7ad6fb"/>
<circle cx="586.6" cy="2502.4" r="8.5" fill="#7ad6fb"/>
<circle cx="587.7" cy="2502.4" r="8.5" fill="#7ad6fb"/>
<circle cx="588.7" cy="2502.4" r="8.5" fill="#7ad6fb"/>
<circle cx="589.8" cy="2502.4" r="8.5" fill="#7ad6fb"/>
<circle cx="590.9" cy="2502.4" r="8.5" fill="#7ad6fb"/>
<circle cx="592" cy="2502.4" r="8.5" fill="#7ad6fb"/>
<circle cx="593" cy="2502.4" r="8.5" fill="#7ad6fb"/>
<circle cx="594.1" cy="2502.4" r="8.5" fill="#7ad6fb"/>
<circle cx="595.2" cy="2502.4" r="8.5" fill="#7ad6fb"/>
<circle cx="596.3" cy="2502.4" r="8.5" fill="#7ad6fb"/>
<circle cx="597.3" cy="2502.4" r="8.5" fill="#7ad6fb"/>
<circle cx="598.4" cy="2502.4" r="8.5" fill="#7ad6fb"/>
<circle cx="599.5" cy="2502.4" r="8.5" fill="#7ad6fb"/>
<circle cx="579" cy="2502.4" r="8.5" fill="#7ad6fb"/>
<circle cx="606" cy="2502.4" r="8.5" fill="#7ad6fb"/>
<circle cx="582.2" cy="2502.4" r="8.5" fill="#7ad6fb"/>
<circle cx="602.8" cy="2502.4" r="8.5" fill="#7ad6fb"/>
<circle cx="581" cy="2502.4" r="8.5" fill="#7ad6fb"/>
<circle cx="604" cy="2502.4" r="8.5" fill="#7ad6fb"/>
<circle cx="592.4" cy="2396" r="8.5" fill="#7ad6fb"/>
<circle cx="592.4" cy="2370.5" r="8.5" fill="#7ad6fb"/>
<circle cx="592.4" cy="2261.9" r="8.5" fill="#7ad6fb"/>
<circle cx="592.4" cy="2238" r="8.5" fill="#7ad6fb"/>
<circle cx="643.6" cy="2502.4" r="8.5" fill="#0a86d8"/>
<circle cx="672.3" cy="2502.4" r="8.5" fill="#0a86d8"/>
<circle cx="649.3" cy="2502.4" r="8.5" fill="#0a86d8"/>
<circle cx="666.6" cy="2502.4" r="8.5" fill="#0a86d8"/>
<circle cx="655.1" cy="2502.4" r="8.5" fill="#0a86d8"/>
<circle cx="660.8" cy="2502.4" r="8.5" fill="#0a86d8"/>
<circle cx="657.8" cy="2466.1" r="8.5" fill="#0a86d8"/>
<circle cx="648.3" cy="2302.5" r="8.5" fill="#0a86d8"/>
<circle cx="666.8" cy="2287.4" r="8.5" fill="#0a86d8"/>
<circle cx="657.8" cy="2283.5" r="8.5" fill="#0a86d8"/>
<circle cx="657.8" cy="2263.3" r="8.5" fill="#0a86d8"/>
<circle cx="657.8" cy="2220.7" r="8.5" fill="#0a86d8"/>
<circle cx="708.2" cy="2502.4" r="8.5" fill="#ff2a03"/>
<circle cx="711.7" cy="2502.4" r="8.5" fill="#ff2a03"/>
<circle cx="715.2" cy="2502.4" r="8.5" fill="#ff2a03"/>
<circle cx="718.7" cy="2502.4" r="8.5" fill="#ff2a03"/>
<circle cx="722.7" cy="2502.4" r="8.5" fill="#ff2a03"/>
<circle cx="735.6" cy="2502.4" r="8.5" fill="#ff2a03"/>
<circle cx="738.6" cy="2502.4" r="8.5" fill="#ff2a03"/>
<circle cx="777.3" cy="2502.4" r="8.5" fill="#7ad6fb"/>
<circle cx="799.7" cy="2502.4" r="8.5" fill="#7ad6fb"/>
<circle cx="781.8" cy="2502.4" r="8.5" fill="#7ad6fb"/>
<circle cx="795.2" cy="2502.4" r="8.5" fill="#7ad6fb"/>
<circle cx="786.3" cy="2502.4" r="8.5" fill="#7ad6fb"/>
<circle cx="790.7" cy="2502.4" r="8.5" fill="#7ad6fb"/>
<circle cx="788.3" cy="2318.3" r="8.5" fill="#7ad6fb"/>
<circle cx="847.6" cy="2502.4" r="8.5" fill="#0a86d8"/>
<circle cx="848.7" cy="2502.4" r="8.5" fill="#0a86d8"/>
<circle cx="849.8" cy="2502.4" r="8.5" fill="#0a86d8"/>
<circle cx="850.8" cy="2502.4" r="8.5" fill="#0a86d8"/>
<circle cx="851.9" cy="2502.4" r="8.5" fill="#0a86d8"/>
<circle cx="853" cy="2502.4" r="8.5" fill="#0a86d8"/>
<circle cx="854.1" cy="2502.4" r="8.5" fill="#0a86d8"/>
<circle cx="855.1" cy="2502.4" r="8.5" fill="#0a86d8"/>
<circle cx="856.2" cy="2502.4" r="8.5" fill="#0a86d8"/>
<circle cx="857.3" cy="2502.4" r="8.5" fill="#0a86d8"/>
<circle cx="858.4" cy="2502.4" r="8.5" fill="#0a86d8"/>
<circle cx="859.4" cy="2502.4" r="8.5" fill="#0a86d8"/>
<circle cx="860.5" cy="2502.4" r="8.5" fill="#0a86d8"/>
<circle cx="861.6" cy="2502.4" r="8.5" fill="#0a86d8"/>
<circle cx="843.2" cy="2502.4" r="8.5" fill="#0a86d8"/>
<circle cx="866" cy="2502.4" r="8.5" fill="#0a86d8"/>
<circle cx="846.4" cy="2502.4" r="8.5" fill="#0a86d8"/>
<circle cx="862.8" cy="2502.4" r="8.5" fill="#0a86d8"/>
<circle cx="843.1" cy="2502.4" r="8.5" fill="#0a86d8"/>
<circle cx="866.1" cy="2502.4" r="8.5" fill="#0a86d8"/>
<circle cx="841.4" cy="2486.7" r="8.5" fill="#0a86d8"/>
<circle cx="853.6" cy="2323.8" r="8.5" fill="#0a86d8"/>
<circle cx="853.6" cy="2305.2" r="8.5" fill="#0a86d8"/>
<circle cx="853.6" cy="2270.6" r="8.5" fill="#0a86d8"/>
<circle cx="853.6" cy="2241.6" r="8.5" fill="#0a86d8"/>
<circle cx="903.6" cy="2502.4" r="8.5" fill="#ff2a03"/>
<circle cx="907.1" cy="2502.4" r="8.5" fill="#ff2a03"/>
<circle cx="910.6" cy="2502.4" r="8.5" fill="#ff2a03"/>
<circle cx="914.1" cy="2502.4" r="8.5" fill="#ff2a03"/>
<circle cx="918.1" cy="2502.4" r="8.5" fill="#ff2a03"/>
<circle cx="931.8" cy="2502.4" r="8.5" fill="#ff2a03"/>
<circle cx="934.8" cy="2502.4" r="8.5" fill="#ff2a03"/>
</g>
<line x1="201" y1="2519.9" x2="328" y2="2519.9" stroke="#000" stroke-width="2.9"/>
<text transform="translate(266 2559.5) scale(1 1.05)" font-size="26.6" text-anchor="middle">S<tspan dy="-11.5" font-size="18.6">WT</tspan></text>
<line x1="398" y1="2519.9" x2="524.6" y2="2519.9" stroke="#000" stroke-width="2.9"/>
<text transform="translate(464 2559.5) scale(1 1.05)" font-size="26.6" text-anchor="middle">S<tspan dy="-11.5" font-size="18.6">D</tspan></text>
<line x1="589.4" y1="2519.9" x2="716.4" y2="2519.9" stroke="#000" stroke-width="2.9"/>
<text transform="translate(656.1 2559.5) scale(1 1.05)" font-size="26.6" text-anchor="middle">S<tspan dy="-11.5" font-size="18.6">O</tspan></text>
<line x1="786.2" y1="2519.9" x2="913.6" y2="2519.9" stroke="#000" stroke-width="2.9"/>
<text transform="translate(856.8 2559.5) scale(1 1.05)" font-size="26.6" text-anchor="middle">S<tspan dy="-11.5" font-size="18.6">B</tspan></text>
<text transform="translate(201.7 2600.8) scale(1 1.05)" font-size="26.6" text-anchor="middle">8</text>
<text transform="translate(265.3 2600.8) scale(1 1.05)" font-size="26.6" text-anchor="middle">17</text>
<text transform="translate(333.3 2600.8) scale(1 1.05)" font-size="26.6" text-anchor="middle">0</text>
<text transform="translate(399.7 2600.8) scale(1 1.05)" font-size="26.6" text-anchor="middle">9</text>
<text transform="translate(462.5 2600.8) scale(1 1.05)" font-size="26.6" text-anchor="middle">14</text>
<text transform="translate(531.3 2600.8) scale(1 1.05)" font-size="26.6" text-anchor="middle">0</text>
<text transform="translate(594.2 2600.8) scale(1 1.05)" font-size="26.6" text-anchor="middle">16</text>
<text transform="translate(658.8 2600.8) scale(1 1.05)" font-size="26.6" text-anchor="middle">21</text>
<text transform="translate(729.3 2600.8) scale(1 1.05)" font-size="26.6" text-anchor="middle">0</text>
<text transform="translate(795.6 2600.8) scale(1 1.05)" font-size="26.6" text-anchor="middle">4</text>
<text transform="translate(856 2600.8) scale(1 1.05)" font-size="26.6" text-anchor="middle">17</text>
<text transform="translate(927.6 2600.8) scale(1 1.05)" font-size="26.6" text-anchor="middle">0</text>
<text transform="translate(1.6 2581.6) scale(1 1.05)" font-size="27.4">Responders</text>
<text transform="translate(69.8 2612.4) scale(1 1.05)" font-size="27.2" text-anchor="middle">(%)</text>
</g>
<g id="d2">
<g fill="none" stroke="#ababab" stroke-width="3.1">
<path d="M1214.3 2500.8V2345H1257.6V2500.8" stroke-width="1.6"/>
<path d="M1235.6 2345V2280"/>
<path d="M1277.8 2500.8V2412.4H1321.1V2500.8"/>
<path d="M1299.1 2412.4V2284"/>
<path d="M1404.9 2500.8V2325.5H1448.5V2500.8"/>
<path d="M1426.5 2325.5V2230.1"/>
<path d="M1469.5 2500.8V2385.5H1512.4V2500.8"/>
<path d="M1490.4 2385.5V2299.9"/>
<path d="M1597 2500.8V2349.3H1640.1V2500.8"/>
<path d="M1618.6 2349.3V2193"/>
<path d="M1660.7 2500.8V2336H1704.6V2500.8"/>
<path d="M1682.3 2336V2230.4"/>
<path d="M1788.5 2500.8V2377.5H1831.3V2500.8"/>
<path d="M1809.7 2377.5V2250.3"/>
<path d="M1851.9 2500.8V2400H1895.8V2500.8"/>
<path d="M1873.5 2400V2338.8"/>
</g>
<g fill="none" stroke="#b9b9b9" stroke-width="2.6" stroke-linecap="round">
<path d="M1415.5 2230.1H1437.5"/>
<path d="M1479.4 2299.9H1501.4"/>
<path d="M1607.6 2193H1629.6"/>
<path d="M1671.3 2230.4H1693.3"/>
<path d="M1798.7 2250.3H1820.7"/>
<path d="M1862.5 2338.8H1884.5"/>
</g>
<g stroke="#4a4a4a" stroke-width="1.3" fill="none">
<path d="M1193.4 2111.5V2500.8H1982.4"/>
<path d="M1193.4 2399.2h-5.5M1193.4 2369.5h-5.5M1193.4 2348.4h-5.5M1193.4 2332h-5.5M1193.4 2318.6h-5.5M1193.4 2307.3h-5.5M1193.4 2297.5h-5.5M1193.4 2288.8h-5.5M1193.4 2230.2h-5.5M1193.4 2200.5h-5.5M1193.4 2179.4h-5.5M1193.4 2163h-5.5M1193.4 2149.6h-5.5M1193.4 2138.3h-5.5M1193.4 2128.5h-5.5M1193.4 2119.8h-5.5M1193.4 2457.6h-5.5M1193.4 2465.8h-5.5M1193.4 2476.5h-5.5M1193.4 2487.4h-5.5M1193.4 2112.1h-11M1193.4 2281.1h-11M1193.4 2450.1h-11M1193.4 2500.8h-5.5"/>
</g>
<text transform="translate(1170.8 2121.9) scale(1 1.05)" font-size="26.6" text-anchor="end">100</text>
<text transform="translate(1170.8 2291.6) scale(1 1.05)" font-size="26.6" text-anchor="end">10</text>
<text transform="translate(1170.8 2456.5) scale(1 1.05)" font-size="26.6" text-anchor="end">1</text>
<text transform="translate(1170.8 2514.5) scale(1 1.05)" font-size="26.6" text-anchor="end">0</text>
<text transform="translate(1100.5 2307.4) rotate(-90) scale(1 1.05)" font-size="27.3" text-anchor="middle">CD4<tspan dy="-10" font-size="20">+</tspan><tspan dy="10" dx="2.5">T</tspan><tspan dy="6.5" font-size="18.5">EM2</tspan><tspan dy="-6.5"> cells (%)</tspan></text>
<text transform="translate(1617.5 2065.2) scale(1 1.05)" font-size="26.6" text-anchor="middle">6M</text>
<path d="M1194.4 2448.2H1976.3" stroke="#0aa24c" stroke-width="2.3" stroke-linecap="round" stroke-dasharray="0.01 2.15" fill="none"/>
<path d="M1194.4 2446.8H1976.3" stroke="#000" stroke-width="2.3" stroke-linecap="round" stroke-dasharray="0.01 2.15" fill="none"/>
<g stroke="#000" stroke-width="1.6">
<circle cx="1222.1" cy="2500.8" r="8.5" fill="#80cef4"/>
<circle cx="1249.8" cy="2500.8" r="8.5" fill="#80cef4"/>
<circle cx="1227.6" cy="2500.8" r="8.5" fill="#80cef4"/>
<circle cx="1244.3" cy="2500.8" r="8.5" fill="#80cef4"/>
<circle cx="1233.2" cy="2500.8" r="8.5" fill="#80cef4"/>
<circle cx="1238.7" cy="2500.8" r="8.5" fill="#80cef4"/>
<circle cx="1235.6" cy="2445.9" r="8.5" fill="#80cef4"/>
<circle cx="1235.6" cy="2424.3" r="8.5" fill="#80cef4"/>
<circle cx="1244.7" cy="2403.7" r="8.5" fill="#80cef4"/>
<circle cx="1226.5" cy="2391.8" r="8.5" fill="#80cef4"/>
<circle cx="1235.6" cy="2382" r="8.5" fill="#80cef4"/>
<circle cx="1235.6" cy="2350.2" r="8.5" fill="#80cef4"/>
<circle cx="1223.4" cy="2343.4" r="8.5" fill="#80cef4"/>
<circle cx="1247.8" cy="2341.8" r="8.5" fill="#80cef4"/>
<circle cx="1235.6" cy="2316" r="8.5" fill="#80cef4"/>
<circle cx="1240.8" cy="2292.6" r="8.5" fill="#80cef4"/>
<circle cx="1229.7" cy="2287.4" r="8.5" fill="#80cef4"/>
<circle cx="1244.7" cy="2281.1" r="8.5" fill="#80cef4"/>
<circle cx="1226.5" cy="2275.8" r="8.5" fill="#80cef4"/>
<circle cx="1284.9" cy="2500.8" r="8.5" fill="#1a82cc"/>
<circle cx="1313.7" cy="2500.8" r="8.5" fill="#1a82cc"/>
<circle cx="1290.7" cy="2500.8" r="8.5" fill="#1a82cc"/>
<circle cx="1307.9" cy="2500.8" r="8.5" fill="#1a82cc"/>
<circle cx="1296.4" cy="2500.8" r="8.5" fill="#1a82cc"/>
<circle cx="1302.2" cy="2500.8" r="8.5" fill="#1a82cc"/>
<circle cx="1308.2" cy="2467.9" r="8.5" fill="#1a82cc"/>
<circle cx="1290" cy="2459.9" r="8.5" fill="#1a82cc"/>
<circle cx="1299.1" cy="2401.2" r="8.5" fill="#1a82cc"/>
<circle cx="1308.2" cy="2356.5" r="8.5" fill="#1a82cc"/>
<circle cx="1290" cy="2343.4" r="8.5" fill="#1a82cc"/>
<circle cx="1299.1" cy="2310.4" r="8.5" fill="#1a82cc"/>
<circle cx="1308.2" cy="2284.2" r="8.5" fill="#1a82cc"/>
<circle cx="1290" cy="2281.4" r="8.5" fill="#1a82cc"/>
<circle cx="1349.5" cy="2500.8" r="8.5" fill="#e8391f"/>
<circle cx="1353" cy="2500.8" r="8.5" fill="#e8391f"/>
<circle cx="1356.5" cy="2500.8" r="8.5" fill="#e8391f"/>
<circle cx="1360" cy="2500.8" r="8.5" fill="#e8391f"/>
<circle cx="1364" cy="2500.8" r="8.5" fill="#e8391f"/>
<circle cx="1374.5" cy="2500.8" r="8.5" fill="#e8391f"/>
<circle cx="1377.5" cy="2500.8" r="8.5" fill="#e8391f"/>
<circle cx="1413" cy="2500.8" r="8.5" fill="#80cef4"/>
<circle cx="1441.1" cy="2500.8" r="8.5" fill="#80cef4"/>
<circle cx="1418.6" cy="2500.8" r="8.5" fill="#80cef4"/>
<circle cx="1435.5" cy="2500.8" r="8.5" fill="#80cef4"/>
<circle cx="1424.2" cy="2500.8" r="8.5" fill="#80cef4"/>
<circle cx="1429.9" cy="2500.8" r="8.5" fill="#80cef4"/>
<circle cx="1438.7" cy="2491.3" r="8.5" fill="#80cef4"/>
<circle cx="1435.6" cy="2419.7" r="8.5" fill="#80cef4"/>
<circle cx="1417.1" cy="2403" r="8.5" fill="#80cef4"/>
<circle cx="1417.1" cy="2350.2" r="8.5" fill="#80cef4"/>
<circle cx="1435.6" cy="2341.5" r="8.5" fill="#80cef4"/>
<circle cx="1445" cy="2327.9" r="8.5" fill="#80cef4"/>
<circle cx="1417.1" cy="2322.6" r="8.5" fill="#80cef4"/>
<circle cx="1426.5" cy="2302.5" r="8.5" fill="#80cef4"/>
<circle cx="1438.7" cy="2291.6" r="8.5" fill="#80cef4"/>
<circle cx="1414.7" cy="2288.1" r="8.5" fill="#80cef4"/>
<circle cx="1426.5" cy="2277.6" r="8.5" fill="#80cef4"/>
<circle cx="1426.5" cy="2230.1" r="8.5" fill="#80cef4"/>
<circle cx="1480.4" cy="2500.8" r="8.5" fill="#1a82cc"/>
<circle cx="1500.4" cy="2500.8" r="8.5" fill="#1a82cc"/>
<circle cx="1484.4" cy="2500.8" r="8.5" fill="#1a82cc"/>
<circle cx="1496.4" cy="2500.8" r="8.5" fill="#1a82cc"/>
<circle cx="1488.4" cy="2500.8" r="8.5" fill="#1a82cc"/>
<circle cx="1492.4" cy="2500.8" r="8.5" fill="#1a82cc"/>
<circle cx="1490.4" cy="2405.8" r="8.5" fill="#1a82cc"/>
<circle cx="1490.4" cy="2378.5" r="8.5" fill="#1a82cc"/>
<circle cx="1495.6" cy="2333.6" r="8.5" fill="#1a82cc"/>
<circle cx="1485.2" cy="2324.4" r="8.5" fill="#1a82cc"/>
<circle cx="1499.5" cy="2320.2" r="8.5" fill="#1a82cc"/>
<circle cx="1481.3" cy="2319.7" r="8.5" fill="#1a82cc"/>
<circle cx="1490.4" cy="2299.9" r="8.5" fill="#1a82cc"/>
<circle cx="1540.3" cy="2500.8" r="8.5" fill="#e8391f"/>
<circle cx="1543.8" cy="2500.8" r="8.5" fill="#e8391f"/>
<circle cx="1547.3" cy="2500.8" r="8.5" fill="#e8391f"/>
<circle cx="1550.8" cy="2500.8" r="8.5" fill="#e8391f"/>
<circle cx="1554.8" cy="2500.8" r="8.5" fill="#e8391f"/>
<circle cx="1565.5" cy="2500.8" r="8.5" fill="#e8391f"/>
<circle cx="1568.5" cy="2500.8" r="8.5" fill="#e8391f"/>
<circle cx="1604.1" cy="2500.8" r="8.5" fill="#80cef4"/>
<circle cx="1633" cy="2500.8" r="8.5" fill="#80cef4"/>
<circle cx="1609.9" cy="2500.8" r="8.5" fill="#80cef4"/>
<circle cx="1627.2" cy="2500.8" r="8.5" fill="#80cef4"/>
<circle cx="1615.7" cy="2500.8" r="8.5" fill="#80cef4"/>
<circle cx="1621.4" cy="2500.8" r="8.5" fill="#80cef4"/>
<circle cx="1630.2" cy="2491.2" r="8.5" fill="#80cef4"/>
<circle cx="1618.6" cy="2457.6" r="8.5" fill="#80cef4"/>
<circle cx="1609.3" cy="2413.1" r="8.5" fill="#80cef4"/>
<circle cx="1627.5" cy="2407.9" r="8.5" fill="#80cef4"/>
<circle cx="1618.6" cy="2375" r="8.5" fill="#80cef4"/>
<circle cx="1609.3" cy="2353.6" r="8.5" fill="#80cef4"/>
<circle cx="1627.5" cy="2342" r="8.5" fill="#80cef4"/>
<circle cx="1618.6" cy="2311.1" r="8.5" fill="#80cef4"/>
<circle cx="1606.2" cy="2308.7" r="8.5" fill="#80cef4"/>
<circle cx="1630.2" cy="2297.5" r="8.5" fill="#80cef4"/>
<circle cx="1618.6" cy="2281.1" r="8.5" fill="#80cef4"/>
<circle cx="1618.6" cy="2193" r="8.5" fill="#80cef4"/>
<circle cx="1668.5" cy="2500.8" r="8.5" fill="#1a82cc"/>
<circle cx="1695.7" cy="2500.8" r="8.5" fill="#1a82cc"/>
<circle cx="1673.9" cy="2500.8" r="8.5" fill="#1a82cc"/>
<circle cx="1690.3" cy="2500.8" r="8.5" fill="#1a82cc"/>
<circle cx="1679.4" cy="2500.8" r="8.5" fill="#1a82cc"/>
<circle cx="1684.8" cy="2500.8" r="8.5" fill="#1a82cc"/>
<circle cx="1682.3" cy="2424.4" r="8.5" fill="#1a82cc"/>
<circle cx="1673" cy="2401.4" r="8.5" fill="#1a82cc"/>
<circle cx="1691.2" cy="2384" r="8.5" fill="#1a82cc"/>
<circle cx="1691.2" cy="2324.2" r="8.5" fill="#1a82cc"/>
<circle cx="1673" cy="2312.2" r="8.5" fill="#1a82cc"/>
<circle cx="1673" cy="2281.4" r="8.5" fill="#1a82cc"/>
<circle cx="1691.2" cy="2273.6" r="8.5" fill="#1a82cc"/>
<circle cx="1682.3" cy="2259.8" r="8.5" fill="#1a82cc"/>
<circle cx="1682.3" cy="2230.4" r="8.5" fill="#1a82cc"/>
<circle cx="1731.9" cy="2500.8" r="8.5" fill="#e8391f"/>
<circle cx="1735.4" cy="2500.8" r="8.5" fill="#e8391f"/>
<circle cx="1738.9" cy="2500.8" r="8.5" fill="#e8391f"/>
<circle cx="1742.4" cy="2500.8" r="8.5" fill="#e8391f"/>
<circle cx="1746.4" cy="2500.8" r="8.5" fill="#e8391f"/>
<circle cx="1757.8" cy="2500.8" r="8.5" fill="#e8391f"/>
<circle cx="1760.8" cy="2500.8" r="8.5" fill="#e8391f"/>
<circle cx="1796.3" cy="2500.8" r="8.5" fill="#80cef4"/>
<circle cx="1823.2" cy="2500.8" r="8.5" fill="#80cef4"/>
<circle cx="1801.7" cy="2500.8" r="8.5" fill="#80cef4"/>
<circle cx="1817.8" cy="2500.8" r="8.5" fill="#80cef4"/>
<circle cx="1807.1" cy="2500.8" r="8.5" fill="#80cef4"/>
<circle cx="1812.4" cy="2500.8" r="8.5" fill="#80cef4"/>
<circle cx="1809.7" cy="2423.7" r="8.5" fill="#80cef4"/>
<circle cx="1800.5" cy="2403.5" r="8.5" fill="#80cef4"/>
<circle cx="1818.7" cy="2391.5" r="8.5" fill="#80cef4"/>
<circle cx="1809.7" cy="2372.1" r="8.5" fill="#80cef4"/>
<circle cx="1800.5" cy="2343.3" r="8.5" fill="#80cef4"/>
<circle cx="1818.7" cy="2341.2" r="8.5" fill="#80cef4"/>
<circle cx="1809.7" cy="2324.2" r="8.5" fill="#80cef4"/>
<circle cx="1809.7" cy="2294.8" r="8.5" fill="#80cef4"/>
<circle cx="1809.7" cy="2250.3" r="8.5" fill="#80cef4"/>
<circle cx="1858.7" cy="2500.8" r="8.5" fill="#1a82cc"/>
<circle cx="1887.6" cy="2500.8" r="8.5" fill="#1a82cc"/>
<circle cx="1864.5" cy="2500.8" r="8.5" fill="#1a82cc"/>
<circle cx="1881.8" cy="2500.8" r="8.5" fill="#1a82cc"/>
<circle cx="1870.3" cy="2500.8" r="8.5" fill="#1a82cc"/>
<circle cx="1876" cy="2500.8" r="8.5" fill="#1a82cc"/>
<circle cx="1878.6" cy="2401.1" r="8.5" fill="#1a82cc"/>
<circle cx="1867.3" cy="2399.4" r="8.5" fill="#1a82cc"/>
<circle cx="1882.7" cy="2389.8" r="8.5" fill="#1a82cc"/>
<circle cx="1864.2" cy="2385.7" r="8.5" fill="#1a82cc"/>
<circle cx="1855.3" cy="2373.3" r="8.5" fill="#1a82cc"/>
<circle cx="1882.7" cy="2371" r="8.5" fill="#1a82cc"/>
<circle cx="1873.5" cy="2338.8" r="8.5" fill="#1a82cc"/>
<circle cx="1922.8" cy="2500.8" r="8.5" fill="#e8391f"/>
<circle cx="1926.3" cy="2500.8" r="8.5" fill="#e8391f"/>
<circle cx="1929.8" cy="2500.8" r="8.5" fill="#e8391f"/>
<circle cx="1933.3" cy="2500.8" r="8.5" fill="#e8391f"/>
<circle cx="1937.3" cy="2500.8" r="8.5" fill="#e8391f"/>
<circle cx="1948.6" cy="2500.8" r="8.5" fill="#e8391f"/>
<circle cx="1951.6" cy="2500.8" r="8.5" fill="#e8391f"/>
</g>
<line x1="1227.9" y1="2520.2" x2="1355.3" y2="2520.2" stroke="#000" stroke-width="2.9"/>
<text transform="translate(1290.1 2559.2) scale(1 1.05)" font-size="26.6" text-anchor="middle">S<tspan dy="-11.5" font-size="18.6">WT</tspan></text>
<line x1="1424.8" y1="2520.2" x2="1552.2" y2="2520.2" stroke="#000" stroke-width="2.9"/>
<text transform="translate(1487.7 2559.2) scale(1 1.05)" font-size="26.6" text-anchor="middle">S<tspan dy="-11.5" font-size="18.6">D</tspan></text>
<line x1="1616.8" y1="2520.2" x2="1743.6" y2="2520.2" stroke="#000" stroke-width="2.9"/>
<text transform="translate(1680.3 2559.2) scale(1 1.05)" font-size="26.6" text-anchor="middle">S<tspan dy="-11.5" font-size="18.6">O</tspan></text>
<line x1="1813.2" y1="2520.2" x2="1940.6" y2="2520.2" stroke="#000" stroke-width="2.9"/>
<text transform="translate(1880.5 2559.2) scale(1 1.05)" font-size="26.6" text-anchor="middle">S<tspan dy="-11.5" font-size="18.6">B</tspan></text>
<text transform="translate(1232.8 2600.9) scale(1 1.05)" font-size="26.6" text-anchor="middle">52</text>
<text transform="translate(1294.9 2600.9) scale(1 1.05)" font-size="26.6" text-anchor="middle">25</text>
<text transform="translate(1365.4 2600.9) scale(1 1.05)" font-size="26.6" text-anchor="middle">0</text>
<text transform="translate(1431.1 2600.9) scale(1 1.05)" font-size="26.6" text-anchor="middle">52</text>
<text transform="translate(1498.1 2600.9) scale(1 1.05)" font-size="26.6" text-anchor="middle">33</text>
<text transform="translate(1559 2600.9) scale(1 1.05)" font-size="26.6" text-anchor="middle">0</text>
<text transform="translate(1626.1 2600.9) scale(1 1.05)" font-size="26.6" text-anchor="middle">40</text>
<text transform="translate(1692.2 2600.9) scale(1 1.05)" font-size="26.6" text-anchor="middle">42</text>
<text transform="translate(1757.7 2600.9) scale(1 1.05)" font-size="26.6" text-anchor="middle">0</text>
<text transform="translate(1824.8 2600.9) scale(1 1.05)" font-size="26.6" text-anchor="middle">38</text>
<text transform="translate(1891 2600.9) scale(1 1.05)" font-size="26.6" text-anchor="middle">35</text>
<text transform="translate(1957.4 2600.9) scale(1 1.05)" font-size="26.6" text-anchor="middle">0</text>
<text transform="translate(1040.7 2581.6) scale(1 1.05)" font-size="27.4">Responders</text>
<text transform="translate(1110 2612.4) scale(1 1.05)" font-size="27.2" text-anchor="middle">(%)</text>
<line x1="1245.4" y1="2113.4" x2="1368.9" y2="2113.4" stroke="#000" stroke-width="2.7"/>
<text transform="translate(1307.6 2115.3) scale(1 1)" font-size="31" text-anchor="middle" stroke="#000" stroke-width="0.35" letter-spacing="1.2">**</text>
<line x1="1300.9" y1="2138.7" x2="1368.9" y2="2138.7" stroke="#000" stroke-width="2.7"/>
<text transform="translate(1334.4 2140.6) scale(1 1)" font-size="31" text-anchor="middle" stroke="#000" stroke-width="0.35">*</text>
<line x1="1447.5" y1="2113.4" x2="1571" y2="2113.4" stroke="#000" stroke-width="2.7"/>
<text transform="translate(1509.7 2115.3) scale(1 1)" font-size="31" text-anchor="middle" stroke="#000" stroke-width="0.35" letter-spacing="1.2">**</text>
<line x1="1506.8" y1="2138.7" x2="1574.8" y2="2138.7" stroke="#000" stroke-width="2.7"/>
<text transform="translate(1539.5 2140.6) scale(1 1)" font-size="31" text-anchor="middle" stroke="#000" stroke-width="0.35">*</text>
<line x1="1641.5" y1="2113.2" x2="1765.5" y2="2113.2" stroke="#000" stroke-width="2.7"/>
<text transform="translate(1704 2115.1) scale(1 1)" font-size="31" text-anchor="middle" stroke="#000" stroke-width="0.35" letter-spacing="1.2">**</text>
<line x1="1700.8" y1="2138.6" x2="1769" y2="2138.6" stroke="#000" stroke-width="2.7"/>
<text transform="translate(1733.7 2140.5) scale(1 1)" font-size="31" text-anchor="middle" stroke="#000" stroke-width="0.35">*</text>
<line x1="1840.9" y1="2113.2" x2="1965" y2="2113.2" stroke="#000" stroke-width="2.7"/>
<text transform="translate(1902.6 2115.1) scale(1 1)" font-size="31" text-anchor="middle" stroke="#000" stroke-width="0.35">*</text>
<line x1="1896.4" y1="2138.6" x2="1964.3" y2="2138.6" stroke="#000" stroke-width="2.7"/>
<text transform="translate(1929 2140.5) scale(1 1)" font-size="31" text-anchor="middle" stroke="#000" stroke-width="0.35">*</text>
<g stroke="#000" stroke-width="1.6">
<circle cx="1998.5" cy="2121.8" r="8.5" fill="#7ad6fb"/>
<circle cx="1998.5" cy="2161.5" r="8.5" fill="#0a86d8"/>
<circle cx="1998.5" cy="2200.9" r="8.5" fill="#ff2a03"/>
</g>
<text transform="translate(2017 2130.6) scale(1 1.05)" font-size="26.8">V<tspan dy="8" font-size="18.5">N</tspan><tspan dy="-8">LR</tspan></text>
<text transform="translate(2017 2170.3) scale(1 1.05)" font-size="26.8">V<tspan dy="8" font-size="18.5">N</tspan><tspan dy="-8">HR</tspan></text>
<text transform="translate(2017 2209.7) scale(1 1.05)" font-size="26.8">V<tspan dy="8" font-size="18.5">R</tspan></text>
</g>
</svg></body></html>
